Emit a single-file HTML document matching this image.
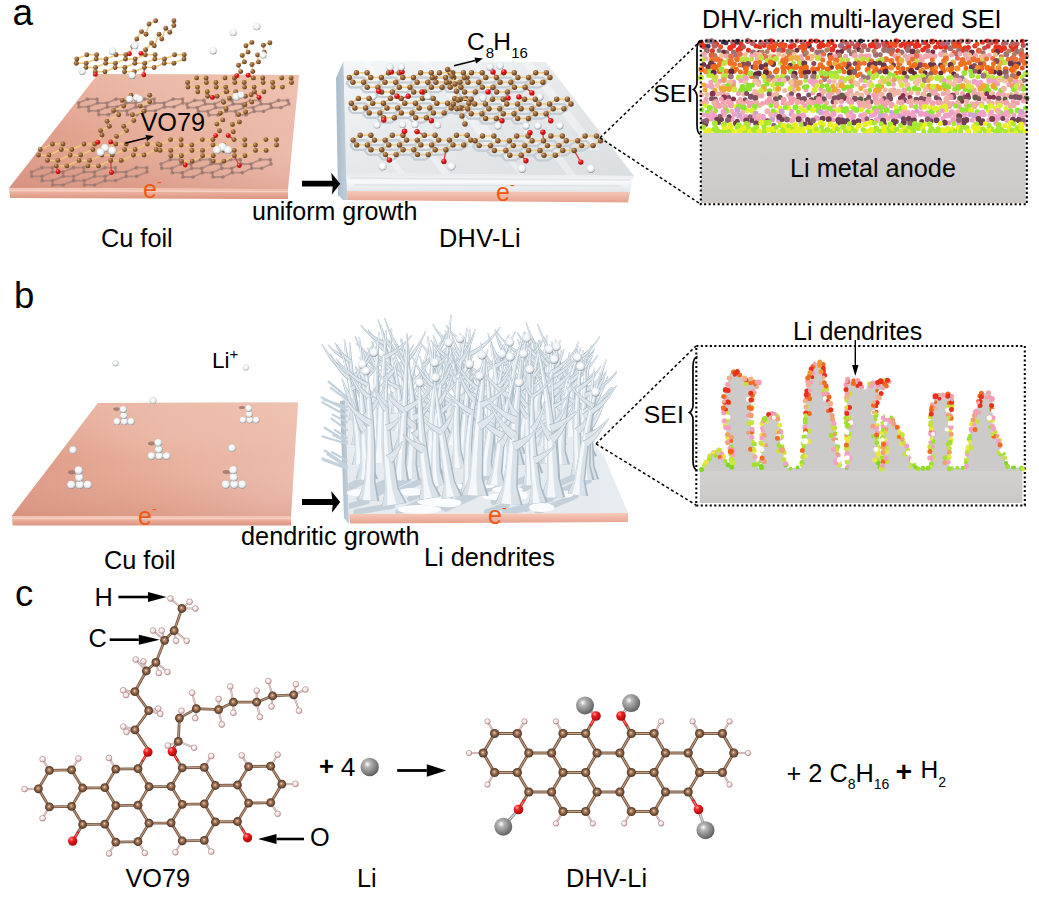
<!DOCTYPE html>
<html><head><meta charset="utf-8"><style>
html,body{margin:0;padding:0;background:#fff;width:1039px;height:902px;overflow:hidden}
svg{display:block}
text{font-family:"Liberation Sans", sans-serif}
</style></head><body>
<svg width="1039" height="902" viewBox="0 0 1039 902">
<defs>
<radialGradient id="gC" cx="0.5" cy="0.5" r="0.5" fx="0.45" fy="0.42"><stop offset="0" stop-color="#fff4e8"/><stop offset="0.18" stop-color="#c4987a"/><stop offset="0.55" stop-color="#8c6246"/><stop offset="1" stop-color="#4e3222"/></radialGradient>
<radialGradient id="gCa" cx="0.35" cy="0.3" r="0.75"><stop offset="0" stop-color="#d8a878"/><stop offset="0.4" stop-color="#9c6a3c"/><stop offset="1" stop-color="#5a381a"/></radialGradient>
<radialGradient id="gO" cx="0.35" cy="0.3" r="0.75"><stop offset="0" stop-color="#ff9a9a"/><stop offset="0.35" stop-color="#ee1c1c"/><stop offset="1" stop-color="#a00808"/></radialGradient>
<radialGradient id="gH" cx="0.35" cy="0.3" r="0.8"><stop offset="0" stop-color="#ffffff"/><stop offset="0.6" stop-color="#f4dede"/><stop offset="1" stop-color="#b89090"/></radialGradient>
<radialGradient id="gLi" cx="0.38" cy="0.35" r="0.7"><stop offset="0" stop-color="#ffffff"/><stop offset="0.25" stop-color="#b4b4b4"/><stop offset="1" stop-color="#5a5a5a"/></radialGradient>
<radialGradient id="gW" cx="0.45" cy="0.4" r="0.6"><stop offset="0" stop-color="#ffffff"/><stop offset="0.55" stop-color="#f2f5f7"/><stop offset="0.85" stop-color="#c4ccd2"/><stop offset="1" stop-color="#7a8088"/></radialGradient>
<linearGradient id="cuTop" x1="0" y1="0.3" x2="1" y2="0.5"><stop offset="0" stop-color="#dc9784"/><stop offset="0.55" stop-color="#e4a893"/><stop offset="1" stop-color="#ecbcac"/></linearGradient>
<linearGradient id="cuShade" x1="0" y1="0" x2="0" y2="1"><stop offset="0" stop-color="#f4cfc0" stop-opacity="0.45"/><stop offset="0.5" stop-color="#f4cfc0" stop-opacity="0"/><stop offset="1" stop-color="#c97d6a" stop-opacity="0.3"/></linearGradient>
<radialGradient id="cuHi" cx="0.55" cy="0.3" r="0.5"><stop offset="0" stop-color="#f6d0c0" stop-opacity="0.35"/><stop offset="1" stop-color="#f6d0c0" stop-opacity="0"/></radialGradient>
<linearGradient id="cuEdge" x1="0" y1="0" x2="0" y2="1"><stop offset="0" stop-color="#f4c8b8"/><stop offset="0.35" stop-color="#ecb29f"/><stop offset="1" stop-color="#da957f"/></linearGradient>
<linearGradient id="slabTop" x1="0" y1="0" x2="1" y2="1"><stop offset="0" stop-color="#f4f6f7"/><stop offset="0.5" stop-color="#e6e9eb"/><stop offset="1" stop-color="#dadee1"/></linearGradient>
<linearGradient id="slabFront" x1="0" y1="0" x2="0" y2="1"><stop offset="0" stop-color="#e4e8eb"/><stop offset="0.45" stop-color="#f8fafb"/><stop offset="1" stop-color="#dfe5e9"/></linearGradient>
<linearGradient id="slabSide" x1="0" y1="0" x2="1" y2="0"><stop offset="0" stop-color="#a9bccb"/><stop offset="1" stop-color="#c3d0da"/></linearGradient>
<linearGradient id="cuEdge2" x1="0" y1="0" x2="0" y2="1"><stop offset="0" stop-color="#f6cabb"/><stop offset="0.5" stop-color="#efb6a4"/><stop offset="1" stop-color="#e4a28e"/></linearGradient>
<linearGradient id="anode" x1="0" y1="0" x2="0" y2="1"><stop offset="0" stop-color="#d3d1d0"/><stop offset="1" stop-color="#cbc9c8"/></linearGradient>
</defs>
<polygon points="98,74 299,75 288,189 9,188" fill="url(#cuTop)"/>
<polygon points="98,74 299,75 288,189 9,188" fill="url(#cuShade)"/>
<polygon points="98,74 299,75 288,189 9,188" fill="url(#cuHi)"/>
<polygon points="9,188 288,189 288,199 10,198" fill="url(#cuEdge)"/>
<line x1="9" y1="190.5" x2="288" y2="191.5" stroke="#f8d8cc" stroke-width="1.5" opacity="0.8"/>
<polygon points="98,403 298,402.5 291,516 11.7,516" fill="url(#cuTop)"/>
<polygon points="98,403 298,402.5 291,516 11.7,516" fill="url(#cuShade)"/>
<polygon points="98,403 298,402.5 291,516 11.7,516" fill="url(#cuHi)"/>
<polygon points="11.7,516 291,516 291,525.5 12.7,525.5" fill="url(#cuEdge)"/>
<line x1="11.7" y1="518.5" x2="291" y2="518.5" stroke="#f8d8cc" stroke-width="1.5" opacity="0.8"/>
<clipPath id="plateA"><polygon points="98,74 299,75 288,189 9,188"/></clipPath><g clip-path="url(#plateA)">
<path d="M87.6 99.1L97.1 99.1M87.6 99.1L78.5 103M97.1 99.1L97.5 103M97.5 103L88.4 106.9M97.5 103L107 103M88.4 106.9L78.9 106.9M88.4 106.9L88.8 110.8M78.9 106.9L78.5 103M107 103L107.4 106.9M107 103L116.1 99.1M107.4 106.9L98.3 110.8M107.4 106.9L116.9 106.9M98.3 110.8L88.8 110.8M98.3 110.8L98.8 114.7M116.1 99.1L125.6 99.1M125.6 99.1L126 103M126 103L116.9 106.9M126 103L135.5 103M116.9 106.9L117.3 110.8M117.3 110.8L108.3 114.7M117.3 110.8L126.8 110.8M108.3 114.7L98.8 114.7M135.5 103L135.9 106.9M135.5 103L144.6 99.1M135.9 106.9L126.8 110.8M135.9 106.9L145.4 106.9M126.8 110.8L127.3 114.7M144.6 99.1L154.1 99.1M154.1 99.1L154.5 103M154.5 103L145.4 106.9M154.5 103L164 103M145.4 106.9L145.8 110.8M145.8 110.8L136.8 114.7M145.8 110.8L155.3 110.8M136.8 114.7L127.3 114.7M164 103L164.4 106.9M164 103L173.1 99.1M164.4 106.9L155.3 110.8M164.4 106.9L173.9 106.9M173.1 99.1L182.6 99.1M182.6 99.1L183 103M183 103L173.9 106.9" stroke="#a08078" stroke-width="1.8" opacity="0.75"/>
<path d="M87.6 99.1h0M97.1 99.1h0M97.5 103h0M88.4 106.9h0M78.9 106.9h0M78.5 103h0M107 103h0M107.4 106.9h0M98.3 110.8h0M88.8 110.8h0M116.1 99.1h0M125.6 99.1h0M126 103h0M116.9 106.9h0M117.3 110.8h0M108.3 114.7h0M98.8 114.7h0M135.5 103h0M135.9 106.9h0M126.8 110.8h0M144.6 99.1h0M154.1 99.1h0M154.5 103h0M145.4 106.9h0M145.8 110.8h0M136.8 114.7h0M127.3 114.7h0M164 103h0M164.4 106.9h0M155.3 110.8h0M173.1 99.1h0M182.6 99.1h0M183 103h0M173.9 106.9h0" stroke="#94746c" stroke-width="3.7" stroke-linecap="round" opacity="0.7"/>
<path d="M194.8 100.4L204.1 100.4M194.8 100.4L186.7 104M204.1 100.4L205.3 104M205.3 104L197.2 107.6M205.3 104L214.6 104M197.2 107.6L187.9 107.6M197.2 107.6L198.4 111.3M187.9 107.6L186.7 104M214.6 104L215.8 107.6M214.6 104L222.7 100.4M215.8 107.6L207.7 111.3M215.8 107.6L225.1 107.6M207.7 111.3L198.4 111.3M207.7 111.3L208.9 114.9M222.7 100.4L232 100.4M232 100.4L233.2 104M233.2 104L225.1 107.6M233.2 104L242.5 104M225.1 107.6L226.3 111.3M226.3 111.3L218.2 114.9M226.3 111.3L235.6 111.3M218.2 114.9L208.9 114.9M242.5 104L243.7 107.6M242.5 104L250.6 100.4M243.7 107.6L235.6 111.3M243.7 107.6L253 107.6M235.6 111.3L236.8 114.9M250.6 100.4L259.9 100.4M259.9 100.4L261.1 104M261.1 104L253 107.6M261.1 104L270.4 104M253 107.6L254.2 111.3M254.2 111.3L246.1 114.9M254.2 111.3L263.5 111.3M246.1 114.9L236.8 114.9M270.4 104L271.6 107.6M270.4 104L278.5 100.4M271.6 107.6L263.5 111.3M271.6 107.6L280.9 107.6M278.5 100.4L287.8 100.4M287.8 100.4L289 104M289 104L280.9 107.6" stroke="#a08078" stroke-width="1.8" opacity="0.75"/>
<path d="M194.8 100.4h0M204.1 100.4h0M205.3 104h0M197.2 107.6h0M187.9 107.6h0M186.7 104h0M214.6 104h0M215.8 107.6h0M207.7 111.3h0M198.4 111.3h0M222.7 100.4h0M232 100.4h0M233.2 104h0M225.1 107.6h0M226.3 111.3h0M218.2 114.9h0M208.9 114.9h0M242.5 104h0M243.7 107.6h0M235.6 111.3h0M250.6 100.4h0M259.9 100.4h0M261.1 104h0M253 107.6h0M254.2 111.3h0M246.1 114.9h0M236.8 114.9h0M270.4 104h0M271.6 107.6h0M263.5 111.3h0M278.5 100.4h0M287.8 100.4h0M289 104h0M280.9 107.6h0" stroke="#94746c" stroke-width="3.7" stroke-linecap="round" opacity="0.7"/>
<path d="M41.9 167.7L52.4 167.7M41.9 167.7L31.5 172M52.4 167.7L52.5 172M52.5 172L42.1 176.3M52.5 172L63 172M42.1 176.3L31.6 176.3M42.1 176.3L42.1 180.7M31.6 176.3L31.5 172M63 172L63.1 176.3M63 172L73.4 167.7M63.1 176.3L52.6 180.7M63.1 176.3L73.6 176.3M52.6 180.7L42.1 180.7M52.6 180.7L52.7 185M73.4 167.7L83.9 167.7M83.9 167.7L84 172M84 172L73.6 176.3M84 172L94.5 172M73.6 176.3L73.6 180.7M73.6 180.7L63.2 185M73.6 180.7L84.1 180.7M63.2 185L52.7 185M94.5 172L94.6 176.3M94.5 172L104.9 167.7M94.6 176.3L84.1 180.7M94.6 176.3L105.1 176.3M84.1 180.7L84.2 185M104.9 167.7L115.4 167.7M115.4 167.7L115.5 172M115.5 172L105.1 176.3M115.5 172L126 172M105.1 176.3L105.1 180.7M105.1 180.7L94.7 185M105.1 180.7L115.6 180.7M94.7 185L84.2 185M126 172L126.1 176.3M126 172L136.4 167.7M126.1 176.3L115.6 180.7M126.1 176.3L136.6 176.3M136.4 167.7L146.9 167.7M146.9 167.7L147 172M147 172L136.6 176.3" stroke="#a08078" stroke-width="1.8" opacity="0.75"/>
<path d="M41.9 167.7h0M52.4 167.7h0M52.5 172h0M42.1 176.3h0M31.6 176.3h0M31.5 172h0M63 172h0M63.1 176.3h0M52.6 180.7h0M42.1 180.7h0M73.4 167.7h0M83.9 167.7h0M84 172h0M73.6 176.3h0M73.6 180.7h0M63.2 185h0M52.7 185h0M94.5 172h0M94.6 176.3h0M84.1 180.7h0M104.9 167.7h0M115.4 167.7h0M115.5 172h0M105.1 176.3h0M105.1 180.7h0M94.7 185h0M84.2 185h0M126 172h0M126.1 176.3h0M115.6 180.7h0M136.4 167.7h0M146.9 167.7h0M147 172h0M136.6 176.3h0" stroke="#94746c" stroke-width="3.7" stroke-linecap="round" opacity="0.7"/>
<path d="M170.3 159.7L180.3 159.7M170.3 159.7L161 164M180.3 159.7L181 164M181 164L171.7 168.3M181 164L191 164M171.7 168.3L161.7 168.3M171.7 168.3L172.3 172.7M161.7 168.3L161 164M191 164L191.7 168.3M191 164L200.3 159.7M191.7 168.3L182.3 172.7M191.7 168.3L201.7 168.3M182.3 172.7L172.3 172.7M182.3 172.7L183 177M200.3 159.7L210.3 159.7M210.3 159.7L211 164M211 164L201.7 168.3M211 164L221 164M201.7 168.3L202.3 172.7M202.3 172.7L193 177M202.3 172.7L212.3 172.7M193 177L183 177M221 164L221.7 168.3M221 164L230.3 159.7M221.7 168.3L212.3 172.7M221.7 168.3L231.7 168.3M212.3 172.7L213 177M230.3 159.7L240.3 159.7M240.3 159.7L241 164M241 164L231.7 168.3M241 164L251 164M231.7 168.3L232.3 172.7M232.3 172.7L223 177M232.3 172.7L242.3 172.7M223 177L213 177M251 164L251.7 168.3M251 164L260.3 159.7M251.7 168.3L242.3 172.7M251.7 168.3L261.7 168.3M260.3 159.7L270.3 159.7M270.3 159.7L271 164M271 164L261.7 168.3" stroke="#a08078" stroke-width="1.8" opacity="0.75"/>
<path d="M170.3 159.7h0M180.3 159.7h0M181 164h0M171.7 168.3h0M161.7 168.3h0M161 164h0M191 164h0M191.7 168.3h0M182.3 172.7h0M172.3 172.7h0M200.3 159.7h0M210.3 159.7h0M211 164h0M201.7 168.3h0M202.3 172.7h0M193 177h0M183 177h0M221 164h0M221.7 168.3h0M212.3 172.7h0M230.3 159.7h0M240.3 159.7h0M241 164h0M231.7 168.3h0M232.3 172.7h0M223 177h0M213 177h0M251 164h0M251.7 168.3h0M242.3 172.7h0M260.3 159.7h0M270.3 159.7h0M271 164h0M261.7 168.3h0" stroke="#94746c" stroke-width="3.7" stroke-linecap="round" opacity="0.7"/>
</g>
<path d="M86.8 54.8L96.6 54.8M86.8 54.8L76.8 59M96.6 54.8L96.2 59M96.2 59L86.2 63.2M96.2 59L106 59M86.2 63.2L76.4 63.2M86.2 63.2L85.9 67.5M76.4 63.2L76.8 59M106 59L105.7 63.2M106 59L116.1 54.8M105.7 63.2L95.6 67.5M105.7 63.2L115.4 63.2M95.6 67.5L85.9 67.5M95.6 67.5L95.3 71.7M116.1 54.8L125.8 54.8M125.8 54.8L125.5 59M125.5 59L115.4 63.2M125.5 59L135.2 59M115.4 63.2L115.1 67.5M115.1 67.5L105 71.7M115.1 67.5L124.9 67.5M105 71.7L95.3 71.7M135.2 59L134.9 63.2M135.2 59L145.3 54.8M134.9 63.2L124.9 67.5M134.9 63.2L144.7 63.2M124.9 67.5L124.5 71.7M145.3 54.8L155.1 54.8M155.1 54.8L154.8 59M154.8 59L144.7 63.2M154.8 59L164.5 59M144.7 63.2L144.4 67.5M144.4 67.5L134.3 71.7M144.4 67.5L154.1 67.5M134.3 71.7L124.5 71.7M164.5 59L164.2 63.2M164.5 59L174.6 54.8M164.2 63.2L154.1 67.5M164.2 63.2L173.9 63.2M174.6 54.8L184.3 54.8M184.3 54.8L184 59M184 59L173.9 63.2M129.4 53.8L132.8 46.4M132.8 46.4L136.8 39M136.8 39L141.5 31.6M141.5 31.6L146 34.3M146 34.3L149 24M149 24L155.7 20.8M140.9 53.4L145.6 49.8M145.6 49.8L151.6 43M151.6 43L154.3 45.7M154.3 45.7L159 34.3M159 34.3L161.8 39M161.8 39L165.8 28.2M165.8 28.2L169.8 32.2M169.8 32.2L173.9 25.5M173.9 25.5L173.9 20.8" stroke="#f0c878" stroke-width="1.4"/>
<path d="M129.4 53.8L125.8 54.8M140.9 53.4L145.3 54.8M95.3 74.4L95.3 71.7M143.8 74.7L144.4 67.5" stroke="#e04040" stroke-width="1.3"/>
<circle cx="86.8" cy="54.8" r="2.45" fill="url(#gCa)"/>
<circle cx="96.6" cy="54.8" r="2.45" fill="url(#gCa)"/>
<circle cx="96.2" cy="59" r="2.45" fill="url(#gCa)"/>
<circle cx="86.2" cy="63.2" r="2.45" fill="url(#gCa)"/>
<circle cx="76.4" cy="63.2" r="2.45" fill="url(#gCa)"/>
<circle cx="76.8" cy="59" r="2.45" fill="url(#gCa)"/>
<circle cx="106" cy="59" r="2.45" fill="url(#gCa)"/>
<circle cx="105.7" cy="63.2" r="2.45" fill="url(#gCa)"/>
<circle cx="95.6" cy="67.5" r="2.45" fill="url(#gCa)"/>
<circle cx="85.9" cy="67.5" r="2.45" fill="url(#gCa)"/>
<circle cx="116.1" cy="54.8" r="2.45" fill="url(#gCa)"/>
<circle cx="125.8" cy="54.8" r="2.45" fill="url(#gCa)"/>
<circle cx="125.5" cy="59" r="2.45" fill="url(#gCa)"/>
<circle cx="115.4" cy="63.2" r="2.45" fill="url(#gCa)"/>
<circle cx="115.1" cy="67.5" r="2.45" fill="url(#gCa)"/>
<circle cx="105" cy="71.7" r="2.45" fill="url(#gCa)"/>
<circle cx="95.3" cy="71.7" r="2.45" fill="url(#gCa)"/>
<circle cx="135.2" cy="59" r="2.45" fill="url(#gCa)"/>
<circle cx="134.9" cy="63.2" r="2.45" fill="url(#gCa)"/>
<circle cx="124.9" cy="67.5" r="2.45" fill="url(#gCa)"/>
<circle cx="145.3" cy="54.8" r="2.45" fill="url(#gCa)"/>
<circle cx="155.1" cy="54.8" r="2.45" fill="url(#gCa)"/>
<circle cx="154.8" cy="59" r="2.45" fill="url(#gCa)"/>
<circle cx="144.7" cy="63.2" r="2.45" fill="url(#gCa)"/>
<circle cx="144.4" cy="67.5" r="2.45" fill="url(#gCa)"/>
<circle cx="134.3" cy="71.7" r="2.45" fill="url(#gCa)"/>
<circle cx="124.5" cy="71.7" r="2.45" fill="url(#gCa)"/>
<circle cx="164.5" cy="59" r="2.45" fill="url(#gCa)"/>
<circle cx="164.2" cy="63.2" r="2.45" fill="url(#gCa)"/>
<circle cx="154.1" cy="67.5" r="2.45" fill="url(#gCa)"/>
<circle cx="174.6" cy="54.8" r="2.45" fill="url(#gCa)"/>
<circle cx="184.3" cy="54.8" r="2.45" fill="url(#gCa)"/>
<circle cx="184" cy="59" r="2.45" fill="url(#gCa)"/>
<circle cx="173.9" cy="63.2" r="2.45" fill="url(#gCa)"/>
<circle cx="132.8" cy="46.4" r="2.45" fill="url(#gCa)"/>
<circle cx="136.8" cy="39" r="2.45" fill="url(#gCa)"/>
<circle cx="141.5" cy="31.6" r="2.45" fill="url(#gCa)"/>
<circle cx="146" cy="34.3" r="2.45" fill="url(#gCa)"/>
<circle cx="149" cy="24" r="2.45" fill="url(#gCa)"/>
<circle cx="155.7" cy="20.8" r="2.45" fill="url(#gCa)"/>
<circle cx="145.6" cy="49.8" r="2.45" fill="url(#gCa)"/>
<circle cx="151.6" cy="43" r="2.45" fill="url(#gCa)"/>
<circle cx="154.3" cy="45.7" r="2.45" fill="url(#gCa)"/>
<circle cx="159" cy="34.3" r="2.45" fill="url(#gCa)"/>
<circle cx="161.8" cy="39" r="2.45" fill="url(#gCa)"/>
<circle cx="165.8" cy="28.2" r="2.45" fill="url(#gCa)"/>
<circle cx="169.8" cy="32.2" r="2.45" fill="url(#gCa)"/>
<circle cx="173.9" cy="25.5" r="2.45" fill="url(#gCa)"/>
<circle cx="173.9" cy="20.8" r="2.45" fill="url(#gCa)"/>
<circle cx="129.4" cy="53.8" r="2.45" fill="url(#gO)"/>
<circle cx="140.9" cy="53.4" r="2.45" fill="url(#gO)"/>
<circle cx="95.3" cy="74.4" r="2.45" fill="url(#gO)"/>
<circle cx="143.8" cy="74.7" r="2.45" fill="url(#gO)"/>
<circle cx="112.6" cy="51.1" r="3.6" fill="url(#gW)"/>
<circle cx="82.2" cy="71.3" r="3.6" fill="url(#gW)"/>
<circle cx="134.8" cy="45.7" r="3.6" fill="url(#gW)"/>
<circle cx="132.1" cy="75.4" r="3.6" fill="url(#gW)"/>
<path d="M196.6 77.9L206.1 77.9M196.6 77.9L187.6 82.5M206.1 77.9L206.4 82.5M206.4 82.5L197.4 87.1M206.4 82.5L215.9 82.5M197.4 87.1L187.9 87.1M197.4 87.1L197.8 91.7M187.9 87.1L187.6 82.5M215.9 82.5L216.3 87.1M215.9 82.5L225 77.9M216.3 87.1L207.2 91.7M216.3 87.1L225.7 87.1M207.2 91.7L197.8 91.7M207.2 91.7L207.6 96.3M225 77.9L234.4 77.9M234.4 77.9L234.8 82.5M234.8 82.5L225.7 87.1M234.8 82.5L244.2 82.5M225.7 87.1L226.1 91.7M226.1 91.7L217.1 96.3M226.1 91.7L235.6 91.7M217.1 96.3L207.6 96.3M244.2 82.5L244.6 87.1M244.2 82.5L253.3 77.9M244.6 87.1L235.6 91.7M244.6 87.1L254.1 87.1M235.6 91.7L236 96.3M253.3 77.9L262.8 77.9M262.8 77.9L263.1 82.5M263.1 82.5L254.1 87.1M263.1 82.5L272.6 82.5M254.1 87.1L254.5 91.7M254.5 91.7L245.4 96.3M254.5 91.7L263.9 91.7M245.4 96.3L236 96.3M272.6 82.5L273 87.1M272.6 82.5L281.7 77.9M273 87.1L263.9 91.7M273 87.1L282.4 87.1M281.7 77.9L291.1 77.9M291.1 77.9L291.5 82.5M291.5 82.5L282.4 87.1M236.8 75.7L240.7 71.6M240.7 71.6L238.5 65.2M238.5 65.2L244.4 61.9M244.4 61.9L242.2 55.4M242.2 55.4L248.1 52.1M248.1 52.1L245.9 45.7M245.9 45.7L251.9 42.4M248.1 75.2L252.8 71.5M252.8 71.5L251.9 64.5M251.9 64.5L258.5 61.9M258.5 61.9L257.6 54.9M257.6 54.9L264.2 52.3M264.2 52.3L263.3 45.3M263.3 45.3L269.9 42.7" stroke="#f0c878" stroke-width="1.4"/>
<path d="M236.8 75.7L234.4 77.9M248.1 75.2L253.3 77.9M212.4 97.4L217.1 96.3M259 97.4L254.5 91.7" stroke="#e04040" stroke-width="1.3"/>
<circle cx="196.6" cy="77.9" r="2.45" fill="url(#gCa)"/>
<circle cx="206.1" cy="77.9" r="2.45" fill="url(#gCa)"/>
<circle cx="206.4" cy="82.5" r="2.45" fill="url(#gCa)"/>
<circle cx="197.4" cy="87.1" r="2.45" fill="url(#gCa)"/>
<circle cx="187.9" cy="87.1" r="2.45" fill="url(#gCa)"/>
<circle cx="187.6" cy="82.5" r="2.45" fill="url(#gCa)"/>
<circle cx="215.9" cy="82.5" r="2.45" fill="url(#gCa)"/>
<circle cx="216.3" cy="87.1" r="2.45" fill="url(#gCa)"/>
<circle cx="207.2" cy="91.7" r="2.45" fill="url(#gCa)"/>
<circle cx="197.8" cy="91.7" r="2.45" fill="url(#gCa)"/>
<circle cx="225" cy="77.9" r="2.45" fill="url(#gCa)"/>
<circle cx="234.4" cy="77.9" r="2.45" fill="url(#gCa)"/>
<circle cx="234.8" cy="82.5" r="2.45" fill="url(#gCa)"/>
<circle cx="225.7" cy="87.1" r="2.45" fill="url(#gCa)"/>
<circle cx="226.1" cy="91.7" r="2.45" fill="url(#gCa)"/>
<circle cx="217.1" cy="96.3" r="2.45" fill="url(#gCa)"/>
<circle cx="207.6" cy="96.3" r="2.45" fill="url(#gCa)"/>
<circle cx="244.2" cy="82.5" r="2.45" fill="url(#gCa)"/>
<circle cx="244.6" cy="87.1" r="2.45" fill="url(#gCa)"/>
<circle cx="235.6" cy="91.7" r="2.45" fill="url(#gCa)"/>
<circle cx="253.3" cy="77.9" r="2.45" fill="url(#gCa)"/>
<circle cx="262.8" cy="77.9" r="2.45" fill="url(#gCa)"/>
<circle cx="263.1" cy="82.5" r="2.45" fill="url(#gCa)"/>
<circle cx="254.1" cy="87.1" r="2.45" fill="url(#gCa)"/>
<circle cx="254.5" cy="91.7" r="2.45" fill="url(#gCa)"/>
<circle cx="245.4" cy="96.3" r="2.45" fill="url(#gCa)"/>
<circle cx="236" cy="96.3" r="2.45" fill="url(#gCa)"/>
<circle cx="272.6" cy="82.5" r="2.45" fill="url(#gCa)"/>
<circle cx="273" cy="87.1" r="2.45" fill="url(#gCa)"/>
<circle cx="263.9" cy="91.7" r="2.45" fill="url(#gCa)"/>
<circle cx="281.7" cy="77.9" r="2.45" fill="url(#gCa)"/>
<circle cx="291.1" cy="77.9" r="2.45" fill="url(#gCa)"/>
<circle cx="291.5" cy="82.5" r="2.45" fill="url(#gCa)"/>
<circle cx="282.4" cy="87.1" r="2.45" fill="url(#gCa)"/>
<circle cx="240.7" cy="71.6" r="2.45" fill="url(#gCa)"/>
<circle cx="238.5" cy="65.2" r="2.45" fill="url(#gCa)"/>
<circle cx="244.4" cy="61.9" r="2.45" fill="url(#gCa)"/>
<circle cx="242.2" cy="55.4" r="2.45" fill="url(#gCa)"/>
<circle cx="248.1" cy="52.1" r="2.45" fill="url(#gCa)"/>
<circle cx="245.9" cy="45.7" r="2.45" fill="url(#gCa)"/>
<circle cx="251.9" cy="42.4" r="2.45" fill="url(#gCa)"/>
<circle cx="252.8" cy="71.5" r="2.45" fill="url(#gCa)"/>
<circle cx="251.9" cy="64.5" r="2.45" fill="url(#gCa)"/>
<circle cx="258.5" cy="61.9" r="2.45" fill="url(#gCa)"/>
<circle cx="257.6" cy="54.9" r="2.45" fill="url(#gCa)"/>
<circle cx="264.2" cy="52.3" r="2.45" fill="url(#gCa)"/>
<circle cx="263.3" cy="45.3" r="2.45" fill="url(#gCa)"/>
<circle cx="269.9" cy="42.7" r="2.45" fill="url(#gCa)"/>
<circle cx="236.8" cy="75.7" r="2.45" fill="url(#gO)"/>
<circle cx="248.1" cy="75.2" r="2.45" fill="url(#gO)"/>
<circle cx="212.4" cy="97.4" r="2.45" fill="url(#gO)"/>
<circle cx="259" cy="97.4" r="2.45" fill="url(#gO)"/>
<circle cx="213.2" cy="50.8" r="3.6" fill="url(#gW)"/>
<circle cx="233.2" cy="32.5" r="3.6" fill="url(#gW)"/>
<circle cx="256.8" cy="26.7" r="3.6" fill="url(#gW)"/>
<circle cx="263" cy="55" r="3.6" fill="url(#gW)"/>
<circle cx="236.5" cy="96.5" r="4" fill="url(#gW)"/>
<circle cx="241" cy="95" r="3.5" fill="url(#gW)"/>
<path d="M52.4 144L62.9 144M52.4 144L40.2 149.5M62.9 144L61.2 149.5M61.2 149.5L49 155M61.2 149.5L71.8 149.5M49 155L38.5 155M49 155L47.4 160.4M38.5 155L40.2 149.5M71.8 149.5L70.1 155M71.8 149.5L84 144M70.1 155L57.9 160.4M70.1 155L80.7 155M57.9 160.4L47.4 160.4M57.9 160.4L56.3 165.9M84 144L94.6 144M94.6 144L92.9 149.5M92.9 149.5L80.7 155M92.9 149.5L103.5 149.5M80.7 155L79 160.4M79 160.4L66.8 165.9M79 160.4L89.6 160.4M66.8 165.9L56.3 165.9M103.5 149.5L101.8 155M103.5 149.5L115.7 144M101.8 155L89.6 160.4M101.8 155L112.3 155M89.6 160.4L87.9 165.9M115.7 144L126.2 144M126.2 144L124.6 149.5M124.6 149.5L112.3 155M124.6 149.5L135.1 149.5M112.3 155L110.7 160.4M110.7 160.4L98.5 165.9M110.7 160.4L121.2 160.4M98.5 165.9L87.9 165.9M135.1 149.5L133.4 155M135.1 149.5L147.3 144M133.4 155L121.2 160.4M133.4 155L144 155M147.3 144L157.9 144M157.9 144L156.2 149.5M156.2 149.5L144 155M97.8 142.2L102 135M102 135L100.6 130.6M100.6 130.6L109.3 126.3M109.3 126.3L107.1 121.3M107.1 121.3L118.7 114.8M118.7 114.8L113.6 110.5M113.6 110.5L123.7 106.1M123.7 106.1L122.3 100.4M122.3 100.4L131 95.3M110.7 141.9L116.5 136.4M116.5 136.4L126.6 130.6M126.6 130.6L123.7 126.3M123.7 126.3L133.8 120.6M133.8 120.6L132.4 114.8M132.4 114.8L143.9 111.2M143.9 111.2L140.3 106.1M140.3 106.1L149.7 101.8M149.7 101.8L149.7 95.3" stroke="#f0c878" stroke-width="1.4"/>
<path d="M97.8 142.2L94.6 144M110.7 141.9L115.7 144M58.1 171.7L56.3 165.9M111.5 172.5L110.7 160.4" stroke="#e04040" stroke-width="1.3"/>
<circle cx="52.4" cy="144" r="2.45" fill="url(#gCa)"/>
<circle cx="62.9" cy="144" r="2.45" fill="url(#gCa)"/>
<circle cx="61.2" cy="149.5" r="2.45" fill="url(#gCa)"/>
<circle cx="49" cy="155" r="2.45" fill="url(#gCa)"/>
<circle cx="38.5" cy="155" r="2.45" fill="url(#gCa)"/>
<circle cx="40.2" cy="149.5" r="2.45" fill="url(#gCa)"/>
<circle cx="71.8" cy="149.5" r="2.45" fill="url(#gCa)"/>
<circle cx="70.1" cy="155" r="2.45" fill="url(#gCa)"/>
<circle cx="57.9" cy="160.4" r="2.45" fill="url(#gCa)"/>
<circle cx="47.4" cy="160.4" r="2.45" fill="url(#gCa)"/>
<circle cx="84" cy="144" r="2.45" fill="url(#gCa)"/>
<circle cx="94.6" cy="144" r="2.45" fill="url(#gCa)"/>
<circle cx="92.9" cy="149.5" r="2.45" fill="url(#gCa)"/>
<circle cx="80.7" cy="155" r="2.45" fill="url(#gCa)"/>
<circle cx="79" cy="160.4" r="2.45" fill="url(#gCa)"/>
<circle cx="66.8" cy="165.9" r="2.45" fill="url(#gCa)"/>
<circle cx="56.3" cy="165.9" r="2.45" fill="url(#gCa)"/>
<circle cx="103.5" cy="149.5" r="2.45" fill="url(#gCa)"/>
<circle cx="101.8" cy="155" r="2.45" fill="url(#gCa)"/>
<circle cx="89.6" cy="160.4" r="2.45" fill="url(#gCa)"/>
<circle cx="115.7" cy="144" r="2.45" fill="url(#gCa)"/>
<circle cx="126.2" cy="144" r="2.45" fill="url(#gCa)"/>
<circle cx="124.6" cy="149.5" r="2.45" fill="url(#gCa)"/>
<circle cx="112.3" cy="155" r="2.45" fill="url(#gCa)"/>
<circle cx="110.7" cy="160.4" r="2.45" fill="url(#gCa)"/>
<circle cx="98.5" cy="165.9" r="2.45" fill="url(#gCa)"/>
<circle cx="87.9" cy="165.9" r="2.45" fill="url(#gCa)"/>
<circle cx="135.1" cy="149.5" r="2.45" fill="url(#gCa)"/>
<circle cx="133.4" cy="155" r="2.45" fill="url(#gCa)"/>
<circle cx="121.2" cy="160.4" r="2.45" fill="url(#gCa)"/>
<circle cx="147.3" cy="144" r="2.45" fill="url(#gCa)"/>
<circle cx="157.9" cy="144" r="2.45" fill="url(#gCa)"/>
<circle cx="156.2" cy="149.5" r="2.45" fill="url(#gCa)"/>
<circle cx="144" cy="155" r="2.45" fill="url(#gCa)"/>
<circle cx="102" cy="135" r="2.45" fill="url(#gCa)"/>
<circle cx="100.6" cy="130.6" r="2.45" fill="url(#gCa)"/>
<circle cx="109.3" cy="126.3" r="2.45" fill="url(#gCa)"/>
<circle cx="107.1" cy="121.3" r="2.45" fill="url(#gCa)"/>
<circle cx="118.7" cy="114.8" r="2.45" fill="url(#gCa)"/>
<circle cx="113.6" cy="110.5" r="2.45" fill="url(#gCa)"/>
<circle cx="123.7" cy="106.1" r="2.45" fill="url(#gCa)"/>
<circle cx="122.3" cy="100.4" r="2.45" fill="url(#gCa)"/>
<circle cx="131" cy="95.3" r="2.45" fill="url(#gCa)"/>
<circle cx="116.5" cy="136.4" r="2.45" fill="url(#gCa)"/>
<circle cx="126.6" cy="130.6" r="2.45" fill="url(#gCa)"/>
<circle cx="123.7" cy="126.3" r="2.45" fill="url(#gCa)"/>
<circle cx="133.8" cy="120.6" r="2.45" fill="url(#gCa)"/>
<circle cx="132.4" cy="114.8" r="2.45" fill="url(#gCa)"/>
<circle cx="143.9" cy="111.2" r="2.45" fill="url(#gCa)"/>
<circle cx="140.3" cy="106.1" r="2.45" fill="url(#gCa)"/>
<circle cx="149.7" cy="101.8" r="2.45" fill="url(#gCa)"/>
<circle cx="149.7" cy="95.3" r="2.45" fill="url(#gCa)"/>
<circle cx="97.8" cy="142.2" r="2.45" fill="url(#gO)"/>
<circle cx="110.7" cy="141.9" r="2.45" fill="url(#gO)"/>
<circle cx="58.1" cy="171.7" r="2.45" fill="url(#gO)"/>
<circle cx="111.5" cy="172.5" r="2.45" fill="url(#gO)"/>
<circle cx="105" cy="148" r="4" fill="url(#gW)"/>
<circle cx="100.6" cy="152.3" r="4" fill="url(#gW)"/>
<circle cx="112.2" cy="150.8" r="4" fill="url(#gW)"/>
<circle cx="129.5" cy="99" r="3.5" fill="url(#gW)"/>
<circle cx="136.7" cy="97.5" r="3.5" fill="url(#gW)"/>
<circle cx="139.6" cy="99" r="3.5" fill="url(#gW)"/>
<path d="M170.5 139.6L181.1 139.6M170.5 139.6L160 145M181.1 139.6L181.2 145M181.2 145L170.7 150.4M181.2 145L191.8 145M170.7 150.4L160.1 150.4M170.7 150.4L170.8 155.7M160.1 150.4L160 145M191.8 145L191.9 150.4M191.8 145L202.3 139.6M191.9 150.4L181.4 155.7M191.9 150.4L202.5 150.4M181.4 155.7L170.8 155.7M181.4 155.7L181.5 161.1M202.3 139.6L212.9 139.6M212.9 139.6L213 145M213 145L202.5 150.4M213 145L223.6 145M202.5 150.4L202.6 155.7M202.6 155.7L192.1 161.1M202.6 155.7L213.2 155.7M192.1 161.1L181.5 161.1M223.6 145L223.7 150.4M223.6 145L234.1 139.6M223.7 150.4L213.2 155.7M223.7 150.4L234.3 150.4M213.2 155.7L213.3 161.1M234.1 139.6L244.7 139.6M244.7 139.6L244.8 145M244.8 145L234.3 150.4M244.8 145L255.4 145M234.3 150.4L234.4 155.7M234.4 155.7L223.9 161.1M234.4 155.7L245 155.7M223.9 161.1L213.3 161.1M255.4 145L255.5 150.4M255.4 145L265.9 139.6M255.5 150.4L245 155.7M255.5 150.4L266.1 150.4M265.9 139.6L276.5 139.6M276.5 139.6L276.6 145M276.6 145L266.1 150.4M215.7 135.6L219.5 130.8M219.5 130.8L216.9 124.1M216.9 124.1L222.8 119.9M222.8 119.9L220.2 113.2M220.2 113.2L226.1 109M226.1 109L223.6 102.3M223.6 102.3L229.4 98.1M229.4 98.1L226.9 91.4M228.2 135.6L233.2 131.8M233.2 131.8L232.5 124.5M232.5 124.5L239.4 121.9M239.4 121.9L238.7 114.6M238.7 114.6L245.6 112M245.6 112L244.9 104.7M244.9 104.7L251.8 102.1M251.8 102.1L251.1 94.8" stroke="#f0c878" stroke-width="1.4"/>
<path d="M215.7 135.6L212.9 139.6M228.2 135.6L234.1 139.6M185.3 165L181.5 161.1M239.3 165.6L234.4 155.7" stroke="#e04040" stroke-width="1.3"/>
<circle cx="170.5" cy="139.6" r="2.45" fill="url(#gCa)"/>
<circle cx="181.1" cy="139.6" r="2.45" fill="url(#gCa)"/>
<circle cx="181.2" cy="145" r="2.45" fill="url(#gCa)"/>
<circle cx="170.7" cy="150.4" r="2.45" fill="url(#gCa)"/>
<circle cx="160.1" cy="150.4" r="2.45" fill="url(#gCa)"/>
<circle cx="160" cy="145" r="2.45" fill="url(#gCa)"/>
<circle cx="191.8" cy="145" r="2.45" fill="url(#gCa)"/>
<circle cx="191.9" cy="150.4" r="2.45" fill="url(#gCa)"/>
<circle cx="181.4" cy="155.7" r="2.45" fill="url(#gCa)"/>
<circle cx="170.8" cy="155.7" r="2.45" fill="url(#gCa)"/>
<circle cx="202.3" cy="139.6" r="2.45" fill="url(#gCa)"/>
<circle cx="212.9" cy="139.6" r="2.45" fill="url(#gCa)"/>
<circle cx="213" cy="145" r="2.45" fill="url(#gCa)"/>
<circle cx="202.5" cy="150.4" r="2.45" fill="url(#gCa)"/>
<circle cx="202.6" cy="155.7" r="2.45" fill="url(#gCa)"/>
<circle cx="192.1" cy="161.1" r="2.45" fill="url(#gCa)"/>
<circle cx="181.5" cy="161.1" r="2.45" fill="url(#gCa)"/>
<circle cx="223.6" cy="145" r="2.45" fill="url(#gCa)"/>
<circle cx="223.7" cy="150.4" r="2.45" fill="url(#gCa)"/>
<circle cx="213.2" cy="155.7" r="2.45" fill="url(#gCa)"/>
<circle cx="234.1" cy="139.6" r="2.45" fill="url(#gCa)"/>
<circle cx="244.7" cy="139.6" r="2.45" fill="url(#gCa)"/>
<circle cx="244.8" cy="145" r="2.45" fill="url(#gCa)"/>
<circle cx="234.3" cy="150.4" r="2.45" fill="url(#gCa)"/>
<circle cx="234.4" cy="155.7" r="2.45" fill="url(#gCa)"/>
<circle cx="223.9" cy="161.1" r="2.45" fill="url(#gCa)"/>
<circle cx="213.3" cy="161.1" r="2.45" fill="url(#gCa)"/>
<circle cx="255.4" cy="145" r="2.45" fill="url(#gCa)"/>
<circle cx="255.5" cy="150.4" r="2.45" fill="url(#gCa)"/>
<circle cx="245" cy="155.7" r="2.45" fill="url(#gCa)"/>
<circle cx="265.9" cy="139.6" r="2.45" fill="url(#gCa)"/>
<circle cx="276.5" cy="139.6" r="2.45" fill="url(#gCa)"/>
<circle cx="276.6" cy="145" r="2.45" fill="url(#gCa)"/>
<circle cx="266.1" cy="150.4" r="2.45" fill="url(#gCa)"/>
<circle cx="219.5" cy="130.8" r="2.45" fill="url(#gCa)"/>
<circle cx="216.9" cy="124.1" r="2.45" fill="url(#gCa)"/>
<circle cx="222.8" cy="119.9" r="2.45" fill="url(#gCa)"/>
<circle cx="220.2" cy="113.2" r="2.45" fill="url(#gCa)"/>
<circle cx="226.1" cy="109" r="2.45" fill="url(#gCa)"/>
<circle cx="223.6" cy="102.3" r="2.45" fill="url(#gCa)"/>
<circle cx="229.4" cy="98.1" r="2.45" fill="url(#gCa)"/>
<circle cx="226.9" cy="91.4" r="2.45" fill="url(#gCa)"/>
<circle cx="233.2" cy="131.8" r="2.45" fill="url(#gCa)"/>
<circle cx="232.5" cy="124.5" r="2.45" fill="url(#gCa)"/>
<circle cx="239.4" cy="121.9" r="2.45" fill="url(#gCa)"/>
<circle cx="238.7" cy="114.6" r="2.45" fill="url(#gCa)"/>
<circle cx="245.6" cy="112" r="2.45" fill="url(#gCa)"/>
<circle cx="244.9" cy="104.7" r="2.45" fill="url(#gCa)"/>
<circle cx="251.8" cy="102.1" r="2.45" fill="url(#gCa)"/>
<circle cx="251.1" cy="94.8" r="2.45" fill="url(#gCa)"/>
<circle cx="215.7" cy="135.6" r="2.45" fill="url(#gO)"/>
<circle cx="228.2" cy="135.6" r="2.45" fill="url(#gO)"/>
<circle cx="185.3" cy="165" r="2.45" fill="url(#gO)"/>
<circle cx="239.3" cy="165.6" r="2.45" fill="url(#gO)"/>
<circle cx="222.5" cy="147" r="4.2" fill="url(#gW)"/>
<circle cx="217" cy="150" r="4" fill="url(#gW)"/>
<circle cx="228" cy="150" r="4" fill="url(#gW)"/>
<ellipse cx="116.5" cy="409.1" rx="3.3" ry="1.8" fill="#9a7068" opacity="0.8"/>
<circle cx="117" cy="421.6" r="3.5" fill="url(#gW)"/>
<circle cx="131" cy="421.6" r="3.5" fill="url(#gW)"/>
<circle cx="124.3" cy="421.6" r="3.5" fill="url(#gW)"/>
<circle cx="123.7" cy="415.5" r="3.5" fill="url(#gW)"/>
<circle cx="123.2" cy="409.4" r="3.5" fill="url(#gW)"/>
<ellipse cx="242" cy="407.5" rx="3.1" ry="1.6" fill="#9a7068" opacity="0.8"/>
<circle cx="242.9" cy="420" r="3.3" fill="url(#gW)"/>
<circle cx="256.1" cy="420" r="3.3" fill="url(#gW)"/>
<circle cx="249.8" cy="420" r="3.3" fill="url(#gW)"/>
<circle cx="249.2" cy="414.2" r="3.3" fill="url(#gW)"/>
<circle cx="248.7" cy="408.4" r="3.3" fill="url(#gW)"/>
<ellipse cx="151.5" cy="443.5" rx="3.6" ry="1.9" fill="#9a7068" opacity="0.8"/>
<circle cx="151.4" cy="456" r="3.8" fill="url(#gW)"/>
<circle cx="166.6" cy="456" r="3.8" fill="url(#gW)"/>
<circle cx="159.3" cy="456" r="3.8" fill="url(#gW)"/>
<circle cx="158.7" cy="449.4" r="3.8" fill="url(#gW)"/>
<circle cx="158.2" cy="442.7" r="3.8" fill="url(#gW)"/>
<ellipse cx="72" cy="472.3" rx="3.9" ry="2" fill="#9a7068" opacity="0.8"/>
<circle cx="71.3" cy="484.8" r="4.1" fill="url(#gW)"/>
<circle cx="87.7" cy="484.8" r="4.1" fill="url(#gW)"/>
<circle cx="79.8" cy="484.8" r="4.1" fill="url(#gW)"/>
<circle cx="79.2" cy="477.6" r="4.1" fill="url(#gW)"/>
<circle cx="78.7" cy="470.4" r="4.1" fill="url(#gW)"/>
<ellipse cx="226.5" cy="472" rx="3.9" ry="2" fill="#9a7068" opacity="0.8"/>
<circle cx="225.8" cy="484.5" r="4.1" fill="url(#gW)"/>
<circle cx="242.2" cy="484.5" r="4.1" fill="url(#gW)"/>
<circle cx="234.3" cy="484.5" r="4.1" fill="url(#gW)"/>
<circle cx="233.7" cy="477.3" r="4.1" fill="url(#gW)"/>
<circle cx="233.2" cy="470.1" r="4.1" fill="url(#gW)"/>
<circle cx="153" cy="400.6" r="3.4" fill="url(#gW)" stroke="#c8ccd0" stroke-width="0.4"/>
<circle cx="73" cy="450" r="3.8" fill="url(#gW)" stroke="#c8ccd0" stroke-width="0.4"/>
<circle cx="232" cy="448" r="3.8" fill="url(#gW)" stroke="#c8ccd0" stroke-width="0.4"/>
<circle cx="115.5" cy="363.3" r="3" fill="url(#gW)" stroke="#c8ccd0" stroke-width="0.4"/>
<circle cx="246" cy="367.6" r="2.8" fill="url(#gW)" stroke="#c8ccd0" stroke-width="0.4"/>
<polygon points="336,78 343.5,61 348,200 343,200 338,195" fill="url(#slabSide)"/>
<polygon points="343.5,61 546,62 634,176 346,173" fill="url(#slabTop)"/>
<clipPath id="slabTopClip"><polygon points="343.5,61 546,62 634,176 346,173"/></clipPath><g clip-path="url(#slabTopClip)" opacity="0.35">
<polygon points="360,58 366,58 436,148 430,148" fill="#ffffff"/>
<polygon points="420,60 429,60 499,150 490,150" fill="#ffffff"/>
<polygon points="470,62 475,62 545,152 540,152" fill="#ffffff"/>
<polygon points="520,60 530,60 600,150 590,150" fill="#ffffff"/>
<polygon points="560,80 567,80 637,170 630,170" fill="#ffffff"/>
<polygon points="400,120 408,120 478,210 470,210" fill="#ffffff"/>
<polygon points="480,125 486,125 556,215 550,215" fill="#ffffff"/>
<polygon points="540,140 549,140 619,230 610,230" fill="#ffffff"/>
<polygon points="380,150 387,150 457,240 450,240" fill="#ffffff"/>
</g>
<polygon points="346,173 634,176 630,192 347,191" fill="url(#slabFront)"/>
<path d="M350,178L630,180M355,185L620,186" stroke="#d8dee2" stroke-width="1.5" opacity="0.7"/>
<polygon points="347,191 630,192 628,202.5 348,200" fill="url(#cuEdge2)"/>
<path d="M353.4 77.7L364.1 77.7M353.4 77.7L346.3 82.5M364.1 77.7L367.7 82.5M367.7 82.5L360.6 87.3M367.7 82.5L378.4 82.5M360.6 87.3L349.9 87.3M360.6 87.3L364.2 92.2M349.9 87.3L346.3 82.5M378.4 82.5L382 87.3M378.4 82.5L385.5 77.7M382 87.3L374.9 92.2M382 87.3L392.7 87.3M374.9 92.2L364.2 92.2M374.9 92.2L378.6 97M385.5 77.7L396.2 77.7M396.2 77.7L399.8 82.5M399.8 82.5L392.7 87.3M399.8 82.5L410.5 82.5M392.7 87.3L396.3 92.2M396.3 92.2L389.3 97M396.3 92.2L407 92.2M389.3 97L378.6 97M410.5 82.5L414.1 87.3M410.5 82.5L417.6 77.7M414.1 87.3L407 92.2M414.1 87.3L424.8 87.3M407 92.2L410.7 97M417.6 77.7L428.3 77.7M428.3 77.7L431.9 82.5M431.9 82.5L424.8 87.3M431.9 82.5L442.6 82.5M424.8 87.3L428.4 92.2M428.4 92.2L421.4 97M428.4 92.2L439.1 92.2M421.4 97L410.7 97M442.6 82.5L446.2 87.3M442.6 82.5L449.7 77.7M446.2 87.3L439.1 92.2M446.2 87.3L456.9 87.3M449.7 77.7L460.4 77.7M460.4 77.7L464 82.5M464 82.5L456.9 87.3" stroke="#c4ccd4" stroke-width="2.2"/>
<path d="M436.4 77.7L447.1 77.7M436.4 77.7L429.3 82.5M447.1 77.7L450.7 82.5M450.7 82.5L443.6 87.3M450.7 82.5L461.4 82.5M443.6 87.3L432.9 87.3M443.6 87.3L447.2 92.2M432.9 87.3L429.3 82.5M461.4 82.5L465 87.3M461.4 82.5L468.5 77.7M465 87.3L457.9 92.2M465 87.3L475.7 87.3M457.9 92.2L447.2 92.2M457.9 92.2L461.6 97M468.5 77.7L479.2 77.7M479.2 77.7L482.8 82.5M482.8 82.5L475.7 87.3M482.8 82.5L493.5 82.5M475.7 87.3L479.3 92.2M479.3 92.2L472.3 97M479.3 92.2L490 92.2M472.3 97L461.6 97M493.5 82.5L497.1 87.3M493.5 82.5L500.6 77.7M497.1 87.3L490 92.2M497.1 87.3L507.8 87.3M490 92.2L493.7 97M500.6 77.7L511.3 77.7M511.3 77.7L514.9 82.5M514.9 82.5L507.8 87.3M514.9 82.5L525.6 82.5M507.8 87.3L511.4 92.2M511.4 92.2L504.4 97M511.4 92.2L522.1 92.2M504.4 97L493.7 97M525.6 82.5L529.2 87.3M525.6 82.5L532.7 77.7M529.2 87.3L522.1 92.2M529.2 87.3L539.9 87.3M532.7 77.7L543.4 77.7M543.4 77.7L547 82.5M547 82.5L539.9 87.3" stroke="#c4ccd4" stroke-width="2.2"/>
<path d="M355.4 103.4L366.1 103.4M355.4 103.4L348.3 108.2M366.1 103.4L369.7 108.2M369.7 108.2L362.6 113M369.7 108.2L380.4 108.2M362.6 113L351.9 113M362.6 113L366.2 117.9M351.9 113L348.3 108.2M380.4 108.2L384 113M380.4 108.2L387.5 103.4M384 113L376.9 117.9M384 113L394.7 113M376.9 117.9L366.2 117.9M376.9 117.9L380.6 122.7M387.5 103.4L398.2 103.4M398.2 103.4L401.8 108.2M401.8 108.2L394.7 113M401.8 108.2L412.5 108.2M394.7 113L398.3 117.9M398.3 117.9L391.3 122.7M398.3 117.9L409 117.9M391.3 122.7L380.6 122.7M412.5 108.2L416.1 113M412.5 108.2L419.6 103.4M416.1 113L409 117.9M416.1 113L426.8 113M409 117.9L412.7 122.7M419.6 103.4L430.3 103.4M430.3 103.4L433.9 108.2M433.9 108.2L426.8 113M433.9 108.2L444.6 108.2M426.8 113L430.4 117.9M430.4 117.9L423.4 122.7M430.4 117.9L441.1 117.9M423.4 122.7L412.7 122.7M444.6 108.2L448.2 113M444.6 108.2L451.7 103.4M448.2 113L441.1 117.9M448.2 113L458.9 113M451.7 103.4L462.4 103.4M462.4 103.4L466 108.2M466 108.2L458.9 113" stroke="#c4ccd4" stroke-width="2.2"/>
<path d="M457.4 104.2L468.1 104.2M457.4 104.2L450.3 109M468.1 104.2L471.7 109M471.7 109L464.6 113.8M471.7 109L482.4 109M464.6 113.8L453.9 113.8M464.6 113.8L468.2 118.7M453.9 113.8L450.3 109M482.4 109L486 113.8M482.4 109L489.5 104.2M486 113.8L478.9 118.7M486 113.8L496.7 113.8M478.9 118.7L468.2 118.7M478.9 118.7L482.6 123.5M489.5 104.2L500.2 104.2M500.2 104.2L503.8 109M503.8 109L496.7 113.8M503.8 109L514.5 109M496.7 113.8L500.3 118.7M500.3 118.7L493.3 123.5M500.3 118.7L511 118.7M493.3 123.5L482.6 123.5M514.5 109L518.1 113.8M514.5 109L521.6 104.2M518.1 113.8L511 118.7M518.1 113.8L528.8 113.8M511 118.7L514.7 123.5M521.6 104.2L532.3 104.2M532.3 104.2L535.9 109M535.9 109L528.8 113.8M535.9 109L546.6 109M528.8 113.8L532.4 118.7M532.4 118.7L525.4 123.5M532.4 118.7L543.1 118.7M525.4 123.5L514.7 123.5M546.6 109L550.2 113.8M546.6 109L553.7 104.2M550.2 113.8L543.1 118.7M550.2 113.8L560.9 113.8M553.7 104.2L564.4 104.2M564.4 104.2L568 109M568 109L560.9 113.8" stroke="#c4ccd4" stroke-width="2.2"/>
<path d="M357.2 140.3L367.9 140.3M357.2 140.3L350.1 145.1M367.9 140.3L371.5 145.1M371.5 145.1L364.4 149.9M371.5 145.1L382.2 145.1M364.4 149.9L353.7 149.9M364.4 149.9L368 154.8M353.7 149.9L350.1 145.1M382.2 145.1L385.8 149.9M382.2 145.1L389.3 140.3M385.8 149.9L378.7 154.8M385.8 149.9L396.5 149.9M378.7 154.8L368 154.8M378.7 154.8L382.4 159.6M389.3 140.3L400 140.3M400 140.3L403.6 145.1M403.6 145.1L396.5 149.9M403.6 145.1L414.3 145.1M396.5 149.9L400.1 154.8M400.1 154.8L393.1 159.6M400.1 154.8L410.8 154.8M393.1 159.6L382.4 159.6M414.3 145.1L417.9 149.9M414.3 145.1L421.4 140.3M417.9 149.9L410.8 154.8M417.9 149.9L428.6 149.9M410.8 154.8L414.5 159.6M421.4 140.3L432.1 140.3M432.1 140.3L435.7 145.1M435.7 145.1L428.6 149.9M435.7 145.1L446.4 145.1M428.6 149.9L432.2 154.8M432.2 154.8L425.2 159.6M432.2 154.8L442.9 154.8M425.2 159.6L414.5 159.6M446.4 145.1L450 149.9M446.4 145.1L453.5 140.3M450 149.9L442.9 154.8M450 149.9L460.7 149.9M453.5 140.3L464.2 140.3M464.2 140.3L467.8 145.1M467.8 145.1L460.7 149.9" stroke="#c4ccd4" stroke-width="2.2"/>
<path d="M479.9 141L490.6 141M479.9 141L472.8 145.8M490.6 141L494.2 145.8M494.2 145.8L487.1 150.6M494.2 145.8L504.9 145.8M487.1 150.6L476.4 150.6M487.1 150.6L490.7 155.5M476.4 150.6L472.8 145.8M504.9 145.8L508.5 150.6M504.9 145.8L512 141M508.5 150.6L501.4 155.5M508.5 150.6L519.2 150.6M501.4 155.5L490.7 155.5M501.4 155.5L505.1 160.3M512 141L522.7 141M522.7 141L526.3 145.8M526.3 145.8L519.2 150.6M526.3 145.8L537 145.8M519.2 150.6L522.8 155.5M522.8 155.5L515.8 160.3M522.8 155.5L533.5 155.5M515.8 160.3L505.1 160.3M537 145.8L540.6 150.6M537 145.8L544.1 141M540.6 150.6L533.5 155.5M540.6 150.6L551.3 150.6M533.5 155.5L537.2 160.3M544.1 141L554.8 141M554.8 141L558.4 145.8M558.4 145.8L551.3 150.6M558.4 145.8L569.1 145.8M551.3 150.6L554.9 155.5M554.9 155.5L547.9 160.3M554.9 155.5L565.6 155.5M547.9 160.3L537.2 160.3M569.1 145.8L572.7 150.6M569.1 145.8L576.2 141M572.7 150.6L565.6 155.5M572.7 150.6L583.4 150.6M576.2 141L586.9 141M586.9 141L590.5 145.8M590.5 145.8L583.4 150.6" stroke="#c4ccd4" stroke-width="2.2"/>
<path d="M356.4 72.7L367.1 72.7M356.4 72.7L349.3 77.5M367.1 72.7L370.7 77.5M370.7 77.5L363.6 82.3M370.7 77.5L381.4 77.5M363.6 82.3L352.9 82.3M363.6 82.3L367.2 87.2M352.9 82.3L349.3 77.5M381.4 77.5L385 82.3M381.4 77.5L388.5 72.7M385 82.3L377.9 87.2M385 82.3L395.7 82.3M377.9 87.2L367.2 87.2M377.9 87.2L381.6 92M388.5 72.7L399.2 72.7M399.2 72.7L402.8 77.5M402.8 77.5L395.7 82.3M402.8 77.5L413.5 77.5M395.7 82.3L399.3 87.2M399.3 87.2L392.3 92M399.3 87.2L410 87.2M392.3 92L381.6 92M413.5 77.5L417.1 82.3M413.5 77.5L420.6 72.7M417.1 82.3L410 87.2M417.1 82.3L427.8 82.3M410 87.2L413.7 92M420.6 72.7L431.3 72.7M431.3 72.7L434.9 77.5M434.9 77.5L427.8 82.3M434.9 77.5L445.6 77.5M427.8 82.3L431.4 87.2M431.4 87.2L424.4 92M431.4 87.2L442.1 87.2M424.4 92L413.7 92M445.6 77.5L449.2 82.3M445.6 77.5L452.7 72.7M449.2 82.3L442.1 87.2M449.2 82.3L459.9 82.3M452.7 72.7L463.4 72.7M463.4 72.7L467 77.5M467 77.5L459.9 82.3" stroke="#f0c878" stroke-width="1.4"/>
<path d="M391.3 71.9L388.5 72.7M402 71.9L399.2 72.7M378.8 91.3L381.6 92M422 91.9L424.4 92" stroke="#e04040" stroke-width="1.3"/>
<circle cx="356.4" cy="72.7" r="2.7" fill="url(#gCa)"/>
<circle cx="367.1" cy="72.7" r="2.7" fill="url(#gCa)"/>
<circle cx="370.7" cy="77.5" r="2.7" fill="url(#gCa)"/>
<circle cx="363.6" cy="82.3" r="2.7" fill="url(#gCa)"/>
<circle cx="352.9" cy="82.3" r="2.7" fill="url(#gCa)"/>
<circle cx="349.3" cy="77.5" r="2.7" fill="url(#gCa)"/>
<circle cx="381.4" cy="77.5" r="2.7" fill="url(#gCa)"/>
<circle cx="385" cy="82.3" r="2.7" fill="url(#gCa)"/>
<circle cx="377.9" cy="87.2" r="2.7" fill="url(#gCa)"/>
<circle cx="367.2" cy="87.2" r="2.7" fill="url(#gCa)"/>
<circle cx="388.5" cy="72.7" r="2.7" fill="url(#gCa)"/>
<circle cx="399.2" cy="72.7" r="2.7" fill="url(#gCa)"/>
<circle cx="402.8" cy="77.5" r="2.7" fill="url(#gCa)"/>
<circle cx="395.7" cy="82.3" r="2.7" fill="url(#gCa)"/>
<circle cx="399.3" cy="87.2" r="2.7" fill="url(#gCa)"/>
<circle cx="392.3" cy="92" r="2.7" fill="url(#gCa)"/>
<circle cx="381.6" cy="92" r="2.7" fill="url(#gCa)"/>
<circle cx="413.5" cy="77.5" r="2.7" fill="url(#gCa)"/>
<circle cx="417.1" cy="82.3" r="2.7" fill="url(#gCa)"/>
<circle cx="410" cy="87.2" r="2.7" fill="url(#gCa)"/>
<circle cx="420.6" cy="72.7" r="2.7" fill="url(#gCa)"/>
<circle cx="431.3" cy="72.7" r="2.7" fill="url(#gCa)"/>
<circle cx="434.9" cy="77.5" r="2.7" fill="url(#gCa)"/>
<circle cx="427.8" cy="82.3" r="2.7" fill="url(#gCa)"/>
<circle cx="431.4" cy="87.2" r="2.7" fill="url(#gCa)"/>
<circle cx="424.4" cy="92" r="2.7" fill="url(#gCa)"/>
<circle cx="413.7" cy="92" r="2.7" fill="url(#gCa)"/>
<circle cx="445.6" cy="77.5" r="2.7" fill="url(#gCa)"/>
<circle cx="449.2" cy="82.3" r="2.7" fill="url(#gCa)"/>
<circle cx="442.1" cy="87.2" r="2.7" fill="url(#gCa)"/>
<circle cx="452.7" cy="72.7" r="2.7" fill="url(#gCa)"/>
<circle cx="463.4" cy="72.7" r="2.7" fill="url(#gCa)"/>
<circle cx="467" cy="77.5" r="2.7" fill="url(#gCa)"/>
<circle cx="459.9" cy="82.3" r="2.7" fill="url(#gCa)"/>
<circle cx="391.3" cy="71.9" r="2.7" fill="url(#gO)"/>
<circle cx="402" cy="71.9" r="2.7" fill="url(#gO)"/>
<circle cx="378.8" cy="91.3" r="2.7" fill="url(#gO)"/>
<circle cx="422" cy="91.9" r="2.7" fill="url(#gO)"/>
<circle cx="390" cy="66.9" r="3.6" fill="url(#gW)"/>
<circle cx="401.3" cy="66.9" r="3.6" fill="url(#gW)"/>
<circle cx="373.2" cy="96.3" r="3.6" fill="url(#gW)"/>
<circle cx="428.9" cy="96.3" r="3.6" fill="url(#gW)"/>
<path d="M439.4 72.7L450.1 72.7M439.4 72.7L432.3 77.5M450.1 72.7L453.7 77.5M453.7 77.5L446.6 82.3M453.7 77.5L464.4 77.5M446.6 82.3L435.9 82.3M446.6 82.3L450.2 87.2M435.9 82.3L432.3 77.5M464.4 77.5L468 82.3M464.4 77.5L471.5 72.7M468 82.3L460.9 87.2M468 82.3L478.7 82.3M460.9 87.2L450.2 87.2M460.9 87.2L464.6 92M471.5 72.7L482.2 72.7M482.2 72.7L485.8 77.5M485.8 77.5L478.7 82.3M485.8 77.5L496.5 77.5M478.7 82.3L482.3 87.2M482.3 87.2L475.3 92M482.3 87.2L493 87.2M475.3 92L464.6 92M496.5 77.5L500.1 82.3M496.5 77.5L503.6 72.7M500.1 82.3L493 87.2M500.1 82.3L510.8 82.3M493 87.2L496.7 92M503.6 72.7L514.3 72.7M514.3 72.7L517.9 77.5M517.9 77.5L510.8 82.3M517.9 77.5L528.6 77.5M510.8 82.3L514.4 87.2M514.4 87.2L507.4 92M514.4 87.2L525.1 87.2M507.4 92L496.7 92M528.6 77.5L532.2 82.3M528.6 77.5L535.7 72.7M532.2 82.3L525.1 87.2M532.2 82.3L542.9 82.3M535.7 72.7L546.4 72.7M546.4 72.7L550 77.5M550 77.5L542.9 82.3" stroke="#f0c878" stroke-width="1.4"/>
<path d="M493 71.9L496.5 77.5M504 71.9L503.6 72.7M488 91.9L493 87.2M531.9 92.9L525.1 87.2" stroke="#e04040" stroke-width="1.3"/>
<circle cx="439.4" cy="72.7" r="2.7" fill="url(#gCa)"/>
<circle cx="450.1" cy="72.7" r="2.7" fill="url(#gCa)"/>
<circle cx="453.7" cy="77.5" r="2.7" fill="url(#gCa)"/>
<circle cx="446.6" cy="82.3" r="2.7" fill="url(#gCa)"/>
<circle cx="435.9" cy="82.3" r="2.7" fill="url(#gCa)"/>
<circle cx="432.3" cy="77.5" r="2.7" fill="url(#gCa)"/>
<circle cx="464.4" cy="77.5" r="2.7" fill="url(#gCa)"/>
<circle cx="468" cy="82.3" r="2.7" fill="url(#gCa)"/>
<circle cx="460.9" cy="87.2" r="2.7" fill="url(#gCa)"/>
<circle cx="450.2" cy="87.2" r="2.7" fill="url(#gCa)"/>
<circle cx="471.5" cy="72.7" r="2.7" fill="url(#gCa)"/>
<circle cx="482.2" cy="72.7" r="2.7" fill="url(#gCa)"/>
<circle cx="485.8" cy="77.5" r="2.7" fill="url(#gCa)"/>
<circle cx="478.7" cy="82.3" r="2.7" fill="url(#gCa)"/>
<circle cx="482.3" cy="87.2" r="2.7" fill="url(#gCa)"/>
<circle cx="475.3" cy="92" r="2.7" fill="url(#gCa)"/>
<circle cx="464.6" cy="92" r="2.7" fill="url(#gCa)"/>
<circle cx="496.5" cy="77.5" r="2.7" fill="url(#gCa)"/>
<circle cx="500.1" cy="82.3" r="2.7" fill="url(#gCa)"/>
<circle cx="493" cy="87.2" r="2.7" fill="url(#gCa)"/>
<circle cx="503.6" cy="72.7" r="2.7" fill="url(#gCa)"/>
<circle cx="514.3" cy="72.7" r="2.7" fill="url(#gCa)"/>
<circle cx="517.9" cy="77.5" r="2.7" fill="url(#gCa)"/>
<circle cx="510.8" cy="82.3" r="2.7" fill="url(#gCa)"/>
<circle cx="514.4" cy="87.2" r="2.7" fill="url(#gCa)"/>
<circle cx="507.4" cy="92" r="2.7" fill="url(#gCa)"/>
<circle cx="496.7" cy="92" r="2.7" fill="url(#gCa)"/>
<circle cx="528.6" cy="77.5" r="2.7" fill="url(#gCa)"/>
<circle cx="532.2" cy="82.3" r="2.7" fill="url(#gCa)"/>
<circle cx="525.1" cy="87.2" r="2.7" fill="url(#gCa)"/>
<circle cx="535.7" cy="72.7" r="2.7" fill="url(#gCa)"/>
<circle cx="546.4" cy="72.7" r="2.7" fill="url(#gCa)"/>
<circle cx="550" cy="77.5" r="2.7" fill="url(#gCa)"/>
<circle cx="542.9" cy="82.3" r="2.7" fill="url(#gCa)"/>
<circle cx="493" cy="71.9" r="2.7" fill="url(#gO)"/>
<circle cx="504" cy="71.9" r="2.7" fill="url(#gO)"/>
<circle cx="488" cy="91.9" r="2.7" fill="url(#gO)"/>
<circle cx="531.9" cy="92.9" r="2.7" fill="url(#gO)"/>
<circle cx="490" cy="66.9" r="3.6" fill="url(#gW)"/>
<circle cx="500" cy="66" r="3.6" fill="url(#gW)"/>
<circle cx="483" cy="97.9" r="3.6" fill="url(#gW)"/>
<circle cx="539.9" cy="96.9" r="3.6" fill="url(#gW)"/>
<path d="M358.4 98.4L369.1 98.4M358.4 98.4L351.3 103.2M369.1 98.4L372.7 103.2M372.7 103.2L365.6 108M372.7 103.2L383.4 103.2M365.6 108L354.9 108M365.6 108L369.2 112.9M354.9 108L351.3 103.2M383.4 103.2L387 108M383.4 103.2L390.5 98.4M387 108L379.9 112.9M387 108L397.7 108M379.9 112.9L369.2 112.9M379.9 112.9L383.6 117.7M390.5 98.4L401.2 98.4M401.2 98.4L404.8 103.2M404.8 103.2L397.7 108M404.8 103.2L415.5 103.2M397.7 108L401.3 112.9M401.3 112.9L394.3 117.7M401.3 112.9L412 112.9M394.3 117.7L383.6 117.7M415.5 103.2L419.1 108M415.5 103.2L422.6 98.4M419.1 108L412 112.9M419.1 108L429.8 108M412 112.9L415.7 117.7M422.6 98.4L433.3 98.4M433.3 98.4L436.9 103.2M436.9 103.2L429.8 108M436.9 103.2L447.6 103.2M429.8 108L433.4 112.9M433.4 112.9L426.4 117.7M433.4 112.9L444.1 112.9M426.4 117.7L415.7 117.7M447.6 103.2L451.2 108M447.6 103.2L454.7 98.4M451.2 108L444.1 112.9M451.2 108L461.9 108M454.7 98.4L465.4 98.4M465.4 98.4L469 103.2M469 103.2L461.9 108" stroke="#f0c878" stroke-width="1.4"/>
<path d="M397 96.3L401.2 98.4M408.2 96.3L401.2 98.4M383.8 120L383.6 117.7M431.4 120.7L426.4 117.7" stroke="#e04040" stroke-width="1.3"/>
<circle cx="358.4" cy="98.4" r="2.7" fill="url(#gCa)"/>
<circle cx="369.1" cy="98.4" r="2.7" fill="url(#gCa)"/>
<circle cx="372.7" cy="103.2" r="2.7" fill="url(#gCa)"/>
<circle cx="365.6" cy="108" r="2.7" fill="url(#gCa)"/>
<circle cx="354.9" cy="108" r="2.7" fill="url(#gCa)"/>
<circle cx="351.3" cy="103.2" r="2.7" fill="url(#gCa)"/>
<circle cx="383.4" cy="103.2" r="2.7" fill="url(#gCa)"/>
<circle cx="387" cy="108" r="2.7" fill="url(#gCa)"/>
<circle cx="379.9" cy="112.9" r="2.7" fill="url(#gCa)"/>
<circle cx="369.2" cy="112.9" r="2.7" fill="url(#gCa)"/>
<circle cx="390.5" cy="98.4" r="2.7" fill="url(#gCa)"/>
<circle cx="401.2" cy="98.4" r="2.7" fill="url(#gCa)"/>
<circle cx="404.8" cy="103.2" r="2.7" fill="url(#gCa)"/>
<circle cx="397.7" cy="108" r="2.7" fill="url(#gCa)"/>
<circle cx="401.3" cy="112.9" r="2.7" fill="url(#gCa)"/>
<circle cx="394.3" cy="117.7" r="2.7" fill="url(#gCa)"/>
<circle cx="383.6" cy="117.7" r="2.7" fill="url(#gCa)"/>
<circle cx="415.5" cy="103.2" r="2.7" fill="url(#gCa)"/>
<circle cx="419.1" cy="108" r="2.7" fill="url(#gCa)"/>
<circle cx="412" cy="112.9" r="2.7" fill="url(#gCa)"/>
<circle cx="422.6" cy="98.4" r="2.7" fill="url(#gCa)"/>
<circle cx="433.3" cy="98.4" r="2.7" fill="url(#gCa)"/>
<circle cx="436.9" cy="103.2" r="2.7" fill="url(#gCa)"/>
<circle cx="429.8" cy="108" r="2.7" fill="url(#gCa)"/>
<circle cx="433.4" cy="112.9" r="2.7" fill="url(#gCa)"/>
<circle cx="426.4" cy="117.7" r="2.7" fill="url(#gCa)"/>
<circle cx="415.7" cy="117.7" r="2.7" fill="url(#gCa)"/>
<circle cx="447.6" cy="103.2" r="2.7" fill="url(#gCa)"/>
<circle cx="451.2" cy="108" r="2.7" fill="url(#gCa)"/>
<circle cx="444.1" cy="112.9" r="2.7" fill="url(#gCa)"/>
<circle cx="454.7" cy="98.4" r="2.7" fill="url(#gCa)"/>
<circle cx="465.4" cy="98.4" r="2.7" fill="url(#gCa)"/>
<circle cx="469" cy="103.2" r="2.7" fill="url(#gCa)"/>
<circle cx="461.9" cy="108" r="2.7" fill="url(#gCa)"/>
<circle cx="397" cy="96.3" r="2.7" fill="url(#gO)"/>
<circle cx="408.2" cy="96.3" r="2.7" fill="url(#gO)"/>
<circle cx="383.8" cy="120" r="2.7" fill="url(#gO)"/>
<circle cx="431.4" cy="120.7" r="2.7" fill="url(#gO)"/>
<circle cx="376.9" cy="125" r="3.6" fill="url(#gW)"/>
<circle cx="437.6" cy="125" r="3.6" fill="url(#gW)"/>
<circle cx="427.6" cy="96.3" r="3.6" fill="url(#gW)"/>
<path d="M460.4 99.2L471.1 99.2M460.4 99.2L453.3 104M471.1 99.2L474.7 104M474.7 104L467.6 108.8M474.7 104L485.4 104M467.6 108.8L456.9 108.8M467.6 108.8L471.2 113.7M456.9 108.8L453.3 104M485.4 104L489 108.8M485.4 104L492.5 99.2M489 108.8L481.9 113.7M489 108.8L499.7 108.8M481.9 113.7L471.2 113.7M481.9 113.7L485.6 118.5M492.5 99.2L503.2 99.2M503.2 99.2L506.8 104M506.8 104L499.7 108.8M506.8 104L517.5 104M499.7 108.8L503.3 113.7M503.3 113.7L496.3 118.5M503.3 113.7L514 113.7M496.3 118.5L485.6 118.5M517.5 104L521.1 108.8M517.5 104L524.6 99.2M521.1 108.8L514 113.7M521.1 108.8L531.8 108.8M514 113.7L517.7 118.5M524.6 99.2L535.3 99.2M535.3 99.2L538.9 104M538.9 104L531.8 108.8M538.9 104L549.6 104M531.8 108.8L535.4 113.7M535.4 113.7L528.4 118.5M535.4 113.7L546.1 113.7M528.4 118.5L517.7 118.5M549.6 104L553.2 108.8M549.6 104L556.7 99.2M553.2 108.8L546.1 113.7M553.2 108.8L563.9 108.8M556.7 99.2L567.4 99.2M567.4 99.2L571 104M571 104L563.9 108.8" stroke="#f0c878" stroke-width="1.4"/>
<path d="M508 97.9L503.2 99.2M518.9 96.9L524.6 99.2M502 120.8L496.3 118.5M550.8 120.8L546.1 113.7" stroke="#e04040" stroke-width="1.3"/>
<circle cx="460.4" cy="99.2" r="2.7" fill="url(#gCa)"/>
<circle cx="471.1" cy="99.2" r="2.7" fill="url(#gCa)"/>
<circle cx="474.7" cy="104" r="2.7" fill="url(#gCa)"/>
<circle cx="467.6" cy="108.8" r="2.7" fill="url(#gCa)"/>
<circle cx="456.9" cy="108.8" r="2.7" fill="url(#gCa)"/>
<circle cx="453.3" cy="104" r="2.7" fill="url(#gCa)"/>
<circle cx="485.4" cy="104" r="2.7" fill="url(#gCa)"/>
<circle cx="489" cy="108.8" r="2.7" fill="url(#gCa)"/>
<circle cx="481.9" cy="113.7" r="2.7" fill="url(#gCa)"/>
<circle cx="471.2" cy="113.7" r="2.7" fill="url(#gCa)"/>
<circle cx="492.5" cy="99.2" r="2.7" fill="url(#gCa)"/>
<circle cx="503.2" cy="99.2" r="2.7" fill="url(#gCa)"/>
<circle cx="506.8" cy="104" r="2.7" fill="url(#gCa)"/>
<circle cx="499.7" cy="108.8" r="2.7" fill="url(#gCa)"/>
<circle cx="503.3" cy="113.7" r="2.7" fill="url(#gCa)"/>
<circle cx="496.3" cy="118.5" r="2.7" fill="url(#gCa)"/>
<circle cx="485.6" cy="118.5" r="2.7" fill="url(#gCa)"/>
<circle cx="517.5" cy="104" r="2.7" fill="url(#gCa)"/>
<circle cx="521.1" cy="108.8" r="2.7" fill="url(#gCa)"/>
<circle cx="514" cy="113.7" r="2.7" fill="url(#gCa)"/>
<circle cx="524.6" cy="99.2" r="2.7" fill="url(#gCa)"/>
<circle cx="535.3" cy="99.2" r="2.7" fill="url(#gCa)"/>
<circle cx="538.9" cy="104" r="2.7" fill="url(#gCa)"/>
<circle cx="531.8" cy="108.8" r="2.7" fill="url(#gCa)"/>
<circle cx="535.4" cy="113.7" r="2.7" fill="url(#gCa)"/>
<circle cx="528.4" cy="118.5" r="2.7" fill="url(#gCa)"/>
<circle cx="517.7" cy="118.5" r="2.7" fill="url(#gCa)"/>
<circle cx="549.6" cy="104" r="2.7" fill="url(#gCa)"/>
<circle cx="553.2" cy="108.8" r="2.7" fill="url(#gCa)"/>
<circle cx="546.1" cy="113.7" r="2.7" fill="url(#gCa)"/>
<circle cx="556.7" cy="99.2" r="2.7" fill="url(#gCa)"/>
<circle cx="567.4" cy="99.2" r="2.7" fill="url(#gCa)"/>
<circle cx="571" cy="104" r="2.7" fill="url(#gCa)"/>
<circle cx="563.9" cy="108.8" r="2.7" fill="url(#gCa)"/>
<circle cx="508" cy="97.9" r="2.7" fill="url(#gO)"/>
<circle cx="518.9" cy="96.9" r="2.7" fill="url(#gO)"/>
<circle cx="502" cy="120.8" r="2.7" fill="url(#gO)"/>
<circle cx="550.8" cy="120.8" r="2.7" fill="url(#gO)"/>
<circle cx="498" cy="125.8" r="3.6" fill="url(#gW)"/>
<circle cx="526" cy="125.8" r="3.6" fill="url(#gW)"/>
<circle cx="537.9" cy="125.8" r="3.6" fill="url(#gW)"/>
<circle cx="559.8" cy="125.8" r="3.6" fill="url(#gW)"/>
<path d="M360.2 135.3L370.9 135.3M360.2 135.3L353.1 140.1M370.9 135.3L374.5 140.1M374.5 140.1L367.4 144.9M374.5 140.1L385.2 140.1M367.4 144.9L356.7 144.9M367.4 144.9L371 149.8M356.7 144.9L353.1 140.1M385.2 140.1L388.8 144.9M385.2 140.1L392.3 135.3M388.8 144.9L381.7 149.8M388.8 144.9L399.5 144.9M381.7 149.8L371 149.8M381.7 149.8L385.4 154.6M392.3 135.3L403 135.3M403 135.3L406.6 140.1M406.6 140.1L399.5 144.9M406.6 140.1L417.3 140.1M399.5 144.9L403.1 149.8M403.1 149.8L396.1 154.6M403.1 149.8L413.8 149.8M396.1 154.6L385.4 154.6M417.3 140.1L420.9 144.9M417.3 140.1L424.4 135.3M420.9 144.9L413.8 149.8M420.9 144.9L431.6 144.9M413.8 149.8L417.5 154.6M424.4 135.3L435.1 135.3M435.1 135.3L438.7 140.1M438.7 140.1L431.6 144.9M438.7 140.1L449.4 140.1M431.6 144.9L435.2 149.8M435.2 149.8L428.2 154.6M435.2 149.8L445.9 149.8M428.2 154.6L417.5 154.6M449.4 140.1L453 144.9M449.4 140.1L456.5 135.3M453 144.9L445.9 149.8M453 144.9L463.7 144.9M456.5 135.3L467.2 135.3M467.2 135.3L470.8 140.1M470.8 140.1L463.7 144.9" stroke="#f0c878" stroke-width="1.4"/>
<path d="M404.5 131.3L403 135.3M417 131.6L424.4 135.3M389.4 160.1L385.4 154.6M443.9 161.4L445.9 149.8" stroke="#e04040" stroke-width="1.3"/>
<circle cx="360.2" cy="135.3" r="2.7" fill="url(#gCa)"/>
<circle cx="370.9" cy="135.3" r="2.7" fill="url(#gCa)"/>
<circle cx="374.5" cy="140.1" r="2.7" fill="url(#gCa)"/>
<circle cx="367.4" cy="144.9" r="2.7" fill="url(#gCa)"/>
<circle cx="356.7" cy="144.9" r="2.7" fill="url(#gCa)"/>
<circle cx="353.1" cy="140.1" r="2.7" fill="url(#gCa)"/>
<circle cx="385.2" cy="140.1" r="2.7" fill="url(#gCa)"/>
<circle cx="388.8" cy="144.9" r="2.7" fill="url(#gCa)"/>
<circle cx="381.7" cy="149.8" r="2.7" fill="url(#gCa)"/>
<circle cx="371" cy="149.8" r="2.7" fill="url(#gCa)"/>
<circle cx="392.3" cy="135.3" r="2.7" fill="url(#gCa)"/>
<circle cx="403" cy="135.3" r="2.7" fill="url(#gCa)"/>
<circle cx="406.6" cy="140.1" r="2.7" fill="url(#gCa)"/>
<circle cx="399.5" cy="144.9" r="2.7" fill="url(#gCa)"/>
<circle cx="403.1" cy="149.8" r="2.7" fill="url(#gCa)"/>
<circle cx="396.1" cy="154.6" r="2.7" fill="url(#gCa)"/>
<circle cx="385.4" cy="154.6" r="2.7" fill="url(#gCa)"/>
<circle cx="417.3" cy="140.1" r="2.7" fill="url(#gCa)"/>
<circle cx="420.9" cy="144.9" r="2.7" fill="url(#gCa)"/>
<circle cx="413.8" cy="149.8" r="2.7" fill="url(#gCa)"/>
<circle cx="424.4" cy="135.3" r="2.7" fill="url(#gCa)"/>
<circle cx="435.1" cy="135.3" r="2.7" fill="url(#gCa)"/>
<circle cx="438.7" cy="140.1" r="2.7" fill="url(#gCa)"/>
<circle cx="431.6" cy="144.9" r="2.7" fill="url(#gCa)"/>
<circle cx="435.2" cy="149.8" r="2.7" fill="url(#gCa)"/>
<circle cx="428.2" cy="154.6" r="2.7" fill="url(#gCa)"/>
<circle cx="417.5" cy="154.6" r="2.7" fill="url(#gCa)"/>
<circle cx="449.4" cy="140.1" r="2.7" fill="url(#gCa)"/>
<circle cx="453" cy="144.9" r="2.7" fill="url(#gCa)"/>
<circle cx="445.9" cy="149.8" r="2.7" fill="url(#gCa)"/>
<circle cx="456.5" cy="135.3" r="2.7" fill="url(#gCa)"/>
<circle cx="467.2" cy="135.3" r="2.7" fill="url(#gCa)"/>
<circle cx="470.8" cy="140.1" r="2.7" fill="url(#gCa)"/>
<circle cx="463.7" cy="144.9" r="2.7" fill="url(#gCa)"/>
<circle cx="404.5" cy="131.3" r="2.7" fill="url(#gO)"/>
<circle cx="417" cy="131.6" r="2.7" fill="url(#gO)"/>
<circle cx="389.4" cy="160.1" r="2.7" fill="url(#gO)"/>
<circle cx="443.9" cy="161.4" r="2.7" fill="url(#gO)"/>
<circle cx="382.5" cy="166.4" r="4.2" fill="url(#gW)"/>
<circle cx="451.4" cy="166.4" r="4.2" fill="url(#gW)"/>
<circle cx="402.6" cy="124.5" r="3.6" fill="url(#gW)"/>
<circle cx="415" cy="124.5" r="3.6" fill="url(#gW)"/>
<path d="M482.5 136L493.9 136M482.5 136L475.1 140.8M493.9 136L497.9 140.8M497.9 140.8L490.5 145.6M497.9 140.8L509.3 140.8M490.5 145.6L479.1 145.6M490.5 145.6L494.4 150.5M479.1 145.6L475.1 140.8M509.3 140.8L513.3 145.6M509.3 140.8L516.7 136M513.3 145.6L505.8 150.5M513.3 145.6L524.7 145.6M505.8 150.5L494.4 150.5M505.8 150.5L509.8 155.3M516.7 136L528.1 136M528.1 136L532.1 140.8M532.1 140.8L524.7 145.6M532.1 140.8L543.5 140.8M524.7 145.6L528.6 150.5M528.6 150.5L521.2 155.3M528.6 150.5L540 150.5M521.2 155.3L509.8 155.3M543.5 140.8L547.5 145.6M543.5 140.8L550.9 136M547.5 145.6L540 150.5M547.5 145.6L558.9 145.6M540 150.5L544 155.3M550.9 136L562.3 136M562.3 136L566.3 140.8M566.3 140.8L558.9 145.6M566.3 140.8L577.7 140.8M558.9 145.6L562.8 150.5M562.8 150.5L555.4 155.3M562.8 150.5L574.2 150.5M555.4 155.3L544 155.3M577.7 140.8L581.7 145.6M577.7 140.8L585.1 136M581.7 145.6L574.2 150.5M581.7 145.6L593.1 145.6M585.1 136L596.5 136M596.5 136L600.5 140.8M600.5 140.8L593.1 145.6" stroke="#f0c878" stroke-width="1.4"/>
<path d="M529.9 132.8L528.1 136M542.9 132.2L543.5 140.8M525.9 160.7L521.2 155.3M580.8 162.1L574.2 150.5" stroke="#e04040" stroke-width="1.3"/>
<circle cx="482.5" cy="136" r="2.7" fill="url(#gCa)"/>
<circle cx="493.9" cy="136" r="2.7" fill="url(#gCa)"/>
<circle cx="497.9" cy="140.8" r="2.7" fill="url(#gCa)"/>
<circle cx="490.5" cy="145.6" r="2.7" fill="url(#gCa)"/>
<circle cx="479.1" cy="145.6" r="2.7" fill="url(#gCa)"/>
<circle cx="475.1" cy="140.8" r="2.7" fill="url(#gCa)"/>
<circle cx="509.3" cy="140.8" r="2.7" fill="url(#gCa)"/>
<circle cx="513.3" cy="145.6" r="2.7" fill="url(#gCa)"/>
<circle cx="505.8" cy="150.5" r="2.7" fill="url(#gCa)"/>
<circle cx="494.4" cy="150.5" r="2.7" fill="url(#gCa)"/>
<circle cx="516.7" cy="136" r="2.7" fill="url(#gCa)"/>
<circle cx="528.1" cy="136" r="2.7" fill="url(#gCa)"/>
<circle cx="532.1" cy="140.8" r="2.7" fill="url(#gCa)"/>
<circle cx="524.7" cy="145.6" r="2.7" fill="url(#gCa)"/>
<circle cx="528.6" cy="150.5" r="2.7" fill="url(#gCa)"/>
<circle cx="521.2" cy="155.3" r="2.7" fill="url(#gCa)"/>
<circle cx="509.8" cy="155.3" r="2.7" fill="url(#gCa)"/>
<circle cx="543.5" cy="140.8" r="2.7" fill="url(#gCa)"/>
<circle cx="547.5" cy="145.6" r="2.7" fill="url(#gCa)"/>
<circle cx="540" cy="150.5" r="2.7" fill="url(#gCa)"/>
<circle cx="550.9" cy="136" r="2.7" fill="url(#gCa)"/>
<circle cx="562.3" cy="136" r="2.7" fill="url(#gCa)"/>
<circle cx="566.3" cy="140.8" r="2.7" fill="url(#gCa)"/>
<circle cx="558.9" cy="145.6" r="2.7" fill="url(#gCa)"/>
<circle cx="562.8" cy="150.5" r="2.7" fill="url(#gCa)"/>
<circle cx="555.4" cy="155.3" r="2.7" fill="url(#gCa)"/>
<circle cx="544" cy="155.3" r="2.7" fill="url(#gCa)"/>
<circle cx="577.7" cy="140.8" r="2.7" fill="url(#gCa)"/>
<circle cx="581.7" cy="145.6" r="2.7" fill="url(#gCa)"/>
<circle cx="574.2" cy="150.5" r="2.7" fill="url(#gCa)"/>
<circle cx="585.1" cy="136" r="2.7" fill="url(#gCa)"/>
<circle cx="596.5" cy="136" r="2.7" fill="url(#gCa)"/>
<circle cx="600.5" cy="140.8" r="2.7" fill="url(#gCa)"/>
<circle cx="593.1" cy="145.6" r="2.7" fill="url(#gCa)"/>
<circle cx="529.9" cy="132.8" r="2.7" fill="url(#gO)"/>
<circle cx="542.9" cy="132.2" r="2.7" fill="url(#gO)"/>
<circle cx="525.9" cy="160.7" r="2.7" fill="url(#gO)"/>
<circle cx="580.8" cy="162.1" r="2.7" fill="url(#gO)"/>
<circle cx="521.9" cy="168.7" r="4.2" fill="url(#gW)"/>
<circle cx="590.8" cy="168.7" r="4.2" fill="url(#gW)"/>
<path d="M447.6 69.4L452 76M452 76L455 84M455 84L456.4 91.3M456.4 91.3L458 100M458 100L460 108M460 108L462 116M462 116L465 124" stroke="#f0c878" stroke-width="1.4"/>
<circle cx="447.6" cy="69.4" r="2.7" fill="url(#gCa)"/>
<circle cx="452" cy="76" r="2.7" fill="url(#gCa)"/>
<circle cx="455" cy="84" r="2.7" fill="url(#gCa)"/>
<circle cx="456.4" cy="91.3" r="2.7" fill="url(#gCa)"/>
<circle cx="458" cy="100" r="2.7" fill="url(#gCa)"/>
<circle cx="460" cy="108" r="2.7" fill="url(#gCa)"/>
<circle cx="462" cy="116" r="2.7" fill="url(#gCa)"/>
<circle cx="465" cy="124" r="2.7" fill="url(#gCa)"/>
<polygon points="340,401 346,400 349,524 344,518" fill="url(#slabSide)"/>
<polygon points="345,400 560,402 604,456 628,513 349,514" fill="#e6ecf0"/>
<path d="M347 441.7L324.6 427.8M347 465.7L324.6 450.5M347 397.2L328.5 381.7M347 443.7L322.4 436.5M347 430.2L331.5 418.7M347 438L334.8 429.9M347 416L322.2 402.3M347 407L323.8 399.6M347 441.3L333.2 435.3M347 460.4L332.1 452.2M347 468.7L322.8 459.8M347 467.1L327.5 454.3M347 410.4L321.8 397.5M347 467.5L322.5 458.5M347 422.1L332.7 414.6M347 399.9L330.8 387.9" stroke="#c3d2dc" stroke-width="2.2" stroke-linecap="round"/>
<clipPath id="floorClip"><polygon points="346,400 560,402 604,456 628,513 349,514"/></clipPath>
<path d="M533.5 474.9L506.1 487.2M577.3 475.4L551.4 487.1M400.5 475.4L375.3 486.8M489.6 475.5L471.3 483.7M431.5 476.4L400.7 490.2M482.9 476.6L446.7 492.9M408.1 479.4L374.1 494.7M364 479.6L343.9 488.6M505.1 480.3L475.5 493.6M365.2 480.6L343.5 490.4M588.7 480.6L555.1 495.7M583.9 480.9L556.1 493.5M398 481.1L359.4 498.5M529.1 486.2L493.6 502.1M493.9 486.4L473.3 495.7M435.1 487.4L410.1 498.7M575.8 495.7L537.7 512M467 495.9L438.9 508.6M473.2 496.3L445.7 508.7M553.6 496.5L525.9 509M450.1 498.2L415.3 512M551.4 498.4L512.8 512M427.9 499.1L398.2 512M366.7 501.3L327.3 512M536.1 504.1L505 512M507 504.9L486.7 512M392.2 505.7L356.3 512" stroke="#bccad5" stroke-width="6" stroke-linecap="round" opacity="0.8" clip-path="url(#floorClip)"/>
<ellipse cx="464.1" cy="486.3" rx="23.7" ry="2.6" fill="#fafcfd"/>
<ellipse cx="505" cy="497" rx="22.3" ry="3.5" fill="#fafcfd"/>
<ellipse cx="411.1" cy="491.9" rx="12.8" ry="3.9" fill="#fafcfd"/>
<ellipse cx="447.8" cy="503.8" rx="13.4" ry="3.4" fill="#fafcfd"/>
<ellipse cx="419.5" cy="509.6" rx="21.8" ry="4.6" fill="#fafcfd"/>
<ellipse cx="515.7" cy="495" rx="12" ry="4.6" fill="#fafcfd"/>
<ellipse cx="482.4" cy="485.9" rx="12.4" ry="2.7" fill="#fafcfd"/>
<ellipse cx="541.6" cy="507.5" rx="12.8" ry="4.5" fill="#fafcfd"/>
<ellipse cx="439.3" cy="502.1" rx="22.1" ry="4.1" fill="#fafcfd"/>
<ellipse cx="563.1" cy="494.4" rx="10.1" ry="3.8" fill="#fafcfd"/>
<ellipse cx="507.5" cy="489.6" rx="15.4" ry="3.3" fill="#fafcfd"/>
<ellipse cx="362" cy="492.8" rx="15.4" ry="3.7" fill="#fafcfd"/>
<polygon points="481.2,404.9 476.3,396.1 474.8,387.2 473.6,378.3 472.5,369.7 471.7,361.2 471,352.9 470.6,344.8 470.4,336.9 470.4,329.1 469.2,329 468.3,336.8 467.6,344.8 467.2,353 466.9,361.4 466.9,370 467.1,378.9 467.5,387.9 468.2,397.2 465.9,407.1" fill="#a9bac6"/>
<polygon points="479,405 474.8,396.2 473.4,387.2 472.2,378.4 471.3,369.8 470.6,361.3 470.1,353 469.9,344.8 469.8,336.9 470.1,329.1 469.5,329 468.5,336.8 467.7,344.8 467.2,353 466.9,361.4 466.9,370 467,378.8 467.5,387.8 468.1,397.1 466.4,406.9" fill="#d9e2e8"/>
<polygon points="474.7,405.6 472.3,396.5 471.1,387.4 470.2,378.5 469.5,369.8 469.1,361.3 468.9,353 469,344.8 469.3,336.8 469.9,329 469.6,329 468.7,336.8 468.1,344.8 467.7,353 467.6,361.3 467.7,369.9 468.1,378.7 468.7,387.7 469.6,396.8 469.6,406.3" fill="#f5f8fa"/>
<polygon points="470.2,356.8 475.9,353.4 481.3,349.4 486.6,344.8 491.5,339.6 496.3,333.8 500.9,327.5 500.1,326.9 495,332.8 489.9,337.9 484.6,342.5 479.2,346.4 473.7,349.7 468,352.3" fill="#a9bac6"/>
<polygon points="469.9,356.1 475.6,352.8 481,348.9 486.2,344.4 491.2,339.3 496.1,333.6 500.7,327.4 500.3,327.1 495.3,333 490.2,338.2 484.9,342.9 479.5,346.9 474,350.2 468.4,353" fill="#dfe7ec"/>
<polygon points="470,344 465.9,342.1 461.8,339.6 457.9,336.7 454,333.4 450.1,329.5 446.4,325.1 445.6,325.7 448.9,330.5 452.4,334.8 456.1,338.7 459.9,342.2 463.9,345.3 468.1,347.9" fill="#a9bac6"/>
<polygon points="469.7,344.7 465.6,342.6 461.5,340.1 457.5,337.1 453.7,333.6 449.9,329.7 446.2,325.3 445.8,325.6 449.2,330.3 452.7,334.5 456.4,338.4 460.3,341.8 464.3,344.7 468.5,347.2" fill="#dfe7ec"/>
<polygon points="471.2,364.5 467.3,362.1 463.4,359 459.5,355.3 455.7,350.9 452,345.9 448.3,340.2 447.4,340.7 450.4,346.8 453.5,352.4 456.8,357.5 460.3,362 464,366 467.9,369.5" fill="#a9bac6"/>
<polygon points="470.8,365.1 466.9,362.6 463,359.4 459.1,355.6 455.4,351.1 451.7,346 448.1,340.3 447.6,340.6 450.7,346.6 453.9,352.2 457.2,357.2 460.7,361.6 464.4,365.5 468.3,368.9" fill="#dfe7ec"/>
<polygon points="471.1,367.3 468.7,366.4 466.2,365.2 463.7,363.7 461.3,361.8 458.8,359.7 456.4,357.2 455.6,357.7 457.3,360.8 459.2,363.7 461.3,366.4 463.5,368.8 465.8,370.9 468.3,372.9" fill="#a9bac6"/>
<polygon points="470.8,367.9 468.3,366.9 465.9,365.7 463.4,364 461,362.1 458.5,359.9 456.2,357.3 455.8,357.6 457.6,360.6 459.6,363.4 461.6,366 463.8,368.3 466.2,370.4 468.7,372.2" fill="#dfe7ec"/>
<polygon points="387.5,407.5 386.7,397.3 388.2,388 389.4,378.8 390.4,369.8 391.2,361 391.7,352.5 392.1,344.1 392.2,336 392.1,328 390.9,328 390.3,335.9 389.5,344 388.5,352.2 387.3,360.6 385.9,369.2 384.2,378 382.3,386.9 380.3,396 375.5,404.8" fill="#a9bac6"/>
<polygon points="385.4,407.2 385.2,397.2 386.7,387.8 388,378.7 389.2,369.7 390.1,361 390.8,352.5 391.3,344.1 391.7,336 391.8,328 391.2,328 390.5,335.9 389.6,344 388.5,352.2 387.3,360.6 385.8,369.2 384.1,378 382.3,387 380.2,396.2 376,405.1" fill="#d9e2e8"/>
<polygon points="382.4,406.6 383.5,396.9 385.2,387.6 386.7,378.5 388,369.6 389.1,360.9 390,352.4 390.8,344.1 391.3,336 391.6,328 391.3,328 390.8,335.9 390,344 389.1,352.3 387.9,360.7 386.6,369.4 385.1,378.2 383.4,387.3 381.5,396.5 378.6,405.7" fill="#f5f8fa"/>
<polygon points="390,362.4 386.8,360.9 383.7,359 380.6,356.6 377.6,353.9 374.5,350.7 371.6,347.2 370.8,347.7 373.2,351.8 375.8,355.5 378.5,358.8 381.3,361.9 384.4,364.6 387.6,366.9" fill="#a9bac6"/>
<polygon points="389.6,363 386.5,361.4 383.3,359.4 380.3,357 377.2,354.2 374.3,350.9 371.4,347.3 371,347.6 373.5,351.6 376.1,355.2 378.8,358.5 381.7,361.4 384.7,364 387.9,366.2" fill="#dfe7ec"/>
<polygon points="387.9,375.4 383,373.6 378.2,371.4 373.5,368.7 368.8,365.5 364.2,361.8 359.8,357.6 359,358.2 363,363.1 367.1,367.5 371.4,371.4 376,375 380.7,378.2 385.7,380.9" fill="#a9bac6"/>
<polygon points="387.7,376.1 382.7,374.2 377.9,371.9 373.2,369.1 368.5,365.8 364,362 359.6,357.8 359.2,358.1 363.2,362.8 367.3,367.1 371.7,371 376.3,374.5 381,377.6 386,380.2" fill="#dfe7ec"/>
<polygon points="392.2,344.9 389.8,342.2 387.5,338.9 385.2,334.9 383,330.3 380.7,325.1 378.6,319.2 377.6,319.5 379.3,325.6 381.1,331.1 382.9,336 384.9,340.4 386.9,344.2 389.1,347.5" fill="#a9bac6"/>
<polygon points="391.6,345.4 389.3,342.6 387,339.2 384.8,335.2 382.6,330.5 380.4,325.2 378.4,319.3 377.9,319.5 379.6,325.5 381.5,330.9 383.4,335.8 385.4,340.1 387.5,343.8 389.7,347" fill="#dfe7ec"/>
<polygon points="388.7,378.6 393.5,374.6 398.1,369.9 402.4,364.6 406.5,358.6 410.4,352 414.2,344.7 413.3,344.2 408.9,351 404.4,357.1 399.8,362.4 395.1,366.9 390.4,370.7 385.6,373.8" fill="#a9bac6"/>
<polygon points="388.3,378 393.1,374.1 397.7,369.5 402,364.3 406.2,358.4 410.1,351.8 413.9,344.6 413.5,344.3 409.2,351.2 404.7,357.3 400.2,362.7 395.5,367.4 390.8,371.2 386,374.4" fill="#dfe7ec"/>
<polygon points="440.7,406 435.7,397.9 434.9,389.5 434.7,381.2 435.2,373.1 436.2,365 437.9,357.1 440.3,349.2 443.3,341.5 446.9,333.8 445.9,333.2 441.3,340.5 437.3,348 433.9,355.8 431.1,363.8 429,372.1 427.5,380.7 426.7,389.5 426.5,398.6 423.4,408.4" fill="#a9bac6"/>
<polygon points="438.5,406.1 434.2,398 433.5,389.5 433.4,381.2 433.9,373 435.2,364.9 437,356.9 439.6,349.1 442.8,341.3 446.7,333.7 446.2,333.3 441.5,340.6 437.4,348.1 433.9,355.9 431.1,363.9 428.9,372.2 427.4,380.7 426.6,389.5 426.5,398.5 424,408.2" fill="#d9e2e8"/>
<polygon points="433.4,406.8 431.1,398.1 430.7,389.5 430.9,381.1 431.9,372.8 433.4,364.6 435.7,356.6 438.6,348.8 442.3,341.1 446.6,333.6 446.3,333.4 441.7,340.8 437.7,348.4 434.4,356.2 431.8,364.2 429.8,372.4 428.5,380.9 427.9,389.5 428,398.4 427.6,407.6" fill="#f5f8fa"/>
<polygon points="436.6,361 439.4,358.7 442,356.2 444.5,353.3 446.8,350.1 448.9,346.6 451,342.8 450.2,342.2 447.5,345.6 444.8,348.5 442.1,351.1 439.4,353.2 436.6,355 433.9,356.3" fill="#a9bac6"/>
<polygon points="436.2,360.3 439,358.2 441.6,355.7 444.1,352.9 446.4,349.8 448.7,346.4 450.8,342.6 450.4,342.4 447.8,345.8 445.2,348.8 442.5,351.4 439.8,353.7 437,355.5 434.3,356.9" fill="#dfe7ec"/>
<polygon points="439.7,352.1 441.8,349 443.7,345.4 445.5,341.3 447.1,336.8 448.7,331.7 450.3,326.1 449.3,325.8 447.2,331.2 445.1,335.9 442.9,340.1 440.7,343.7 438.5,346.7 436.3,349" fill="#a9bac6"/>
<polygon points="439.2,351.6 441.2,348.6 443.2,345.1 445,341.1 446.8,336.6 448.4,331.6 450,326 449.6,325.9 447.5,331.3 445.5,336.1 443.4,340.3 441.2,344 439,347.1 436.8,349.5" fill="#dfe7ec"/>
<polygon points="521.8,408.8 520.4,400 521.3,391.9 522,384 522.4,376.3 522.6,368.7 522.7,361.4 522.4,354.2 522,347.2 521.4,340.4 520.2,340.4 520.1,347.2 519.8,354.2 519.3,361.3 518.6,368.5 517.7,375.9 516.6,383.4 515.2,391.1 513.6,398.9 509.2,406.4" fill="#a9bac6"/>
<polygon points="519.7,408.6 518.8,399.9 519.8,391.9 520.6,384 521.2,376.3 521.6,368.7 521.7,361.4 521.7,354.2 521.5,347.2 521.1,340.4 520.5,340.4 520.3,347.2 519.9,354.2 519.4,361.3 518.6,368.5 517.6,375.9 516.5,383.5 515.1,391.2 513.6,399 509.8,406.7" fill="#d9e2e8"/>
<polygon points="516.5,408 517,399.7 518.2,391.7 519.1,383.8 519.9,376.2 520.5,368.7 520.9,361.3 521.1,354.2 521.1,347.2 520.9,340.4 520.6,340.4 520.6,347.2 520.3,354.2 519.9,361.3 519.3,368.6 518.5,376 517.5,383.6 516.3,391.4 514.9,399.3 512.5,407.2" fill="#f5f8fa"/>
<polygon points="522.7,364.3 524.4,361.5 526.1,358.3 527.6,354.7 529,350.7 530.4,346.2 531.7,341.2 530.7,341 528.9,345.7 527,349.8 525.1,353.5 523.1,356.6 521.2,359.2 519.2,361.3" fill="#a9bac6"/>
<polygon points="522.1,363.8 523.9,361.1 525.6,358 527.1,354.5 528.6,350.5 530.1,346.1 531.4,341.2 531,341 529.2,345.8 527.4,350 525.5,353.7 523.6,356.9 521.7,359.6 519.8,361.8" fill="#dfe7ec"/>
<polygon points="522.2,377.7 524.9,373.5 527.3,368.6 529.7,363.1 531.9,356.9 534,349.9 536,342.3 535,342 532.3,349.4 529.5,355.9 526.7,361.7 523.8,366.7 520.9,370.8 518,374.1" fill="#a9bac6"/>
<polygon points="521.6,377.2 524.3,373.1 526.8,368.3 529.2,362.9 531.5,356.7 533.7,349.8 535.8,342.2 535.3,342.1 532.6,349.5 529.9,356.1 527.2,361.9 524.3,367 521.4,371.2 518.5,374.6" fill="#dfe7ec"/>
<polygon points="522,352.6 517.7,350.4 513.4,347.7 509.2,344.4 505.1,340.7 501.1,336.4 497.2,331.5 496.3,332.1 499.9,337.3 503.6,342 507.5,346.2 511.6,350 515.8,353.3 520.2,356.1" fill="#a9bac6"/>
<polygon points="521.7,353.2 517.3,350.9 513,348.1 508.8,344.8 504.8,340.9 500.8,336.6 497,331.7 496.5,332 500.2,337.1 503.9,341.7 507.8,345.9 511.9,349.6 516.2,352.7 520.6,355.4" fill="#dfe7ec"/>
<polygon points="521.3,375.8 517.4,373.7 513.6,371.1 509.8,367.8 506.1,364 502.4,359.7 498.8,354.7 498,355.2 500.9,360.7 504.1,365.6 507.4,370.1 510.8,374.1 514.5,377.7 518.4,380.7" fill="#a9bac6"/>
<polygon points="520.9,376.5 517,374.2 513.2,371.5 509.4,368.2 505.7,364.3 502.1,359.8 498.6,354.9 498.2,355.1 501.2,360.5 504.4,365.3 507.7,369.7 511.2,373.7 514.9,377.1 518.8,380.1" fill="#dfe7ec"/>
<polygon points="535,409.9 533,399.6 533.9,390.3 534.3,381.2 534.1,372.4 533.4,363.8 532.2,355.4 530.4,347.3 528.2,339.4 525.4,331.8 524.3,332.2 526.1,340 527.3,347.9 528.1,355.9 528.3,364.1 528,372.3 527.3,380.7 526,389.3 524.2,398 518.5,406.1" fill="#a9bac6"/>
<polygon points="532.8,409.6 531.5,399.4 532.5,390.2 532.9,381.2 532.9,372.4 532.3,363.8 531.3,355.5 529.7,347.4 527.7,339.5 525.1,331.9 524.6,332.1 526.3,339.9 527.4,347.8 528.1,355.8 528.3,364 528,372.3 527.2,380.8 525.9,389.4 524.1,398.1 519,406.4" fill="#d9e2e8"/>
<polygon points="528,408.6 528.6,399.1 529.8,390 530.6,381.1 530.9,372.4 530.6,363.9 530,355.6 528.8,347.5 527.1,339.6 525,332 524.7,332.1 526.5,339.8 527.8,347.7 528.6,355.7 529,363.9 528.9,372.3 528.3,380.9 527.2,389.6 525.6,398.5 522.5,407.4" fill="#f5f8fa"/>
<polygon points="531.6,358 534.2,355.5 536.7,352.6 539,349.4 541.1,345.8 543.2,341.8 545.1,337.5 544.2,337.1 541.7,341 539.1,344.5 536.5,347.5 533.9,350 531.3,352.1 528.7,353.7" fill="#a9bac6"/>
<polygon points="531.2,357.3 533.8,355 536.3,352.2 538.6,349.1 540.8,345.6 542.9,341.7 544.9,337.4 544.4,337.2 542,341.2 539.5,344.7 536.9,347.8 534.4,350.4 531.7,352.6 529.1,354.4" fill="#dfe7ec"/>
<polygon points="532.5,358.7 530.1,356.7 527.6,354.3 525.2,351.2 522.7,347.7 520.3,343.6 518,339 517.1,339.3 518.7,344.3 520.5,348.8 522.4,352.9 524.3,356.6 526.5,359.9 528.8,362.8" fill="#a9bac6"/>
<polygon points="532,359.2 529.6,357.2 527.1,354.6 524.7,351.5 522.4,347.9 520,343.7 517.8,339 517.3,339.2 519,344.2 520.9,348.6 522.8,352.7 524.8,356.3 527,359.5 529.3,362.2" fill="#dfe7ec"/>
<polygon points="532.8,362.1 534.2,359.3 535.5,356.2 536.7,352.7 537.9,348.9 538.9,344.5 539.9,339.8 538.9,339.5 537.2,344 535.5,348 533.7,351.5 531.9,354.4 530.2,356.8 528.4,358.7" fill="#a9bac6"/>
<polygon points="532.2,361.6 533.7,359 535,356 536.3,352.5 537.5,348.7 538.6,344.4 539.6,339.7 539.2,339.6 537.5,344.1 535.9,348.1 534.2,351.7 532.5,354.7 530.7,357.2 529,359.1" fill="#dfe7ec"/>
<polygon points="533.2,376.3 530.3,374.3 527.4,371.7 524.5,368.4 521.6,364.5 518.8,360 516,355 515,355.4 516.9,360.9 518.9,366 521.1,370.6 523.4,374.8 525.8,378.5 528.5,381.8" fill="#a9bac6"/>
<polygon points="532.7,376.9 529.9,374.8 527,372 524.1,368.7 521.3,364.7 518.5,360.2 515.7,355.1 515.3,355.3 517.2,360.8 519.3,365.8 521.5,370.3 523.8,374.4 526.3,378.1 529,381.2" fill="#dfe7ec"/>
<polygon points="543.3,412 541.4,402.1 542.6,393 543.7,384.2 544.7,375.5 545.5,367 546.2,358.7 546.7,350.6 547.2,342.7 547.5,335 546.3,334.9 545.1,342.5 543.7,350.3 542.3,358.2 540.7,366.3 539,374.6 537.1,383.1 535.1,391.7 533,400.5 527.6,408.9" fill="#a9bac6"/>
<polygon points="541.1,411.8 539.9,402 541.2,392.9 542.4,384.1 543.4,375.4 544.4,366.9 545.3,358.7 546,350.6 546.6,342.7 547.2,335 546.6,334.9 545.2,342.5 543.8,350.3 542.3,358.2 540.6,366.4 538.9,374.7 537,383.1 535.1,391.8 533,400.6 528.1,409.1" fill="#d9e2e8"/>
<polygon points="536.6,411 537.2,401.6 538.8,392.6 540.2,383.8 541.6,375.2 542.9,366.8 544.1,358.5 545.1,350.5 546.1,342.7 547,335 546.7,334.9 545.5,342.6 544.2,350.4 542.8,358.4 541.3,366.5 539.8,374.9 538.1,383.4 536.3,392.1 534.4,401 531.4,409.9" fill="#f5f8fa"/>
<polygon points="546,356.9 542.7,353.3 539.3,348.7 536,343.3 532.7,337 529.5,329.9 526.4,321.9 525.5,322.2 527.9,330.5 530.5,337.9 533.3,344.7 536.1,350.6 539.2,355.8 542.4,360.3" fill="#a9bac6"/>
<polygon points="545.5,357.4 542.1,353.7 538.8,349 535.5,343.5 532.3,337.2 529.2,330 526.2,322 525.7,322.1 528.3,330.4 530.9,337.8 533.7,344.4 536.6,350.3 539.7,355.4 542.9,359.8" fill="#dfe7ec"/>
<polygon points="544.3,363.8 540.8,362.4 537.3,360.6 533.9,358.5 530.5,355.9 527.1,353 523.9,349.6 523.1,350.2 525.8,354.1 528.7,357.7 531.7,361 535,364 538.4,366.6 541.9,368.9" fill="#a9bac6"/>
<polygon points="544,364.5 540.5,363 537,361.1 533.5,358.9 530.2,356.2 526.9,353.2 523.7,349.7 523.3,350 526.1,353.9 529,357.4 532.1,360.7 535.3,363.5 538.7,366.1 542.3,368.2" fill="#dfe7ec"/>
<polygon points="545.1,359.4 540.4,356.6 535.6,353.1 531,349 526.5,344.1 522,338.5 517.7,332.3 516.8,332.8 520.6,339.5 524.5,345.6 528.7,351.1 533,356 537.6,360.3 542.4,363.9" fill="#a9bac6"/>
<polygon points="544.8,360.1 540,357.2 535.3,353.6 530.6,349.3 526.1,344.3 521.7,338.7 517.5,332.4 517,332.6 520.9,339.3 524.9,345.3 529.1,350.7 533.4,355.5 538,359.7 542.8,363.3" fill="#dfe7ec"/>
<polygon points="467.8,411.4 463.5,402.1 462.5,393 461.2,384.1 459.5,375.5 457.4,367.1 454.9,358.9 452.1,351 449,343.3 445.5,335.8 444.4,336.2 446.9,344 449,351.9 450.8,360 452.2,368.2 453.2,376.5 453.9,385 454.2,393.6 454.2,402.4 450.2,411.3" fill="#a9bac6"/>
<polygon points="465.7,411.4 462,402.1 461.1,393.1 459.8,384.2 458.2,375.6 456.3,367.2 454,359 451.4,351.1 448.5,343.4 445.2,335.9 444.7,336.1 447.1,343.9 449.1,351.8 450.8,359.8 452.2,368 453.2,376.4 453.8,384.9 454.1,393.5 454.1,402.3 450.7,411.3" fill="#d9e2e8"/>
<polygon points="460.4,411.4 458.9,402.2 458.3,393.2 457.4,384.4 456.1,375.8 454.5,367.5 452.7,359.3 450.4,351.3 447.9,343.5 445.1,336 444.8,336.1 447.3,343.7 449.5,351.6 451.3,359.6 452.8,367.8 454,376.1 454.9,384.7 455.5,393.4 455.7,402.3 454.4,411.3" fill="#f5f8fa"/>
<polygon points="460.3,384.1 458.2,382.9 456,381.2 453.8,379 451.5,376.3 449.2,373.2 447,369.6 446.1,370 447.3,374.1 448.6,377.9 450.1,381.4 451.6,384.6 453.4,387.5 455.3,390.1" fill="#a9bac6"/>
<polygon points="459.9,384.7 457.7,383.3 455.5,381.5 453.3,379.2 451.1,376.5 448.9,373.3 446.8,369.7 446.3,369.9 447.6,373.9 449,377.7 450.5,381.1 452.1,384.2 453.9,387 455.8,389.5" fill="#dfe7ec"/>
<polygon points="457.8,370.4 454.3,368.1 450.9,365.2 447.4,361.7 444,357.5 440.6,352.7 437.3,347.3 436.4,347.7 438.9,353.6 441.6,359 444.4,363.9 447.3,368.3 450.5,372.2 453.9,375.6" fill="#a9bac6"/>
<polygon points="457.3,371 453.9,368.6 450.4,365.6 447,362 443.6,357.7 440.3,352.8 437.1,347.4 436.7,347.6 439.2,353.4 441.9,358.8 444.8,363.6 447.8,367.9 451,371.7 454.3,375" fill="#dfe7ec"/>
<polygon points="447,413 444.8,403 445.2,393.6 445.1,384.5 444.4,375.6 443.3,367 441.6,358.6 439.5,350.4 436.8,342.5 433.7,334.8 432.6,335.2 434.8,343.1 436.6,351.1 437.9,359.2 438.6,367.5 438.9,375.9 438.7,384.5 438,393.2 436.8,402.1 432,410.6" fill="#a9bac6"/>
<polygon points="444.9,412.8 443.3,402.9 443.7,393.6 443.7,384.5 443.2,375.7 442.2,367.1 440.7,358.7 438.7,350.5 436.3,342.6 433.4,334.9 432.8,335.1 435,343 436.7,351 437.9,359.1 438.6,367.4 438.8,375.9 438.6,384.5 437.9,393.2 436.7,402.2 432.6,410.8" fill="#d9e2e8"/>
<polygon points="440.7,412.2 440.8,402.7 441.5,393.5 441.7,384.5 441.5,375.8 440.8,367.2 439.6,358.8 437.9,350.7 435.8,342.7 433.3,335 433,335.1 435.3,342.9 437.1,350.9 438.4,359 439.3,367.3 439.7,375.8 439.7,384.5 439.2,393.3 438.2,402.4 435.7,411.4" fill="#f5f8fa"/>
<polygon points="440.9,357.4 437.3,355.9 433.8,353.9 430.3,351.5 426.8,348.7 423.4,345.4 420.1,341.8 419.3,342.4 422.2,346.5 425.2,350.3 428.3,353.7 431.6,356.8 435.1,359.5 438.8,361.9" fill="#a9bac6"/>
<polygon points="440.6,358.1 437,356.5 433.4,354.4 429.9,351.9 426.5,349 423.2,345.7 419.9,341.9 419.5,342.2 422.4,346.3 425.5,350 428.6,353.4 432,356.4 435.5,359 439.1,361.2" fill="#dfe7ec"/>
<polygon points="443.7,382 446.6,379.1 449.3,375.7 451.8,372 454.2,367.8 456.4,363.2 458.6,358.1 457.7,357.7 454.8,362.2 451.9,366.2 448.9,369.7 445.9,372.6 442.9,375 439.9,376.8" fill="#a9bac6"/>
<polygon points="443.3,381.4 446.2,378.6 448.9,375.3 451.4,371.6 453.9,367.5 456.2,363 458.3,358 457.9,357.8 455.1,362.4 452.2,366.5 449.3,370 446.3,373 443.3,375.5 440.4,377.4" fill="#dfe7ec"/>
<polygon points="407.6,410.4 401.3,400.7 398.5,390.5 395.8,380.5 393.2,370.7 390.7,361.1 388.3,351.7 386,342.6 383.7,333.6 381.6,324.9 380.4,325.1 381.6,334 382.8,343.2 384.2,352.6 385.6,362.2 387.1,372 388.7,382 390.4,392.3 392.2,402.8 390.6,414.3" fill="#a9bac6"/>
<polygon points="405.5,410.7 399.8,400.9 397.1,390.7 394.5,380.7 392,370.8 389.7,361.2 387.4,351.8 385.3,342.7 383.2,333.7 381.3,324.9 380.7,325 381.8,333.9 382.9,343.1 384.2,352.4 385.5,362 387,371.8 388.6,381.9 390.4,392.1 392.2,402.6 391.2,414" fill="#d9e2e8"/>
<polygon points="400.5,411.7 396.7,401.4 394.3,391.1 392.1,381 389.9,371.1 387.9,361.5 386,352 384.3,342.8 382.7,333.8 381.2,324.9 380.9,325 382,333.9 383.3,343 384.7,352.3 386.2,361.8 387.9,371.5 389.7,381.5 391.6,391.7 393.7,402.1 394.7,413" fill="#f5f8fa"/>
<polygon points="387.4,348.7 384.2,346.7 381,344.3 377.8,341.3 374.7,337.8 371.6,333.8 368.6,329.3 367.8,329.8 370.2,334.7 372.8,339.2 375.5,343.3 378.3,346.9 381.4,350.1 384.6,352.9" fill="#a9bac6"/>
<polygon points="386.9,349.3 383.7,347.2 380.6,344.7 377.4,341.6 374.3,338.1 371.3,334 368.4,329.5 368,329.7 370.5,334.6 373.1,339 375.8,343 378.7,346.5 381.8,349.6 385,352.3" fill="#dfe7ec"/>
<polygon points="390.6,364.6 384.6,362.3 378.7,359.6 372.9,356.2 367.2,352.3 361.7,347.8 356.3,342.7 355.5,343.3 360.3,349.1 365.4,354.4 370.7,359.2 376.3,363.5 382.1,367.3 388.2,370.5" fill="#a9bac6"/>
<polygon points="390.3,365.3 384.3,362.9 378.4,360.1 372.6,356.6 367,352.6 361.4,348 356.1,342.8 355.7,343.2 360.6,348.9 365.7,354.1 371,358.8 376.6,363 382.4,366.7 388.5,369.8" fill="#dfe7ec"/>
<polygon points="393,374.9 388.7,373.5 384.4,371.8 380.2,369.6 376,366.9 371.9,363.8 367.9,360.3 367.1,361 370.5,365.3 374,369.3 377.8,372.9 381.7,376.2 385.9,379.1 390.3,381.7" fill="#a9bac6"/>
<polygon points="392.7,375.6 388.4,374.1 384.1,372.3 379.9,370 375.8,367.2 371.7,364.1 367.7,360.5 367.3,360.8 370.7,365 374.3,368.9 378,372.5 382,375.7 386.2,378.5 390.6,381" fill="#dfe7ec"/>
<polygon points="385.3,341.2 381.1,339.6 376.9,337.5 372.8,335 368.8,332.1 364.9,328.8 361.1,325 360.3,325.7 363.8,329.9 367.4,333.7 371.2,337.2 375.1,340.3 379.3,343 383.6,345.4" fill="#a9bac6"/>
<polygon points="385,341.9 380.8,340.2 376.6,338 372.5,335.4 368.6,332.4 364.7,329 360.9,325.2 360.5,325.5 364,329.7 367.7,333.4 371.5,336.8 375.5,339.8 379.6,342.4 383.9,344.7" fill="#dfe7ec"/>
<polygon points="563,412.8 560,405.1 560,397.7 560.1,390.4 560.2,383.3 560.3,376.3 560.6,369.5 560.9,362.8 561.2,356.3 561.7,349.9 560.5,349.8 559.3,356.1 558.1,362.5 557,369.2 556,376 555.1,382.9 554.2,390.1 553.3,397.3 552.6,404.8 549,412.3" fill="#a9bac6"/>
<polygon points="560.9,412.7 558.5,405.1 558.6,397.7 558.7,390.4 559,383.3 559.3,376.3 559.7,369.5 560.1,362.8 560.7,356.3 561.4,349.9 560.8,349.8 559.5,356.1 558.2,362.6 557.1,369.2 556,376 555,383 554.1,390.1 553.3,397.4 552.5,404.8 549.5,412.3" fill="#d9e2e8"/>
<polygon points="557.1,412.6 556.3,405 556.6,397.6 557,390.3 557.5,383.2 558,376.2 558.7,369.4 559.4,362.7 560.3,356.2 561.2,349.9 560.9,349.8 559.7,356.1 558.6,362.6 557.6,369.3 556.7,376.1 555.8,383.1 555.1,390.2 554.5,397.5 553.9,404.9 552.5,412.5" fill="#f5f8fa"/>
<polygon points="558.7,391.4 564.2,387.7 569.5,383.4 574.5,378.5 579.3,372.9 583.9,366.9 588.2,360.2 587.4,359.6 582.4,365.7 577.3,371.1 572,375.8 566.7,379.8 561.3,383.1 555.8,385.8" fill="#a9bac6"/>
<polygon points="558.3,390.8 563.9,387.2 569.1,382.9 574.2,378.1 579,372.7 583.6,366.6 588,360 587.6,359.7 582.7,365.9 577.6,371.4 572.4,376.2 567,380.3 561.6,383.7 556.1,386.5" fill="#dfe7ec"/>
<polygon points="559.4,388.4 561.9,385.3 564.2,381.7 566.4,377.8 568.4,373.4 570.3,368.5 572.1,363.1 571.2,362.8 568.6,367.7 566,372.1 563.4,375.9 560.7,379.1 558,381.8 555.4,383.8" fill="#a9bac6"/>
<polygon points="558.9,387.8 561.4,384.8 563.8,381.4 566,377.5 568,373.2 570,368.3 571.9,363 571.4,362.9 568.9,367.9 566.4,372.3 563.8,376.2 561.1,379.5 558.5,382.2 555.9,384.4" fill="#dfe7ec"/>
<polygon points="557.6,413.2 553.4,405.3 552.3,397.2 551.4,389.2 550.7,381.4 550.2,373.8 549.9,366.3 549.8,358.9 549.9,351.7 550.2,344.7 549,344.5 547.9,351.6 547,358.8 546.3,366.2 545.8,373.8 545.5,381.5 545.4,389.5 545.4,397.7 545.7,406 543.3,414.9" fill="#a9bac6"/>
<polygon points="555.4,413.4 551.8,405.4 550.9,397.3 550.1,389.3 549.5,381.5 549.1,373.8 549,366.3 549.1,358.9 549.4,351.7 549.9,344.6 549.3,344.6 548.1,351.6 547.1,358.8 546.3,366.2 545.8,373.7 545.4,381.5 545.3,389.5 545.4,397.6 545.7,405.9 543.8,414.7" fill="#d9e2e8"/>
<polygon points="551.5,413.8 549.6,405.6 548.8,397.4 548.3,389.3 547.9,381.5 547.8,373.8 548,366.2 548.3,358.9 548.9,351.7 549.7,344.6 549.4,344.6 548.4,351.6 547.5,358.8 546.9,366.2 546.4,373.7 546.3,381.5 546.3,389.4 546.6,397.5 547.1,405.8 546.9,414.3" fill="#f5f8fa"/>
<polygon points="549.7,363.4 546.6,360.8 543.6,357.5 540.5,353.6 537.6,349 534.7,343.7 531.9,337.9 530.9,338.3 533.2,344.4 535.6,350 538.1,355 540.8,359.5 543.6,363.5 546.6,366.9" fill="#a9bac6"/>
<polygon points="549.2,363.9 546.1,361.2 543.1,357.8 540.1,353.8 537.2,349.2 534.4,343.9 531.6,338 531.2,338.2 533.5,344.3 536,349.8 538.6,354.8 541.3,359.2 544.1,363 547.1,366.3" fill="#dfe7ec"/>
<polygon points="550.3,378 548,375.3 545.6,372 543.2,368 540.9,363.2 538.6,357.8 536.3,351.8 535.4,352 536.8,358.4 538.4,364.1 540.1,369.3 541.8,374 543.7,378 545.8,381.6" fill="#a9bac6"/>
<polygon points="549.7,378.4 547.4,375.7 545.1,372.3 542.7,368.2 540.5,363.4 538.2,357.9 536.1,351.8 535.6,352 537.2,358.3 538.8,364 540.5,369.1 542.4,373.7 544.3,377.7 546.4,381.2" fill="#dfe7ec"/>
<polygon points="549.3,374.4 546.2,373 543.1,371.1 540,368.9 536.9,366.2 533.8,363.1 530.9,359.5 530,360.1 532.4,364.1 535,367.8 537.6,371.2 540.5,374.3 543.5,377 546.7,379.4" fill="#a9bac6"/>
<polygon points="549,375.1 545.8,373.5 542.7,371.6 539.6,369.2 536.6,366.4 533.6,363.3 530.7,359.6 530.3,359.9 532.7,363.9 535.3,367.6 538,370.9 540.9,373.8 543.9,376.4 547.1,378.7" fill="#dfe7ec"/>
<polygon points="550.2,384 546.8,381.7 543.4,378.9 540,375.4 536.7,371.2 533.4,366.5 530.2,361.1 529.3,361.5 531.7,367.4 534.3,372.7 537.1,377.5 540,381.9 543.1,385.7 546.4,389.1" fill="#a9bac6"/>
<polygon points="549.7,384.6 546.3,382.2 543,379.3 539.6,375.7 536.3,371.5 533.1,366.6 530,361.2 529.5,361.4 532,367.2 534.7,372.5 537.5,377.2 540.4,381.5 543.5,385.2 546.8,388.5" fill="#dfe7ec"/>
<polygon points="506.3,413.3 502,403.9 501.4,394.4 501.5,385 502.2,375.8 503.6,366.7 505.7,357.7 508.5,348.9 511.9,340.3 516,331.8 515,331.2 510.1,339.4 505.8,347.9 502.2,356.6 499.2,365.6 496.9,374.9 495.3,384.4 494.3,394.3 494.1,404.3 491.4,415" fill="#a9bac6"/>
<polygon points="504.1,413.4 500.5,404 500,394.4 500.2,385 501,375.7 502.6,366.6 504.8,357.6 507.8,348.8 511.4,340.1 515.7,331.6 515.2,331.3 510.2,339.5 505.9,348 502.2,356.7 499.2,365.7 496.8,375 495.2,384.5 494.3,394.3 494,404.3 492,414.8" fill="#d9e2e8"/>
<polygon points="500,413.8 498,404.1 497.8,394.3 498.2,384.8 499.4,375.5 501.2,366.3 503.8,357.4 507,348.6 511,340 515.6,331.5 515.4,331.4 510.4,339.7 506.2,348.2 502.7,357 499.8,366 497.7,375.2 496.2,384.6 495.5,394.3 495.5,404.2 495.1,414.4" fill="#f5f8fa"/>
<polygon points="501,385.8 502.5,383.1 503.7,380.1 504.9,376.8 505.9,373.1 506.9,369.1 507.8,364.6 506.9,364.4 505.1,368.4 503.2,372.1 501.4,375.2 499.5,377.8 497.7,379.9 496,381.5" fill="#a9bac6"/>
<polygon points="500.5,385.3 501.9,382.7 503.2,379.8 504.4,376.6 505.5,373 506.6,369 507.6,364.6 507.1,364.4 505.4,368.5 503.6,372.2 501.8,375.4 500.1,378.1 498.3,380.3 496.5,382" fill="#dfe7ec"/>
<polygon points="506.9,352.4 504.9,350 503,347 501,343.4 499.1,339.2 497.2,334.4 495.3,329.1 494.4,329.3 495.7,334.9 497,339.9 498.4,344.5 499.9,348.5 501.5,352.1 503.3,355.2" fill="#a9bac6"/>
<polygon points="506.3,352.9 504.4,350.4 502.4,347.3 500.5,343.6 498.7,339.4 496.9,334.5 495.1,329.1 494.6,329.2 496,334.8 497.4,339.8 498.9,344.3 500.4,348.3 502.1,351.8 503.9,354.7" fill="#dfe7ec"/>
<polygon points="363,417.5 358.2,408.3 356.4,399 354.6,389.8 352.9,380.8 351.2,372.1 349.6,363.5 348,355.1 346.4,346.9 344.9,338.9 343.7,339 344.4,347.2 345.1,355.5 345.9,364 346.7,372.7 347.5,381.6 348.4,390.7 349.4,400 350.4,409.5 348.4,419.7" fill="#a9bac6"/>
<polygon points="360.9,417.7 356.6,408.5 354.9,399.1 353.3,389.9 351.7,380.9 350.1,372.1 348.6,363.6 347.2,355.1 345.9,346.9 344.6,338.9 344,339 344.6,347.1 345.2,355.4 345.9,363.9 346.7,372.6 347.5,381.5 348.4,390.6 349.3,399.9 350.3,409.4 348.9,419.5" fill="#d9e2e8"/>
<polygon points="356.8,418.2 354.3,408.7 352.8,399.3 351.4,390.1 350,381.1 348.8,372.3 347.6,363.7 346.5,355.2 345.4,347 344.4,338.9 344.1,339 344.8,347.1 345.6,355.3 346.4,363.8 347.3,372.5 348.3,381.3 349.4,390.4 350.5,399.7 351.7,409.1 352,418.9" fill="#f5f8fa"/>
<polygon points="347.8,356.5 344.4,355.3 341.1,353.8 337.9,352 334.7,349.9 331.6,347.4 328.5,344.6 327.8,345.3 330.5,348.5 333.3,351.5 336.3,354.2 339.4,356.7 342.7,358.8 346.2,360.6" fill="#a9bac6"/>
<polygon points="347.5,357.2 344.1,355.9 340.8,354.3 337.6,352.4 334.4,350.2 331.3,347.7 328.3,344.8 328,345.1 330.7,348.3 333.6,351.2 336.6,353.8 339.7,356.2 343,358.2 346.5,359.9" fill="#dfe7ec"/>
<polygon points="350.8,372.7 345.9,369.8 341,366.1 336.3,361.8 331.6,356.7 327,350.8 322.5,344.3 321.6,344.8 325.5,351.8 329.5,358.2 333.8,364 338.2,369.1 342.9,373.6 347.9,377.5" fill="#a9bac6"/>
<polygon points="350.4,373.3 345.5,370.3 340.6,366.5 335.9,362.1 331.2,356.9 326.7,351 322.3,344.4 321.8,344.7 325.8,351.6 329.9,357.9 334.2,363.6 338.6,368.7 343.3,373.1 348.3,376.8" fill="#dfe7ec"/>
<polygon points="348.5,357.9 346.5,356.5 344.5,354.7 342.5,352.6 340.5,350 338.5,347 336.6,343.7 335.6,344.1 337.1,347.8 338.6,351.1 340.2,354.1 341.9,356.9 343.8,359.3 345.8,361.5" fill="#a9bac6"/>
<polygon points="348.1,358.5 346.1,357 344,355.1 342.1,352.9 340.1,350.2 338.2,347.2 336.3,343.8 335.9,344 337.4,347.6 339,350.9 340.6,353.9 342.4,356.5 344.2,358.8 346.2,360.9" fill="#dfe7ec"/>
<polygon points="415.4,419.4 410.9,409.8 409.6,400.2 408.3,390.7 407.1,381.5 406,372.4 405,363.6 404,354.9 403.1,346.5 402.2,338.2 401,338.3 401,346.6 401.1,355.1 401.2,363.8 401.4,372.8 401.7,381.9 402,391.3 402.4,400.8 402.9,410.6 400.3,420.9" fill="#a9bac6"/>
<polygon points="413.2,419.5 409.4,409.9 408.1,400.3 407,390.8 405.9,381.5 405,372.5 404.1,363.6 403.3,355 402.6,346.5 401.9,338.2 401.3,338.2 401.2,346.5 401.2,355.1 401.2,363.8 401.4,372.7 401.6,381.9 401.9,391.2 402.4,400.7 402.8,410.5 400.9,420.7" fill="#d9e2e8"/>
<polygon points="409,419.9 406.9,410.1 405.9,400.4 405,390.9 404.2,381.6 403.6,372.6 403,363.7 402.5,355 402.1,346.5 401.8,338.2 401.5,338.2 401.5,346.5 401.6,355 401.8,363.7 402.1,372.6 402.5,381.8 403,391.1 403.6,400.6 404.3,410.3 404.1,420.4" fill="#f5f8fa"/>
<polygon points="404.1,356.9 401.7,355.2 399.2,353 396.7,350.4 394.3,347.3 392,343.7 389.6,339.7 388.7,340.2 390.6,344.5 392.5,348.4 394.5,352 396.7,355.2 399,358 401.4,360.5" fill="#a9bac6"/>
<polygon points="403.7,357.5 401.2,355.7 398.8,353.4 396.3,350.7 394,347.5 391.7,343.9 389.4,339.8 389,340.1 390.9,344.3 392.8,348.2 394.9,351.7 397.1,354.8 399.4,357.6 401.9,359.9" fill="#dfe7ec"/>
<polygon points="404.6,366 408.7,361.9 412.6,357.2 416.2,351.8 419.7,345.6 423,338.9 426.2,331.4 425.3,331 421.6,338.1 417.7,344.5 413.8,350.1 409.8,354.9 405.7,358.9 401.6,362.2" fill="#a9bac6"/>
<polygon points="404.2,365.4 408.2,361.5 412.1,356.8 415.8,351.5 419.4,345.4 422.7,338.7 426,331.3 425.5,331.1 421.9,338.3 418.1,344.7 414.2,350.4 410.2,355.3 406.2,359.4 402.1,362.8" fill="#dfe7ec"/>
<polygon points="403.9,351.9 400.7,348.4 397.4,344 394.2,338.7 391.1,332.6 388.1,325.7 385.1,318 384.1,318.3 386.6,326.3 389.2,333.4 392,339.8 394.8,345.5 397.8,350.5 401,354.7" fill="#a9bac6"/>
<polygon points="403.4,352.5 400.1,348.8 396.9,344.3 393.8,338.9 390.7,332.8 387.7,325.9 384.9,318.1 384.4,318.3 386.9,326.1 389.6,333.3 392.4,339.6 395.3,345.2 398.3,350.1 401.5,354.2" fill="#dfe7ec"/>
<polygon points="563.9,421.1 561.2,410.8 561.5,401 561.5,391.4 561.3,382.1 560.8,373 560,364.1 558.9,355.5 557.6,347.1 555.9,338.9 554.8,339.1 555.5,347.3 555.9,355.7 556,364.3 555.9,373.1 555.5,382.1 554.9,391.2 553.9,400.5 552.7,410 548,419.3" fill="#a9bac6"/>
<polygon points="561.7,421 559.7,410.7 560,401 560.2,391.4 560.1,382.1 559.7,373 559.1,364.2 558.2,355.5 557,347.1 555.6,338.9 555.1,339 555.6,347.3 556,355.7 556.1,364.3 555.9,373.1 555.5,382 554.8,391.2 553.9,400.5 552.7,410 548.5,419.4" fill="#d9e2e8"/>
<polygon points="557.2,420.5 557,410.5 557.6,400.8 558,391.4 558.2,382.1 558.1,373.1 557.8,364.2 557.3,355.6 556.5,347.2 555.5,338.9 555.2,339 555.9,347.2 556.4,355.6 556.6,364.2 556.6,373.1 556.3,382.1 555.9,391.3 555.1,400.6 554.2,410.2 551.9,419.9" fill="#f5f8fa"/>
<polygon points="559.4,358.6 555.7,355 551.9,350.4 548.3,345 544.7,338.7 541.2,331.6 537.8,323.6 536.9,323.9 539.7,332.2 542.7,339.6 545.8,346.4 549.1,352.3 552.5,357.5 556.1,362" fill="#a9bac6"/>
<polygon points="558.9,359.2 555.1,355.4 551.5,350.7 547.9,345.2 544.3,338.9 540.9,331.7 537.6,323.6 537.1,323.8 540,332 543.1,339.5 546.3,346.1 549.6,352 553,357.1 556.6,361.4" fill="#dfe7ec"/>
<polygon points="560.3,379 562.4,376.5 564.3,373.7 566.1,370.6 567.8,367.1 569.3,363.3 570.8,359.2 569.9,358.8 567.7,362.5 565.5,365.8 563.2,368.6 561,371 558.7,372.9 556.5,374.4" fill="#a9bac6"/>
<polygon points="559.8,378.4 561.9,376 563.9,373.3 565.7,370.3 567.4,366.9 569,363.2 570.6,359.1 570.1,358.9 568,362.7 565.8,366 563.6,368.9 561.4,371.4 559.2,373.4 557,374.9" fill="#dfe7ec"/>
<polygon points="559.7,390.8 554.9,388.6 550.2,385.9 545.5,382.6 540.8,378.6 536.3,374 531.8,368.9 531,369.4 534.7,375.3 538.6,380.7 542.7,385.6 547,390 551.6,393.9 556.4,397.3" fill="#a9bac6"/>
<polygon points="559.4,391.4 554.6,389.2 549.8,386.4 545.1,382.9 540.5,378.9 536,374.3 531.6,369 531.2,369.3 534.9,375.1 538.9,380.4 543,385.2 547.4,389.5 551.9,393.3 556.8,396.6" fill="#dfe7ec"/>
<polygon points="479.7,425.9 473.5,415.4 470.8,404.3 468.4,393.5 466.4,382.9 464.6,372.6 463.1,362.4 461.9,352.4 461,342.7 460.4,333.2 459.2,333.1 458.9,342.7 458.9,352.6 459.2,362.7 459.9,373.1 460.8,383.7 462.1,394.6 463.6,405.7 465.5,417.1 464.6,429.5" fill="#a9bac6"/>
<polygon points="477.5,426.2 472,415.5 469.4,404.5 467.1,393.6 465.1,383 463.5,372.6 462.2,362.4 461.2,352.5 460.5,342.7 460.1,333.2 459.5,333.1 459.1,342.7 459,352.6 459.3,362.7 459.8,373 460.7,383.6 462,394.5 463.5,405.6 465.4,416.9 465.1,429.2" fill="#d9e2e8"/>
<polygon points="473.2,427.1 469.5,416 467.1,404.8 465.1,393.9 463.4,383.2 462,372.8 461,362.5 460.3,352.5 460,342.7 460,333.2 459.7,333.1 459.4,342.7 459.4,352.5 459.8,362.6 460.5,372.9 461.6,383.4 463,394.2 464.8,405.3 466.8,416.5 468.3,428.3" fill="#f5f8fa"/>
<polygon points="462.3,353.8 460.6,351.8 458.9,349.3 457.2,346.2 455.6,342.7 453.9,338.6 452.3,334 451.4,334.3 452.4,339 453.6,343.4 454.7,347.3 456,350.7 457.4,353.8 458.8,356.5" fill="#a9bac6"/>
<polygon points="461.7,354.2 460.1,352.1 458.4,349.5 456.8,346.4 455.2,342.8 453.6,338.7 452.1,334.1 451.6,334.2 452.7,338.9 453.9,343.2 455.2,347.1 456.5,350.5 457.9,353.4 459.4,356" fill="#dfe7ec"/>
<polygon points="462.5,359.8 465,356.2 467.4,352 469.6,347.3 471.8,341.9 473.8,336 475.7,329.4 474.8,329.1 472.3,335.4 469.7,341.1 467.1,346 464.5,350.3 461.8,353.8 459.1,356.7" fill="#a9bac6"/>
<polygon points="462,359.3 464.5,355.8 466.9,351.7 469.2,347.1 471.4,341.8 473.5,335.9 475.5,329.3 475,329.2 472.6,335.5 470.1,341.2 467.6,346.2 465,350.6 462.3,354.2 459.7,357.2" fill="#dfe7ec"/>
<polygon points="470.5,428.7 465.9,417 464.1,405.2 462.1,393.7 459.8,382.4 457.4,371.4 454.8,360.7 451.9,350.2 448.9,340 445.7,330 444.6,330.4 447,340.5 449.2,350.9 451.3,361.4 453.1,372.2 454.7,383.3 456.2,394.6 457.4,406.1 458.5,417.8 456.4,430" fill="#a9bac6"/>
<polygon points="468.3,428.8 464.4,417 462.7,405.3 460.7,393.8 458.6,382.5 456.3,371.5 453.9,360.8 451.2,350.3 448.4,340.1 445.4,330.1 444.8,330.3 447.2,340.4 449.3,350.7 451.3,361.3 453.1,372.1 454.7,383.2 456.1,394.5 457.3,406 458.4,417.7 457,429.9" fill="#d9e2e8"/>
<polygon points="464.5,429.2 462.2,417.2 460.7,405.5 459,394 457.1,382.7 455.1,371.7 452.9,360.9 450.5,350.4 448,340.2 445.3,330.2 445,330.2 447.4,340.3 449.7,350.6 451.8,361.2 453.7,372 455.5,383 457.1,394.3 458.5,405.8 459.8,417.5 460,429.6" fill="#f5f8fa"/>
<polygon points="461.9,393.8 458.9,390.6 455.9,386.5 452.9,381.5 449.9,375.8 447,369.2 444.1,361.8 443.2,362.1 445.2,369.8 447.2,376.8 449.4,383.1 451.7,388.8 454.2,393.7 456.9,398.1" fill="#a9bac6"/>
<polygon points="461.3,394.3 458.4,391 455.4,386.8 452.4,381.7 449.5,375.9 446.7,369.3 443.9,361.8 443.4,362 445.5,369.7 447.6,376.6 449.9,382.9 452.3,388.5 454.8,393.4 457.5,397.6" fill="#dfe7ec"/>
<polygon points="460.8,393.1 463,390 465,386.5 466.8,382.6 468.6,378.3 470.2,373.5 471.7,368.2 470.8,367.9 468.5,372.8 466.1,377.1 463.7,380.8 461.2,384 458.8,386.6 456.4,388.6" fill="#a9bac6"/>
<polygon points="460.3,392.5 462.5,389.6 464.5,386.2 466.4,382.4 468.2,378.1 469.9,373.4 471.5,368.2 471,368 468.8,372.9 466.5,377.3 464.1,381.1 461.7,384.3 459.3,387 456.9,389.1" fill="#dfe7ec"/>
<polygon points="459.5,380.7 457.4,378.7 455.3,376.1 453.2,372.9 451.1,369.2 449.1,364.9 447,360.1 446.1,360.4 447.3,365.5 448.7,370.2 450.1,374.4 451.6,378.2 453.2,381.6 455,384.5" fill="#a9bac6"/>
<polygon points="458.9,381.2 456.9,379.1 454.8,376.4 452.7,373.1 450.7,369.3 448.7,365 446.8,360.1 446.3,360.3 447.7,365.4 449.1,370 450.5,374.2 452.1,377.9 453.8,381.2 455.6,384" fill="#dfe7ec"/>
<polygon points="457.9,379.6 460.9,376.8 463.6,373.5 466.2,369.9 468.7,365.8 471,361.3 473.2,356.3 472.3,355.9 469.5,360.4 466.6,364.4 463.6,367.8 460.7,370.8 457.7,373.2 454.7,375.1" fill="#a9bac6"/>
<polygon points="457.5,379 460.4,376.3 463.2,373.1 465.8,369.5 468.3,365.5 470.7,361.1 473,356.2 472.5,356 469.8,360.6 466.9,364.6 464,368.1 461.1,371.2 458.1,373.7 455.1,375.7" fill="#dfe7ec"/>
<polygon points="446.4,430.6 444.6,419 445.3,407.3 446.2,395.3 447,382.8 447.9,370 448.8,356.8 449.7,343.3 450.6,329.3 451.6,315.1 450.4,314.9 448.7,329.2 447.1,343 445.5,356.5 443.9,369.6 442.3,382.4 440.7,394.7 439.2,406.7 437.7,418.4 433.6,429.4" fill="#a9bac6"/>
<polygon points="444.3,430.5 443,419 443.9,407.3 444.8,395.2 445.8,382.8 446.8,370 447.9,356.8 449,343.2 450.1,329.3 451.3,315 450.7,315 448.9,329.2 447.2,343.1 445.5,356.5 443.8,369.7 442.2,382.4 440.6,394.8 439.1,406.8 437.6,418.4 434.1,429.5" fill="#d9e2e8"/>
<polygon points="440.9,430.2 441.1,418.8 442.2,407.1 443.3,395.1 444.5,382.7 445.7,369.9 447,356.7 448.3,343.2 449.7,329.3 451.1,315 450.9,315 449.2,329.2 447.6,343.1 446,356.6 444.5,369.8 443,382.5 441.6,394.9 440.3,406.9 439,418.6 436.9,429.8" fill="#f5f8fa"/>
<polygon points="449.5,340.9 446.7,339.2 443.9,337 441.2,334.3 438.5,331.2 435.8,327.7 433.3,323.7 432.4,324.2 434.6,328.5 436.9,332.4 439.3,335.9 441.8,339.1 444.5,341.8 447.4,344.2" fill="#a9bac6"/>
<polygon points="449.1,341.5 446.3,339.7 443.5,337.4 440.8,334.6 438.1,331.5 435.5,327.9 433,323.8 432.6,324.1 434.8,328.3 437.2,332.1 439.7,335.6 442.2,338.6 444.9,341.3 447.8,343.6" fill="#dfe7ec"/>
<polygon points="448.2,354.8 445.3,353.3 442.3,351.3 439.5,349 436.6,346.2 433.8,343 431.1,339.5 430.2,340 432.5,344 434.9,347.6 437.5,350.9 440.2,353.9 443,356.5 446,358.7" fill="#a9bac6"/>
<polygon points="447.8,355.5 444.9,353.8 442,351.8 439.1,349.3 436.3,346.5 433.5,343.2 430.9,339.6 430.4,339.8 432.8,343.8 435.3,347.3 437.8,350.6 440.5,353.4 443.4,355.9 446.4,358.1" fill="#dfe7ec"/>
<polygon points="408.6,434 406.8,421.6 408.3,410.2 409.3,399.2 410,388.3 410.4,377.8 410.3,367.5 409.8,357.5 409,347.7 407.8,338.2 406.6,338.3 406.7,347.8 406.5,357.5 405.9,367.4 404.9,377.4 403.5,387.7 401.8,398.2 399.7,408.9 397.2,419.7 390.7,430" fill="#a9bac6"/>
<polygon points="406.5,433.7 405.3,421.4 406.8,410.1 408,399.1 408.8,388.3 409.3,377.8 409.4,367.5 409.1,357.5 408.5,347.7 407.5,338.2 406.9,338.3 406.9,347.8 406.6,357.5 405.9,367.4 404.9,377.5 403.5,387.7 401.7,398.2 399.6,409 397.2,419.9 391.2,430.3" fill="#d9e2e8"/>
<polygon points="401.1,432.7 402,421 403.9,409.8 405.4,398.9 406.5,388.1 407.4,377.7 407.9,367.5 408,357.5 407.9,347.7 407.4,338.3 407.1,338.3 407.2,347.8 407,357.5 406.5,367.4 405.6,377.5 404.4,387.9 402.8,398.5 401,409.3 398.8,420.3 395,431.3" fill="#f5f8fa"/>
<polygon points="409.9,379.9 407,376.6 404.1,372.5 401.2,367.6 398.3,361.8 395.6,355.3 392.8,347.9 391.9,348.2 393.7,355.9 395.7,362.8 397.8,369.1 399.9,374.7 402.3,379.7 404.8,384" fill="#a9bac6"/>
<polygon points="409.3,380.3 406.4,377 403.6,372.8 400.7,367.8 398,362 395.2,355.4 392.6,348 392.1,348.1 394,355.8 396.1,362.7 398.2,368.9 400.5,374.4 402.8,379.3 405.4,383.5" fill="#dfe7ec"/>
<polygon points="408.8,375.3 404,373.4 399.3,370.9 394.6,368 390,364.6 385.4,360.6 381,356.1 380.2,356.7 384.1,361.9 388.1,366.6 392.3,370.8 396.8,374.7 401.4,378 406.4,380.9" fill="#a9bac6"/>
<polygon points="408.5,375.9 403.7,373.9 398.9,371.4 394.3,368.4 389.7,364.9 385.2,360.8 380.8,356.2 380.4,356.6 384.3,361.6 388.4,366.3 392.6,370.4 397.1,374.2 401.8,377.4 406.7,380.3" fill="#dfe7ec"/>
<polygon points="516.1,431.5 510.3,421.7 508.1,411.4 506.3,401.4 504.9,391.5 503.8,381.8 503.2,372.3 503,362.9 503.1,353.8 503.7,344.8 502.5,344.7 501,353.6 499.9,362.8 499.2,372.3 498.9,382 499,391.9 499.5,402.1 500.4,412.6 501.7,423.3 500.1,434.9" fill="#a9bac6"/>
<polygon points="514,431.8 508.7,421.9 506.6,411.6 504.9,401.5 503.7,391.5 502.8,381.8 502.3,372.3 502.3,362.9 502.6,353.8 503.4,344.8 502.8,344.7 501.2,353.6 500,362.8 499.2,372.2 498.9,381.9 498.9,391.9 499.4,402 500.3,412.5 501.7,423.1 500.7,434.6" fill="#d9e2e8"/>
<polygon points="509.4,432.6 506,422.2 504.1,411.8 502.7,401.6 501.7,391.6 501.2,381.9 501,372.3 501.3,362.9 502.1,353.7 503.2,344.8 502.9,344.7 501.5,353.7 500.4,362.8 499.8,372.3 499.6,381.9 499.8,391.8 500.5,401.9 501.6,412.2 503.1,422.8 504,433.8" fill="#f5f8fa"/>
<polygon points="504.3,393.5 505.8,390.9 507.1,388 508.3,384.8 509.4,381.2 510.4,377.3 511.4,373.1 510.4,372.8 508.6,376.7 506.8,380.1 505,383.1 503.1,385.7 501.3,387.7 499.5,389.2" fill="#a9bac6"/>
<polygon points="503.7,393 505.2,390.5 506.6,387.7 507.8,384.6 509,381.1 510.1,377.2 511.1,373 510.7,372.9 508.9,376.8 507.2,380.3 505.4,383.4 503.6,385.9 501.8,388 500.1,389.7" fill="#dfe7ec"/>
<polygon points="502.2,367 507.3,364.3 512.2,361.2 516.9,357.6 521.4,353.5 525.7,349 529.8,344.1 529,343.5 524.5,347.9 519.9,351.9 515.2,355.4 510.4,358.4 505.5,360.9 500.5,362.9" fill="#a9bac6"/>
<polygon points="501.9,366.3 507,363.7 511.9,360.7 516.6,357.2 521.1,353.2 525.4,348.8 529.6,343.9 529.2,343.6 524.8,348.2 520.2,352.2 515.5,355.8 510.7,358.9 505.8,361.5 500.8,363.6" fill="#dfe7ec"/>
<polygon points="503,364.6 505,361.8 506.9,358.5 508.7,354.8 510.4,350.6 512,346 513.6,340.9 512.6,340.6 510.6,345.4 508.5,349.8 506.4,353.5 504.2,356.8 502,359.5 499.9,361.6" fill="#a9bac6"/>
<polygon points="502.5,364.1 504.5,361.4 506.5,358.2 508.3,354.6 510,350.4 511.7,345.9 513.3,340.8 512.8,340.7 510.9,345.5 508.9,349.9 506.8,353.8 504.7,357.1 502.6,359.9 500.4,362.1" fill="#dfe7ec"/>
<polygon points="503.1,362.5 500.6,359.4 498,355.6 495.5,351.1 493.1,345.8 490.7,339.8 488.4,333.1 487.4,333.4 489.2,340.3 491.1,346.6 493.1,352.2 495.1,357.1 497.3,361.5 499.7,365.3" fill="#a9bac6"/>
<polygon points="502.5,363 500,359.8 497.5,355.9 495.1,351.3 492.7,345.9 490.4,339.9 488.1,333.2 487.6,333.3 489.5,340.2 491.5,346.4 493.5,352 495.7,356.9 497.9,361.1 500.3,364.8" fill="#dfe7ec"/>
<polygon points="420.5,436.3 417.5,425.2 418.3,414.5 419.3,404.1 420.5,393.9 421.9,383.9 423.6,374.1 425.6,364.5 427.7,355 430.2,345.8 429,345.4 425.7,354.4 422.5,363.6 419.6,373.1 417,382.9 414.5,392.8 412.3,403.1 410.4,413.5 408.7,424.2 403.7,434.9" fill="#a9bac6"/>
<polygon points="418.3,436.1 416,425.1 416.8,414.5 417.9,404 419.3,393.8 420.9,383.8 422.7,374 424.8,364.4 427.2,354.9 429.9,345.7 429.3,345.5 425.8,354.5 422.6,363.7 419.6,373.2 416.9,382.9 414.5,392.9 412.2,403.1 410.3,413.6 408.6,424.3 404.3,435" fill="#d9e2e8"/>
<polygon points="413.4,435.8 413.1,424.9 414.2,414.2 415.6,403.8 417.3,393.6 419.2,383.6 421.4,373.8 423.9,364.2 426.7,354.8 429.7,345.7 429.5,345.5 426.1,354.6 423,363.9 420.2,373.4 417.6,383.2 415.3,393.2 413.3,403.4 411.6,413.9 410.1,424.5 407.8,435.4" fill="#f5f8fa"/>
<polygon points="425.1,367.1 428.9,363.3 432.5,358.8 436,353.7 439.2,348 442.4,341.6 445.4,334.5 444.4,334.1 441,340.8 437.4,346.9 433.7,352.2 429.9,356.7 426.1,360.5 422.3,363.6" fill="#a9bac6"/>
<polygon points="424.6,366.5 428.4,362.8 432.1,358.4 435.5,353.4 438.9,347.7 442.1,341.4 445.1,334.4 444.7,334.2 441.3,341 437.7,347.1 434.1,352.4 430.4,357.1 426.6,361 422.8,364.2" fill="#dfe7ec"/>
<polygon points="420.3,390.5 423.2,387.7 426,384.4 428.5,380.8 430.9,376.7 433.2,372.3 435.3,367.4 434.5,367 431.6,371.4 428.7,375.2 425.7,378.5 422.7,381.4 419.7,383.6 416.8,385.4" fill="#a9bac6"/>
<polygon points="419.8,389.9 422.8,387.2 425.5,384 428.1,380.5 430.6,376.5 432.9,372.1 435.1,367.3 434.7,367.1 431.9,371.5 429,375.4 426.1,378.9 423.1,381.8 420.2,384.1 417.2,386" fill="#dfe7ec"/>
<polygon points="529.7,437.5 528.6,425.2 530.5,413.8 532.3,402.7 534,391.8 535.6,381.1 537.1,370.7 538.6,360.5 539.9,350.5 541.2,340.8 540,340.6 537.9,350.2 535.7,360 533.4,370 531,380.2 528.6,390.7 526,401.4 523.4,412.4 520.7,423.6 514.8,434.3" fill="#a9bac6"/>
<polygon points="527.6,437.2 527.1,425.1 529,413.7 530.9,402.6 532.8,391.7 534.5,381 536.2,370.6 537.8,360.4 539.4,350.5 540.9,340.8 540.3,340.7 538.1,350.2 535.8,360 533.4,370.1 531,380.3 528.5,390.8 525.9,401.6 523.3,412.5 520.6,423.7 515.3,434.6" fill="#d9e2e8"/>
<polygon points="523.4,436.4 524.6,424.7 526.8,413.3 529,402.3 531.1,391.4 533.1,380.8 535.1,370.5 537,360.3 538.9,350.4 540.7,340.8 540.4,340.7 538.3,350.3 536.2,360.1 533.9,370.2 531.7,380.5 529.3,391.1 527,401.9 524.5,412.9 522,424.1 518.5,435.4" fill="#f5f8fa"/>
<polygon points="535.8,376.3 534.2,374.8 532.6,372.8 531,370.3 529.3,367.4 527.7,364.1 526.1,360.3 525.1,360.6 526.1,364.6 527,368.3 528.1,371.7 529.2,374.7 530.4,377.4 531.8,379.8" fill="#a9bac6"/>
<polygon points="535.3,376.8 533.7,375.2 532.1,373.1 530.5,370.6 528.9,367.6 527.4,364.2 525.9,360.4 525.4,360.5 526.4,364.5 527.4,368.2 528.5,371.5 529.7,374.4 531,377 532.3,379.3" fill="#dfe7ec"/>
<polygon points="533.7,386.4 531,384.4 528.2,381.8 525.5,378.7 522.7,375 520.1,370.7 517.4,365.9 516.5,366.3 518.4,371.5 520.4,376.3 522.5,380.6 524.8,384.5 527.2,388 529.8,391" fill="#a9bac6"/>
<polygon points="533.2,387 530.5,384.9 527.8,382.2 525.1,379 522.4,375.2 519.8,370.9 517.2,366 516.7,366.2 518.7,371.4 520.8,376.1 523,380.4 525.3,384.2 527.7,387.5 530.3,390.4" fill="#dfe7ec"/>
<polygon points="575,437.5 571.6,427 571.5,416.9 571.4,407 571.3,397.3 571.1,387.9 570.9,378.6 570.6,369.5 570.4,360.7 570,352.1 568.8,352.1 568.2,360.7 567.6,369.5 566.9,378.5 566.2,387.7 565.4,397.2 564.6,406.8 563.8,416.6 562.9,426.7 558.7,436.8" fill="#a9bac6"/>
<polygon points="572.9,437.5 570.1,427 570.1,416.9 570.1,407 570.1,397.3 570,387.9 570,378.6 569.9,369.5 569.8,360.7 569.7,352.1 569.1,352.1 568.4,360.7 567.7,369.5 566.9,378.5 566.1,387.7 565.3,397.2 564.5,406.8 563.7,416.7 562.9,426.7 559.2,436.9" fill="#d9e2e8"/>
<polygon points="568.1,437.3 567.3,426.9 567.6,416.8 567.9,407 568.1,397.3 568.4,387.8 568.7,378.6 569,369.5 569.3,360.7 569.6,352.1 569.3,352.1 568.7,360.7 568.1,369.5 567.4,378.5 566.8,387.8 566.2,397.2 565.6,406.9 565,416.7 564.4,426.8 562.7,437.1" fill="#f5f8fa"/>
<polygon points="570.2,378.6 574.8,375.1 579.3,371 583.5,366.3 587.5,361.1 591.4,355.3 595,348.9 594.2,348.3 590,354.3 585.7,359.7 581.3,364.3 576.9,368.3 572.3,371.7 567.7,374.4" fill="#a9bac6"/>
<polygon points="569.8,377.9 574.4,374.5 578.9,370.6 583.1,366 587.2,360.8 591.1,355.1 594.8,348.7 594.4,348.5 590.3,354.5 586,359.9 581.7,364.7 577.2,368.8 572.7,372.2 568.1,375" fill="#dfe7ec"/>
<polygon points="569.7,395.8 574.3,393 578.6,389.8 582.7,386.2 586.6,382.2 590.3,377.8 593.9,373 593.1,372.3 589,376.5 584.7,380.3 580.5,383.5 576.1,386.2 571.7,388.4 567.2,390.2" fill="#a9bac6"/>
<polygon points="569.4,395.1 573.9,392.4 578.3,389.4 582.4,385.8 586.3,381.9 590.1,377.6 593.7,372.8 593.3,372.5 589.2,376.8 585,380.6 580.8,383.8 576.4,386.7 572,389 567.5,390.8" fill="#dfe7ec"/>
<polygon points="569.9,373.2 574.5,370.7 578.8,367.7 582.9,364.4 586.9,360.6 590.7,356.5 594.3,351.9 593.5,351.3 589.5,355.4 585.4,359 581.2,362.2 577,365 572.6,367.3 568.2,369.1" fill="#a9bac6"/>
<polygon points="569.6,372.5 574.1,370.1 578.5,367.2 582.6,364 586.6,360.3 590.4,356.2 594.1,351.7 593.7,351.4 589.7,355.6 585.7,359.4 581.5,362.6 577.3,365.5 572.9,367.8 568.5,369.8" fill="#dfe7ec"/>
<polygon points="500.5,436.4 496,424.6 495.3,412.7 495.3,400.9 495.9,389.4 497.3,378.1 499.3,367 502,356 505.5,345.3 509.6,334.8 508.5,334.3 503.6,344.5 499.3,355.1 495.6,366 492.7,377.2 490.5,388.7 488.9,400.5 488.1,412.6 487.9,425 485.4,438" fill="#a9bac6"/>
<polygon points="498.3,436.6 494.5,424.6 493.8,412.7 493.9,400.9 494.7,389.3 496.2,378 498.4,366.9 501.3,355.9 505,345.2 509.3,334.7 508.8,334.4 503.7,344.7 499.3,355.2 495.7,366.1 492.7,377.3 490.4,388.8 488.8,400.5 488,412.6 487.9,425 486,437.9" fill="#d9e2e8"/>
<polygon points="494.1,437 492,424.7 491.6,412.6 491.9,400.8 493,389.2 494.8,377.8 497.3,366.6 500.5,355.7 504.5,345 509.2,334.6 508.9,334.5 504,344.8 499.7,355.4 496.2,366.3 493.4,377.5 491.3,388.9 489.9,400.6 489.3,412.6 489.4,424.9 489.2,437.5" fill="#f5f8fa"/>
<polygon points="493.7,400.8 489.5,398.5 485.3,395.6 481.2,392.1 477.1,388 473,383.2 469.1,377.8 468.2,378.3 471.4,384.3 474.7,389.8 478.2,394.8 482,399.3 485.9,403.3 490.1,406.7" fill="#a9bac6"/>
<polygon points="493.3,401.4 489.1,399 485,396.1 480.8,392.5 476.8,388.3 472.8,383.4 468.9,377.9 468.5,378.2 471.7,384.1 475,389.6 478.6,394.5 482.4,398.9 486.3,402.7 490.5,406.1" fill="#dfe7ec"/>
<polygon points="498.3,367.4 496.3,366.2 494.3,364.5 492.3,362.5 490.3,360.1 488.3,357.3 486.4,354.1 485.5,354.5 486.8,358 488.3,361.3 489.8,364.3 491.5,366.9 493.3,369.3 495.2,371.4" fill="#a9bac6"/>
<polygon points="497.8,368 495.8,366.7 493.8,364.9 491.9,362.8 489.9,360.3 488,357.4 486.1,354.2 485.7,354.4 487.1,357.9 488.6,361.1 490.2,364 491.9,366.6 493.7,368.8 495.7,370.8" fill="#dfe7ec"/>
<polygon points="581.7,437.1 576.8,426.3 576.1,415.5 575.6,405 575.4,394.6 575.5,384.4 575.8,374.4 576.4,364.7 577.3,355.1 578.5,345.7 577.3,345.5 575.1,354.7 573.1,364.2 571.4,374 570,384 568.9,394.3 568,404.8 567.4,415.6 567.1,426.6 563.2,438.1" fill="#a9bac6"/>
<polygon points="579.5,437.2 575.3,426.3 574.6,415.5 574.3,405 574.2,394.6 574.4,384.4 574.9,374.4 575.7,364.6 576.8,355.1 578.2,345.7 577.6,345.5 575.2,354.8 573.2,364.3 571.4,374 570,384 568.8,394.3 567.9,404.8 567.3,415.6 567,426.6 563.8,438" fill="#d9e2e8"/>
<polygon points="573.9,437.4 572,426.4 571.6,415.6 571.6,404.9 571.9,394.5 572.5,384.3 573.4,374.3 574.6,364.5 576.2,355 578,345.6 577.7,345.6 575.5,354.8 573.6,364.4 572,374.1 570.7,384.1 569.7,394.4 569,404.8 568.7,415.6 568.7,426.5 567.6,437.8" fill="#f5f8fa"/>
<polygon points="574.5,382.2 579,379 583.2,375.3 587.2,371.1 591.1,366.4 594.7,361.2 598.2,355.5 597.3,355 593.3,360.2 589.1,364.7 584.8,368.7 580.5,372.1 576.1,374.9 571.7,377.1" fill="#a9bac6"/>
<polygon points="574.1,381.6 578.6,378.5 582.8,374.9 586.9,370.8 590.8,366.2 594.5,361 598,355.4 597.6,355.1 593.5,360.3 589.4,365 585.2,369.1 580.9,372.5 576.5,375.4 572.1,377.8" fill="#dfe7ec"/>
<polygon points="575.3,376.9 578.6,373.1 581.8,368.7 584.7,363.8 587.5,358.2 590.1,352 592.7,345.2 591.7,344.8 588.6,351.3 585.3,357 582,362.1 578.6,366.4 575.2,370 571.8,372.8" fill="#a9bac6"/>
<polygon points="574.8,376.3 578.2,372.7 581.3,368.4 584.3,363.5 587.1,358 589.8,351.9 592.4,345.1 592,344.9 588.9,351.4 585.7,357.2 582.4,362.3 579.1,366.7 575.7,370.4 572.3,373.4" fill="#dfe7ec"/>
<polygon points="574.8,381.3 571.6,378.6 568.3,375.1 565,370.9 561.8,366 558.6,360.4 555.6,354 554.6,354.4 556.9,361.1 559.4,367.2 562,372.8 564.7,377.7 567.6,382.1 570.7,385.9" fill="#a9bac6"/>
<polygon points="574.3,381.9 571.1,379 567.8,375.5 564.6,371.2 561.4,366.2 558.3,360.5 555.3,354.1 554.9,354.3 557.3,361 559.8,367 562.4,372.5 565.2,377.4 568.1,381.6 571.2,385.3" fill="#dfe7ec"/>
<polygon points="575.1,391 576.6,387.9 577.9,384.4 579.1,380.4 580.3,376 581.3,371.2 582.3,365.9 581.4,365.6 579.5,370.6 577.6,375.1 575.6,379 573.6,382.3 571.7,385 569.8,387.1" fill="#a9bac6"/>
<polygon points="574.5,390.6 576,387.6 577.4,384.1 578.7,380.3 579.9,375.9 581,371.1 582.1,365.8 581.6,365.7 579.8,370.7 578,375.3 576.1,379.2 574.2,382.6 572.3,385.4 570.4,387.5" fill="#dfe7ec"/>
<polygon points="557.4,438.2 553.6,426.4 553.6,415 553.5,403.8 553.4,392.9 553.3,382.2 553.2,371.7 553,361.5 552.9,351.5 552.7,341.8 551.5,341.7 550.6,351.4 549.7,361.4 548.8,371.6 547.8,382 546.9,392.6 545.9,403.5 544.9,414.7 543.9,426 539.1,437.5" fill="#a9bac6"/>
<polygon points="555.3,438.2 552.1,426.4 552.1,415 552.1,403.8 552.2,392.9 552.2,382.2 552.3,371.7 552.3,361.5 552.4,351.5 552.4,341.8 551.8,341.7 550.8,351.4 549.8,361.4 548.8,371.6 547.8,382 546.8,392.6 545.8,403.5 544.8,414.7 543.9,426 539.7,437.5" fill="#d9e2e8"/>
<polygon points="549.7,438 548.8,426.3 549.1,414.9 549.5,403.7 549.9,392.8 550.3,382.1 550.8,371.7 551.2,361.5 551.7,351.5 552.3,341.8 552,341.8 551.1,351.5 550.2,361.4 549.3,371.6 548.5,382 547.7,392.7 546.9,403.6 546.2,414.8 545.5,426.1 543.5,437.7" fill="#f5f8fa"/>
<polygon points="552.9,377.1 555.2,373.8 557.3,369.9 559.3,365.6 561.2,360.7 562.9,355.3 564.6,349.4 563.7,349.1 561.3,354.7 558.8,359.7 556.3,364 553.8,367.8 551.3,370.8 548.8,373.3" fill="#a9bac6"/>
<polygon points="552.3,376.6 554.7,373.4 556.8,369.6 558.8,365.3 560.8,360.5 562.6,355.2 564.4,349.3 563.9,349.1 561.6,354.8 559.2,359.8 556.8,364.3 554.3,368.1 551.8,371.2 549.3,373.8" fill="#dfe7ec"/>
<polygon points="551.9,399.4 555,396.7 557.9,393.6 560.5,390.1 563,386.3 565.4,382.1 567.6,377.6 566.7,377.1 563.7,381 560.6,384.4 557.5,387.3 554.3,389.8 551.2,391.7 548.1,393.2" fill="#a9bac6"/>
<polygon points="551.5,398.8 554.6,396.1 557.5,393.1 560.2,389.8 562.7,386.1 565.1,382 567.4,377.5 566.9,377.2 564,381.2 560.9,384.7 557.8,387.7 554.7,390.2 551.6,392.3 548.5,393.8" fill="#dfe7ec"/>
<polygon points="552.9,382.6 550.7,380.5 548.6,377.7 546.3,374.3 544.2,370.2 542,365.6 539.9,360.4 539,360.7 540.2,366.2 541.6,371.2 543,375.8 544.5,379.9 546.2,383.5 548,386.7" fill="#a9bac6"/>
<polygon points="552.3,383.1 550.2,380.8 548,377.9 545.9,374.5 543.8,370.4 541.7,365.7 539.7,360.5 539.2,360.7 540.5,366.1 542,371.1 543.5,375.6 545,379.6 546.7,383.1 548.6,386.2" fill="#dfe7ec"/>
<polygon points="552.8,388.4 554.4,385.6 555.9,382.5 557.3,379.1 558.5,375.3 559.7,371.1 560.8,366.5 559.9,366.2 557.9,370.4 555.9,374.2 553.9,377.4 551.9,380.1 549.9,382.3 548,384" fill="#a9bac6"/>
<polygon points="552.2,387.9 553.9,385.2 555.4,382.2 556.8,378.9 558.2,375.1 559.4,371 560.6,366.4 560.1,366.3 558.2,370.5 556.3,374.3 554.4,377.6 552.4,380.4 550.5,382.7 548.6,384.5" fill="#dfe7ec"/>
<polygon points="438.9,440.2 436.2,429 436.5,418.2 436.7,407.7 436.7,397.4 436.7,387.4 436.5,377.5 436.2,367.9 435.7,358.6 435.1,349.4 433.9,349.5 433.6,358.6 433.2,367.9 432.7,377.5 432,387.2 431.2,397.2 430.3,407.4 429.3,417.8 428.1,428.4 423.7,439" fill="#a9bac6"/>
<polygon points="436.8,440.1 434.7,428.9 435.1,418.2 435.3,407.7 435.5,397.4 435.6,387.4 435.6,377.5 435.4,367.9 435.2,358.6 434.8,349.5 434.2,349.5 433.8,358.6 433.3,367.9 432.7,377.5 432,387.2 431.2,397.2 430.2,407.4 429.2,417.8 428.1,428.5 424.3,439.1" fill="#d9e2e8"/>
<polygon points="432.5,439.8 432.2,428.8 432.8,418.1 433.3,407.6 433.8,397.4 434.2,387.3 434.4,377.5 434.6,367.9 434.7,358.6 434.7,349.5 434.4,349.5 434.1,358.6 433.7,367.9 433.2,377.5 432.7,387.3 432,397.3 431.3,407.5 430.4,417.9 429.5,428.6 427.5,439.4" fill="#f5f8fa"/>
<polygon points="436.4,389.6 439.5,385.2 442.4,380 445.2,374.2 447.9,367.6 450.4,360.3 452.8,352.2 451.8,351.9 448.7,359.7 445.6,366.6 442.3,372.7 439,377.9 435.6,382.3 432.3,385.8" fill="#a9bac6"/>
<polygon points="435.8,389.1 439,384.8 441.9,379.7 444.8,374 447.5,367.5 450.1,360.2 452.5,352.2 452.1,352 449,359.8 445.9,366.8 442.7,372.9 439.5,378.2 436.2,382.7 432.8,386.3" fill="#dfe7ec"/>
<polygon points="435.1,401.2 439.5,398.7 443.7,395.8 447.7,392.6 451.5,388.9 455,385 458.4,380.7 457.7,380 453.7,383.7 449.7,386.9 445.5,389.6 441.3,392 437.1,393.9 432.8,395.4" fill="#a9bac6"/>
<polygon points="434.8,400.5 439.2,398.1 443.4,395.3 447.4,392.2 451.2,388.6 454.8,384.8 458.3,380.5 457.9,380.2 454,383.9 449.9,387.2 445.8,390 441.6,392.5 437.4,394.5 433,396.1" fill="#dfe7ec"/>
<polygon points="435.8,398.1 432.1,395.6 428.5,392.4 424.9,388.5 421.4,384 417.9,378.8 414.4,372.9 413.5,373.3 416.2,379.7 419,385.5 421.9,390.7 425,395.4 428.4,399.6 431.9,403.2" fill="#a9bac6"/>
<polygon points="435.3,398.7 431.7,396.1 428.1,392.8 424.5,388.8 421,384.2 417.6,379 414.2,373 413.8,373.2 416.5,379.5 419.3,385.3 422.3,390.4 425.5,395 428.8,399.1 432.4,402.6" fill="#dfe7ec"/>
<polygon points="436.4,376.8 438.2,373.9 440,370.6 441.6,366.9 443.1,362.7 444.5,358 445.9,352.8 444.9,352.5 443,357.4 441,361.8 439,365.6 436.9,368.9 434.9,371.6 432.8,373.7" fill="#a9bac6"/>
<polygon points="435.8,376.3 437.7,373.6 439.5,370.3 441.1,366.6 442.7,362.5 444.2,357.9 445.7,352.8 445.2,352.6 443.3,357.6 441.4,362 439.4,365.8 437.4,369.2 435.4,372 433.4,374.2" fill="#dfe7ec"/>
<polygon points="454.1,439 448.1,427.1 445.2,414.9 442.5,402.9 439.9,391.2 437.4,379.7 434.9,368.4 432.6,357.5 430.4,346.8 428.3,336.3 427.1,336.5 428.3,347.1 429.7,358 431.2,369.1 432.7,380.5 434.4,392.2 436.2,404.1 438.1,416.3 440,428.7 439,442" fill="#a9bac6"/>
<polygon points="452,439.2 446.6,427.3 443.8,415 441.2,403 438.7,391.3 436.3,379.8 434,368.5 431.9,357.6 429.9,346.8 428,336.3 427.4,336.4 428.5,347 429.8,357.9 431.2,369 432.7,380.4 434.3,392 436.1,403.9 438,416.1 440,428.5 439.6,441.7" fill="#d9e2e8"/>
<polygon points="447.7,440 444.1,427.6 441.6,415.3 439.2,403.3 437,391.5 434.9,380 432.9,368.7 431.1,357.7 429.4,346.9 427.8,336.4 427.5,336.4 428.8,347 430.2,357.8 431.7,368.9 433.4,380.2 435.2,391.8 437.1,403.7 439.2,415.8 441.4,428.2 442.7,441" fill="#f5f8fa"/>
<polygon points="439.7,390.8 436.4,387.3 433,382.8 429.7,377.4 426.4,371.1 423.1,364 420,355.9 419.1,356.2 421.4,364.6 423.8,372.2 426.4,379 429.1,385.1 432,390.4 435,395" fill="#a9bac6"/>
<polygon points="439.2,391.3 435.8,387.7 432.5,383.1 429.2,377.6 426,371.3 422.8,364.1 419.8,356 419.3,356.2 421.7,364.5 424.2,372 426.8,378.8 429.6,384.8 432.5,390 435.6,394.5" fill="#dfe7ec"/>
<polygon points="433.7,369.1 436.6,367.3 439.3,365.3 441.9,362.9 444.3,360.3 446.7,357.5 448.8,354.4 448.1,353.8 445.4,356.4 442.8,358.7 440.1,360.7 437.3,362.3 434.6,363.7 431.8,364.8" fill="#a9bac6"/>
<polygon points="433.4,368.4 436.3,366.7 439,364.8 441.6,362.5 444.1,360 446.4,357.3 448.6,354.2 448.3,353.9 445.7,356.6 443.1,359 440.4,361.1 437.7,362.8 434.9,364.3 432.1,365.4" fill="#dfe7ec"/>
<polygon points="438.3,389 435.6,388.2 432.8,387.2 430.1,385.9 427.4,384.3 424.7,382.5 422,380.3 421.3,381 423.4,383.8 425.6,386.4 428,388.8 430.5,391 433.2,393 436,394.8" fill="#a9bac6"/>
<polygon points="438.1,389.7 435.3,388.8 432.5,387.7 429.8,386.3 427.1,384.6 424.4,382.7 421.8,380.5 421.5,380.8 423.6,383.6 425.9,386.1 428.3,388.4 430.8,390.5 433.5,392.4 436.3,394.1" fill="#dfe7ec"/>
<polygon points="438.2,388.8 441.4,384.9 444.4,380.5 447.2,375.4 449.8,369.7 452.3,363.3 454.7,356.4 453.8,356 450.7,362.6 447.5,368.5 444.2,373.6 440.9,378 437.6,381.6 434.2,384.5" fill="#a9bac6"/>
<polygon points="437.7,388.3 440.9,384.5 443.9,380.1 446.7,375.1 449.4,369.5 452,363.2 454.5,356.3 454,356.1 451,362.8 447.8,368.7 444.6,373.9 441.4,378.3 438.1,382.1 434.7,385" fill="#dfe7ec"/>
<polygon points="386.9,441.5 383,429.2 382.5,417.3 381.8,405.6 380.8,394.2 379.7,383 378.3,372.1 376.7,361.5 374.9,351.1 372.8,341 371.6,341.2 372.7,351.4 373.5,361.8 374.1,372.5 374.5,383.4 374.7,394.5 374.7,405.8 374.4,417.4 374,429.2 369.8,441.1" fill="#a9bac6"/>
<polygon points="384.7,441.5 381.5,429.2 381.1,417.3 380.4,405.6 379.6,394.2 378.6,383.1 377.4,372.2 376,361.5 374.3,351.2 372.5,341.1 371.9,341.2 372.9,351.4 373.6,361.8 374.2,372.4 374.5,383.3 374.7,394.4 374.6,405.8 374.4,417.4 373.9,429.2 370.3,441.2" fill="#d9e2e8"/>
<polygon points="379.7,441.4 378.5,429.2 378.4,417.3 378.1,405.7 377.6,394.3 376.9,383.1 376,372.2 375,361.6 373.8,351.2 372.4,341.1 372.1,341.1 373.1,351.3 374,361.7 374.7,372.3 375.2,383.2 375.6,394.4 375.7,405.7 375.7,417.3 375.5,429.2 373.9,441.3" fill="#f5f8fa"/>
<polygon points="376.9,363.3 373.2,360.5 369.5,357 365.9,352.8 362.3,348 358.9,342.5 355.5,336.3 354.6,336.7 357.4,343.2 360.4,349.2 363.6,354.5 366.9,359.2 370.4,363.4 374.1,367" fill="#a9bac6"/>
<polygon points="376.4,363.9 372.7,361 369.1,357.4 365.5,353.1 362,348.2 358.6,342.6 355.2,336.4 354.8,336.6 357.7,343.1 360.8,348.9 364,354.2 367.3,358.9 370.9,362.9 374.5,366.4" fill="#dfe7ec"/>
<polygon points="377.4,364.3 375.9,362.6 374.3,360.5 372.8,358 371.2,354.9 369.7,351.5 368.3,347.6 367.3,347.8 368.2,351.9 369.2,355.7 370.2,359.1 371.2,362.1 372.4,364.8 373.7,367.2" fill="#a9bac6"/>
<polygon points="376.8,364.7 375.3,363 373.8,360.8 372.3,358.2 370.9,355.1 369.4,351.6 368,347.6 367.5,347.8 368.5,351.8 369.5,355.5 370.6,358.9 371.8,361.8 373,364.5 374.3,366.7" fill="#dfe7ec"/>
<polygon points="380.7,401.6 378.1,399.6 375.5,396.8 372.8,393.5 370.1,389.5 367.5,384.9 364.9,379.7 364,380.1 365.6,385.7 367.3,390.9 369.2,395.5 371.1,399.8 373.3,403.5 375.7,406.9" fill="#a9bac6"/>
<polygon points="380.2,402.2 377.6,400 375,397.2 372.3,393.7 369.7,389.7 367.2,385 364.7,379.8 364.2,380 365.9,385.6 367.7,390.7 369.6,395.3 371.6,399.4 373.8,403.1 376.2,406.4" fill="#dfe7ec"/>
<polygon points="367.8,442.8 362.3,431.1 360.4,419.1 358.6,407.4 356.9,395.9 355.3,384.7 353.8,373.7 352.5,363 351.3,352.5 350.2,342.2 349,342.3 349.1,352.6 349.4,363.2 349.8,374 350.3,385.1 350.9,396.5 351.7,408.1 352.5,420 353.5,432.2 351.3,445" fill="#a9bac6"/>
<polygon points="365.7,443 360.8,431.2 358.9,419.2 357.2,407.5 355.6,396 354.2,384.7 352.9,373.7 351.8,363 350.7,352.5 349.9,342.2 349.3,342.2 349.3,352.6 349.5,363.1 349.8,374 350.2,385.1 350.8,396.4 351.6,408.1 352.5,419.9 353.5,432.1 351.8,444.8" fill="#d9e2e8"/>
<polygon points="360.8,443.5 357.9,431.4 356.4,419.4 354.9,407.6 353.7,396.1 352.6,384.8 351.6,373.8 350.8,363 350.2,352.5 349.7,342.2 349.4,342.2 349.6,352.5 349.9,363.1 350.3,373.9 350.9,385 351.7,396.3 352.6,407.9 353.7,419.7 355,431.8 355.3,444.3" fill="#f5f8fa"/>
<polygon points="353.7,380.1 358.1,376 362.4,371.3 366.4,365.9 370.2,359.9 373.8,353.2 377.3,345.8 376.4,345.3 372.3,352.3 368.1,358.5 363.8,364 359.5,368.7 355,372.6 350.6,375.7" fill="#a9bac6"/>
<polygon points="353.3,379.5 357.7,375.5 361.9,370.9 366,365.6 369.8,359.7 373.5,353 377.1,345.7 376.6,345.4 372.6,352.5 368.5,358.8 364.2,364.3 359.9,369.1 355.5,373.1 351,376.3" fill="#dfe7ec"/>
<polygon points="357.6,403.6 355.1,401 352.5,397.8 350,393.8 347.4,389.1 344.9,383.7 342.4,377.7 341.5,378 343,384.4 344.6,390.2 346.3,395.5 348.1,400.2 350,404.5 352.2,408.2" fill="#a9bac6"/>
<polygon points="357.1,404 354.6,401.4 352,398.1 349.5,394 347,389.2 344.6,383.8 342.2,377.7 341.7,377.9 343.3,384.3 345,390.1 346.7,395.3 348.6,400 350.6,404.1 352.7,407.7" fill="#dfe7ec"/>
<polygon points="352,359.8 349.1,358 346.3,355.8 343.5,353.2 340.8,350.1 338.1,346.6 335.4,342.6 334.5,343 336.7,347.4 339.1,351.3 341.5,354.9 344.1,358.1 346.8,360.9 349.7,363.3" fill="#a9bac6"/>
<polygon points="351.6,360.4 348.7,358.5 345.9,356.3 343.1,353.5 340.4,350.4 337.8,346.7 335.2,342.7 334.8,342.9 337,347.2 339.4,351.1 341.9,354.6 344.5,357.7 347.2,360.4 350.1,362.7" fill="#dfe7ec"/>
<polygon points="566.6,444.9 564.2,432.2 565.2,420 566.4,408.1 567.8,396.4 569.5,385 571.5,373.8 573.7,362.8 576.1,352 578.8,341.5 577.7,341.2 574.1,351.5 570.8,362.1 567.8,372.9 565,384.1 562.4,395.5 560.1,407.2 558,419.1 556.1,431.4 551.4,443.6" fill="#a9bac6"/>
<polygon points="564.4,444.7 562.7,432.1 563.7,420 565,408 566.6,396.3 568.5,384.9 570.6,373.7 573,362.7 575.6,352 578.5,341.4 577.9,341.3 574.3,351.6 570.9,362.2 567.8,373 565,384.2 562.3,395.6 560,407.3 557.9,419.2 556.1,431.4 552,443.7" fill="#d9e2e8"/>
<polygon points="560.2,444.4 560.2,431.9 561.5,419.7 563.1,407.8 564.9,396.1 567.1,384.7 569.5,373.5 572.2,362.5 575.1,351.9 578.4,341.4 578.1,341.3 574.6,351.7 571.3,362.3 568.3,373.2 565.6,384.4 563.2,395.8 561,407.5 559.2,419.4 557.5,431.6 555.2,444" fill="#f5f8fa"/>
<polygon points="564.8,406.1 561.4,404.5 558.1,402.4 554.8,399.8 551.4,396.7 548.2,393.1 544.9,389 544.1,389.5 546.5,394.2 549.1,398.5 551.9,402.5 554.8,406.1 557.9,409.3 561.3,412.1" fill="#a9bac6"/>
<polygon points="564.4,406.8 561,405.1 557.7,402.8 554.4,400.1 551.1,397 547.9,393.3 544.7,389.1 544.3,389.3 546.8,394 549.4,398.3 552.2,402.2 555.2,405.6 558.3,408.7 561.6,411.4" fill="#dfe7ec"/>
<polygon points="572.8,366.1 577.9,362.7 582.8,358.8 587.4,354.2 591.8,349.1 596.1,343.3 600.2,337 599.3,336.5 594.8,342.4 590.3,347.7 585.5,352.3 580.7,356.3 575.8,359.6 570.8,362.3" fill="#a9bac6"/>
<polygon points="572.5,365.5 577.5,362.2 582.4,358.3 587.1,353.8 591.5,348.8 595.8,343.1 599.9,336.9 599.5,336.6 595.1,342.6 590.6,347.9 585.9,352.7 581.1,356.7 576.2,360.2 571.2,363" fill="#dfe7ec"/>
<polygon points="564.6,410.6 567.4,408.7 570,406.6 572.5,404.3 574.9,401.8 577,399.1 579.1,396.1 578.3,395.5 575.6,397.7 572.9,399.6 570.2,401.2 567.4,402.5 564.7,403.5 562,404.3" fill="#a9bac6"/>
<polygon points="564.3,409.9 567.1,408.1 569.7,406.1 572.2,403.9 574.6,401.5 576.8,398.8 578.9,396 578.5,395.6 575.9,397.9 573.2,399.9 570.5,401.6 567.8,403 565,404.1 562.3,404.9" fill="#dfe7ec"/>
<polygon points="461.3,447.5 459.8,433.9 461.7,421.3 463.5,409 465,396.9 466.3,385.1 467.5,373.6 468.5,362.4 469.3,351.4 470,340.7 468.8,340.6 467.1,351.1 465.3,362 463.3,373 461.1,384.3 458.8,395.9 456.3,407.7 453.6,419.8 450.7,432.1 444.1,444" fill="#a9bac6"/>
<polygon points="459.2,447.2 458.3,433.8 460.3,421.2 462.1,408.9 463.8,396.9 465.3,385.1 466.6,373.6 467.8,362.3 468.8,351.4 469.7,340.7 469.1,340.6 467.3,351.2 465.4,362 463.3,373.1 461.1,384.4 458.7,396 456.2,407.8 453.5,419.9 450.7,432.3 444.7,444.2" fill="#d9e2e8"/>
<polygon points="454,446.3 455.3,433.3 457.5,420.8 459.7,408.6 461.7,396.6 463.5,384.9 465.2,373.4 466.8,362.2 468.2,351.3 469.5,340.7 469.2,340.6 467.6,351.2 465.8,362.1 463.9,373.2 461.8,384.6 459.6,396.2 457.3,408.1 454.8,420.3 452.2,432.7 448.2,445.1" fill="#f5f8fa"/>
<polygon points="465.4,385.2 468.7,382.8 471.8,380.1 474.7,377 477.5,373.6 480.1,369.9 482.5,365.8 481.7,365.2 478.6,368.7 475.5,371.8 472.4,374.5 469.2,376.7 466,378.6 462.7,380" fill="#a9bac6"/>
<polygon points="465.1,384.5 468.3,382.2 471.4,379.6 474.4,376.6 477.2,373.3 479.8,369.7 482.3,365.7 481.9,365.4 478.9,369 475.8,372.1 472.7,374.9 469.5,377.2 466.3,379.1 463.1,380.6" fill="#dfe7ec"/>
<polygon points="463.2,401.2 466.8,398.4 470.2,395.3 473.4,391.8 476.3,387.9 479.1,383.6 481.8,379 480.9,378.5 477.5,382.5 474.1,386 470.6,389 467.1,391.5 463.5,393.6 460,395.1" fill="#a9bac6"/>
<polygon points="462.9,400.5 466.5,397.9 469.8,394.9 473,391.4 476,387.6 478.9,383.4 481.5,378.9 481.1,378.6 477.8,382.7 474.4,386.2 470.9,389.3 467.4,392 463.9,394.1 460.3,395.8" fill="#dfe7ec"/>
<polygon points="461.6,403.2 457.4,401.9 453.3,400.2 449.2,398 445.2,395.5 441.2,392.5 437.3,389 436.5,389.7 439.7,393.9 443.1,397.8 446.7,401.4 450.5,404.7 454.5,407.6 458.8,410.1" fill="#a9bac6"/>
<polygon points="461.3,403.9 457.1,402.5 453,400.7 448.9,398.4 444.9,395.8 441,392.7 437.1,389.2 436.7,389.5 440,393.7 443.4,397.5 447,401 450.8,404.2 454.8,407 459,409.4" fill="#dfe7ec"/>
<polygon points="551.5,447.1 549.5,434.5 550.5,422.3 551.4,410.5 552.3,398.9 553.3,387.5 554.1,376.4 555,365.5 555.9,354.9 556.7,344.5 555.5,344.4 553.9,354.7 552.2,365.2 550.6,376 548.9,387 547.2,398.3 545.5,409.8 543.8,421.6 542,433.6 537.4,445.6" fill="#a9bac6"/>
<polygon points="549.3,447 548,434.4 549,422.3 550.1,410.4 551.1,398.8 552.2,387.4 553.2,376.3 554.3,365.5 555.3,354.9 556.4,344.5 555.8,344.4 554.1,354.7 552.3,365.2 550.6,376 548.9,387 547.1,398.3 545.4,409.9 543.7,421.7 542,433.7 537.9,445.7" fill="#d9e2e8"/>
<polygon points="545.5,446.6 545.8,434.2 547.1,422.1 548.3,410.3 549.6,398.7 550.9,387.3 552.2,376.2 553.6,365.4 554.9,354.8 556.2,344.5 555.9,344.4 554.3,354.7 552.7,365.3 551.1,376.1 549.6,387.2 548,398.5 546.4,410 544.9,421.8 543.4,433.9 540.9,446.1" fill="#f5f8fa"/>
<polygon points="554.9,361.6 551.9,360 549,357.9 546.1,355.5 543.3,352.6 540.6,349.3 537.9,345.6 537,346.1 539.3,350.2 541.8,353.9 544.3,357.2 547,360.2 549.9,362.8 552.9,365.1" fill="#a9bac6"/>
<polygon points="554.5,362.3 551.5,360.5 548.6,358.4 545.8,355.8 543,352.9 540.3,349.5 537.6,345.7 537.2,346 539.6,350 542.1,353.6 544.7,356.9 547.4,359.7 550.3,362.3 553.2,364.4" fill="#dfe7ec"/>
<polygon points="553.3,379 557.9,376.3 562.3,373.2 566.5,369.6 570.5,365.5 574.3,361.1 578,356.2 577.2,355.6 573.1,360 568.9,363.9 564.6,367.4 560.3,370.3 555.8,372.7 551.3,374.7" fill="#a9bac6"/>
<polygon points="552.9,378.3 557.5,375.7 561.9,372.7 566.1,369.2 570.2,365.2 574.1,360.8 577.8,356 577.4,355.7 573.3,360.2 569.2,364.2 565,367.7 560.6,370.8 556.2,373.3 551.6,375.4" fill="#dfe7ec"/>
<polygon points="550.7,407.7 553.1,405.5 555.4,402.9 557.5,400.1 559.4,397 561.3,393.6 563,389.9 562.1,389.4 559.7,392.6 557.2,395.3 554.8,397.7 552.3,399.7 549.8,401.3 547.4,402.4" fill="#a9bac6"/>
<polygon points="550.3,407.1 552.7,404.9 555,402.5 557.1,399.8 559.1,396.7 561,393.4 562.8,389.7 562.3,389.5 560,392.7 557.6,395.6 555.1,398 552.7,400.1 550.2,401.8 547.8,403.1" fill="#dfe7ec"/>
<polygon points="411.3,450 407.4,437.4 407.7,425 408.5,412.8 409.7,400.8 411.3,389.1 413.4,377.6 415.9,366.3 418.9,355.3 422.4,344.4 421.3,344 416.8,354.5 412.8,365.4 409.2,376.6 406.1,388 403.4,399.8 401.1,411.9 399.3,424.2 397.9,436.9 393.3,449.8" fill="#a9bac6"/>
<polygon points="409.1,450 405.9,437.3 406.3,424.9 407.1,412.7 408.5,400.8 410.2,389 412.5,377.5 415.2,366.2 418.4,355.2 422.1,344.3 421.6,344.1 417,354.6 412.9,365.5 409.2,376.7 406,388.1 403.3,399.9 401,411.9 399.2,424.3 397.9,436.9 393.9,449.8" fill="#d9e2e8"/>
<polygon points="403.7,450 402.7,437.2 403.4,424.7 404.6,412.5 406.3,400.5 408.4,388.8 411.1,377.3 414.2,366 417.9,355 422,344.3 421.7,344.1 417.2,354.8 413.2,365.7 409.7,376.9 406.7,388.4 404.2,400.1 402.1,412.2 400.6,424.5 399.5,437 397.6,449.9" fill="#f5f8fa"/>
<polygon points="411.4,385.1 409.6,383.2 407.8,380.8 406,377.8 404.2,374.3 402.4,370.2 400.6,365.6 399.7,365.9 400.6,370.7 401.7,375.2 402.8,379.1 403.9,382.7 405.2,385.9 406.7,388.8" fill="#a9bac6"/>
<polygon points="410.8,385.6 409.1,383.6 407.3,381.1 405.5,378 403.8,374.4 402.1,370.3 400.4,365.7 399.9,365.8 400.9,370.6 402,375 403.2,379 404.5,382.5 405.8,385.6 407.3,388.3" fill="#dfe7ec"/>
<polygon points="411.1,387.5 414.8,384.1 418.3,380.1 421.6,375.7 424.7,370.7 427.6,365.2 430.5,359.1 429.6,358.7 426.1,364.3 422.5,369.2 418.9,373.6 415.2,377.3 411.5,380.3 407.8,382.7" fill="#a9bac6"/>
<polygon points="410.7,386.9 414.4,383.6 417.9,379.7 421.2,375.4 424.3,370.5 427.4,365 430.2,359 429.8,358.8 426.4,364.4 422.9,369.5 419.3,373.9 415.6,377.7 411.9,380.8 408.2,383.3" fill="#dfe7ec"/>
<polygon points="443.6,451.2 438.5,438.6 437.5,426 436.5,413.6 435.7,401.5 435,389.7 434.4,378.1 433.9,366.8 433.6,355.7 433.4,344.9 432.2,344.8 431.3,355.6 430.5,366.7 429.9,378.1 429.4,389.7 429,401.6 428.7,413.8 428.6,426.3 428.6,439 424.8,452.2" fill="#a9bac6"/>
<polygon points="441.4,451.3 437,438.6 436,426 435.2,413.6 434.5,401.6 433.9,389.7 433.5,378.1 433.2,366.8 433.1,355.7 433.1,344.9 432.5,344.8 431.5,355.6 430.6,366.7 429.9,378.1 429.4,389.7 428.9,401.6 428.7,413.8 428.5,426.3 428.5,439 425.3,452.2" fill="#d9e2e8"/>
<polygon points="435.7,451.6 433.6,438.7 432.9,426.1 432.4,413.7 432.1,401.6 431.9,389.7 431.9,378.1 432.1,366.8 432.4,355.7 432.9,344.9 432.6,344.8 431.7,355.7 431,366.7 430.5,378.1 430.1,389.7 429.9,401.6 429.8,413.7 429.9,426.2 430.2,438.9 429.3,451.9" fill="#f5f8fa"/>
<polygon points="434.7,404.6 436.5,402.2 438,399.4 439.4,396.4 440.7,393.1 441.9,389.5 443,385.6 442,385.2 440,388.7 438,391.7 436,394.3 433.9,396.4 431.9,398.1 430,399.3" fill="#a9bac6"/>
<polygon points="434.2,404.1 436,401.7 437.6,399.1 439,396.1 440.3,392.9 441.6,389.4 442.7,385.5 442.3,385.3 440.3,388.8 438.4,391.9 436.4,394.5 434.4,396.8 432.4,398.5 430.5,399.8" fill="#dfe7ec"/>
<polygon points="433.3,391.9 437.5,389.6 441.4,387 445.2,384 448.7,380.6 452.1,377 455.2,373 454.5,372.4 450.8,375.7 446.9,378.5 443,381 439.1,383.1 435.1,384.8 431.1,386.1" fill="#a9bac6"/>
<polygon points="433.1,391.2 437.2,389 441.1,386.5 444.9,383.6 448.4,380.3 451.8,376.8 455.1,372.9 454.7,372.5 451,375.9 447.2,378.9 443.3,381.4 439.4,383.6 435.4,385.4 431.3,386.8" fill="#dfe7ec"/>
<polygon points="434.3,406.9 429.7,404.8 425,402.1 420.4,398.7 415.8,394.8 411.3,390.2 406.9,384.9 406.1,385.5 409.7,391.4 413.4,396.9 417.4,401.9 421.6,406.3 426,410.3 430.7,413.8" fill="#a9bac6"/>
<polygon points="434,407.6 429.3,405.3 424.6,402.5 420,399.1 415.5,395 411.1,390.4 406.7,385.1 406.3,385.4 409.9,391.2 413.7,396.6 417.7,401.5 421.9,405.9 426.4,409.7 431.1,413.1" fill="#dfe7ec"/>
<polygon points="434.4,413.6 431,412.5 427.4,411 423.9,409.1 420.4,406.7 417,403.9 413.6,400.7 412.8,401.3 415.3,405.4 418.1,409.1 421,412.6 424.1,415.7 427.5,418.6 431,421.1" fill="#a9bac6"/>
<polygon points="434.1,414.3 430.6,413.1 427.1,411.5 423.6,409.4 420.2,407 416.7,404.1 413.4,400.9 413,401.2 415.6,405.2 418.4,408.8 421.3,412.2 424.5,415.3 427.8,418 431.4,420.4" fill="#dfe7ec"/>
<polygon points="502.3,451.6 496.2,438.7 494.2,425.7 492.2,412.9 490.2,400.4 488.3,388.2 486.4,376.2 484.6,364.5 482.9,353.1 481.1,342 480,342.1 480.5,353.4 481.2,364.9 481.8,376.7 482.6,388.8 483.4,401.2 484.2,413.8 485.1,426.7 486,439.9 483.1,453.8" fill="#a9bac6"/>
<polygon points="500.2,451.7 494.7,438.8 492.7,425.8 490.8,413 489,400.5 487.2,388.3 485.5,376.3 483.9,364.6 482.3,353.2 480.8,342 480.3,342.1 480.7,353.3 481.3,364.8 481.9,376.6 482.5,388.7 483.3,401.1 484.1,413.7 485,426.6 486,439.8 483.6,453.7" fill="#d9e2e8"/>
<polygon points="494.2,452.3 491.1,439.1 489.5,426 488,413.2 486.5,400.7 485.2,388.4 483.9,376.4 482.7,364.7 481.7,353.2 480.7,342 480.4,342 481,353.3 481.6,364.8 482.4,376.5 483.3,388.6 484.2,400.9 485.3,413.5 486.4,426.4 487.6,439.5 487.6,453.1" fill="#f5f8fa"/>
<polygon points="484.8,374 488.3,371.6 491.5,368.8 494.6,365.6 497.5,362.1 500.3,358.2 502.9,353.9 502.1,353.4 498.9,357.2 495.7,360.5 492.5,363.4 489.2,365.9 485.8,367.9 482.4,369.5" fill="#a9bac6"/>
<polygon points="484.5,373.4 487.9,371.1 491.2,368.3 494.3,365.3 497.2,361.8 500,358 502.7,353.8 502.3,353.5 499.2,357.4 496,360.8 492.8,363.8 489.5,366.3 486.2,368.4 482.8,370.1" fill="#dfe7ec"/>
<polygon points="487.3,386.2 484.8,384.8 482.3,383.1 479.8,380.8 477.3,378.1 474.8,375 472.4,371.5 471.5,371.9 473.2,376 475,379.7 476.9,383.1 479,386.2 481.2,389 483.7,391.5" fill="#a9bac6"/>
<polygon points="486.9,386.8 484.4,385.3 481.9,383.5 479.4,381.1 477,378.4 474.5,375.2 472.2,371.6 471.7,371.8 473.5,375.8 475.3,379.5 477.3,382.8 479.4,385.8 481.7,388.5 484.1,390.8" fill="#dfe7ec"/>
<polygon points="490.4,420.9 495.4,417.6 500.2,413.7 504.7,409.4 509,404.7 513,399.4 516.8,393.8 516,393.2 511.3,398 506.5,402.2 501.7,405.9 496.8,408.9 491.8,411.4 486.8,413.3" fill="#a9bac6"/>
<polygon points="490.1,420.2 495.1,417 499.9,413.3 504.4,409.1 508.7,404.4 512.8,399.2 516.6,393.6 516.2,393.3 511.6,398.2 506.8,402.5 502,406.2 497.1,409.4 492.2,412 487.2,414" fill="#dfe7ec"/>
<polygon points="526,453.4 520.1,439.9 518.1,426.1 516.3,412.7 514.8,399.5 513.5,386.6 512.5,373.9 511.8,361.6 511.3,349.5 511.1,337.6 509.9,337.6 509.1,349.4 508.5,361.6 508.2,374.1 508.2,386.8 508.5,399.9 509,413.3 509.7,427 510.7,441 508.4,455.8" fill="#a9bac6"/>
<polygon points="523.9,453.6 518.6,440 516.6,426.2 515,412.7 513.6,399.5 512.5,386.6 511.6,374 511,361.6 510.8,349.5 510.8,337.6 510.2,337.6 509.2,349.4 508.6,361.6 508.3,374 508.2,386.8 508.4,399.9 508.9,413.2 509.6,426.9 510.7,440.9 508.9,455.6" fill="#d9e2e8"/>
<polygon points="518.6,454.2 515.4,440.2 513.8,426.4 512.4,412.9 511.4,399.6 510.6,386.7 510.2,374 510,361.6 510.2,349.5 510.6,337.6 510.3,337.6 509.5,349.4 509,361.6 508.8,374 508.9,386.7 509.3,399.8 510,413.1 511,426.7 512.3,440.6 512.6,455" fill="#f5f8fa"/>
<polygon points="511.7,359.2 509.8,357.4 507.9,355.1 506,352.3 504.1,349 502.2,345.2 500.4,341 499.4,341.3 500.7,345.8 502.1,349.9 503.6,353.5 505.1,356.8 506.8,359.7 508.5,362.2" fill="#a9bac6"/>
<polygon points="511.2,359.7 509.3,357.8 507.4,355.4 505.5,352.5 503.7,349.2 501.9,345.3 500.1,341.1 499.7,341.2 501,345.7 502.5,349.7 504,353.3 505.6,356.5 507.3,359.3 509.1,361.7" fill="#dfe7ec"/>
<polygon points="512.8,389.3 516.2,385.7 519.4,381.6 522.4,376.9 525.2,371.6 527.9,365.8 530.5,359.5 529.6,359.1 526.3,365 522.9,370.3 519.5,374.9 516,378.8 512.5,382 509,384.5" fill="#a9bac6"/>
<polygon points="512.3,388.7 515.7,385.2 518.9,381.2 522,376.6 524.9,371.4 527.6,365.7 530.3,359.4 529.8,359.2 526.6,365.2 523.3,370.5 519.9,375.1 516.5,379.1 513,382.5 509.5,385.1" fill="#dfe7ec"/>
<polygon points="511.6,376.5 506.9,374.6 502.2,372.3 497.6,369.5 493.1,366.3 488.7,362.5 484.4,358.3 483.6,358.9 487.4,363.7 491.4,368.1 495.6,372.1 500,375.7 504.6,378.9 509.5,381.6" fill="#a9bac6"/>
<polygon points="511.3,377.1 506.6,375.2 501.9,372.8 497.3,369.9 492.8,366.6 488.5,362.7 484.2,358.4 483.8,358.7 487.7,363.5 491.7,367.8 495.9,371.8 500.3,375.2 504.9,378.3 509.8,380.9" fill="#dfe7ec"/>
<polygon points="597.1,456.1 591.4,445.2 589.7,433.9 588.5,422.9 587.7,412.1 587.4,401.4 587.5,391 588.1,380.7 589.1,370.7 590.7,360.8 589.5,360.6 586.9,370.3 584.9,380.3 583.2,390.6 582.1,401.2 581.4,412.1 581.1,423.2 581.3,434.6 582,446.3 579.6,458.8" fill="#a9bac6"/>
<polygon points="595,456.3 589.8,445.3 588.2,434 587.1,422.9 586.5,412.1 586.3,401.4 586.6,391 587.4,380.7 588.6,370.6 590.4,360.8 589.8,360.6 587.1,370.4 585,380.4 583.3,390.6 582,401.2 581.3,412.1 581,423.2 581.3,434.6 582,446.2 580.1,458.6" fill="#d9e2e8"/>
<polygon points="589.7,457 586.7,445.6 585.4,434.2 584.6,423 584.3,412.1 584.5,401.4 585.2,390.9 586.4,380.6 588,370.6 590.2,360.7 589.9,360.7 587.4,370.4 585.3,380.5 583.8,390.7 582.8,401.3 582.2,412.1 582.2,423.1 582.6,434.4 583.6,445.9 583.8,457.9" fill="#f5f8fa"/>
<polygon points="586.6,392.6 590,390.3 593.1,387.5 596.1,384.4 598.9,381 601.6,377.2 604.1,373.1 603.3,372.5 600.3,376.2 597.1,379.4 594,382.2 590.7,384.6 587.5,386.5 584.2,388" fill="#a9bac6"/>
<polygon points="586.3,392 589.6,389.7 592.8,387.1 595.8,384.1 598.6,380.7 601.3,377 603.9,372.9 603.5,372.7 600.5,376.4 597.4,379.7 594.3,382.6 591.1,385 587.8,387.1 584.5,388.7" fill="#dfe7ec"/>
<polygon points="585.8,405 580.9,403.1 576,400.6 571.2,397.7 566.4,394.2 561.8,390.1 557.2,385.6 556.4,386.2 560.4,391.4 564.5,396.2 568.8,400.6 573.4,404.5 578.2,408 583.2,411" fill="#a9bac6"/>
<polygon points="585.5,405.7 580.6,403.6 575.7,401.1 570.9,398.1 566.1,394.5 561.5,390.4 557,385.7 556.6,386 560.6,391.2 564.8,395.9 569.1,400.2 573.7,404 578.5,407.4 583.5,410.3" fill="#dfe7ec"/>
<polygon points="423.6,458.1 420,443.4 419.1,429.2 417.9,415.3 416.2,401.7 414,388.4 411.4,375.5 408.4,362.8 404.9,350.5 400.9,338.6 399.8,338.9 402.8,351.1 405.4,363.5 407.5,376.2 409.2,389.1 410.5,402.3 411.2,415.8 411.6,429.5 411.5,443.5 407.7,457.7" fill="#a9bac6"/>
<polygon points="421.5,458 418.4,443.5 417.7,429.2 416.5,415.3 415,401.8 412.9,388.5 410.5,375.6 407.6,362.9 404.4,350.6 400.7,338.7 400.1,338.8 403,351 405.5,363.4 407.5,376.1 409.2,389 410.4,402.2 411.2,415.7 411.5,429.5 411.4,443.5 408.2,457.8" fill="#d9e2e8"/>
<polygon points="416.9,458 415.7,443.5 415.3,429.3 414.4,415.5 413.1,401.9 411.4,388.7 409.3,375.7 406.8,363.1 403.9,350.7 400.5,338.7 400.2,338.8 403.3,350.9 405.9,363.3 408.1,375.9 409.9,388.9 411.3,402.1 412.2,415.6 412.8,429.4 412.9,443.5 411.6,457.8" fill="#f5f8fa"/>
<polygon points="416.6,408.2 414,405.9 411.3,403 408.6,399.4 406,395.1 403.4,390.3 400.8,384.8 399.9,385.1 401.6,391 403.3,396.4 405.2,401.2 407.2,405.6 409.4,409.5 411.7,413" fill="#a9bac6"/>
<polygon points="416,408.7 413.4,406.3 410.8,403.3 408.2,399.6 405.6,395.3 403.1,390.4 400.6,384.8 400.1,385 401.9,390.9 403.7,396.2 405.6,401 407.7,405.3 409.9,409.1 412.3,412.4" fill="#dfe7ec"/>
<polygon points="415.9,405.3 412.8,403.3 409.6,400.7 406.4,397.5 403.3,393.7 400.2,389.4 397.1,384.5 396.2,384.9 398.5,390.3 400.8,395.3 403.3,399.8 406,403.9 408.9,407.5 411.9,410.7" fill="#a9bac6"/>
<polygon points="415.5,405.9 412.3,403.8 409.2,401.1 406,397.8 402.9,394 399.9,389.6 396.9,384.6 396.5,384.8 398.8,390.2 401.2,395.1 403.7,399.5 406.4,403.5 409.3,407 412.4,410.1" fill="#dfe7ec"/>
<polygon points="590.2,459.7 586.9,447.3 587,435.4 587.1,423.7 587.1,412.3 587,401.1 586.9,390.2 586.6,379.5 586.4,369 586,358.9 584.8,358.9 584.2,369 583.5,379.4 582.8,390 582,400.9 581.1,412 580.1,423.4 579.1,435 578.1,446.9 573.5,458.8" fill="#a9bac6"/>
<polygon points="588,459.6 585.4,447.3 585.6,435.4 585.7,423.7 585.9,412.3 585.9,401.1 585.9,390.2 585.9,379.5 585.8,369 585.7,358.9 585.1,358.9 584.4,369 583.6,379.4 582.8,390 581.9,400.9 581,412 580.1,423.4 579.1,435 578,446.9 574.1,458.9" fill="#d9e2e8"/>
<polygon points="583.1,459.4 582.5,447.2 583,435.3 583.4,423.6 583.9,412.2 584.3,401 584.6,390.1 585,379.5 585.3,369 585.6,358.9 585.3,358.9 584.7,369 584,379.4 583.3,390.1 582.6,401 581.9,412.1 581.2,423.5 580.4,435.1 579.6,447 577.6,459.1" fill="#f5f8fa"/>
<polygon points="585.6,415.1 590.5,411.7 595.2,407.9 599.7,403.5 603.9,398.6 607.9,393.2 611.8,387.3 610.9,386.7 606.4,392 601.8,396.7 597.1,400.7 592.3,404.1 587.5,407 582.6,409.2" fill="#a9bac6"/>
<polygon points="585.2,414.4 590.2,411.2 594.9,407.4 599.3,403.1 603.6,398.3 607.7,393 611.6,387.1 611.1,386.9 606.7,392.2 602.1,396.9 597.5,401.1 592.7,404.6 587.9,407.5 582.9,409.9" fill="#dfe7ec"/>
<polygon points="585.6,398 591.5,395 597.1,391.6 602.4,387.7 607.5,383.3 612.4,378.4 617,373.1 616.3,372.4 611.2,377.2 605.9,381.4 600.5,385.1 595,388.2 589.4,390.8 583.7,392.9" fill="#a9bac6"/>
<polygon points="585.4,397.3 591.2,394.5 596.8,391.1 602.1,387.3 607.2,383 612.1,378.2 616.8,372.9 616.5,372.6 611.4,377.4 606.2,381.7 600.8,385.5 595.3,388.7 589.7,391.4 583.9,393.6" fill="#dfe7ec"/>
<polygon points="585.8,419.5 588.4,416.9 590.8,414 593.1,410.8 595.1,407.3 597.1,403.5 598.9,399.3 598,398.8 595.4,402.4 592.7,405.6 590,408.3 587.3,410.6 584.7,412.4 582,413.8" fill="#a9bac6"/>
<polygon points="585.4,418.8 588,416.4 590.4,413.6 592.7,410.5 594.8,407.1 596.8,403.3 598.7,399.2 598.2,398.9 595.7,402.6 593.1,405.9 590.4,408.7 587.8,411 585.1,412.9 582.4,414.4" fill="#dfe7ec"/>
<polygon points="470.8,461.2 467.8,447.3 468.4,434 468.8,421 469.3,408.2 469.7,395.7 470.1,383.5 470.5,371.5 470.9,359.9 471.2,348.5 470,348.4 468.7,359.7 467.4,371.3 466,383.2 464.6,395.3 463.2,407.7 461.7,420.4 460.3,433.4 458.8,446.7 453.7,459.9" fill="#a9bac6"/>
<polygon points="468.7,461.1 466.3,447.3 466.9,434 467.5,420.9 468.1,408.2 468.7,395.7 469.2,383.5 469.8,371.5 470.3,359.9 470.9,348.5 470.3,348.4 468.9,359.7 467.4,371.3 466,383.2 464.6,395.3 463.1,407.8 461.7,420.5 460.2,433.5 458.7,446.7 454.3,460" fill="#d9e2e8"/>
<polygon points="463.6,460.8 463.3,447.1 464.2,433.8 465.1,420.8 466,408.1 466.9,395.6 467.9,383.4 468.8,371.5 469.8,359.8 470.7,348.5 470.4,348.4 469.1,359.8 467.8,371.4 466.6,383.3 465.3,395.4 464,407.9 462.8,420.6 461.5,433.6 460.3,446.9 457.9,460.3" fill="#f5f8fa"/>
<polygon points="468.6,409.7 467.1,408.4 465.4,406.5 463.8,404.2 462.1,401.4 460.4,398.2 458.8,394.6 457.8,394.8 458.6,398.8 459.3,402.5 460.1,405.8 461.1,408.8 462.1,411.6 463.3,414.1" fill="#a9bac6"/>
<polygon points="468,410.2 466.5,408.7 464.9,406.8 463.3,404.4 461.7,401.6 460.1,398.3 458.6,394.6 458.1,394.8 458.9,398.7 459.7,402.3 460.6,405.6 461.6,408.6 462.6,411.2 463.9,413.6" fill="#dfe7ec"/>
<polygon points="467.4,416.9 471.1,414.2 474.5,411.2 477.8,407.8 480.8,404.1 483.7,400 486.4,395.5 485.6,394.9 482.1,398.7 478.6,402 475.1,404.9 471.5,407.2 467.9,409.1 464.2,410.6" fill="#a9bac6"/>
<polygon points="467,416.2 470.7,413.7 474.2,410.7 477.4,407.4 480.5,403.8 483.4,399.8 486.2,395.4 485.8,395.1 482.4,398.9 478.9,402.3 475.4,405.2 471.8,407.7 468.2,409.7 464.6,411.3" fill="#dfe7ec"/>
<polygon points="387.7,460 382.1,444.9 381,429.8 380.1,415 379.4,400.6 378.9,386.4 378.7,372.5 378.8,358.9 379,345.6 379.5,332.6 378.3,332.5 376.7,345.4 375.2,358.7 374,372.3 373,386.3 372.3,400.5 371.8,415.2 371.5,430.1 371.5,445.4 367.6,461.2" fill="#a9bac6"/>
<polygon points="385.5,460.1 380.6,444.9 379.5,429.8 378.7,415.1 378.1,400.6 377.8,386.4 377.8,372.5 378,358.9 378.5,345.6 379.2,332.6 378.6,332.5 376.8,345.5 375.3,358.7 374,372.3 373,386.3 372.2,400.5 371.7,415.1 371.5,430.1 371.5,445.3 368.2,461.2" fill="#d9e2e8"/>
<polygon points="379.3,460.4 376.8,445.1 376.1,429.9 375.7,415.1 375.5,400.6 375.7,386.4 376.1,372.5 376.8,358.9 377.8,345.6 379.1,332.6 378.8,332.5 377.1,345.5 375.7,358.8 374.6,372.4 373.7,386.3 373.1,400.5 372.9,415.1 372.9,430 373.2,445.2 372.3,460.8" fill="#f5f8fa"/>
<polygon points="377.3,408.8 380.5,406.8 383.4,404.4 386.2,401.9 388.8,399.1 391.3,396.1 393.6,392.8 392.8,392.1 389.8,394.6 386.7,396.6 383.6,398.4 380.6,399.8 377.5,400.9 374.4,401.6" fill="#a9bac6"/>
<polygon points="377,408.1 380.2,406.2 383.1,403.9 385.9,401.5 388.6,398.8 391,395.8 393.4,392.6 393,392.3 390,394.8 387,396.9 383.9,398.8 380.9,400.3 377.8,401.5 374.7,402.3" fill="#dfe7ec"/>
<polygon points="377.6,398.2 372.8,395.8 367.9,392.8 363.1,389 358.4,384.6 353.7,379.5 349.1,373.7 348.3,374.2 352,380.7 355.9,386.6 360.1,392 364.5,396.8 369.1,401.1 374,404.8" fill="#a9bac6"/>
<polygon points="377.3,398.9 372.4,396.4 367.5,393.2 362.7,389.4 358,384.9 353.4,379.7 348.9,373.8 348.5,374.1 352.3,380.5 356.3,386.4 360.4,391.6 364.8,396.4 369.5,400.5 374.4,404.1" fill="#dfe7ec"/>
<polygon points="508.4,462.2 504.3,447 503.9,432.3 503.1,418 502,403.9 500.4,390.2 498.5,376.9 496.2,363.8 493.5,351.2 490.5,338.8 489.3,339.1 491.2,351.6 492.7,364.4 493.8,377.4 494.6,390.7 494.9,404.3 494.9,418.2 494.5,432.3 493.7,446.7 488.5,461.2" fill="#a9bac6"/>
<polygon points="506.2,462.2 502.7,447 502.4,432.3 501.8,418 500.7,404 499.4,390.3 497.6,376.9 495.5,363.9 493,351.2 490.2,338.9 489.6,339 491.4,351.5 492.8,364.3 493.9,377.3 494.5,390.7 494.9,404.3 494.8,418.1 494.4,432.3 493.7,446.7 489,461.3" fill="#d9e2e8"/>
<polygon points="500,461.9 499,446.9 499.1,432.3 498.8,418 498.2,404.1 497.2,390.4 495.9,377.1 494.3,364 492.3,351.3 490,338.9 489.7,339 491.6,351.4 493.2,364.2 494.4,377.2 495.3,390.5 495.8,404.2 496,418.1 495.9,432.3 495.4,446.8 493.2,461.5" fill="#f5f8fa"/>
<polygon points="495.7,368.6 501.1,365.6 506.3,362.1 511.2,358.1 516,353.6 520.5,348.7 524.8,343.2 524,342.6 519.3,347.6 514.4,352 509.4,355.8 504.3,359.1 499.1,361.9 493.8,364.1" fill="#a9bac6"/>
<polygon points="495.4,367.9 500.8,365 506,361.6 510.9,357.7 515.7,353.3 520.2,348.5 524.6,343.1 524.2,342.8 519.5,347.8 514.7,352.3 509.7,356.2 504.7,359.6 499.4,362.5 494.1,364.8" fill="#dfe7ec"/>
<polygon points="499.5,389.7 502.4,385.7 505.2,381.1 507.8,375.9 510.3,370 512.6,363.5 514.8,356.4 513.8,356.1 510.8,362.8 507.8,368.9 504.6,374.1 501.4,378.6 498.2,382.3 495,385.2" fill="#a9bac6"/>
<polygon points="498.9,389.2 501.9,385.3 504.7,380.8 507.4,375.6 509.9,369.8 512.3,363.4 514.6,356.3 514.1,356.2 511.1,363 508.1,369 505,374.4 501.9,378.9 498.7,382.7 495.5,385.8" fill="#dfe7ec"/>
<polygon points="559,461.8 553.3,447.6 552.1,433.4 551.5,419.4 551.5,405.6 552.1,392.1 553.3,378.9 555.2,365.9 557.6,353.1 560.8,340.6 559.6,340.3 555.4,352.5 551.9,365.2 548.9,378.2 546.6,391.5 544.9,405.2 543.8,419.2 543.3,433.6 543.5,448.3 540.5,463.8" fill="#a9bac6"/>
<polygon points="556.8,461.9 551.8,447.7 550.7,433.4 550.1,419.4 550.3,405.6 551,392.1 552.4,378.8 554.4,365.8 557.1,353 560.5,340.5 559.9,340.4 555.6,352.6 552,365.2 548.9,378.2 546.6,391.5 544.8,405.2 543.7,419.2 543.3,433.6 543.5,448.3 541.1,463.7" fill="#d9e2e8"/>
<polygon points="551.2,462.4 548.4,447.9 547.6,433.5 547.4,419.3 547.9,405.5 549.1,391.9 550.9,378.6 553.4,365.6 556.5,352.9 560.3,340.5 560,340.4 555.9,352.7 552.3,365.4 549.5,378.4 547.3,391.7 545.7,405.3 544.9,419.3 544.6,433.5 545.1,448.1 544.9,463.1" fill="#f5f8fa"/>
<polygon points="552.2,379.2 549.6,377.8 547,375.9 544.3,373.5 541.7,370.8 539.2,367.6 536.7,363.9 535.8,364.4 537.7,368.5 539.7,372.2 541.8,375.6 544.1,378.7 546.5,381.5 549.1,383.9" fill="#a9bac6"/>
<polygon points="551.8,379.9 549.2,378.3 546.5,376.3 544,373.9 541.4,371 538.9,367.7 536.5,364 536,364.3 538,368.3 540,372 542.2,375.3 544.5,378.3 546.9,381 549.5,383.3" fill="#dfe7ec"/>
<polygon points="553.4,374.4 557.7,371.4 561.8,367.9 565.6,364 569.3,359.5 572.9,354.6 576.2,349.2 575.4,348.6 571.5,353.6 567.6,358 563.5,361.8 559.4,365.1 555.2,367.8 551,370" fill="#a9bac6"/>
<polygon points="553,373.8 557.3,370.9 561.4,367.5 565.3,363.6 569,359.2 572.6,354.4 576,349 575.6,348.8 571.8,353.8 567.9,358.3 563.9,362.2 559.8,365.6 555.6,368.4 551.4,370.7" fill="#dfe7ec"/>
<polygon points="551.2,394.3 548.3,391.6 545.3,388.2 542.4,384 539.5,379.1 536.6,373.5 533.8,367.2 532.9,367.5 534.8,374.2 536.9,380.3 539,385.8 541.4,390.7 543.8,395 546.5,398.8" fill="#a9bac6"/>
<polygon points="550.6,394.8 547.7,392 544.8,388.5 541.9,384.2 539.1,379.3 536.3,373.6 533.6,367.3 533.1,367.4 535.1,374.1 537.2,380.1 539.5,385.5 541.9,390.4 544.4,394.6 547.1,398.3" fill="#dfe7ec"/>
<polygon points="551,392.5 556.3,388.9 561.4,384.7 566.3,379.9 570.9,374.5 575.3,368.6 579.5,362 578.7,361.5 573.9,367.4 568.9,372.7 563.9,377.3 558.7,381.2 553.5,384.5 548.2,387.1" fill="#a9bac6"/>
<polygon points="550.6,391.8 556,388.3 561.1,384.2 566,379.5 570.6,374.2 575.1,368.4 579.3,361.9 578.9,361.6 574.1,367.6 569.2,373 564.2,377.7 559.1,381.7 553.8,385.1 548.5,387.8" fill="#dfe7ec"/>
<polygon points="391.6,463.3 386.8,447.2 386.5,431.4 386.4,416 386.3,400.9 386.2,386.2 386.2,371.7 386.3,357.6 386.4,343.8 386.5,330.3 385.4,330.2 383.9,343.6 382.5,357.4 381.1,371.5 379.9,385.9 378.6,400.6 377.5,415.7 376.4,431.2 375.3,446.9 369.8,462.9" fill="#a9bac6"/>
<polygon points="389.4,463.3 385.3,447.2 385.1,431.4 385,416 385,400.9 385.1,386.2 385.3,371.7 385.5,357.6 385.8,343.8 386.2,330.3 385.7,330.2 384.1,343.6 382.6,357.4 381.2,371.5 379.8,385.9 378.6,400.7 377.4,415.7 376.3,431.2 375.3,446.9 370.4,462.9" fill="#d9e2e8"/>
<polygon points="382.5,463.2 381.1,447.1 381.3,431.4 381.7,415.9 382.1,400.9 382.7,386.1 383.4,371.6 384.2,357.5 385.1,343.7 386.1,330.3 385.8,330.2 384.3,343.7 383,357.4 381.7,371.5 380.6,386 379.5,400.7 378.6,415.8 377.8,431.2 377.1,447 374.9,463" fill="#f5f8fa"/>
<polygon points="385.4,359.6 390.4,356.7 395.2,353.4 399.8,349.6 404.2,345.4 408.4,340.6 412.4,335.5 411.6,334.8 407.2,339.5 402.6,343.7 398,347.3 393.2,350.4 388.3,353 383.4,355.1" fill="#a9bac6"/>
<polygon points="385.1,358.9 390.1,356.2 394.9,352.9 399.5,349.2 403.9,345.1 408.1,340.4 412.2,335.3 411.8,335 407.4,339.8 402.9,344 398.3,347.7 393.5,350.9 388.7,353.6 383.7,355.8" fill="#dfe7ec"/>
<polygon points="385.7,389.8 386.8,387.3 387.8,384.7 388.6,381.7 389.4,378.5 390.1,375 390.8,371.1 389.8,370.8 388.3,374.3 386.6,377.4 385,380.1 383.4,382.3 381.8,384.1 380.3,385.4" fill="#a9bac6"/>
<polygon points="385.1,389.3 386.2,387 387.3,384.4 388.2,381.5 389,378.4 389.8,374.9 390.6,371 390.1,370.9 388.6,374.4 387,377.6 385.5,380.3 383.9,382.6 382.3,384.5 380.8,385.8" fill="#dfe7ec"/>
<polygon points="385,382.8 387.9,380.2 390.6,377.3 393.1,373.9 395.4,370.3 397.6,366.3 399.6,361.9 398.8,361.4 396,365.3 393.1,368.6 390.2,371.5 387.3,373.9 384.4,375.9 381.6,377.4" fill="#a9bac6"/>
<polygon points="384.6,382.2 387.5,379.7 390.2,376.8 392.7,373.6 395.1,370 397.3,366.1 399.4,361.8 399,361.6 396.3,365.4 393.5,368.9 390.6,371.8 387.7,374.3 384.8,376.4 382,378" fill="#dfe7ec"/>
<polygon points="570,464.5 565.8,450.5 566,436.7 566.6,423.2 567.8,410 569.5,396.9 571.7,384.2 574.5,371.7 577.8,359.4 581.6,347.4 580.5,346.9 575.7,358.7 571.3,370.7 567.5,383.2 564.2,395.9 561.4,409 559.1,422.4 557.4,436.2 556.2,450.2 551.8,464.7" fill="#a9bac6"/>
<polygon points="567.8,464.5 564.3,450.5 564.5,436.7 565.3,423.2 566.6,409.9 568.4,396.9 570.8,384.1 573.8,371.6 577.3,359.3 581.4,347.3 580.8,347 575.8,358.8 571.4,370.8 567.5,383.3 564.1,396 561.3,409.1 559,422.5 557.3,436.2 556.1,450.2 552.3,464.6" fill="#d9e2e8"/>
<polygon points="562.3,464.5 561,450.4 561.6,436.6 562.7,423 564.3,409.7 566.6,396.6 569.4,383.9 572.7,371.4 576.7,359.1 581.2,347.2 580.9,347.1 576.1,358.9 571.8,371 568,383.5 564.8,396.2 562.2,409.3 560.2,422.7 558.7,436.3 557.8,450.3 556.1,464.6" fill="#f5f8fa"/>
<polygon points="569.7,393.2 572.7,390.1 575.5,386.7 578.2,382.8 580.6,378.4 583,373.6 585.2,368.4 584.3,367.9 581.4,372.8 578.5,377 575.4,380.7 572.4,383.9 569.3,386.5 566.3,388.5" fill="#a9bac6"/>
<polygon points="569.2,392.6 572.2,389.7 575.1,386.3 577.8,382.5 580.3,378.2 582.7,373.5 585,368.3 584.6,368 581.7,372.9 578.8,377.3 575.8,381 572.8,384.3 569.8,387 566.7,389.1" fill="#dfe7ec"/>
<polygon points="572.3,380.7 574.6,378.5 576.8,376 578.8,373.1 580.8,370 582.6,366.6 584.3,362.8 583.4,362.4 581.1,365.7 578.8,368.7 576.5,371.3 574.2,373.4 571.8,375.2 569.5,376.5" fill="#a9bac6"/>
<polygon points="571.8,380.1 574.2,378 576.4,375.6 578.5,372.8 580.4,369.8 582.3,366.4 584.1,362.7 583.6,362.5 581.4,365.9 579.2,368.9 576.9,371.6 574.6,373.8 572.2,375.7 569.9,377.2" fill="#dfe7ec"/>
<polygon points="571.6,383.4 575.6,380.2 579.5,376.4 583.2,372.1 586.7,367.3 590,361.9 593.2,356.1 592.3,355.6 588.6,361 584.8,365.8 580.9,370 576.9,373.6 572.9,376.6 568.8,379" fill="#a9bac6"/>
<polygon points="571.2,382.8 575.2,379.6 579.1,376 582.8,371.8 586.4,367 589.7,361.8 593,356 592.5,355.7 588.9,361.2 585.1,366.1 581.3,370.4 577.3,374.1 573.3,377.2 569.2,379.7" fill="#dfe7ec"/>
<polygon points="368.7,464.4 364.1,450.5 362.5,436.9 360.6,423.5 358.3,410.4 355.6,397.7 352.7,385.3 349.3,373.1 345.6,361.3 341.5,349.8 340.4,350.2 343.5,361.9 346.3,373.9 348.6,386.1 350.6,398.6 352.3,411.3 353.6,424.3 354.5,437.6 355.1,451.1 351.9,465" fill="#a9bac6"/>
<polygon points="366.6,464.4 362.5,450.6 361,436.9 359.2,423.6 357.1,410.5 354.6,397.8 351.8,385.4 348.6,373.2 345.1,361.4 341.3,349.9 340.7,350.1 343.7,361.8 346.3,373.8 348.6,386 350.6,398.5 352.2,411.2 353.5,424.3 354.5,437.5 355.1,451 352.4,465" fill="#d9e2e8"/>
<polygon points="361.6,464.6 359.6,450.7 358.4,437.1 356.9,423.8 355.1,410.8 352.9,398 350.5,385.6 347.7,373.4 344.6,361.5 341.1,350 340.8,350.1 343.9,361.7 346.7,373.6 349.2,385.8 351.3,398.3 353.1,411 354.6,424 355.8,437.3 356.6,450.9 356,464.8" fill="#f5f8fa"/>
<polygon points="358.6,420.2 362,416.2 365.2,411.5 368.2,406.2 371.1,400.4 373.7,393.9 376.3,386.7 375.4,386.4 371.9,393 368.4,398.9 364.8,404.1 361.2,408.5 357.6,412.1 354,414.9" fill="#a9bac6"/>
<polygon points="358.1,419.7 361.5,415.7 364.7,411.1 367.8,406 370.7,400.2 373.4,393.7 376.1,386.6 375.6,386.4 372.2,393.2 368.8,399.1 365.3,404.4 361.7,408.8 358.1,412.6 354.5,415.5" fill="#dfe7ec"/>
<polygon points="352.5,391.2 357.8,387.7 362.8,383.8 367.5,379.2 372.1,374.2 376.5,368.5 380.6,362.3 379.8,361.8 375.1,367.5 370.3,372.5 365.4,376.9 360.4,380.7 355.3,383.9 350.1,386.4" fill="#a9bac6"/>
<polygon points="352.2,390.5 357.4,387.2 362.4,383.3 367.2,378.9 371.8,373.9 376.2,368.3 380.4,362.2 380,361.9 375.4,367.7 370.6,372.8 365.7,377.3 360.8,381.2 355.6,384.4 350.4,387.1" fill="#dfe7ec"/>
<polygon points="350.3,376.2 346.9,373.9 343.6,371.1 340.3,367.6 337.1,363.6 334,359 330.9,353.8 330,354.3 332.6,359.8 335.3,364.8 338.1,369.4 341.1,373.4 344.2,377 347.6,380" fill="#a9bac6"/>
<polygon points="349.8,376.8 346.5,374.4 343.2,371.5 340,367.9 336.8,363.8 333.7,359.2 330.7,354 330.2,354.2 332.9,359.6 335.6,364.6 338.5,369.1 341.5,373 344.7,376.5 348,379.4" fill="#dfe7ec"/>
<polygon points="525.1,465 520.5,449.3 520.6,434 520.9,419 521.4,404.4 522.1,390 523.1,375.9 524.2,362.1 525.6,348.7 527.2,335.5 526,335.3 523.2,348.3 520.5,361.6 518.1,375.3 515.9,389.4 513.9,403.7 512.2,418.4 510.6,433.5 509.3,448.9 503.8,464.5" fill="#a9bac6"/>
<polygon points="522.9,465 519,449.3 519.2,434 519.5,419 520.2,404.3 521,390 522.1,375.9 523.5,362.1 525.1,348.6 526.9,335.4 526.3,335.3 523.3,348.3 520.6,361.7 518.1,375.4 515.9,389.4 513.9,403.8 512.1,418.5 510.5,433.5 509.2,448.9 504.3,464.5" fill="#d9e2e8"/>
<polygon points="516.2,464.8 514.9,449.2 515.5,433.9 516.3,418.9 517.4,404.2 518.7,389.8 520.3,375.7 522.2,362 524.3,348.5 526.7,335.4 526.4,335.3 523.6,348.4 521,361.8 518.7,375.5 516.6,389.5 514.8,403.9 513.3,418.6 512,433.6 511,449 508.7,464.6" fill="#f5f8fa"/>
<polygon points="519.8,398.6 524.5,395.9 528.9,392.9 533.1,389.4 537.1,385.6 540.9,381.5 544.5,376.9 543.8,376.3 539.5,380 535.2,383.3 530.7,386.1 526.3,388.5 521.7,390.4 517.1,391.9" fill="#a9bac6"/>
<polygon points="519.5,397.9 524.2,395.3 528.6,392.4 532.8,389 536.9,385.3 540.7,381.2 544.3,376.8 544,376.4 539.7,380.3 535.4,383.6 531,386.5 526.6,389 522,391 517.4,392.6" fill="#dfe7ec"/>
<polygon points="520.8,392.2 525.4,388.4 529.7,384.1 533.7,379.2 537.5,373.8 541.2,367.7 544.6,361.1 543.8,360.6 539.5,366.7 535.2,372 530.8,376.7 526.3,380.6 521.8,383.9 517.3,386.4" fill="#a9bac6"/>
<polygon points="520.4,391.6 525,387.9 529.3,383.7 533.3,378.9 537.2,373.5 540.9,367.6 544.4,361 544,360.8 539.8,366.8 535.5,372.3 531.2,377 526.7,381 522.2,384.4 517.7,387.1" fill="#dfe7ec"/>
<polygon points="425.1,466.8 420.5,451.9 419.6,437.4 418.3,423.2 416.7,409.3 414.7,395.7 412.3,382.5 409.5,369.6 406.4,357.1 402.9,344.8 401.8,345.1 404.1,357.6 406,370.2 407.6,383.2 408.8,396.4 409.7,409.9 410.1,423.7 410.2,437.7 410,452 405.2,466.5" fill="#a9bac6"/>
<polygon points="423,466.8 419,451.9 418.1,437.4 417,423.2 415.5,409.3 413.6,395.8 411.4,382.6 408.8,369.7 405.9,357.1 402.6,344.9 402.1,345.1 404.3,357.5 406.1,370.2 407.6,383.1 408.8,396.3 409.6,409.8 410.1,423.6 410.2,437.7 409.9,452 405.8,466.6" fill="#d9e2e8"/>
<polygon points="416.8,466.7 415.2,452 414.8,437.5 414,423.3 412.9,409.5 411.5,396 409.7,382.7 407.6,369.8 405.2,357.2 402.5,345 402.2,345 404.5,357.4 406.5,370 408.2,382.9 409.5,396.2 410.5,409.7 411.2,423.5 411.6,437.6 411.6,452 409.9,466.6" fill="#f5f8fa"/>
<polygon points="416.6,424.8 420,421.1 423.2,416.9 426.1,412.2 428.9,407 431.5,401.3 434,395.1 433.1,394.6 429.6,400.3 426,405.2 422.4,409.5 418.8,413.2 415.2,416.1 411.7,418.3" fill="#a9bac6"/>
<polygon points="416.1,424.2 419.6,420.7 422.8,416.6 425.7,411.9 428.6,406.8 431.2,401.2 433.7,395 433.3,394.8 429.9,400.4 426.4,405.5 422.8,409.8 419.3,413.5 415.7,416.6 412.1,418.9" fill="#dfe7ec"/>
<polygon points="409.2,366.5 407,364.3 404.9,361.4 402.7,357.9 400.6,353.8 398.5,349.1 396.5,343.9 395.6,344.2 397,349.7 398.6,354.6 400.2,359.1 401.9,363 403.7,366.5 405.7,369.5" fill="#a9bac6"/>
<polygon points="408.6,367 406.5,364.6 404.3,361.6 402.3,358.1 400.2,353.9 398.2,349.2 396.3,344 395.8,344.1 397.3,349.6 399,354.4 400.6,358.8 402.4,362.7 404.3,366.1 406.3,369.1" fill="#dfe7ec"/>
<polygon points="414.7,410.5 418,407.9 421.1,404.8 424,401.5 426.7,397.7 429.2,393.7 431.6,389.2 430.7,388.7 427.5,392.5 424.3,395.7 421,398.6 417.8,400.9 414.5,402.8 411.2,404.2" fill="#a9bac6"/>
<polygon points="414.4,409.9 417.6,407.3 420.7,404.4 423.6,401.1 426.3,397.5 428.9,393.5 431.4,389.1 430.9,388.8 427.8,392.7 424.6,396 421.4,398.9 418.1,401.4 414.9,403.3 411.6,404.9" fill="#dfe7ec"/>
<polygon points="466.7,467.8 461.7,451.2 460.6,434.6 460.1,418.4 460,402.5 460.6,386.9 461.6,371.7 463.3,356.7 465.5,342.1 468.2,327.8 467,327.5 463.4,341.7 460.2,356.2 457.7,371.2 455.7,386.5 454.2,402.3 453.3,418.4 452.9,434.8 453.1,451.7 450.5,469.2" fill="#a9bac6"/>
<polygon points="464.6,467.9 460.2,451.2 459.2,434.7 458.7,418.4 458.8,402.5 459.5,386.9 460.7,371.6 462.5,356.7 464.9,342 467.9,327.7 467.3,327.5 463.6,341.7 460.3,356.3 457.7,371.2 455.6,386.6 454.1,402.3 453.2,418.3 452.8,434.8 453.1,451.6 451.1,469" fill="#d9e2e8"/>
<polygon points="459.9,468.2 457.4,451.3 456.7,434.7 456.5,418.4 456.9,402.4 457.9,386.8 459.5,371.5 461.7,356.6 464.4,342 467.8,327.7 467.5,327.6 463.8,341.8 460.7,356.4 458.2,371.4 456.3,386.7 455,402.3 454.3,418.4 454.1,434.8 454.6,451.5 454.5,468.7" fill="#f5f8fa"/>
<polygon points="460.2,383.2 463,380.4 465.6,377.3 468,373.8 470.3,369.9 472.4,365.6 474.4,360.9 473.5,360.5 470.9,364.7 468.2,368.5 465.4,371.8 462.6,374.6 459.8,376.9 457,378.7" fill="#a9bac6"/>
<polygon points="459.8,382.5 462.5,379.9 465.1,376.9 467.6,373.5 469.9,369.7 472.1,365.4 474.2,360.8 473.8,360.6 471.2,364.9 468.5,368.8 465.8,372.2 463,375 460.3,377.4 457.5,379.3" fill="#dfe7ec"/>
<polygon points="462.8,362.4 465,359 467.1,355 469.1,350.5 470.9,345.4 472.7,339.8 474.4,333.6 473.5,333.3 471.2,339.3 468.9,344.6 466.6,349.3 464.2,353.4 461.8,356.7 459.4,359.4" fill="#a9bac6"/>
<polygon points="462.2,361.9 464.5,358.6 466.6,354.7 468.6,350.3 470.6,345.3 472.4,339.7 474.2,333.5 473.7,333.4 471.5,339.4 469.3,344.8 467,349.5 464.7,353.6 462.3,357.1 459.9,359.9" fill="#dfe7ec"/>
<polygon points="543.2,472.9 537.7,457.6 535.8,442.2 534.2,427.1 533,412.4 532.1,397.9 531.5,383.8 531.3,369.9 531.4,356.4 531.9,343.1 530.7,343 529.4,356.2 528.3,369.8 527.7,383.7 527.4,398 527.4,412.6 527.8,427.6 528.5,442.8 529.6,458.5 527.8,474.8" fill="#a9bac6"/>
<polygon points="541,473.1 536.2,457.7 534.4,442.3 532.9,427.2 531.7,412.4 531,397.9 530.6,383.8 530.6,369.9 530.9,356.3 531.6,343.1 531,343 529.5,356.3 528.4,369.8 527.7,383.7 527.3,398 527.3,412.6 527.7,427.5 528.4,442.8 529.5,458.4 528.4,474.7" fill="#d9e2e8"/>
<polygon points="536.7,473.5 533.7,457.9 532.1,442.4 530.8,427.3 530,412.5 529.5,398 529.4,383.8 529.7,369.9 530.4,356.3 531.5,343.1 531.2,343 529.8,356.3 528.8,369.8 528.2,383.7 528,398 528.2,412.5 528.7,427.4 529.7,442.6 531,458.2 531.6,474.2" fill="#f5f8fa"/>
<polygon points="531.7,402 528.2,399.6 524.7,396.4 521.3,392.7 517.9,388.2 514.6,383.1 511.4,377.4 510.4,377.8 513,384 515.7,389.6 518.5,394.6 521.5,399.2 524.7,403.2 528.1,406.7" fill="#a9bac6"/>
<polygon points="531.2,402.6 527.7,400 524.3,396.8 520.9,392.9 517.6,388.4 514.3,383.3 511.1,377.5 510.7,377.7 513.3,383.8 516,389.4 518.9,394.4 522,398.8 525.2,402.7 528.5,406.1" fill="#dfe7ec"/>
<polygon points="531.7,401.3 529.8,399.9 527.8,398.2 525.8,396 523.7,393.3 521.7,390.3 519.8,386.8 518.9,387.2 520.1,391.1 521.4,394.6 522.9,397.8 524.4,400.7 526.1,403.3 528,405.7" fill="#a9bac6"/>
<polygon points="531.2,401.8 529.3,400.4 527.3,398.5 525.3,396.2 523.4,393.5 521.4,390.4 519.5,386.9 519.1,387.1 520.4,390.9 521.8,394.4 523.3,397.5 524.9,400.4 526.6,402.9 528.4,405.1" fill="#dfe7ec"/>
<polygon points="532.4,432.5 536.5,430.1 540.4,427.3 544.1,424.1 547.6,420.6 550.8,416.8 553.9,412.7 553.2,412.1 549.4,415.4 545.6,418.4 541.7,420.9 537.8,423 533.8,424.8 529.8,426.1" fill="#a9bac6"/>
<polygon points="532.2,431.8 536.2,429.5 540.1,426.8 543.8,423.7 547.3,420.3 550.6,416.6 553.8,412.5 553.4,412.2 549.7,415.7 545.9,418.7 542,421.3 538.1,423.5 534.1,425.3 530.1,426.8" fill="#dfe7ec"/>
<polygon points="588.2,473.6 582.9,459.1 581.7,444.5 580.8,430.2 580.3,416.1 580.2,402.4 580.5,388.9 581.2,375.7 582.2,362.8 583.6,350.2 582.5,350 580,362.5 577.9,375.4 576.2,388.6 574.9,402.2 574,416 573.4,430.2 573.3,444.8 573.5,459.6 570.4,475.2" fill="#a9bac6"/>
<polygon points="586.1,473.7 581.4,459.1 580.3,444.5 579.5,430.2 579.1,416.1 579.2,402.4 579.6,388.9 580.4,375.7 581.7,362.8 583.3,350.2 582.8,350 580.2,362.6 578,375.4 576.2,388.6 574.9,402.2 573.9,416 573.3,430.2 573.2,444.7 573.4,459.6 571,475" fill="#d9e2e8"/>
<polygon points="580.7,474.1 578.2,459.3 577.4,444.6 576.9,430.2 576.9,416.1 577.3,402.3 578.2,388.8 579.4,375.6 581.1,362.7 583.2,350.1 582.9,350.1 580.4,362.6 578.4,375.5 576.8,388.7 575.6,402.2 574.8,416.1 574.5,430.2 574.5,444.7 575,459.4 574.7,474.6" fill="#f5f8fa"/>
<polygon points="579.6,391.1 583.8,388.1 587.7,384.7 591.4,380.8 595,376.4 598.4,371.6 601.6,366.3 600.7,365.8 597,370.6 593.1,374.8 589.2,378.5 585.2,381.7 581.2,384.3 577.1,386.4" fill="#a9bac6"/>
<polygon points="579.3,390.4 583.4,387.5 587.3,384.2 591.1,380.4 594.7,376.1 598.1,371.4 601.4,366.2 600.9,365.9 597.2,370.8 593.5,375.1 589.6,378.9 585.6,382.2 581.6,384.9 577.5,387.1" fill="#dfe7ec"/>
<polygon points="579.4,434.5 582.1,431.6 584.5,428.3 586.7,424.6 588.7,420.6 590.6,416.2 592.4,411.5 591.5,411 588.7,415.2 586,418.9 583.1,422.1 580.3,424.7 577.6,426.8 574.8,428.3" fill="#a9bac6"/>
<polygon points="579,433.9 581.6,431.1 584,427.9 586.3,424.3 588.4,420.4 590.3,416.1 592.2,411.3 591.7,411.1 589,415.4 586.3,419.1 583.6,422.3 580.8,425.1 578,427.2 575.3,428.9" fill="#dfe7ec"/>
<polygon points="412,474.8 407.9,460.4 407.4,446.4 406.5,432.7 405.2,419.4 403.5,406.3 401.5,393.6 399.1,381.2 396.4,369.2 393.3,357.4 392.1,357.7 394.1,369.6 395.8,381.8 397.1,394.2 398,406.9 398.5,419.8 398.7,433 398.5,446.5 397.9,460.2 393.1,474" fill="#a9bac6"/>
<polygon points="409.8,474.7 406.4,460.3 405.9,446.4 405.1,432.8 404,419.4 402.5,406.4 400.6,393.7 398.4,381.3 395.9,369.3 393,357.5 392.4,357.6 394.3,369.5 395.9,381.7 397.1,394.1 397.9,406.8 398.4,419.8 398.6,433 398.4,446.5 397.9,460.2 393.6,474.1" fill="#d9e2e8"/>
<polygon points="404.1,474.5 402.9,460.3 402.8,446.4 402.4,432.8 401.6,419.5 400.5,406.5 399.1,393.8 397.3,381.4 395.2,369.3 392.8,357.5 392.6,357.6 394.6,369.5 396.3,381.6 397.6,394 398.6,406.7 399.4,419.7 399.7,432.9 399.8,446.4 399.5,460.3 397.6,474.3" fill="#f5f8fa"/>
<polygon points="403.7,430.7 408.3,428.1 412.6,425.2 416.7,421.9 420.6,418.2 424.3,414.2 427.8,409.9 427,409.2 422.8,412.7 418.6,415.7 414.2,418.3 409.9,420.5 405.4,422.3 400.9,423.6" fill="#a9bac6"/>
<polygon points="403.4,430 408,427.5 412.3,424.7 416.4,421.5 420.3,417.9 424.1,414 427.6,409.7 427.2,409.4 423.1,412.9 418.8,416.1 414.5,418.8 410.2,421 405.7,422.9 401.2,424.3" fill="#dfe7ec"/>
<polygon points="402,406.2 406.7,402.5 411.1,398.3 415.3,393.5 419.3,388.1 423,382.2 426.7,375.6 425.8,375.1 421.5,381.1 417.1,386.5 412.7,391.1 408.1,395.1 403.5,398.3 398.9,401" fill="#a9bac6"/>
<polygon points="401.6,405.5 406.3,402 410.7,397.9 414.9,393.2 418.9,387.9 422.8,382 426.4,375.5 426,375.3 421.8,381.3 417.5,386.7 413,391.4 408.5,395.5 403.9,398.9 399.3,401.6" fill="#dfe7ec"/>
<polygon points="399.3,385.2 395.4,383.9 391.5,382.2 387.8,380.1 384.1,377.7 380.4,374.9 376.9,371.8 376.1,372.5 379.3,376.1 382.6,379.5 386,382.6 389.7,385.3 393.5,387.8 397.5,389.8" fill="#a9bac6"/>
<polygon points="399,385.9 395.1,384.5 391.2,382.7 387.5,380.5 383.8,378 380.2,375.2 376.7,371.9 376.3,372.3 379.5,375.9 382.8,379.2 386.3,382.2 390,384.8 393.8,387.2 397.8,389.1" fill="#dfe7ec"/>
<polygon points="500.4,474.6 496.3,459.8 495.6,445.5 494.8,431.4 493.7,417.6 492.5,404.2 491,391 489.4,378.2 487.5,365.7 485.5,353.5 484.3,353.6 485.3,365.9 486.1,378.5 486.8,391.3 487.2,404.5 487.4,417.9 487.4,431.6 487.3,445.6 486.9,459.9 482.7,474.4" fill="#a9bac6"/>
<polygon points="498.3,474.6 494.8,459.9 494.2,445.5 493.4,431.4 492.5,417.6 491.4,404.2 490.1,391.1 488.6,378.2 487,365.7 485.2,353.5 484.6,353.6 485.5,365.9 486.2,378.4 486.8,391.3 487.1,404.4 487.3,417.9 487.4,431.6 487.2,445.6 486.9,459.9 483.3,474.4" fill="#d9e2e8"/>
<polygon points="493,474.5 491.6,459.9 491.4,445.5 490.9,431.5 490.3,417.7 489.6,404.3 488.7,391.1 487.6,378.3 486.4,365.8 485.1,353.5 484.8,353.6 485.8,365.8 486.6,378.4 487.3,391.2 487.9,404.4 488.2,417.8 488.5,431.5 488.5,445.5 488.5,459.9 487,474.5" fill="#f5f8fa"/>
<polygon points="492.7,432 496.3,429.4 499.7,426.4 502.9,423.1 505.9,419.4 508.7,415.3 511.4,411 510.5,410.4 507.1,414 503.6,417.2 500.1,419.9 496.5,422.2 492.9,424 489.4,425.4" fill="#a9bac6"/>
<polygon points="492.3,431.4 495.9,428.8 499.4,425.9 502.6,422.7 505.6,419.1 508.5,415.1 511.2,410.8 510.8,410.5 507.4,414.2 503.9,417.5 500.4,420.3 496.9,422.7 493.3,424.6 489.7,426" fill="#dfe7ec"/>
<polygon points="488.8,377 485,375.4 481.3,373.4 477.7,371 474.1,368.2 470.6,364.9 467.2,361.3 466.4,361.9 469.4,366 472.6,369.7 475.9,373.1 479.4,376.2 483.1,378.8 486.9,381.1" fill="#a9bac6"/>
<polygon points="488.4,377.7 484.7,376 481,373.9 477.3,371.4 473.8,368.5 470.3,365.2 467,361.4 466.6,361.7 469.6,365.8 472.9,369.4 476.2,372.7 479.7,375.7 483.4,378.2 487.2,380.4" fill="#dfe7ec"/>
<polygon points="444.2,474.6 438.4,461.9 437.3,449.1 436.4,436.6 435.9,424.3 435.7,412.2 435.8,400.4 436.2,388.8 436.9,377.5 437.9,366.4 436.7,366.2 434.4,377.1 432.4,388.4 430.8,400 429.4,411.9 428.4,424.1 427.6,436.6 427.2,449.4 427,462.4 422.8,476.1" fill="#a9bac6"/>
<polygon points="442.1,474.7 436.9,461.9 435.8,449.1 435.1,436.6 434.7,424.3 434.6,412.2 434.9,400.4 435.4,388.8 436.3,377.4 437.6,366.3 437,366.2 434.6,377.2 432.5,388.4 430.8,400 429.4,411.9 428.3,424.1 427.5,436.6 427.1,449.3 427,462.4 423.4,476" fill="#d9e2e8"/>
<polygon points="435.3,475.1 432.7,462.1 432.1,449.2 431.8,436.6 431.8,424.2 432.2,412.1 433,400.3 434.1,388.7 435.6,377.4 437.4,366.3 437.1,366.2 434.8,377.2 432.9,388.5 431.3,400.1 430.1,412 429.3,424.1 428.7,436.6 428.6,449.3 428.8,462.2 427.8,475.6" fill="#f5f8fa"/>
<polygon points="435.1,435.1 437.1,431.8 439,428 440.7,423.9 442.2,419.3 443.6,414.3 445,408.9 444,408.6 441.6,413.5 439,417.9 436.5,421.7 433.9,424.9 431.4,427.4 429,429.2" fill="#a9bac6"/>
<polygon points="434.5,434.6 436.6,431.4 438.5,427.7 440.2,423.7 441.8,419.2 443.3,414.2 444.7,408.8 444.3,408.6 441.9,413.7 439.4,418.1 436.9,421.9 434.4,425.2 432,427.8 429.5,429.8" fill="#dfe7ec"/>
<polygon points="435.9,385.3 431.7,382 427.5,378 423.4,373.1 419.4,367.5 415.4,361.2 411.6,354 410.7,354.4 414,361.9 417.4,368.7 421.1,374.8 424.8,380.2 428.8,385 433,389" fill="#a9bac6"/>
<polygon points="435.4,385.9 431.2,382.5 427.1,378.4 423,373.4 419,367.8 415.1,361.3 411.4,354.1 410.9,354.3 414.3,361.7 417.8,368.5 421.5,374.5 425.3,379.9 429.3,384.5 433.5,388.4" fill="#dfe7ec"/>
<polygon points="495.4,476.9 492.2,462.4 493.5,448.8 494.9,435.4 496.3,422.2 497.7,409.4 499.3,396.8 500.9,384.5 502.6,372.5 504.4,360.7 503.2,360.5 500.2,372 497.3,383.8 494.4,395.9 491.7,408.4 488.9,421.1 486.3,434.1 483.7,447.4 481.2,461 474.4,474.3" fill="#a9bac6"/>
<polygon points="493.2,476.8 490.7,462.4 492.1,448.7 493.5,435.3 495,422.2 496.7,409.3 498.4,396.7 500.2,384.4 502.1,372.4 504.1,360.6 503.5,360.5 500.4,372 497.4,383.9 494.5,396 491.6,408.4 488.9,421.1 486.2,434.2 483.6,447.5 481.1,461.1 475,474.5" fill="#d9e2e8"/>
<polygon points="486.6,476.1 486.7,462 488.5,448.3 490.3,435 492.3,421.9 494.4,409.1 496.6,396.5 498.9,384.3 501.4,372.3 504,360.6 503.7,360.5 500.7,372.1 497.8,384 495,396.2 492.3,408.7 489.8,421.4 487.4,434.5 485.1,447.8 482.9,461.4 479.3,475.2" fill="#f5f8fa"/>
<polygon points="500.2,388.5 502.3,386.2 504.3,383.5 506.1,380.6 507.8,377.2 509.4,373.6 510.9,369.6 510,369.2 507.9,372.8 505.8,376.1 503.6,378.9 501.4,381.2 499.3,383.1 497.1,384.6" fill="#a9bac6"/>
<polygon points="499.8,387.9 501.9,385.7 503.8,383.2 505.7,380.3 507.4,377 509.1,373.4 510.7,369.5 510.2,369.3 508.2,373 506.1,376.3 504,379.1 501.9,381.6 499.7,383.6 497.6,385.2" fill="#dfe7ec"/>
<polygon points="494.5,424.2 491.3,421.7 488.1,418.4 484.8,414.3 481.6,409.5 478.4,404 475.3,397.7 474.3,398.1 476.4,404.9 478.6,411 480.9,416.6 483.3,421.7 486,426.2 488.9,430.1" fill="#a9bac6"/>
<polygon points="494,424.8 490.8,422.1 487.6,418.7 484.4,414.6 481.2,409.7 478.1,404.1 475,397.8 474.6,398 476.7,404.7 478.9,410.8 481.3,416.4 483.8,421.3 486.5,425.7 489.5,429.6" fill="#dfe7ec"/>
<polygon points="496.1,406.5 490.8,404.1 485.6,401.1 480.5,397.4 475.5,393.1 470.5,388.2 465.7,382.6 464.9,383.2 469,389.4 473.3,395.1 477.9,400.3 482.7,405 487.8,409 493.1,412.6" fill="#a9bac6"/>
<polygon points="495.8,407.2 490.5,404.7 485.3,401.6 480.2,397.8 475.2,393.4 470.3,388.4 465.5,382.7 465.1,383 469.3,389.2 473.6,394.8 478.2,399.9 483,404.5 488.1,408.5 493.4,411.9" fill="#dfe7ec"/>
<polygon points="420,479.7 417,464.1 417.5,449.3 417.5,434.9 417,420.9 416,407.1 414.4,393.7 412.4,380.7 409.8,368 406.7,355.6 405.5,355.9 407.4,368.4 408.9,381.1 409.7,394.2 410.1,407.4 409.9,420.9 409.3,434.7 408.1,448.8 406.4,463.1 400.2,477.2" fill="#a9bac6"/>
<polygon points="417.8,479.5 415.4,464 416.1,449.3 416.2,434.9 415.8,420.9 414.9,407.2 413.5,393.8 411.6,380.7 409.3,368.1 406.4,355.7 405.8,355.8 407.6,368.3 408.9,381.1 409.8,394.1 410.1,407.4 409.9,420.9 409.2,434.7 408,448.8 406.4,463.2 400.7,477.4" fill="#d9e2e8"/>
<polygon points="411.7,478.9 411.7,463.8 412.7,449.2 413.2,434.9 413.2,420.9 412.8,407.2 411.8,393.9 410.4,380.9 408.6,368.1 406.3,355.7 406,355.8 407.9,368.2 409.3,381 410.3,394 410.8,407.3 410.8,420.9 410.4,434.8 409.5,449 408.1,463.4 404.8,478" fill="#f5f8fa"/>
<polygon points="414.8,421.3 418,419.2 421,416.9 423.8,414.3 426.5,411.4 428.9,408.4 431.3,405 430.5,404.4 427.5,406.9 424.4,409.1 421.3,411 418.2,412.5 415.1,413.7 412,414.6" fill="#a9bac6"/>
<polygon points="414.5,420.6 417.7,418.6 420.7,416.4 423.5,413.9 426.2,411.1 428.7,408.1 431.1,404.9 430.7,404.5 427.7,407.2 424.7,409.5 421.6,411.4 418.6,413 415.5,414.3 412.3,415.3" fill="#dfe7ec"/>
<polygon points="415.8,439.6 417.8,437.2 419.6,434.6 421.3,431.7 422.7,428.5 424.1,425.2 425.3,421.5 424.4,421.1 422.1,424.1 419.8,426.6 417.5,428.8 415.3,430.5 413.1,431.8 410.9,432.7" fill="#a9bac6"/>
<polygon points="415.4,439 417.4,436.7 419.2,434.2 420.9,431.4 422.4,428.3 423.8,425 425.1,421.4 424.6,421.2 422.4,424.2 420.2,426.9 417.9,429.1 415.7,430.9 413.5,432.3 411.4,433.4" fill="#dfe7ec"/>
<polygon points="416,423.2 411.8,420 407.6,415.9 403.4,410.9 399.3,405.1 395.2,398.4 391.3,390.8 390.3,391.2 393.3,399.3 396.4,406.6 399.7,413.3 403.3,419.2 407,424.5 411,429.1" fill="#a9bac6"/>
<polygon points="415.5,423.7 411.3,420.4 407.1,416.2 403,411.2 398.9,405.3 394.9,398.5 391,390.9 390.6,391.1 393.6,399.1 396.8,406.4 400.2,413 403.7,418.9 407.5,424 411.5,428.5" fill="#dfe7ec"/>
<polygon points="376.5,478.8 371.8,461.5 371.2,444.7 370.3,428.2 369.2,412.1 367.8,396.3 366.2,381 364.3,366 362.2,351.3 359.8,337.1 358.6,337.2 359.8,351.6 360.7,366.3 361.3,381.3 361.7,396.7 361.9,412.4 361.8,428.4 361.4,444.7 360.8,461.4 355.6,478.3" fill="#a9bac6"/>
<polygon points="374.3,478.8 370.3,461.5 369.8,444.7 369,428.2 368,412.1 366.8,396.4 365.3,381 363.6,366 361.6,351.4 359.5,337.1 358.9,337.2 359.9,351.5 360.8,366.2 361.4,381.3 361.7,396.6 361.8,412.3 361.7,428.4 361.3,444.7 360.7,461.4 356.2,478.4" fill="#d9e2e8"/>
<polygon points="367.7,478.7 366.3,461.5 366.2,444.7 365.8,428.3 365.3,412.2 364.5,396.5 363.5,381.1 362.3,366.1 360.9,351.4 359.3,337.1 359,337.2 360.2,351.5 361.1,366.2 361.9,381.2 362.4,396.6 362.8,412.3 362.9,428.3 362.8,444.7 362.5,461.4 360.5,478.5" fill="#f5f8fa"/>
<polygon points="367.6,398.1 364.6,395 361.6,391.2 358.6,386.4 355.6,380.9 352.7,374.6 349.8,367.6 348.9,367.9 350.8,375.3 352.9,382.1 355,388.2 357.3,393.6 359.7,398.4 362.4,402.7" fill="#a9bac6"/>
<polygon points="367,398.6 364.1,395.4 361.1,391.4 358.1,386.7 355.2,381.1 352.4,374.7 349.6,367.6 349.1,367.8 351.1,375.2 353.2,381.9 355.5,387.9 357.8,393.3 360.3,398.1 363,402.2" fill="#dfe7ec"/>
<polygon points="366.2,381.9 364.5,380.5 362.8,378.5 361.1,376.1 359.4,373.2 357.7,369.8 356,366.1 355,366.4 355.9,370.5 356.9,374.2 358,377.6 359.1,380.6 360.4,383.4 361.8,385.8" fill="#a9bac6"/>
<polygon points="365.6,382.4 364,380.8 362.3,378.8 360.6,376.3 359,373.3 357.3,370 355.7,366.2 355.3,366.3 356.3,370.3 357.3,374 358.4,377.3 359.6,380.3 360.9,383 362.3,385.3" fill="#dfe7ec"/>
<polygon points="363.9,365.1 365.9,362.3 367.7,359.2 369.3,355.6 370.9,351.6 372.4,347.1 373.9,342.3 372.9,341.9 371,346.6 368.9,350.7 366.9,354.3 364.8,357.3 362.7,359.9 360.6,361.9" fill="#a9bac6"/>
<polygon points="363.4,364.6 365.3,361.9 367.2,358.8 368.9,355.3 370.6,351.4 372.1,347 373.6,342.2 373.2,342 371.3,346.7 369.3,350.8 367.3,354.5 365.3,357.7 363.2,360.3 361.1,362.4" fill="#dfe7ec"/>
<polygon points="516.6,478.7 511.5,461.3 510.9,444 511,427 511.7,410.4 513.1,394 515.1,378 517.8,362.3 521.1,347 525.1,331.9 524,331.5 518.9,346.3 514.4,361.6 510.6,377.2 507.5,393.3 505,409.7 503.1,426.6 501.9,443.9 501.4,461.5 497.7,479.8" fill="#a9bac6"/>
<polygon points="514.5,478.8 509.9,461.3 509.4,444 509.6,427 510.5,410.3 512,394 514.2,378 517.1,362.3 520.6,346.9 524.9,331.8 524.3,331.6 519.1,346.4 514.5,361.7 510.7,377.3 507.4,393.3 504.9,409.8 503.1,426.6 501.9,443.9 501.4,461.5 498.2,479.7" fill="#d9e2e8"/>
<polygon points="508.7,479.1 506.5,461.4 506.3,444 506.8,426.9 508.1,410.2 510,393.8 512.6,377.8 516,362.1 520,346.8 524.7,331.8 524.4,331.7 519.3,346.6 514.9,361.8 511.2,377.5 508.2,393.5 505.8,409.9 504.2,426.7 503.3,443.9 503,461.5 502.2,479.5" fill="#f5f8fa"/>
<polygon points="509.6,416.9 514.7,413.4 519.6,409.4 524.1,404.8 528.4,399.8 532.5,394.2 536.4,388.1 535.6,387.5 530.9,392.9 526.2,397.6 521.3,401.8 516.4,405.3 511.4,408.1 506.3,410.4" fill="#a9bac6"/>
<polygon points="509.3,416.2 514.4,412.9 519.2,408.9 523.8,404.5 528.1,399.5 532.3,394 536.2,387.9 535.8,387.6 531.2,393.1 526.5,397.9 521.6,402.1 516.7,405.7 511.7,408.7 506.7,411" fill="#dfe7ec"/>
<polygon points="511.4,393.8 506.4,391.4 501.5,388.4 496.6,384.7 491.8,380.3 487.2,375.4 482.6,369.7 481.8,370.3 485.7,376.5 489.7,382.2 494,387.4 498.6,392 503.3,396 508.4,399.5" fill="#a9bac6"/>
<polygon points="511,394.5 506,392 501.1,388.8 496.3,385 491.5,380.6 486.9,375.6 482.4,369.9 482,370.2 485.9,376.3 490,381.9 494.4,387 498.9,391.5 503.7,395.5 508.7,398.9" fill="#dfe7ec"/>
<polygon points="378.2,479.1 372.4,465.9 371.1,452.7 369.7,439.8 368.1,427.2 366.5,414.9 364.8,402.8 363,391.1 361.1,379.6 359,368.4 357.8,368.6 358.6,379.9 359.2,391.5 359.7,403.3 360.1,415.4 360.5,427.8 360.7,440.4 360.8,453.3 360.9,466.4 356.3,480" fill="#a9bac6"/>
<polygon points="376,479.2 370.9,465.9 369.7,452.7 368.3,439.9 366.9,427.3 365.4,414.9 363.9,402.9 362.2,391.1 360.5,379.7 358.7,368.5 358.1,368.6 358.8,379.9 359.3,391.4 359.7,403.2 360.1,415.3 360.4,427.7 360.6,440.3 360.8,453.2 360.8,466.4 356.8,479.9" fill="#d9e2e8"/>
<polygon points="369,479.4 366.7,466 365.8,452.9 364.9,440 364,427.4 363,415.1 362,403 360.9,391.2 359.8,379.7 358.6,368.5 358.3,368.5 359,379.8 359.7,391.3 360.3,403.1 360.8,415.2 361.4,427.6 361.8,440.2 362.3,453.1 362.6,466.2 361.4,479.7" fill="#f5f8fa"/>
<polygon points="367.4,428.4 365.5,427.4 363.6,425.8 361.5,423.8 359.5,421.3 357.5,418.4 355.5,415 354.5,415.4 355.5,419.3 356.5,422.8 357.6,426.1 358.8,429.2 360.2,431.9 361.8,434.5" fill="#a9bac6"/>
<polygon points="366.9,429 365,427.8 363.1,426.1 361.1,424 359.1,421.5 357.2,418.5 355.2,415.1 354.8,415.3 355.8,419.1 356.8,422.6 358,425.9 359.3,428.8 360.7,431.5 362.3,433.9" fill="#dfe7ec"/>
<polygon points="365.9,420.8 369.7,416.4 373.3,411.3 376.6,405.6 379.8,399.2 382.8,392.2 385.7,384.4 384.7,384 381,391.3 377.1,397.8 373.2,403.4 369.2,408.3 365.2,412.2 361.3,415.4" fill="#a9bac6"/>
<polygon points="365.4,420.2 369.2,416 372.8,411 376.2,405.4 379.4,399 382.5,392 385.4,384.3 385,384.1 381.3,391.4 377.5,398 373.6,403.7 369.7,408.6 365.7,412.7 361.7,415.9" fill="#dfe7ec"/>
<polygon points="367.8,427.7 365.1,424.8 362.5,421 359.8,416.4 357.1,411 354.5,404.8 352,397.9 351,398.1 352.4,405.4 353.9,412.1 355.5,418.1 357.3,423.5 359.2,428.3 361.2,432.6" fill="#a9bac6"/>
<polygon points="367.2,428.2 364.6,425.2 361.9,421.3 359.3,416.6 356.7,411.2 354.2,404.9 351.7,397.9 351.2,398 352.7,405.4 354.3,412 356,418 357.8,423.3 359.7,428 361.8,432.1" fill="#dfe7ec"/>
<polygon points="362.9,390 360.7,388 358.4,385.5 356.2,382.5 354,378.9 351.8,374.8 349.7,370.3 348.8,370.6 350.3,375.5 351.9,379.9 353.6,384 355.4,387.6 357.3,390.7 359.4,393.5" fill="#a9bac6"/>
<polygon points="362.3,390.5 360.1,388.5 357.9,385.9 355.8,382.7 353.6,379.1 351.5,375 349.5,370.3 349,370.5 350.6,375.4 352.3,379.8 354,383.7 355.9,387.2 357.8,390.3 359.9,393" fill="#dfe7ec"/>
<polygon points="599.2,479.2 594.6,465.9 593.8,452.8 593.2,439.9 592.9,427.2 592.8,414.8 593,402.7 593.5,390.8 594.2,379.2 595.2,367.8 594,367.7 592.1,379 590.4,390.5 588.9,402.4 587.7,414.6 586.8,427.1 586.2,439.8 585.8,452.9 585.6,466.2 582.3,480.1" fill="#a9bac6"/>
<polygon points="597,479.2 593.1,465.9 592.3,452.8 591.9,439.9 591.7,427.2 591.8,414.8 592.1,402.7 592.8,390.8 593.7,379.2 594.9,367.8 594.3,367.7 592.2,379 590.5,390.6 588.9,402.4 587.7,414.6 586.8,427.1 586.1,439.8 585.7,452.9 585.6,466.2 582.8,480" fill="#d9e2e8"/>
<polygon points="592,479.5 590.1,466 589.7,452.8 589.5,439.9 589.6,427.2 590.1,414.8 590.8,402.6 591.8,390.7 593.1,379.1 594.7,367.8 594.4,367.7 592.5,379 590.8,390.6 589.5,402.5 588.4,414.7 587.7,427.1 587.2,439.8 587,452.8 587.1,466.1 586.4,479.8" fill="#f5f8fa"/>
<polygon points="592.2,429.1 594.9,425.4 597.3,421.1 599.6,416.4 601.8,411 603.8,405.1 605.7,398.7 604.8,398.3 602,404.4 599.2,409.8 596.3,414.6 593.4,418.6 590.4,421.9 587.5,424.5" fill="#a9bac6"/>
<polygon points="591.7,428.6 594.3,425 596.8,420.8 599.2,416.1 601.4,410.9 603.5,405 605.5,398.6 605,398.4 602.3,404.5 599.6,410 596.7,414.8 593.8,418.9 591,422.3 588.1,425" fill="#dfe7ec"/>
<polygon points="593.1,394.9 595.5,392.3 597.8,389.4 599.9,386.1 601.9,382.4 603.8,378.3 605.6,373.8 604.7,373.4 602.4,377.6 600,381.3 597.6,384.5 595.2,387.3 592.7,389.5 590.3,391.3" fill="#a9bac6"/>
<polygon points="592.6,394.3 595.1,391.9 597.3,389 599.5,385.8 601.6,382.2 603.5,378.1 605.4,373.7 604.9,373.5 602.7,377.7 600.4,381.5 598.1,384.8 595.7,387.6 593.2,390 590.8,391.9" fill="#dfe7ec"/>
<polygon points="592.6,409.2 595.6,405.3 598.4,400.7 601.1,395.6 603.6,389.8 606,383.4 608.3,376.3 607.3,376 604.4,382.7 601.4,388.8 598.3,394 595.1,398.6 591.9,402.4 588.8,405.3" fill="#a9bac6"/>
<polygon points="592.1,408.7 595.1,404.9 597.9,400.4 600.6,395.3 603.2,389.6 605.7,383.3 608,376.2 607.6,376.1 604.7,382.9 601.7,388.9 598.7,394.3 595.6,398.9 592.5,402.8 589.3,405.9" fill="#dfe7ec"/>
<polygon points="592.7,394.5 597.3,391.8 601.6,388.7 605.8,385.1 609.7,381 613.5,376.5 617.1,371.6 616.3,371 612.3,375.5 608.2,379.5 604,383 599.7,386 595.3,388.5 590.8,390.5" fill="#a9bac6"/>
<polygon points="592.4,393.9 596.9,391.3 601.3,388.2 605.4,384.7 609.4,380.7 613.3,376.3 616.9,371.4 616.5,371.1 612.6,375.7 608.5,379.8 604.3,383.3 600,386.4 595.6,389 591.1,391.1" fill="#dfe7ec"/>
<polygon points="594.5,479.9 590.6,465.4 590.8,451.3 591.5,437.3 592.7,423.7 594.5,410.3 596.8,397.2 599.7,384.3 603.1,371.7 607,359.3 605.9,358.9 601,371 596.6,383.4 592.8,396.2 589.4,409.3 586.7,422.8 584.4,436.6 582.7,450.7 581.5,465.2 577.3,480" fill="#a9bac6"/>
<polygon points="592.3,479.9 589.1,465.4 589.3,451.2 590.1,437.3 591.5,423.6 593.4,410.2 595.9,397.1 599,384.2 602.6,371.6 606.7,359.2 606.2,359 601.2,371.1 596.7,383.5 592.8,396.3 589.4,409.4 586.6,422.9 584.3,436.6 582.6,450.8 581.5,465.2 577.9,480" fill="#d9e2e8"/>
<polygon points="587.3,479.9 586.1,465.4 586.6,451.1 587.8,437.1 589.5,423.4 591.7,410 594.6,396.8 598,384 602,371.4 606.6,359.1 606.3,359 601.4,371.2 597.1,383.7 593.3,396.5 590.1,409.6 587.5,423.1 585.4,436.8 583.9,450.9 583,465.3 581.5,480" fill="#f5f8fa"/>
<polygon points="598.5,390.3 600.1,388 601.6,385.3 603,382.3 604.3,379 605.5,375.3 606.7,371.3 605.7,371 604,374.7 602.3,378.1 600.5,381 598.7,383.4 596.9,385.5 595.1,387" fill="#a9bac6"/>
<polygon points="598,389.8 599.6,387.6 601.1,385 602.6,382.1 603.9,378.8 605.2,375.2 606.4,371.2 606,371 604.3,374.8 602.7,378.2 600.9,381.2 599.2,383.8 597.4,385.9 595.7,387.5" fill="#dfe7ec"/>
<polygon points="593.1,415.1 597,411.8 600.7,407.9 604.2,403.6 607.5,398.7 610.7,393.4 613.7,387.5 612.8,387 609.1,392.4 605.4,397.1 601.5,401.3 597.7,404.8 593.8,407.7 589.8,410" fill="#a9bac6"/>
<polygon points="592.7,414.5 596.6,411.2 600.3,407.5 603.8,403.2 607.2,398.5 610.4,393.2 613.4,387.4 613,387.1 609.4,392.6 605.7,397.4 601.9,401.6 598.1,405.2 594.2,408.2 590.2,410.6" fill="#dfe7ec"/>
<polygon points="409.2,480.8 406.2,462.7 406.9,445.3 407.4,428.2 407.8,411.4 408,395.1 408.1,379.1 408.1,363.5 407.9,348.2 407.6,333.4 406.4,333.3 405.7,348.2 404.8,363.4 403.8,378.9 402.6,394.8 401.3,411.1 399.8,427.7 398.3,444.7 396.5,462 390.9,479.4" fill="#a9bac6"/>
<polygon points="407,480.7 404.7,462.7 405.4,445.2 406.1,428.1 406.6,411.4 407,395.1 407.2,379.1 407.4,363.5 407.4,348.2 407.3,333.4 406.7,333.3 405.9,348.2 404.9,363.4 403.8,378.9 402.6,394.8 401.2,411.1 399.8,427.7 398.2,444.7 396.5,462.1 391.5,479.5" fill="#d9e2e8"/>
<polygon points="401.5,480.4 401.4,462.5 402.5,445.1 403.4,428 404.3,411.3 405.1,395 405.7,379 406.3,363.5 406.8,348.2 407.2,333.4 406.9,333.3 406.1,348.2 405.3,363.4 404.3,379 403.3,394.9 402.1,411.2 400.9,427.9 399.5,444.9 398.1,462.2 395.3,479.9" fill="#f5f8fa"/>
<polygon points="406.3,407.3 402.3,405.3 398.2,402.7 394.2,399.5 390.3,395.7 386.4,391.4 382.6,386.5 381.7,387 384.8,392.5 388,397.6 391.4,402.2 395,406.4 398.8,410.1 402.9,413.3" fill="#a9bac6"/>
<polygon points="405.9,407.9 401.9,405.8 397.9,403.1 393.9,399.8 390,396 386.1,391.6 382.4,386.6 381.9,386.9 385,392.4 388.3,397.4 391.7,401.9 395.4,406 399.2,409.5 403.2,412.6" fill="#dfe7ec"/>
<polygon points="406.1,412.7 411.4,409.4 416.4,405.6 421.3,401.3 425.8,396.5 430.2,391.2 434.3,385.4 433.5,384.8 428.7,389.9 423.7,394.4 418.7,398.2 413.6,401.5 408.4,404.3 403.2,406.4" fill="#a9bac6"/>
<polygon points="405.7,412 411.1,408.8 416.1,405.1 420.9,400.9 425.5,396.2 429.9,391 434.1,385.2 433.7,384.9 428.9,390.1 424,394.7 419,398.6 413.9,402 408.8,404.8 403.5,407.1" fill="#dfe7ec"/>
<polygon points="539.8,484.5 534.7,471.1 533.3,457.8 532.1,444.7 531.1,431.9 530.2,419.3 529.4,407.1 528.8,395.1 528.3,383.3 528,371.9 526.8,371.8 526.1,383.3 525.6,395.1 525.2,407.1 525,419.5 524.9,432.1 524.9,445 525.1,458.3 525.5,471.8 522.4,485.8" fill="#a9bac6"/>
<polygon points="537.6,484.6 533.2,471.2 531.9,457.8 530.8,444.7 529.9,431.9 529.1,419.4 528.5,407.1 528.1,395.1 527.8,383.3 527.7,371.9 527.1,371.8 526.3,383.3 525.7,395.1 525.2,407.1 524.9,419.4 524.8,432.1 524.8,445 525.1,458.2 525.4,471.7 523,485.7" fill="#d9e2e8"/>
<polygon points="532.5,484.9 530.1,471.3 529.1,457.9 528.4,444.8 527.8,432 527.3,419.4 527.1,407.1 527.1,395.1 527.2,383.3 527.5,371.9 527.2,371.8 526.6,383.3 526.1,395.1 525.8,407.1 525.6,419.4 525.7,432 525.9,444.9 526.4,458.1 527,471.5 526.6,485.4" fill="#f5f8fa"/>
<polygon points="530.2,444.1 534,440.9 537.6,437.3 541,433.2 544.2,428.7 547.1,423.8 550,418.4 549.1,417.8 545.4,422.6 541.7,426.8 537.9,430.4 534.1,433.4 530.3,435.9 526.5,437.8" fill="#a9bac6"/>
<polygon points="529.8,443.4 533.6,440.4 537.2,436.9 540.6,432.9 543.8,428.4 546.9,423.6 549.7,418.2 549.3,418 545.7,422.8 542.1,427 538.3,430.7 534.5,433.9 530.7,436.4 526.9,438.5" fill="#dfe7ec"/>
<polygon points="529.1,404.8 525.7,401.4 522.2,397 518.8,391.8 515.5,385.8 512.2,378.9 509,371.2 508.1,371.5 510.6,379.5 513.3,386.8 516.1,393.3 519,399 522.1,404.1 525.4,408.5" fill="#a9bac6"/>
<polygon points="528.6,405.4 525.2,401.8 521.7,397.3 518.4,392.1 515.1,386 511.9,379 508.8,371.3 508.3,371.5 511,379.4 513.7,386.6 516.5,393 519.5,398.7 522.7,403.7 526,407.9" fill="#dfe7ec"/>
<polygon points="529.6,415.4 527.5,413.5 525.3,411 523.1,408 521,404.3 518.8,400.2 516.8,395.5 515.8,395.9 517.1,400.8 518.6,405.4 520.1,409.5 521.7,413.2 523.5,416.5 525.4,419.5" fill="#a9bac6"/>
<polygon points="529.1,415.9 527,413.9 524.8,411.3 522.7,408.2 520.6,404.5 518.5,400.3 516.5,395.6 516,395.8 517.5,400.7 519,405.2 520.5,409.3 522.2,412.9 524,416.1 525.9,418.9" fill="#dfe7ec"/>
<polygon points="505.8,486.2 502.5,472.3 503.4,459 504.5,446 505.9,433.2 507.5,420.7 509.3,408.4 511.3,396.4 513.6,384.6 516.1,373.1 514.9,372.7 511.3,384 507.9,395.6 504.7,407.4 501.7,419.6 498.9,432.1 496.4,444.8 494.1,457.9 492,471.2 486,484.5" fill="#a9bac6"/>
<polygon points="503.7,486.1 500.9,472.2 501.9,458.9 503.2,445.9 504.7,433.1 506.4,420.6 508.4,408.3 510.6,396.3 513.1,384.5 515.8,373 515.2,372.8 511.5,384.1 508,395.6 504.7,407.5 501.7,419.7 498.9,432.1 496.3,444.9 494,457.9 491.9,471.3 486.6,484.7" fill="#d9e2e8"/>
<polygon points="497.5,485.7 497.2,472 498.6,458.7 500.2,445.6 502.1,432.8 504.3,420.3 506.7,408.1 509.4,396.1 512.4,384.4 515.7,373 515.4,372.9 511.7,384.2 508.3,395.8 505.2,407.7 502.4,419.9 499.8,432.4 497.5,445.2 495.4,458.2 493.6,471.6 490.7,485.1" fill="#f5f8fa"/>
<polygon points="503.6,447.4 505.4,444.1 507,440.5 508.4,436.5 509.8,432 511,427.2 512.1,421.8 511.1,421.5 508.9,426.4 506.6,430.7 504.3,434.5 502,437.6 499.7,440.1 497.5,441.9" fill="#a9bac6"/>
<polygon points="503.1,446.9 504.9,443.7 506.5,440.2 508,436.3 509.4,431.9 510.7,427.1 511.9,421.8 511.4,421.6 509.2,426.5 507,430.9 504.7,434.7 502.5,437.9 500.2,440.5 498,442.4" fill="#dfe7ec"/>
<polygon points="503.6,431.8 498.2,429.5 492.8,426.5 487.4,422.9 482.1,418.6 477,413.6 471.9,408.1 471.1,408.6 475.4,415 479.8,420.8 484.6,426.1 489.6,430.8 494.8,435 500.4,438.6" fill="#a9bac6"/>
<polygon points="503.3,432.5 497.8,430 492.4,427 487.1,423.2 481.8,418.9 476.7,413.9 471.7,408.2 471.3,408.5 475.6,414.8 480.1,420.5 484.9,425.7 489.9,430.3 495.2,434.4 500.7,438" fill="#dfe7ec"/>
<polygon points="505.4,430.3 507.4,427.9 509.2,425.2 510.8,422.3 512.3,419 513.7,415.5 515,411.7 514.1,411.3 511.9,414.6 509.7,417.5 507.5,420 505.3,422 503.2,423.6 501.1,424.8" fill="#a9bac6"/>
<polygon points="505,429.7 506.9,427.4 508.7,424.8 510.4,422 512,418.8 513.4,415.3 514.8,411.6 514.3,411.4 512.2,414.7 510.1,417.7 507.9,420.2 505.8,422.4 503.7,424.1 501.6,425.4" fill="#dfe7ec"/>
<polygon points="446.5,485.8 441.3,471 440.4,456.3 439.9,441.9 439.9,427.7 440.3,413.8 441.2,400.2 442.5,386.9 444.2,373.8 446.4,361 445.2,360.7 441.9,373.3 439.1,386.3 436.7,399.6 434.7,413.3 433.2,427.3 432.1,441.7 431.5,456.4 431.3,471.4 427.6,487" fill="#a9bac6"/>
<polygon points="444.4,485.9 439.8,471.1 438.9,456.3 438.6,441.9 438.7,427.7 439.2,413.8 440.3,400.1 441.7,386.8 443.7,373.7 446.1,360.9 445.5,360.8 442.1,373.4 439.2,386.4 436.7,399.7 434.7,413.3 433.1,427.4 432,441.7 431.4,456.4 431.2,471.4 428.2,487" fill="#d9e2e8"/>
<polygon points="438.6,486.2 436.3,471.2 435.8,456.3 435.8,441.8 436.3,427.6 437.2,413.7 438.7,400 440.6,386.7 443,373.6 445.9,360.9 445.6,360.8 442.4,373.5 439.6,386.5 437.2,399.8 435.4,413.5 434,427.4 433.2,441.7 432.8,456.4 432.9,471.3 432.1,486.6" fill="#f5f8fa"/>
<polygon points="440.7,405.8 443.5,401.2 446.1,395.9 448.6,389.8 451,383 453.3,375.4 455.4,367.1 454.5,366.8 451.6,374.9 448.6,382.1 445.6,388.5 442.5,393.9 439.4,398.5 436.2,402.1" fill="#a9bac6"/>
<polygon points="440.1,405.3 442.9,400.8 445.6,395.6 448.2,389.6 450.6,382.9 453,375.3 455.2,367 454.7,366.9 451.9,375 449,382.3 446,388.7 443,394.2 439.9,398.9 436.8,402.6" fill="#dfe7ec"/>
<polygon points="442.8,386 445.1,382.3 447.2,378.1 449.2,373.2 451.1,367.7 452.9,361.5 454.6,354.8 453.6,354.5 451.4,361.1 449,366.9 446.7,372.1 444.2,376.5 441.8,380.3 439.3,383.2" fill="#a9bac6"/>
<polygon points="442.2,385.6 444.5,382 446.7,377.8 448.7,373 450.7,367.5 452.5,361.4 454.3,354.7 453.9,354.6 451.7,361.2 449.4,367.1 447.1,372.3 444.8,376.8 442.3,380.6 439.9,383.7" fill="#dfe7ec"/>
<polygon points="439,416.7 442.3,414.1 445.4,411.1 448.3,407.8 451.1,404.2 453.7,400.1 456.1,395.7 455.3,395.2 452.1,399 449,402.4 445.7,405.3 442.5,407.7 439.2,409.7 435.9,411.2" fill="#a9bac6"/>
<polygon points="438.6,416 441.9,413.6 445,410.7 448,407.5 450.8,403.9 453.4,399.9 455.9,395.6 455.5,395.3 452.4,399.2 449.3,402.6 446.1,405.6 442.9,408.1 439.6,410.2 436.3,411.8" fill="#dfe7ec"/>
<polygon points="588.2,495.9 585.1,480.5 586.5,466 588.1,451.7 589.9,437.7 591.8,424 593.9,410.6 596.1,397.4 598.6,384.6 601.2,372 600,371.7 596.2,384 592.5,396.6 589.1,409.6 585.7,422.8 582.6,436.4 579.6,450.3 576.8,464.5 574.2,479.1 567.4,493.4" fill="#a9bac6"/>
<polygon points="586,495.7 583.6,480.4 585.1,465.9 586.8,451.6 588.6,437.6 590.7,423.9 592.9,410.5 595.4,397.4 598,384.5 600.9,371.9 600.3,371.8 596.4,384.1 592.6,396.7 589.1,409.6 585.7,422.9 582.5,436.5 579.5,450.4 576.7,464.6 574.1,479.2 568,493.6" fill="#d9e2e8"/>
<polygon points="579.5,495.1 579.7,480.1 581.5,465.5 583.6,451.2 585.9,437.3 588.4,423.6 591.2,410.2 594.1,397.2 597.3,384.4 600.7,371.9 600.4,371.8 596.6,384.2 593,396.9 589.6,409.9 586.4,423.2 583.4,436.8 580.7,450.7 578.2,465 575.9,479.5 572.3,494.2" fill="#f5f8fa"/>
<polygon points="593.7,403.2 589.2,401 584.8,398.1 580.5,394.7 576.2,390.6 572,386 567.9,380.8 567.1,381.3 570.6,387 574.3,392.3 578.2,397 582.3,401.2 586.6,404.8 591.1,408" fill="#a9bac6"/>
<polygon points="593.3,403.9 588.8,401.5 584.4,398.6 580.1,395 575.9,390.9 571.7,386.2 567.7,380.9 567.3,381.2 570.9,386.8 574.6,392 578.5,396.6 582.7,400.7 587,404.3 591.5,407.4" fill="#dfe7ec"/>
<polygon points="592.5,414.3 597.2,410.9 601.6,406.9 605.7,402.3 609.7,397.3 613.4,391.6 617,385.4 616.2,384.9 612,390.6 607.6,395.6 603.2,400 598.8,403.7 594.2,406.8 589.6,409.2" fill="#a9bac6"/>
<polygon points="592.2,413.7 596.8,410.4 601.2,406.4 605.4,402 609.4,397 613.2,391.4 616.8,385.3 616.4,385.1 612.2,390.8 608,395.9 603.6,400.3 599.1,404.1 594.6,407.3 590,409.9" fill="#dfe7ec"/>
<polygon points="587.8,440.9 591.9,438.1 595.8,435 599.4,431.5 602.9,427.6 606.1,423.4 609.2,418.8 608.4,418.2 604.5,422 600.6,425.3 596.6,428.2 592.6,430.5 588.6,432.5 584.6,433.9" fill="#a9bac6"/>
<polygon points="587.4,440.2 591.6,437.6 595.4,434.5 599.1,431.1 602.6,427.3 605.9,423.2 609,418.6 608.6,418.3 604.8,422.2 600.9,425.6 597,428.5 593,431 588.9,433 584.9,434.6" fill="#dfe7ec"/>
<polygon points="587.1,447.6 590.7,444.5 594.1,440.9 597.3,436.9 600.3,432.5 603.1,427.7 605.7,422.5 604.8,422 601.3,426.5 597.6,430.4 594,433.8 590.3,436.6 586.6,438.9 582.9,440.6" fill="#a9bac6"/>
<polygon points="586.7,446.9 590.3,443.9 593.7,440.5 596.9,436.6 599.9,432.3 602.8,427.5 605.5,422.4 605,422.1 601.5,426.7 598,430.7 594.3,434.1 590.7,437 587,439.4 583.3,441.2" fill="#dfe7ec"/>
<polygon points="477.7,494.4 472.9,477.2 472.3,460.1 472.5,443.4 473.4,427 474.9,410.9 477.3,395.1 480.3,379.6 484.1,364.5 488.6,349.6 487.5,349.2 482,363.8 477.2,378.8 473.1,394.3 469.8,410.1 467.1,426.3 465.2,443 464.1,460 463.6,477.4 460.3,495.5" fill="#a9bac6"/>
<polygon points="475.6,494.5 471.3,477.2 470.9,460.1 471.1,443.4 472.1,426.9 473.9,410.8 476.4,395 479.6,379.5 483.6,364.4 488.3,349.5 487.8,349.3 482.1,363.9 477.3,378.9 473.1,394.3 469.7,410.2 467.1,426.4 465.2,443 464,460 463.6,477.4 460.8,495.4" fill="#d9e2e8"/>
<polygon points="470.4,494.7 468.3,477.3 468.1,460.1 468.7,443.3 470,426.8 472.1,410.6 475,394.8 478.6,379.4 483,364.2 488.2,349.5 487.9,349.4 482.4,364 477.6,379.1 473.7,394.5 470.4,410.3 468,426.5 466.3,443.1 465.3,460 465.1,477.4 464.5,495.1" fill="#f5f8fa"/>
<polygon points="476.1,393.7 473.5,392.6 470.8,391.2 468.2,389.5 465.6,387.4 463,385 460.5,382.3 459.7,382.8 461.7,386.1 463.8,389.1 466.1,391.8 468.5,394.3 471,396.5 473.7,398.4" fill="#a9bac6"/>
<polygon points="475.8,394.3 473.1,393.2 470.5,391.7 467.9,389.9 465.3,387.7 462.8,385.2 460.3,382.4 459.9,382.7 462,385.9 464.1,388.8 466.4,391.4 468.8,393.8 471.4,395.9 474.1,397.7" fill="#dfe7ec"/>
<polygon points="476.1,398.6 472.8,395.2 469.6,391 466.4,385.9 463.2,380 460.1,373.3 457.1,365.8 456.1,366.1 458.5,373.9 460.9,381 463.5,387.4 466.2,393 469,398 472.1,402.3" fill="#a9bac6"/>
<polygon points="475.5,399.1 472.3,395.6 469.1,391.3 465.9,386.1 462.8,380.2 459.8,373.4 456.9,365.9 456.4,366 458.8,373.8 461.3,380.8 463.9,387.2 466.7,392.7 469.5,397.6 472.6,401.8" fill="#dfe7ec"/>
<polygon points="473.4,409.5 467.9,407 462.5,403.9 457.1,400.1 451.9,395.6 446.8,390.5 441.8,384.8 441,385.4 445.4,391.7 450,397.5 454.8,402.7 459.9,407.4 465.2,411.5 470.8,415" fill="#a9bac6"/>
<polygon points="473.1,410.2 467.6,407.6 462.1,404.3 456.8,400.4 451.6,395.9 446.5,390.7 441.6,384.9 441.2,385.2 445.6,391.5 450.3,397.2 455.1,402.3 460.2,406.9 465.5,410.9 471.1,414.3" fill="#dfe7ec"/>
<polygon points="478.1,386.1 474,383.1 469.9,379.3 465.9,374.9 461.9,369.7 458.1,363.8 454.3,357.1 453.4,357.5 456.6,364.5 460,370.9 463.5,376.6 467.2,381.7 471.1,386.2 475.2,390" fill="#a9bac6"/>
<polygon points="477.6,386.7 473.5,383.5 469.4,379.7 465.5,375.2 461.6,369.9 457.8,363.9 454.1,357.2 453.6,357.4 456.9,364.4 460.3,370.7 463.9,376.3 467.6,381.3 471.5,385.7 475.6,389.4" fill="#dfe7ec"/>
<polygon points="488.7,495.9 483.2,478.7 483.3,462.1 483.4,445.8 483.7,429.8 484,414.2 484.4,398.9 484.8,384 485.3,369.4 485.9,355.1 484.7,355 482.5,369.1 480.4,383.6 478.3,398.4 476.3,413.6 474.3,429.2 472.5,445.1 470.7,461.3 468.9,477.9 461.7,494.6" fill="#a9bac6"/>
<polygon points="486.5,495.9 481.6,478.7 481.8,462 482.1,445.7 482.5,429.8 482.9,414.2 483.4,398.9 484.1,384 484.8,369.4 485.6,355.1 485,355 482.7,369.1 480.5,383.6 478.3,398.4 476.2,413.6 474.3,429.2 472.4,445.1 470.6,461.4 468.9,478 462.3,494.7" fill="#d9e2e8"/>
<polygon points="477.5,495.5 476.1,478.5 476.8,461.8 477.6,445.6 478.6,429.6 479.7,414 480.9,398.8 482.3,383.9 483.8,369.3 485.5,355.1 485.2,355 482.9,369.2 480.8,383.7 478.8,398.6 477,413.8 475.3,429.4 473.7,445.3 472.3,461.5 471,478.2 467.8,495.1" fill="#f5f8fa"/>
<polygon points="481.4,430.2 485.3,427 488.9,423.3 492.3,419.2 495.4,414.7 498.3,409.8 501,404.5 500.2,403.9 496.4,408.4 492.5,412.4 488.7,415.7 484.8,418.5 480.9,420.7 477,422.4" fill="#a9bac6"/>
<polygon points="481.1,429.6 484.9,426.4 488.5,422.9 491.9,418.9 495.1,414.4 498,409.6 500.8,404.3 500.4,404.1 496.7,408.6 492.9,412.6 489,416.1 485.1,419 481.3,421.3 477.4,423.1" fill="#dfe7ec"/>
<polygon points="482.1,408.6 487.3,405.7 492.3,402.4 496.9,398.6 501.4,394.5 505.6,389.9 509.6,384.9 508.9,384.2 504.2,388.4 499.4,392.1 494.5,395.3 489.6,397.9 484.5,400.1 479.5,401.8" fill="#a9bac6"/>
<polygon points="481.9,407.9 487,405.1 492,401.9 496.7,398.2 501.1,394.1 505.4,389.6 509.4,384.7 509.1,384.4 504.4,388.7 499.7,392.4 494.8,395.7 489.9,398.4 484.8,400.7 479.7,402.5" fill="#dfe7ec"/>
<polygon points="564.5,495.4 560.2,480.9 559.5,466.7 558.7,452.8 557.8,439.2 556.9,425.8 555.9,412.8 554.8,400.1 553.6,387.7 552.3,375.6 551.1,375.7 551.4,387.8 551.5,400.3 551.6,413 551.6,426 551.5,439.3 551.4,453 551.1,466.9 550.8,481 546.8,495.5" fill="#a9bac6"/>
<polygon points="562.3,495.4 558.7,480.9 558,466.7 557.4,452.8 556.6,439.2 555.8,425.9 555,412.9 554,400.1 553.1,387.7 552,375.6 551.4,375.6 551.5,387.8 551.6,400.2 551.6,413 551.6,426 551.5,439.3 551.3,452.9 551.1,466.8 550.8,481 547.3,495.5" fill="#d9e2e8"/>
<polygon points="557,495.5 555.5,481 555.2,466.8 554.9,452.9 554.5,439.2 554,425.9 553.5,412.9 553,400.2 552.5,387.7 551.9,375.6 551.6,375.6 551.8,387.8 552,400.2 552.2,412.9 552.3,426 552.4,439.3 552.4,452.9 552.4,466.8 552.4,481 551,495.5" fill="#f5f8fa"/>
<polygon points="554.3,408.6 557.2,406.9 559.9,405.1 562.4,403 564.8,400.6 567.1,398.1 569.3,395.3 568.5,394.6 565.9,396.9 563.3,398.9 560.7,400.6 558,402 555.3,403.2 552.5,404.1" fill="#a9bac6"/>
<polygon points="554.1,407.9 556.9,406.3 559.6,404.6 562.1,402.6 564.6,400.3 566.9,397.8 569.1,395.1 568.7,394.8 566.2,397.1 563.6,399.2 561,401 558.3,402.5 555.6,403.8 552.8,404.8" fill="#dfe7ec"/>
<polygon points="557,439.8 560.5,435.2 563.8,429.8 566.8,423.7 569.8,416.9 572.5,409.3 575.2,401 574.2,400.7 570.7,408.6 567.1,415.7 563.5,421.9 559.7,427.2 556,431.6 552.3,435.1" fill="#a9bac6"/>
<polygon points="556.5,439.3 560,434.8 563.3,429.5 566.4,423.5 569.4,416.7 572.2,409.2 574.9,400.9 574.4,400.8 571,408.7 567.5,415.9 563.9,422.1 560.2,427.5 556.5,432 552.8,435.6" fill="#dfe7ec"/>
<polygon points="556.1,425.9 558.4,423.1 560.5,419.9 562.5,416.3 564.3,412.2 566,407.8 567.6,403 566.7,402.6 564.4,407.1 562,411 559.5,414.4 557.1,417.3 554.6,419.7 552.2,421.5" fill="#a9bac6"/>
<polygon points="555.6,425.4 557.9,422.7 560,419.5 562,416 563.9,412.1 565.7,407.7 567.4,402.9 566.9,402.7 564.7,407.2 562.3,411.2 560,414.7 557.5,417.7 555.1,420.1 552.7,422.1" fill="#dfe7ec"/>
<polygon points="462.7,495.5 455.4,481.9 452.6,468 449.8,454.3 447.1,440.9 444.5,427.9 441.9,415.1 439.4,402.6 437,390.3 434.7,378.4 433.5,378.6 434.6,390.7 435.7,403.1 437,415.8 438.3,428.8 439.7,442.1 441.1,455.7 442.6,469.5 444.2,483.7 441.6,498.9" fill="#a9bac6"/>
<polygon points="460.6,495.7 453.9,482.1 451.1,468.1 448.5,454.4 445.9,441 443.4,428 441,415.1 438.7,402.6 436.5,390.4 434.4,378.5 433.8,378.5 434.7,390.6 435.8,403 437,415.7 438.2,428.7 439.6,442 441,455.6 442.6,469.4 444.2,483.6 442.1,498.7" fill="#d9e2e8"/>
<polygon points="453.9,496.6 449.8,482.5 447.5,468.5 445.2,454.8 443.1,441.3 441,428.2 439.2,415.3 437.4,402.8 435.7,390.5 434.2,378.5 433.9,378.5 435,390.6 436.2,402.9 437.5,415.5 438.9,428.5 440.5,441.7 442.2,455.2 444,469 445.9,483.1 446.5,497.8" fill="#f5f8fa"/>
<polygon points="443.4,429 439,427.5 434.6,425.4 430.2,422.9 425.9,419.8 421.7,416.3 417.6,412.3 416.8,413 420.2,417.7 423.9,422.1 427.7,426 431.8,429.6 436,432.8 440.6,435.6" fill="#a9bac6"/>
<polygon points="443.1,429.7 438.6,428 434.2,425.9 429.9,423.2 425.6,420.1 421.5,416.6 417.4,412.5 417,412.8 420.5,417.5 424.1,421.8 428,425.6 432.1,429.1 436.4,432.2 440.9,434.9" fill="#dfe7ec"/>
<polygon points="444.1,432.8 446.4,429.5 448.6,425.7 450.6,421.5 452.4,416.9 454.1,411.7 455.7,406.1 454.8,405.8 452.3,411 449.7,415.6 447.1,419.6 444.4,423 441.8,425.7 439.2,427.9" fill="#a9bac6"/>
<polygon points="443.6,432.3 445.9,429.1 448.1,425.4 450.1,421.3 452,416.7 453.8,411.6 455.5,406 455,405.8 452.6,411.1 450.1,415.8 447.5,419.8 444.9,423.3 442.3,426.2 439.8,428.4" fill="#dfe7ec"/>
<polygon points="565.3,497.5 559.7,478.5 558.4,459.9 556.7,441.8 554.5,424 551.9,406.7 548.7,389.8 545.1,373.4 541,357.3 536.5,341.7 535.3,342 538.5,357.9 541.1,374.1 543.3,390.7 545,407.6 546.2,424.8 547,442.4 547.2,460.4 547,478.7 541.4,497.3" fill="#a9bac6"/>
<polygon points="563.2,497.5 558.1,478.5 557,460 555.4,441.8 553.3,424.1 550.8,406.8 547.8,389.9 544.4,373.4 540.5,357.4 536.2,341.8 535.6,341.9 538.7,357.8 541.2,374 543.3,390.6 545,407.5 546.2,424.8 546.9,442.4 547.2,460.3 547,478.7 542,497.3" fill="#d9e2e8"/>
<polygon points="555.4,497.5 553.4,478.6 552.7,460.1 551.6,442 550,424.3 548.1,407 545.7,390.1 542.9,373.6 539.7,357.5 536.1,341.8 535.8,341.9 538.9,357.7 541.6,373.8 543.9,390.4 545.7,407.3 547.1,424.6 548.1,442.2 548.7,460.2 548.9,478.6 546.9,497.4" fill="#f5f8fa"/>
<polygon points="554.6,434.4 552.3,433 549.8,431 547.2,428.4 544.7,425.3 542.1,421.7 539.6,417.5 538.7,417.8 540,422.6 541.3,427.1 542.9,431.1 544.5,434.9 546.4,438.3 548.5,441.3" fill="#a9bac6"/>
<polygon points="554.1,435 551.8,433.4 549.3,431.4 546.8,428.7 544.3,425.5 541.8,421.8 539.4,417.6 538.9,417.8 540.3,422.5 541.7,426.9 543.3,430.9 545,434.5 546.9,437.8 548.9,440.8" fill="#dfe7ec"/>
<polygon points="552.3,432.8 557.8,429.7 562.9,426.2 567.8,422.3 572.4,418 576.7,413.2 580.9,408.1 580.1,407.4 575.2,411.6 570.1,415.2 565,418.3 559.8,420.9 554.5,423 549.2,424.6" fill="#a9bac6"/>
<polygon points="552.1,432.1 557.5,429.1 562.6,425.7 567.5,421.9 572.1,417.6 576.5,413 580.7,407.9 580.3,407.6 575.4,411.8 570.4,415.5 565.3,418.7 560.1,421.4 554.8,423.6 549.5,425.3" fill="#dfe7ec"/>
<polygon points="554.2,443 556.9,440.1 559.4,436.9 561.7,433.3 563.7,429.5 565.6,425.3 567.4,420.8 566.5,420.3 563.6,424 560.6,427.3 557.7,430 554.7,432.2 551.8,434 549,435.2" fill="#a9bac6"/>
<polygon points="553.8,442.4 556.5,439.6 559,436.4 561.3,433 563.4,429.2 565.3,425.1 567.2,420.6 566.7,420.4 563.9,424.2 561,427.5 558.1,430.3 555.2,432.7 552.3,434.5 549.5,435.8" fill="#dfe7ec"/>
<polygon points="441.1,496.3 433.6,482.4 431,468 428.6,453.9 426.5,440.1 424.7,426.6 423.2,413.3 422,400.4 421,387.7 420.3,375.3 419.1,375.3 418.4,387.7 418.1,400.5 417.9,413.6 418.1,427.1 418.6,440.8 419.3,454.9 420.4,469.3 421.7,484.1 418.7,499.9" fill="#a9bac6"/>
<polygon points="439,496.5 432.1,482.5 429.5,468.1 427.3,454 425.3,440.2 423.6,426.6 422.3,413.4 421.2,400.4 420.5,387.7 420,375.3 419.4,375.3 418.6,387.7 418.1,400.5 418,413.6 418.1,427 418.5,440.8 419.3,454.8 420.3,469.2 421.7,484 419.3,499.7" fill="#d9e2e8"/>
<polygon points="431.8,497.4 427.7,482.9 425.5,468.4 423.7,454.2 422.2,440.4 421.1,426.8 420.3,413.5 419.8,400.4 419.7,387.7 419.9,375.3 419.6,375.3 418.9,387.7 418.5,400.4 418.5,413.5 418.8,426.9 419.5,440.6 420.5,454.6 421.8,468.9 423.5,483.5 423.9,498.7" fill="#f5f8fa"/>
<polygon points="426.3,446.2 424.3,445.1 422.1,443.4 419.9,441.3 417.6,438.7 415.3,435.6 413.1,432 412.2,432.4 413.2,436.5 414.4,440.3 415.7,443.9 417.1,447.1 418.7,450.1 420.5,452.8" fill="#a9bac6"/>
<polygon points="425.8,446.8 423.8,445.5 421.6,443.8 419.4,441.6 417.2,438.9 415,435.7 412.9,432.1 412.4,432.3 413.5,436.4 414.8,440.2 416.1,443.6 417.6,446.8 419.2,449.7 421,452.3" fill="#dfe7ec"/>
<polygon points="425.1,445.4 421.4,444.4 417.8,443.1 414.1,441.3 410.5,439.2 406.9,436.7 403.3,433.8 402.5,434.4 405.2,438.3 408.1,441.9 411.2,445.3 414.5,448.3 418,451.1 421.8,453.5" fill="#a9bac6"/>
<polygon points="424.8,446.1 421.1,445 417.5,443.6 413.8,441.7 410.2,439.5 406.6,436.9 403.1,433.9 402.7,434.3 405.5,438.1 408.4,441.6 411.5,444.9 414.8,447.8 418.3,450.5 422.1,452.8" fill="#dfe7ec"/>
<polygon points="379.4,501.2 375.6,482.6 375.8,464.7 375.4,447.3 374.6,430.2 373.3,413.5 371.5,397.3 369.2,381.4 366.4,366 363.2,350.9 362,351.2 364,366.3 365.5,381.9 366.5,397.7 367,413.9 367,430.4 366.5,447.2 365.6,464.4 364.2,481.9 357.9,499.4" fill="#a9bac6"/>
<polygon points="377.3,501.1 374.1,482.6 374.3,464.7 374.1,447.3 373.4,430.2 372.2,413.6 370.6,397.3 368.5,381.5 365.9,366 362.9,351 362.3,351.1 364.2,366.3 365.6,381.8 366.5,397.6 366.9,413.8 366.9,430.4 366.5,447.2 365.5,464.4 364.2,482 358.4,499.6" fill="#d9e2e8"/>
<polygon points="370.4,500.6 369.9,482.4 370.5,464.6 370.7,447.3 370.5,430.3 369.8,413.7 368.7,397.4 367.2,381.6 365.2,366.1 362.8,351 362.5,351.1 364.4,366.2 365.9,381.7 367,397.5 367.7,413.7 367.9,430.3 367.7,447.2 367,464.5 365.9,482.1 362.9,500" fill="#f5f8fa"/>
<polygon points="372.3,419.9 367,417.3 361.6,414 356.4,410 351.2,405.3 346.1,399.9 341.2,393.8 340.3,394.3 344.5,401.1 348.8,407.4 353.4,413.1 358.3,418.1 363.4,422.6 368.8,426.5" fill="#a9bac6"/>
<polygon points="372,420.6 366.6,417.9 361.3,414.5 356,410.4 350.9,405.6 345.9,400.1 340.9,393.9 340.5,394.2 344.7,400.9 349.1,407.1 353.8,412.7 358.7,417.7 363.8,422.1 369.2,425.8" fill="#dfe7ec"/>
<polygon points="370.6,394.8 367.9,393.1 365,390.8 362.2,388.1 359.4,384.8 356.7,381.1 354,376.8 353.1,377.3 355.1,382 357.2,386.3 359.5,390.2 361.9,393.7 364.5,396.8 367.2,399.6" fill="#a9bac6"/>
<polygon points="370.2,395.4 367.4,393.6 364.6,391.2 361.8,388.4 359.1,385.1 356.4,381.2 353.8,376.9 353.3,377.2 355.4,381.8 357.6,386 359.9,389.9 362.3,393.3 364.9,396.3 367.7,399" fill="#dfe7ec"/>
<polygon points="368.8,382.6 363.1,380.1 357.5,377 352,373.3 346.6,369 341.4,364 336.3,358.5 335.6,359.1 340.2,365.2 345,370.7 350.1,375.6 355.4,380.1 360.9,383.9 366.7,387.2" fill="#a9bac6"/>
<polygon points="368.4,383.3 362.7,380.7 357.1,377.5 351.7,373.7 346.4,369.3 341.2,364.3 336.1,358.6 335.8,358.9 340.4,364.9 345.3,370.4 350.4,375.2 355.7,379.6 361.2,383.3 367,386.5" fill="#dfe7ec"/>
<polygon points="547.8,502 541.5,486.7 539.5,471.3 537.8,456.3 536.4,441.5 535.3,427 534.5,412.8 534.1,398.9 533.9,385.4 534,372.1 532.8,372 531.6,385.3 530.6,398.9 529.9,412.8 529.6,427.1 529.5,441.8 529.8,456.8 530.4,472.1 531.3,487.8 528.5,504.3" fill="#a9bac6"/>
<polygon points="545.6,502.1 540,486.8 538,471.4 536.5,456.3 535.2,441.5 534.2,427 533.6,412.8 533.3,399 533.4,385.4 533.7,372.1 533.1,372 531.7,385.3 530.7,398.9 530,412.8 529.6,427.1 529.5,441.7 529.7,456.7 530.3,472 531.2,487.7 529.1,504.1" fill="#d9e2e8"/>
<polygon points="539.7,502.7 536.4,487.1 534.8,471.6 533.6,456.4 532.7,441.6 532.2,427.1 532,412.8 532.2,398.9 532.7,385.3 533.6,372.1 533.3,372 532,385.3 531.1,398.9 530.5,412.8 530.3,427.1 530.4,441.7 530.9,456.6 531.7,471.8 532.9,487.4 533.1,503.5" fill="#f5f8fa"/>
<polygon points="535.7,464.4 539.4,462 542.9,459.3 546.2,456.3 549.3,453.1 552.2,449.5 554.9,445.7 554.1,445 550.6,447.9 547,450.5 543.4,452.6 539.8,454.3 536.1,455.7 532.5,456.7" fill="#a9bac6"/>
<polygon points="535.4,463.7 539.1,461.4 542.6,458.8 545.9,455.9 549,452.7 551.9,449.3 554.7,445.5 554.3,445.2 550.8,448.2 547.3,450.8 543.7,453 540.1,454.8 536.4,456.3 532.8,457.4" fill="#dfe7ec"/>
<polygon points="535,431.5 537.1,427.9 539.1,423.7 540.9,419.1 542.5,413.9 544.1,408.1 545.6,401.8 544.7,401.5 542.3,407.5 539.9,412.8 537.4,417.5 534.9,421.5 532.5,424.8 530,427.3" fill="#a9bac6"/>
<polygon points="534.4,431 536.6,427.5 538.6,423.4 540.4,418.9 542.2,413.7 543.8,408 545.4,401.7 544.9,401.6 542.6,407.6 540.3,413 537.9,417.7 535.5,421.8 533,425.1 530.6,427.8" fill="#dfe7ec"/>
<polygon points="533.9,395 532,393.4 530.1,391.4 528.2,388.9 526.3,385.9 524.5,382.5 522.6,378.7 521.7,379.1 523,383.2 524.4,386.9 525.8,390.2 527.4,393.3 529,396 530.8,398.3" fill="#a9bac6"/>
<polygon points="533.4,395.6 531.5,393.9 529.6,391.7 527.8,389.1 525.9,386.1 524.2,382.7 522.4,378.8 521.9,379 523.3,383 524.7,386.7 526.3,390 527.9,392.9 529.5,395.5 531.3,397.8" fill="#dfe7ec"/>
<polygon points="533.5,398.3 537.4,395.5 541,392.3 544.6,388.5 547.9,384.4 551.1,379.8 554.1,374.7 553.3,374.2 549.8,378.9 546.2,383 542.6,386.6 538.9,389.7 535.1,392.3 531.3,394.4" fill="#a9bac6"/>
<polygon points="533.1,397.7 537,395 540.7,391.8 544.2,388.2 547.6,384.1 550.8,379.6 553.9,374.6 553.5,374.3 550.1,379 546.6,383.3 542.9,387 539.3,390.2 535.5,392.9 531.7,395.1" fill="#dfe7ec"/>
<polygon points="522.7,504.9 517.6,486.4 518.2,468.6 518.7,451.2 519.3,434.1 519.9,417.5 520.5,401.2 521,385.2 521.6,369.7 522.2,354.4 521,354.3 518.8,369.4 516.5,384.8 514.3,400.6 512,416.8 509.8,433.4 507.6,450.3 505.3,467.6 503.1,485.2 495.2,502.8" fill="#a9bac6"/>
<polygon points="520.5,504.8 516.1,486.3 516.7,468.5 517.4,451.1 518.1,434.1 518.8,417.5 519.6,401.1 520.3,385.2 521.1,369.6 521.9,354.4 521.3,354.4 519,369.4 516.6,384.8 514.3,400.6 512,416.8 509.7,433.4 507.5,450.3 505.3,467.6 503.1,485.3 495.8,502.9" fill="#d9e2e8"/>
<polygon points="511.3,504.3 510.4,486 511.5,468.3 512.8,450.9 514.1,433.9 515.5,417.3 517,401 518.5,385.1 520.1,369.6 521.8,354.4 521.5,354.4 519.2,369.5 517,384.9 514.8,400.8 512.8,417 510.8,433.6 508.8,450.5 507,467.9 505.1,485.6 501.4,503.5" fill="#f5f8fa"/>
<polygon points="519.2,413.9 517.4,412.4 515.6,410.3 513.7,407.6 511.8,404.4 509.9,400.7 508.1,396.4 507.1,396.7 507.9,401.3 508.7,405.5 509.5,409.4 510.5,412.8 511.6,416 512.9,418.9" fill="#a9bac6"/>
<polygon points="518.6,414.4 516.9,412.8 515.1,410.5 513.2,407.8 511.4,404.5 509.6,400.8 507.9,396.5 507.4,396.6 508.2,401.2 509.1,405.4 510,409.2 511,412.6 512.2,415.7 513.4,418.4" fill="#dfe7ec"/>
<polygon points="515.4,451.4 519.5,448.6 523.4,445.6 527,442.2 530.3,438.6 533.5,434.6 536.4,430.3 535.6,429.7 531.7,432.8 527.6,435.4 523.6,437.6 519.6,439.4 515.6,440.8 511.6,441.7" fill="#a9bac6"/>
<polygon points="515.1,450.7 519.2,448 523.1,445.1 526.7,441.8 530.1,438.2 533.2,434.4 536.2,430.2 535.8,429.8 531.9,433 527.9,435.7 523.9,438 519.9,439.9 515.9,441.4 511.8,442.4" fill="#dfe7ec"/>
<polygon points="517.3,416.5 511.8,414.5 506.2,411.9 500.8,408.7 495.4,404.9 490.1,400.6 485,395.6 484.2,396.2 488.5,402.1 493.1,407.5 497.9,412.4 503,416.8 508.4,420.7 514.1,424.1" fill="#a9bac6"/>
<polygon points="517,417.2 511.4,415 505.9,412.4 500.5,409.1 495.1,405.2 489.9,400.8 484.8,395.8 484.4,396.1 488.8,401.9 493.4,407.2 498.2,412 503.3,416.3 508.7,420.1 514.3,423.5" fill="#dfe7ec"/>
<polygon points="517.1,432.1 512.8,429.6 508.4,426.3 504,422.3 499.7,417.4 495.4,411.8 491.2,405.5 490.3,405.9 493.3,413 496.5,419.6 499.9,425.5 503.5,430.9 507.4,435.7 511.6,440" fill="#a9bac6"/>
<polygon points="516.7,432.7 512.3,430.1 508,426.7 503.6,422.6 499.3,417.7 495.1,412 490.9,405.6 490.5,405.8 493.6,412.9 496.8,419.3 500.3,425.2 503.9,430.5 507.8,435.2 512.1,439.3" fill="#dfe7ec"/>
<polygon points="407,502.9 398.9,488.4 396.4,473.3 394.1,458.6 392.2,444.2 390.6,430 389.3,416.2 388.3,402.6 387.6,389.3 387.3,376.3 386.1,376.3 384.9,389.3 384,402.6 383.4,416.3 383.2,430.4 383.2,444.8 383.6,459.5 384.3,474.6 385.3,490.1 381.4,506.6" fill="#a9bac6"/>
<polygon points="404.9,503.1 397.4,488.5 394.9,473.4 392.8,458.7 391,444.2 389.5,430.1 388.4,416.2 387.6,402.6 387.1,389.3 387,376.3 386.4,376.3 385.1,389.3 384.1,402.6 383.4,416.3 383.1,430.3 383.2,444.7 383.5,459.5 384.2,474.5 385.3,490 381.9,506.4" fill="#d9e2e8"/>
<polygon points="396.3,504.1 392.1,488.9 390.1,473.8 388.6,458.9 387.3,444.4 386.5,430.2 386,416.3 385.9,402.6 386.2,389.3 386.8,376.3 386.5,376.3 385.3,389.3 384.5,402.6 384,416.3 383.9,430.3 384.2,444.6 384.8,459.2 385.9,474.2 387.3,489.5 387.2,505.4" fill="#f5f8fa"/>
<polygon points="388.3,431.3 391,429.4 393.6,427.2 395.9,424.8 398.1,422.1 400.2,419.3 402.1,416.3 401.3,415.6 398.6,417.9 396,419.8 393.3,421.4 390.6,422.7 387.9,423.7 385.3,424.4" fill="#a9bac6"/>
<polygon points="388,430.6 390.7,428.8 393.2,426.7 395.6,424.4 397.9,421.8 399.9,419.1 401.9,416.1 401.5,415.8 398.9,418.1 396.2,420.1 393.6,421.8 390.9,423.2 388.2,424.3 385.6,425.1" fill="#dfe7ec"/>
<polygon points="387.8,401.6 385.7,400.4 383.6,398.7 381.5,396.6 379.4,394.2 377.3,391.3 375.3,388 374.4,388.5 375.8,392.1 377.3,395.5 378.9,398.5 380.6,401.3 382.5,403.8 384.5,406" fill="#a9bac6"/>
<polygon points="387.3,402.2 385.3,400.8 383.2,399.1 381.1,396.9 379.1,394.4 377.1,391.5 375.1,388.1 374.6,388.4 376.1,392 377.7,395.2 379.3,398.2 381.1,400.9 383,403.3 385,405.4" fill="#dfe7ec"/>
<polygon points="388.3,407.7 386.1,406 383.9,403.8 381.7,401 379.6,397.7 377.4,394 375.3,389.7 374.3,390.1 375.7,394.7 377.2,398.9 378.7,402.7 380.4,406.2 382.2,409.3 384.2,412" fill="#a9bac6"/>
<polygon points="387.8,408.3 385.6,406.4 383.5,404.1 381.3,401.3 379.2,397.9 377.1,394.1 375,389.8 374.6,390 376,394.6 377.5,398.7 379.2,402.5 380.9,405.9 382.7,408.9 384.7,411.5" fill="#dfe7ec"/>
<polygon points="391.9,463.4 394.2,460.5 396.3,457.3 398.1,453.8 399.8,450 401.3,445.9 402.7,441.6 401.8,441.1 399.1,444.7 396.4,447.8 393.7,450.4 391,452.5 388.4,454.1 385.9,455.2" fill="#a9bac6"/>
<polygon points="391.5,462.8 393.8,460 395.9,456.9 397.7,453.5 399.5,449.8 401,445.8 402.5,441.5 402,441.2 399.4,444.9 396.7,448.1 394.1,450.7 391.4,452.9 388.8,454.6 386.3,455.8" fill="#dfe7ec"/>
<circle cx="526.7" cy="338" r="4.4" fill="url(#gW)"/>
<circle cx="549.1" cy="349.4" r="4.4" fill="url(#gW)"/>
<circle cx="509.8" cy="342.2" r="4.4" fill="url(#gW)"/>
<circle cx="556.4" cy="346.6" r="4.4" fill="url(#gW)"/>
<circle cx="459.9" cy="338.6" r="4.4" fill="url(#gW)"/>
<circle cx="448.4" cy="342.6" r="4.4" fill="url(#gW)"/>
<circle cx="502" cy="354" r="4.4" fill="url(#gW)"/>
<circle cx="434.7" cy="362.6" r="4.4" fill="url(#gW)"/>
<circle cx="373.9" cy="352.4" r="4.4" fill="url(#gW)"/>
<circle cx="554.3" cy="359.3" r="4.4" fill="url(#gW)"/>
<circle cx="481.9" cy="355.1" r="4.4" fill="url(#gW)"/>
<circle cx="510.1" cy="356.9" r="4.4" fill="url(#gW)"/>
<circle cx="469.4" cy="364.3" r="4.4" fill="url(#gW)"/>
<circle cx="577.3" cy="357.4" r="4.4" fill="url(#gW)"/>
<circle cx="523.5" cy="353.9" r="4.4" fill="url(#gW)"/>
<circle cx="529.8" cy="369.4" r="4.4" fill="url(#gW)"/>
<circle cx="580.6" cy="366.7" r="4.4" fill="url(#gW)"/>
<circle cx="435.6" cy="377.7" r="4.4" fill="url(#gW)"/>
<circle cx="362.3" cy="364.3" r="4.4" fill="url(#gW)"/>
<circle cx="595.5" cy="392.1" r="4.4" fill="url(#gW)"/>
<circle cx="479.6" cy="376.1" r="4.4" fill="url(#gW)"/>
<circle cx="419.7" cy="382.8" r="4.4" fill="url(#gW)"/>
<circle cx="365.9" cy="370.9" r="4.4" fill="url(#gW)"/>
<circle cx="519" cy="382.7" r="4.4" fill="url(#gW)"/>
<polygon points="349,514 628,513 628,522 350,523.6" fill="url(#cuEdge2)"/>
<polygon points="302,180.8 332.2,180.8 331.2,172.7 340.2,183.7 331.9,194.5 332.7,186.6 302,186.6" fill="#000"/>
<polygon points="302,499.1 332.2,499.1 331.2,491 340.2,502 331.9,512.8 332.7,504.9 302,504.9" fill="#000"/>
<rect x="701" y="41" width="325" height="92" fill="#fff"/>
<path d="M701 43h0M716 44h0M771 41.3h0M831.6 42h0M873.8 43.9h0M896.3 41.3h0M907.8 44h0M932.2 41.5h0M958.7 42.7h0M995.9 41.7h0M704 46.2h0M730.2 47.9h0M733.3 45.6h0M740.7 47.9h0M790.7 47.1h0M819.5 46.4h0M848.5 47.1h0M870.8 45.6h0M876 46.5h0M889.9 47.8h0M915.8 45.9h0M940.9 46.6h0M998.6 47.4h0M1004 48.3h0M738.5 50.3h0M782.7 49.8h0M832.2 49.5h0M962.7 50h0" stroke="#e83020" stroke-width="6" stroke-linecap="round"/>
<path d="M707.1 41h0M791.5 41.5h0M923.5 42.8h0M1006.1 43.1h0" stroke="#9a7080" stroke-width="5" stroke-linecap="round"/>
<path d="M711.5 41.3h0M767 41.8h0M858.3 43.5h0M947.3 42.9h0M841 45.8h0" stroke="#9a7080" stroke-width="6" stroke-linecap="round"/>
<path d="M723.3 41.9h0M726 42.7h0M860.9 41h0M708.1 46.3h0" stroke="#3a3050" stroke-width="5" stroke-linecap="round"/>
<path d="M732.6 41.9h0M776.1 43.7h0M781.7 43.7h0M797.1 40.9h0M842.5 41.4h0M846.6 43.1h0M851.8 43.4h0M883.2 43h0M961.5 41.1h0M1003.3 43.8h0M1017.2 43.7h0" stroke="#c06060" stroke-width="5" stroke-linecap="round"/>
<path d="M737.5 41.7h0M808.8 45.4h0" stroke="#3a3050" stroke-width="6" stroke-linecap="round"/>
<path d="M741.2 44h0M808.2 43.7h0M811 41.1h0M816.3 40.9h0M821.3 42.9h0M828.8 43.6h0M887.3 43.3h0M902.8 44h0M911.5 43.5h0M917.1 41.7h0M925.9 42.6h0M938.2 42.7h0M982.4 42.3h0M987.5 41h0M1022.4 41.3h0M755.9 46h0M759.6 46.7h0M764.2 45.5h0M794.1 45.6h0M823.5 45.4h0M834.6 46.1h0M858.1 45.3h0M900.8 45.4h0M906 47.6h0M919.1 45.5h0M925.3 48h0M928.2 46.3h0M935.6 47.2h0M945.7 47.5h0M965 48.1h0M968.4 47.4h0M974.9 45.9h0M988.1 46.2h0M995.8 47.3h0M1010.9 46.1h0M1015.9 47.3h0M712.4 50.7h0M748.4 50.3h0M773.5 50.1h0M897.8 50.8h0M922.7 50.1h0M1001.2 50.5h0M1012.3 49.5h0" stroke="#e83020" stroke-width="5" stroke-linecap="round"/>
<path d="M747.8 41h0M752.6 43.1h0M761 43h0M802.7 42.5h0M876.4 41.5h0M942.3 43.4h0M953.6 42.4h0M968 41.4h0M991 42.5h0M1012.7 43.9h0M714.5 45.8h0M864 46.3h0M878.4 45.4h0" stroke="#c06060" stroke-width="6" stroke-linecap="round"/>
<path d="M892 44h0M977 43.9h0M720.6 46.8h0M800.1 47.2h0M828.2 45.2h0M895.2 45.4h0M993.5 50.7h0" stroke="#f05020" stroke-width="5" stroke-linecap="round"/>
<path d="M743.5 46.7h0M844.4 48.3h0M884.6 46.1h0M908.6 46.5h0M984.5 48h0M1023.2 45.4h0M812.1 49.6h0M966.3 50.5h0" stroke="#c05050" stroke-width="5" stroke-linecap="round"/>
<path d="M769.6 47.1h0M774 46.4h0M780.6 45.3h0M784.6 45.6h0M804.7 46.8h0M954.6 45.7h0M959.4 47.6h0M804.2 50.8h0" stroke="#f05020" stroke-width="6" stroke-linecap="round"/>
<path d="M855.7 46.8h0" stroke="#c05050" stroke-width="6" stroke-linecap="round"/>
<path d="M950.5 48.2h0M706.8 50.6h0M753.1 52.4h0M779.2 50.5h0M817.3 52.5h0M821.6 52.5h0M884.1 49.9h0M888.9 50.7h0M892.4 50.2h0M901.4 52.4h0M908 49.9h0M944.2 52.2h0M1016.8 51.4h0M875.9 54.8h0M1006.3 54.2h0" stroke="#a07070" stroke-width="6" stroke-linecap="round"/>
<path d="M719.1 50.6h0M726.8 52.4h0M733.5 52.1h0M849.1 50.5h0M868.1 49.8h0M927.8 50.9h0M958.5 50.6h0M983.1 52.7h0M736 55.3h0M804.7 54.5h0M851.4 54.1h0M880.3 54.8h0M956.7 54.2h0" stroke="#a07070" stroke-width="5" stroke-linecap="round"/>
<path d="M723.7 52.1h0M759.1 52.6h0M797 50.3h0M837.9 52h0M841.5 51.5h0M858.9 49.5h0M932.8 52h0" stroke="#703040" stroke-width="5" stroke-linecap="round"/>
<path d="M761.8 52.5h0M788.3 51.5h0M792.1 52.2h0M839.1 55.4h0" stroke="#b08060" stroke-width="6" stroke-linecap="round"/>
<path d="M767.2 51.4h0M806.5 52.7h0M826.8 50h0M854.2 52.3h0M861.7 51h0M874 51.2h0M917.7 51.5h0M1008.9 51.1h0M1021.7 50.3h0M715 55.5h0M1014.1 54.6h0" stroke="#b08060" stroke-width="5" stroke-linecap="round"/>
<path d="M912.5 51.4h0M971.7 52.4h0M997 52.1h0M830.3 55.4h0" stroke="#703040" stroke-width="6" stroke-linecap="round"/>
<path d="M954 52.6h0M891.7 54.1h0" stroke="#e06040" stroke-width="5" stroke-linecap="round"/>
<path d="M978.9 50.7h0M711.6 55.2h0M1021.5 54.3h0" stroke="#e06040" stroke-width="6" stroke-linecap="round"/>
<path d="M703.8 54.6h0M756 54.6h0M834.6 56.5h0M854.9 55.4h0M861 56.2h0M865.8 56.5h0M910.1 56.7h0M925.9 56.3h0M930 55.8h0M941.1 54.3h0M966 54.5h0M984.8 56.5h0M757.9 58.2h0M801 59.4h0M921.7 60h0M968.6 58.6h0M850.1 91h0M893.7 90.3h0M904.2 90.6h0M935 90.8h0M973.8 90.5h0M722.6 92.9h0M757.6 93.4h0M761.5 95.6h0M821.4 94.6h0M828.6 95h0M847.2 94.8h0M867.8 92.8h0M878.3 93.7h0M933.6 92.7h0M937.2 95.7h0M947.2 93.1h0M978.4 94.6h0M999 94.2h0" stroke="#f0a8b0" stroke-width="6" stroke-linecap="round"/>
<path d="M721.6 55.6h0M745.4 54.7h0M770.5 56.1h0M778.9 54.3h0M794.1 54.5h0M809.9 56.1h0M813.9 55.8h0M898.9 55h0M969.4 55.1h0M981.2 56.4h0M995.2 54.8h0" stroke="#f4c090" stroke-width="5" stroke-linecap="round"/>
<path d="M726.2 55.9h0M751.7 55.9h0M800.7 56.4h0M820.4 56.1h0M845.7 56.3h0M869.2 55.7h0M895.1 56.1h0M905.2 55.8h0M920.1 55.9h0M934.9 56.3h0M951.6 55.1h0M960 53.8h0M975.5 55.3h0M989.3 55.2h0M706.1 58.8h0M907.5 59.6h0M806 90.1h0M820.7 88.9h0M838.6 91.3h0M931.1 90.5h0M701.5 95h0M727.5 95h0M738.5 93.4h0M788.7 95.2h0M812.8 92.9h0M832.2 92.8h0M838.4 92.7h0M907 94.4h0M943.1 93.8h0M962.5 93.6h0M974 94.5h0M1003.6 94.4h0" stroke="#f0a8b0" stroke-width="5" stroke-linecap="round"/>
<path d="M731.1 56.6h0M739.8 53.9h0M765.2 56.9h0M789 56.7h0M916.4 56.1h0M1025.8 56.3h0M1012.8 58.3h0M1021.7 59.7h0" stroke="#e07050" stroke-width="6" stroke-linecap="round"/>
<path d="M759.5 54.9h0M784 56.2h0M945.9 55.5h0M810.8 58.5h0" stroke="#f4c090" stroke-width="6" stroke-linecap="round"/>
<path d="M774.2 56.7h0M823.8 54.3h0M1001.3 56.8h0M957.5 58.3h0" stroke="#e07050" stroke-width="5" stroke-linecap="round"/>
<path d="M702.9 59.8h0M728.5 60.3h0M751.6 59.2h0M847.6 60.2h0M856.6 59.9h0M868.4 59.5h0M878.4 60.7h0M916.8 61.3h0M982.7 61.1h0M780.5 63.2h0M793.4 63.3h0" stroke="#c0e040" stroke-width="5" stroke-linecap="round"/>
<path d="M712.2 59.7h0M717.4 59.6h0M720.9 61.2h0M730.8 61h0M737.1 59.3h0M783.1 60.7h0M787 59.1h0M830.7 58.1h0M836.2 60.4h0M886 59.2h0M891.4 61.1h0M898 58.9h0M945.9 58.4h0M962.6 59.9h0M973.4 59.2h0M977.6 60.4h0M730.4 63h0M859.5 63.3h0M899.4 63.6h0" stroke="#f07030" stroke-width="6" stroke-linecap="round"/>
<path d="M742.4 59.5h0M746.5 59.7h0M761.3 58.1h0M767.5 61h0M771.3 60.3h0M775.8 58.7h0M818 58.3h0M842 59.9h0M862.5 59.2h0M881.5 59.9h0M1001 59.5h0M724.4 63h0M799.8 62.9h0M1004.3 62.5h0" stroke="#c0e040" stroke-width="6" stroke-linecap="round"/>
<path d="M791.1 58.2h0M796.9 58.1h0M901.4 60.6h0M944.8 62.9h0M953.2 62.4h0M999.9 63h0" stroke="#e8b040" stroke-width="6" stroke-linecap="round"/>
<path d="M807.7 58.1h0M822.8 60.1h0M871.5 60.7h0M912.4 59.3h0M932.4 59.7h0M943.6 60.7h0M986.5 59.1h0M992.7 58.6h0M1008.2 59.2h0M1016.2 59.4h0M755.6 63h0M759.6 62.4h0M864.3 63.3h0" stroke="#f07030" stroke-width="5" stroke-linecap="round"/>
<path d="M996.4 61.1h0M713.2 65.3h0M743.2 64.7h0M748.1 64h0M848.8 64.4h0M920.2 64.9h0M1013.9 64.2h0" stroke="#904858" stroke-width="6" stroke-linecap="round"/>
<path d="M703.7 64.5h0M765.7 65h0M790.2 65.2h0M879.6 63.1h0M893.5 64.9h0M933.9 64.7h0M940.6 64.9h0M1018.4 63.7h0M753 67.1h0M831.5 67.3h0M917 67.7h0" stroke="#6a3848" stroke-width="5" stroke-linecap="round"/>
<path d="M711 63.6h0M773.1 64.1h0M804.3 63.6h0M869.9 65.1h0M874.7 63.9h0M883.8 65.2h0M930.7 64.9h0M950.6 65.1h0M1010.6 63.4h0M708.3 67h0M761.4 67h0M848.1 66.8h0M971.9 67.2h0" stroke="#6a3848" stroke-width="6" stroke-linecap="round"/>
<path d="M719.1 65h0M734.5 64.3h0M739.8 65h0M909.1 62.9h0M964.8 63.5h0M969.2 62.7h0M993.5 63.7h0M927 67h0M740.5 72h0M860.1 73.9h0M896.2 73h0M920.8 71.3h0M751.5 76.5h0M801.5 75.8h0M822.4 75.9h0M857.5 75.4h0" stroke="#f07020" stroke-width="5" stroke-linecap="round"/>
<path d="M770.7 62.6h0M784.9 62.5h0M820.5 65.3h0M829.3 63.2h0M843.9 64.5h0M914.6 65h0M961.1 64.1h0M983.4 64h0M1024.6 62.9h0M796.1 67h0M867.6 69.7h0M932.5 69.6h0M719.7 71.2h0M746.1 72.8h0M769 73.6h0M776 71.5h0M783.8 72.1h0M826.5 76.3h0M1015.8 76.8h0" stroke="#f07020" stroke-width="6" stroke-linecap="round"/>
<path d="M813.8 63.5h0M855 63.4h0M974.5 65.5h0M980.5 64.1h0" stroke="#904858" stroke-width="5" stroke-linecap="round"/>
<path d="M834.6 63.8h0" stroke="#e8b040" stroke-width="5" stroke-linecap="round"/>
<path d="M840 65.4h0M891.3 67.5h0M957.4 68.5h0M998.5 68.2h0M706.1 71.6h0M726.4 71.4h0M1013.7 71.1h0" stroke="#f09030" stroke-width="6" stroke-linecap="round"/>
<path d="M924.8 64.9h0M817.6 68.9h0M841.6 68.9h0M886.2 68h0M902.8 68.5h0M1022.3 67.9h0M734.1 71.2h0" stroke="#e85a20" stroke-width="5" stroke-linecap="round"/>
<path d="M701.5 69.2h0M713.2 66.9h0M715.7 67.5h0M745.9 68.5h0M755.7 67.5h0M783.3 67.5h0M791.7 69.2h0M801.6 68.5h0M805.9 67.4h0M813.2 69.2h0M827.8 69.6h0M838.1 67.3h0M851.2 69.2h0M857.8 68h0M875.7 69.1h0M882.5 69.8h0M942.5 67.3h0M981.4 68.1h0M987.6 68.1h0M1005.7 69.3h0M1012 69.7h0M1016.1 66.8h0M801.1 71.7h0M935 71.9h0" stroke="#f06a18" stroke-width="6" stroke-linecap="round"/>
<path d="M721.5 69.3h0M750.4 73.4h0M790.9 71.6h0M821.3 72.7h0M825.7 73.8h0M831 73.5h0M834.9 73.4h0M869.7 73.5h0M964.4 73h0M971.9 75.4h0" stroke="#a0e040" stroke-width="6" stroke-linecap="round"/>
<path d="M732.7 67.9h0M872.7 66.9h0M922.8 69.9h0M936 67.5h0M947.8 69.4h0M977.7 67.3h0" stroke="#f09030" stroke-width="5" stroke-linecap="round"/>
<path d="M736.3 69.2h0M766 69.3h0M777.1 69.7h0M788.2 67.4h0M823.1 67.5h0M898.2 67.7h0M908.1 69.2h0M911.4 66.9h0M952.2 67.9h0M966 68.3h0M992.3 68.1h0M844.1 71.8h0M874.2 71.9h0M900.4 72.3h0M943.5 71.3h0M951.2 71.6h0" stroke="#f06a18" stroke-width="5" stroke-linecap="round"/>
<path d="M710 71.3h0M839.4 71.2h0M889.4 73.8h0M970.6 71.3h0M893.7 75.3h0" stroke="#a0e040" stroke-width="5" stroke-linecap="round"/>
<path d="M713.7 72.8h0M731.3 71.5h0M758.7 73.6h0M765.9 72.4h0M794.6 73.7h0M849.7 72.5h0M885.6 71.6h0M911.2 71h0M999.8 72.9h0" stroke="#602838" stroke-width="6" stroke-linecap="round"/>
<path d="M755.6 74h0M805.1 72.5h0M808.5 72.1h0M814.2 73.1h0M904.4 73h0M914.4 73.3h0M925.2 73.1h0M940.7 73.1h0M953.9 73.9h0M979.2 71.7h0M994.4 71.9h0M1018.7 73.4h0" stroke="#602838" stroke-width="5" stroke-linecap="round"/>
<path d="M854.3 72h0M1005.7 72.2h0" stroke="#906060" stroke-width="6" stroke-linecap="round"/>
<path d="M879.6 71.7h0M930.7 73.4h0M975.1 71.2h0" stroke="#906060" stroke-width="5" stroke-linecap="round"/>
<path d="M985.3 73.4h0M708.7 75.4h0M712 75.7h0M725.9 76.1h0M743.7 76.6h0M777.4 77.3h0M816.4 77h0M847.9 78.4h0M873 77.8h0M882.2 77.6h0M948.6 77.8h0M951.2 77.5h0M977.9 76.8h0M988 76.4h0M998.3 78.2h0M1021.8 77.1h0M805.7 80.4h0M941 80.6h0" stroke="#b8e838" stroke-width="5" stroke-linecap="round"/>
<path d="M991 71.5h0" stroke="#e85a20" stroke-width="6" stroke-linecap="round"/>
<path d="M1025.5 73.9h0M700.8 77.5h0M723.6 76h0M738.7 77.5h0M782.9 76.8h0M832 75.9h0M836.8 76.7h0M876 75.6h0M888.2 78.5h0M897.4 78h0M903.1 78.1h0M911.3 77.9h0M917 77h0M922.9 76.2h0M937.2 77.9h0M941.2 78h0M992.5 78.1h0M1001.8 78.4h0M714.7 80h0M765.4 80.4h0M844 80.2h0M864.8 79.9h0" stroke="#b8e838" stroke-width="6" stroke-linecap="round"/>
<path d="M716.1 76.9h0M763.6 76.3h0M841.8 77.9h0" stroke="#e0d040" stroke-width="5" stroke-linecap="round"/>
<path d="M730.8 76.5h0M755.9 78.2h0M771.9 77.6h0M787.3 78.3h0M813.1 76.8h0M956.4 76.2h0M961.7 78.2h0M983.5 75.7h0M1006.5 76.7h0M924.7 80h0" stroke="#a07878" stroke-width="6" stroke-linecap="round"/>
<path d="M745.8 78.5h0M758.2 82.5h0M780 80.2h0M810.9 81.2h0M815.2 82.1h0M959.3 80.5h0M974.4 81.8h0M980.1 82.7h0M989.3 80.7h0M994.7 81.3h0M1015.6 82h0M711.6 86.5h0M792.9 86.4h0M814 83.9h0M978.6 84.7h0M783.5 117h0M933.5 116.7h0M711.5 118.6h0M731.7 118.9h0M757.6 119.5h0M763.7 119.4h0M792.1 120.5h0M801 121.4h0M863.9 119.4h0M876.8 120h0M953.3 119.8h0M997.1 118.8h0M748.5 123.1h0M959.3 123.7h0" stroke="#f0a0c0" stroke-width="6" stroke-linecap="round"/>
<path d="M768.7 77.2h0M793.2 75.9h0M795.9 78.1h0M806 76.7h0M863.4 76.8h0M868 77.4h0M906.9 77h0M928.4 76.7h0M1012.4 75.5h0M824.6 79.6h0M1023.8 80.5h0" stroke="#a07878" stroke-width="5" stroke-linecap="round"/>
<path d="M851.9 77.7h0M931 78.1h0M884.3 81.2h0" stroke="#e0d040" stroke-width="6" stroke-linecap="round"/>
<path d="M710.8 82.3h0M719.7 81.3h0M733.6 82h0M740.8 80.5h0M829.5 81.5h0M840.6 81.7h0M861 80.2h0M870.2 82.5h0M905.5 80.5h0M944.4 80.4h0M706.9 85.9h0M864.2 85.9h0M893.4 84.3h0M997.6 83.9h0M1008.8 84.8h0M778.6 120.8h0M833.3 119.9h0M972.2 120.2h0M988.9 120.2h0M1007 120.4h0M948.9 122.8h0M995.8 123.3h0M1024.1 123.1h0" stroke="#f0a0c0" stroke-width="5" stroke-linecap="round"/>
<path d="M723.9 80h0M794.5 81.5h0M799.8 82.7h0M1010.2 80.1h0M733 85.2h0M1012.8 86.1h0" stroke="#e8a060" stroke-width="6" stroke-linecap="round"/>
<path d="M729.6 82.6h0M755.2 81.6h0M774.7 81.1h0M783.7 80.7h0M791 82.3h0M853.7 82.8h0M889.5 81.4h0M918.7 80.5h0M949.5 82.5h0M999.4 79.8h0M717.5 85h0M723.9 86.6h0M838.5 85.2h0M857.2 84.1h0M869.4 84.2h0M907.4 85.1h0M954.1 84.6h0" stroke="#f4c0a0" stroke-width="6" stroke-linecap="round"/>
<path d="M745.3 82.1h0M834 81.6h0M880.1 81.7h0M899.9 81.5h0M915.2 82.2h0M955.4 80.1h0M965.5 80.4h0M969 82.6h0M1004.9 80.9h0M1020 81.9h0M758.6 84.5h0M916.7 83.9h0" stroke="#f4c0a0" stroke-width="5" stroke-linecap="round"/>
<path d="M768.8 80.2h0M820.7 81.7h0M850.9 81.6h0M894.1 79.7h0M928.3 80.6h0M797.1 85.5h0M1022.3 86h0" stroke="#e8a060" stroke-width="5" stroke-linecap="round"/>
<path d="M703.6 85.1h0M832.8 86.2h0M881.7 86.5h0M937.2 86.2h0M705.1 90.1h0M714.9 90.3h0M721 88.6h0M798.3 88.9h0M860.9 88.4h0M945.2 88.8h0" stroke="#f0a830" stroke-width="5" stroke-linecap="round"/>
<path d="M727.7 85.5h0M752.3 85.2h0M767.1 84.1h0M777 84h0M781.8 84.2h0M804.4 86.9h0M806.9 86.6h0M822.1 85.9h0M826.9 85.8h0M847.2 87.1h0M851.6 86.3h0M888.7 83.9h0M948.7 87.1h0M987.1 86.1h0M740.7 90.3h0M745.3 89.7h0M749.5 88.9h0M843.9 88.4h0M869.7 90.3h0M909 88.9h0M918.7 89.6h0M954.7 89.3h0M958.4 88.4h0M969.8 91.2h0M984.9 90.3h0M988.9 90.2h0M995.3 88.3h0M1000.9 90.2h0" stroke="#90e030" stroke-width="5" stroke-linecap="round"/>
<path d="M742.5 87h0M748.5 85.4h0M763.7 87h0M878.1 86.6h0M944.4 85.3h0M958.9 86.7h0M769.5 91.2h0M828.6 89.4h0M914.9 88.4h0M965.5 89h0M1014.1 89.2h0M1023.5 88.8h0" stroke="#90e030" stroke-width="6" stroke-linecap="round"/>
<path d="M772.5 84.7h0M816.7 85.6h0M971.7 87h0M775.1 88.9h0" stroke="#d0e840" stroke-width="5" stroke-linecap="round"/>
<path d="M841.9 85.4h0M929.2 86.4h0M962.6 85.9h0M983.7 86.1h0M993.3 86h0M724.3 89h0M729.3 89.1h0M763.7 89h0M778.2 88.8h0M834.8 89.7h0M875.9 90.8h0M878.7 90h0M939.8 88.2h0M980.3 88.8h0" stroke="#f0a830" stroke-width="6" stroke-linecap="round"/>
<path d="M871.8 85.5h0M901.8 85h0M922.7 85.4h0M932.8 86.6h0M968.1 86h0M1016.6 86.6h0M734.3 89.4h0M761 91h0M790.6 88.7h0M814.7 89.7h0" stroke="#d0e840" stroke-width="6" stroke-linecap="round"/>
<path d="M754.8 91.2h0M784.8 90.6h0M793.7 91.1h0M824.1 91.3h0M865.8 91.3h0M885.2 89.9h0M890.6 90.4h0M898.8 91.3h0M948.2 91.4h0M1019.7 88.4h0M706.9 94.6h0M718.1 94h0M743.7 94.2h0M772.2 94.9h0M852.8 95.2h0M857.3 93.2h0M911.2 92.8h0M917.8 93.3h0M956.7 93h0M992.7 93.5h0M1007.8 95.4h0M1011.3 94.7h0M1016.4 93.2h0" stroke="#f0b8a0" stroke-width="5" stroke-linecap="round"/>
<path d="M926 89.4h0M1003.8 88.7h0M753.9 94.9h0M776.2 94.3h0M861.3 95.4h0M881.8 94.8h0M893.5 94.3h0M897.7 92.6h0M923.4 94.4h0M983 95h0M1022.9 95.5h0" stroke="#f0b8a0" stroke-width="6" stroke-linecap="round"/>
<path d="M712.6 93.7h0M724.1 97.6h0M843.9 97.9h0M901 98.5h0M833.6 101.7h0" stroke="#8a3050" stroke-width="6" stroke-linecap="round"/>
<path d="M746.6 93.6h0M769.2 94h0M791.5 93.7h0M808.7 94.9h0M711.4 98.7h0M715.3 99.1h0M728.9 97.4h0M745.1 99.7h0M868.8 97.3h0M884.4 98.6h0M921.3 98.2h0M936.3 97.8h0M964.7 97h0M968.7 97.6h0M979 98.7h0M1011.1 97.1h0M871 101.8h0" stroke="#805060" stroke-width="5" stroke-linecap="round"/>
<path d="M798.5 95.3h0M818.9 95.2h0M902.9 95.5h0M967.9 95.3h0M986.8 93.8h0M733.5 99h0M811.4 99.8h0M910 97.5h0M953.9 97.3h0M989.4 97.3h0M993.6 97.3h0M962 101.2h0" stroke="#8a3050" stroke-width="5" stroke-linecap="round"/>
<path d="M842.1 95.6h0M860.5 99.4h0M960.2 98.4h0M975.4 97.5h0M1026.4 98.5h0" stroke="#606040" stroke-width="6" stroke-linecap="round"/>
<path d="M873.6 94.9h0M706 99.2h0M740.2 99.6h0M769.4 98.8h0M793.7 99.3h0M829.9 96.9h0M881.4 99.9h0M984.7 98.9h0" stroke="#f0a0b0" stroke-width="5" stroke-linecap="round"/>
<path d="M889.2 95.6h0M952.7 95.6h0M750.8 96.8h0M755.4 98.1h0M775.9 99.3h0M799.2 99.1h0M804.1 99.1h0M823.8 99.2h0M834.8 98.3h0M838.8 97.4h0M855 98.8h0M890.1 98.8h0M904.2 99.9h0M916.4 99.8h0M925.2 99.7h0M938.8 99.9h0M998.6 98.8h0M1015.5 97.1h0M1019.6 97.5h0" stroke="#805060" stroke-width="6" stroke-linecap="round"/>
<path d="M929 95.2h0M780.3 97.6h0M816 98.3h0M866.2 99.9h0M1005 99.1h0" stroke="#606040" stroke-width="5" stroke-linecap="round"/>
<path d="M721.3 99h0M723.1 102.3h0M731.3 103.4h0M747.5 101.7h0M751.7 103h0M762.5 103.6h0M772.3 101.8h0M783.1 103.1h0M802.3 102.5h0M821 102.3h0M841.6 101.5h0M848.9 101.5h0M858.9 102.6h0M868.2 101.9h0M882.5 102.7h0M892.1 104.2h0M908.4 101.8h0M926.4 102.9h0M952.6 103.7h0M976.7 103.4h0M1013.2 101.7h0M1017.4 103.1h0M1023.4 101.1h0M749.4 105.7h0M804.9 105.5h0M840.9 106.8h0M860 105.8h0M891 105.7h0M959.4 106.4h0" stroke="#f4a0b0" stroke-width="5" stroke-linecap="round"/>
<path d="M783.7 99.8h0M716.1 102.1h0M728.2 101.4h0M767.2 102h0M791.3 102.2h0M811.6 102.5h0M817.2 102.5h0M851.1 102.3h0M887 102.2h0M901.5 102.4h0M921.4 103.2h0M932.6 103.3h0M938.5 102.5h0M1006.5 102.8h0M719.2 105.9h0M730.9 105.5h0M776.4 105.6h0M884.4 106.8h0M949.1 105.9h0" stroke="#f4a0b0" stroke-width="6" stroke-linecap="round"/>
<path d="M791.2 98.6h0M818.9 99.2h0M849.1 99.7h0M875.7 98.6h0M928.7 99.5h0M950.6 97.3h0" stroke="#f0a0b0" stroke-width="6" stroke-linecap="round"/>
<path d="M946.3 98.9h0M702.5 103.2h0M738.6 102.2h0M742.8 103.9h0M756.5 103.2h0M787.6 104.2h0M797.5 102h0M808.8 102h0M863.5 103.6h0M876.9 102.7h0M911.6 101.2h0M943.5 104.2h0M948.9 104.1h0M957.6 103.3h0M972.3 104.3h0M981.4 103.9h0M725.1 106.8h0M864.2 105.7h0M869.3 106.2h0M974.5 106.2h0M1010.5 105.8h0" stroke="#f0b0a0" stroke-width="6" stroke-linecap="round"/>
<path d="M706.4 102.6h0M713.9 103h0M776.6 103.4h0M826.6 103.1h0M836.1 102.1h0M898.5 102.2h0M916.6 102.6h0M966.9 101.6h0M988.9 101.7h0M992.2 103.3h0M997.5 102.7h0M1001.6 102.2h0M715.1 106.7h0M759.6 105.4h0M833.9 106.3h0M911.2 105.7h0M920.7 107.5h0M966.2 105.4h0M1014 105.8h0" stroke="#f0b0a0" stroke-width="5" stroke-linecap="round"/>
<path d="M705.9 105.8h0M735.8 106.4h0M780 108.1h0M788.8 108.2h0M800.8 107.7h0M851.3 106.8h0M895.8 107h0M930.1 107.2h0M981.1 105.8h0M1005.9 108.4h0M747.3 110.5h0M776.3 112.3h0M803.1 110.2h0M806 110.8h0M861.6 109.8h0M871.2 112.1h0M946.1 109.9h0M988.1 110.4h0" stroke="#e0f030" stroke-width="5" stroke-linecap="round"/>
<path d="M709.9 108h0M738.8 106.9h0M743.9 107.7h0M754.7 106.9h0M795.5 107.4h0M809.5 107.5h0M824.5 107.1h0M829.6 108.5h0M874.8 108.4h0M880.4 107.6h0M901.3 108.5h0M726.4 110.9h0M818.4 110.4h0M833.1 111.9h0M842.9 110.1h0M847 112.2h0M856.3 110h0M886.9 110.2h0M896.5 111.8h0M931.9 111.6h0M938.4 110.2h0M962.2 109.9h0M967.8 109.8h0M977.4 112.3h0M1000.6 112.9h0M1010.7 111.3h0M1017.6 110.5h0" stroke="#90e830" stroke-width="6" stroke-linecap="round"/>
<path d="M770.9 105.5h0M785.3 107.5h0M815.8 105.8h0M819.1 106.6h0M846.3 108.4h0M853.9 108.4h0M915.7 106.9h0M955.8 105.9h0M968.7 106.2h0M986 107.2h0M1025.5 107.9h0M702 109.8h0M707.3 112.2h0M715.6 110.8h0M773.2 110.7h0M798.4 112.2h0M867.7 111.4h0M881.3 112.5h0M927.5 112.7h0" stroke="#90e830" stroke-width="5" stroke-linecap="round"/>
<path d="M904.2 107.4h0M924.7 106.8h0M935 108.6h0M941.1 108.4h0M944.7 106.4h0M990.7 106h0M996 108.4h0M999.6 105.7h0M752.2 110.8h0M813 110.1h0M838.2 110.1h0M971.1 110.3h0" stroke="#e0f030" stroke-width="6" stroke-linecap="round"/>
<path d="M712.1 111.8h0M731.8 111.3h0M742.6 112.5h0M957.6 111.8h0M724.2 115.1h0M770.6 114.6h0M830.6 115.9h0M954.9 115.1h0M1008.4 115.4h0" stroke="#f4b0b0" stroke-width="5" stroke-linecap="round"/>
<path d="M723.5 111.9h0M826.6 112.9h0M876.7 111.2h0M951.9 112.2h0M982.6 112.8h0M708.5 116.3h0M714 115.6h0M745.6 116.9h0M753.9 116.2h0M799.6 116.6h0M803.4 115.6h0M833.6 114.1h0M840.2 116.9h0M853.3 116.3h0M885 115.8h0M895.1 116.4h0M920.8 114h0M925.9 114.2h0M945.9 115.5h0M948.9 115.3h0M964.4 114.4h0M979.5 114.8h0M994.8 117.1h0M999.3 116.8h0M1004.2 114.6h0M1020.3 116.5h0M1024 114.5h0M742.7 118.8h0M816.6 118.3h0" stroke="#f0a0c8" stroke-width="6" stroke-linecap="round"/>
<path d="M737.4 110.1h0M781.6 111.6h0M820.9 112.3h0M1021.2 111.8h0M739.1 115.4h0M880.4 116.2h0M900.2 116.1h0M974 115.6h0M772.2 119.3h0" stroke="#d0a0d0" stroke-width="6" stroke-linecap="round"/>
<path d="M755.7 112.9h0M891.7 112.6h0M916.8 111.2h0M791.1 114.3h0M929.6 116.5h0M969.9 114.4h0" stroke="#d0a0d0" stroke-width="5" stroke-linecap="round"/>
<path d="M767.5 111.2h0M903.3 112.6h0M907.5 112.6h0M997.9 110.8h0M758.8 116.1h0M794.4 116.2h0M825.4 116.3h0M848.4 115.3h0M864.6 114.8h0M938.4 114.5h0M990.5 115.3h0M887.3 118.4h0" stroke="#f4b0b0" stroke-width="6" stroke-linecap="round"/>
<path d="M791.7 111.4h0M851.1 112.5h0M913 112.4h0M921.2 112.8h0M942.1 110.7h0M991.5 112h0M1006.5 112.2h0M703.5 115.1h0M734.3 114.4h0M763.3 116.3h0M775.5 114.7h0M860.6 115.6h0M871.2 115.6h0M874.5 114.4h0M891.1 116.6h0M904.5 114.4h0M909.5 115.3h0M914.4 116.3h0M984.2 114.7h0M1013.9 115h0M852.6 118.5h0M943 118.5h0" stroke="#f0a0c8" stroke-width="5" stroke-linecap="round"/>
<path d="M719.9 116.2h0M750 116.8h0M703.2 121.4h0M867 118.7h0M1023.1 120.3h0M773.8 125.3h0" stroke="#906070" stroke-width="5" stroke-linecap="round"/>
<path d="M729.1 116.7h0M716.7 119.2h0M721.5 119.4h0M737.3 121.2h0M751.9 120.4h0M767.6 120.8h0M782 119.5h0M807.6 119.6h0M871.6 121.4h0M893.4 121h0M896.3 121.5h0M903.5 118.7h0M921.7 121.4h0M931 120.9h0M963.5 120.1h0M982.7 120.7h0M1002.8 118.6h0M718.6 122.6h0M805.1 123.9h0M838.5 123h0M843.4 123.3h0M893.9 124.3h0M964 123h0" stroke="#704050" stroke-width="5" stroke-linecap="round"/>
<path d="M779.2 117.1h0M959.2 116.3h0M746.3 120.5h0M798.6 119.2h0M822.5 118.8h0M828.8 119.2h0M838.3 120.1h0M842.4 120.6h0M847 120.9h0M858.4 121.2h0M883 120.7h0M908.8 118.9h0M913.9 120.6h0M936.6 120.2h0M966.4 120.1h0M978.4 119.1h0M992.2 119h0M1013 119.8h0M1018.6 120.1h0M705.3 124h0M736 123.6h0M756.2 123.5h0M810.5 122.8h0M854.1 122.6h0M883.7 123.8h0M903.7 122.7h0M944.8 122.7h0M981.3 122.7h0" stroke="#704050" stroke-width="6" stroke-linecap="round"/>
<path d="M706.3 121h0M727.9 120.3h0M786.9 119.4h0M812.9 120.5h0M927.7 119.5h0M958.9 120h0M910.2 123.4h0" stroke="#906070" stroke-width="6" stroke-linecap="round"/>
<path d="M714.8 123.6h0M724 124.6h0M738.7 125.2h0M746.4 124h0M765.6 123h0M768.7 122.6h0M780.8 125.1h0M890.3 124.6h0M915 124h0M920.3 124.9h0M929.7 124.2h0M976.3 124.4h0M998.7 125.1h0M703.1 127.4h0M737.5 127h0M747.9 127.7h0M756.3 127.6h0M792.4 127.9h0M827.6 129.9h0M843.1 127h0M851.5 128.6h0M876.1 128.4h0M886.5 129.2h0M908.6 128.5h0M913 128.4h0M918.5 127.9h0M931.4 129h0M966.8 128.1h0M991.4 129.3h0M998.1 129.9h0M1017.3 128.3h0M718.2 131.5h0M724 131.5h0M745.1 131.5h0M754.2 131.5h0M764.6 131.5h0M773.4 131.3h0M784.8 131.5h0M833.1 131.5h0M848.9 131.5h0M873.4 131.5h0M880.3 131.5h0M890.1 131.5h0M893.3 131.5h0M913.1 131.5h0M939 131.5h0M949.5 131.5h0M979.1 131.5h0M985.8 131.5h0M1020.7 131.5h0" stroke="#a8e830" stroke-width="6" stroke-linecap="round"/>
<path d="M730 124.6h0M815.2 125.2h0M823.6 124.2h0M835.8 125.7h0M924.7 124.4h0M940.4 123.4h0M985.3 123.8h0M1004.8 125.5h0M708.9 129.9h0M723.9 127.8h0M728.7 128.3h0M731.2 127.2h0M798.4 128.8h0M802.6 128.5h0M833.8 128.4h0M856.2 129.5h0M903.9 127.8h0M922.6 128.1h0M941.7 129.6h0M952.6 129.1h0M988.9 128.4h0M1008.9 127.8h0M705.7 131.5h0M710.3 131.5h0M733.3 131.5h0M779.3 131.5h0M803.4 131.5h0M818.7 131.5h0M839.5 131.5h0M900.5 131.5h0M908.7 131.5h0M975.3 131.5h0M988.7 131.5h0M1009.5 131.5h0M1014.8 131.5h0M1025 131.5h0" stroke="#e8f020" stroke-width="5" stroke-linecap="round"/>
<path d="M761.3 122.8h0M783.6 125.7h0M795 124.8h0M821 123.1h0M830.3 124.4h0M858.8 125.5h0M865.4 124.6h0M870.9 122.7h0M1011 123.1h0M1021 124.6h0M743.5 127.9h0M768.7 129.4h0M773.3 128.9h0M787.7 128.3h0M808.5 127.7h0M811 128.9h0M848.5 128.3h0M871.3 129.7h0M883.6 127.1h0M892.9 127.9h0M947.4 129.1h0M958.8 128h0M973.8 127.1h0M978.6 128.6h0M1021.4 127.4h0M739.1 131.5h0M749.9 131.5h0M759.2 131.5h0M788.7 131.5h0M794.6 131.5h0M798.8 131.5h0M813.6 131.5h0M865.1 131.5h0M870 131.5h0M884.6 131.5h0M943.6 131.5h0M968.2 131.5h0" stroke="#e8f020" stroke-width="6" stroke-linecap="round"/>
<path d="M788.6 125.8h0M801.1 124.8h0M849.4 123.8h0M874.4 123.1h0M881.2 123.8h0M900.4 125.4h0M953.8 123.8h0M989.1 125.5h0M1013.7 124.1h0M713.7 129.3h0M716.3 128.3h0M753.2 129.4h0M763.9 126.9h0M776.3 127.2h0M782.7 130h0M816.4 129.1h0M821.6 127.2h0M837.5 128.9h0M863.1 129.7h0M896.6 129.2h0M938.2 128.8h0M962 127.2h0M982.9 129h0M1001.5 129h0M1012 129.9h0M715.9 131.5h0M728.9 131.5h0M809.6 131.5h0M823.1 131.3h0M845.2 131.5h0M854.9 131.5h0M905.2 131.5h0M923.7 131.4h0M929.6 131.5h0M934.9 131.5h0M954.9 131.5h0M960.6 131.5h0M995.5 131.5h0M1000.1 131.5h0M1005.3 131.5h0" stroke="#a8e830" stroke-width="5" stroke-linecap="round"/>
<rect x="701" y="133" width="324.5" height="70" fill="url(#anode)"/>
<rect x="700.8" y="40.8" width="326" height="163.4" fill="none" stroke="#000" stroke-width="2.1" stroke-dasharray="2.1 2.4"/>
<line x1="600" y1="137.8" x2="700.5" y2="41" stroke="#000" stroke-width="1.5" stroke-dasharray="3 2.5"/>
<line x1="600" y1="137.8" x2="700.5" y2="204" stroke="#000" stroke-width="1.5" stroke-dasharray="3 2.5"/>
<path d="M700.5,40.5 C697.5,41.5 697,45.5 697,50.5 L697,82.5 C697,86.5 694.5,89 693.5,89.5 C694.5,90 697,92.5 697,96.5 L697,124.5 C697,129.5 697.5,133.5 700.5,134.5" fill="none" stroke="#000" stroke-width="1.7"/>
<rect x="699.8" y="470" width="322.7" height="33" fill="url(#anode)"/>
<rect x="696.3" y="346" width="328.5" height="159.5" fill="none" stroke="#000" stroke-width="2.1" stroke-dasharray="2.1 2.4"/>
<line x1="596" y1="443.8" x2="696" y2="346" stroke="#000" stroke-width="1.5" stroke-dasharray="3 2.5"/>
<line x1="596" y1="443.8" x2="696" y2="505" stroke="#000" stroke-width="1.5" stroke-dasharray="3 2.5"/>
<path d="M697.5,356.5 C693.5,357.5 693,361.5 693,366.5 L693,405.4 C693,409.4 690.5,411.9 689.5,412.4 C690.5,412.9 693,415.4 693,419.4 L693,460.6 C693,465.6 693.5,469.6 697.5,470.6" fill="none" stroke="#000" stroke-width="1.7"/>
<polygon points="700,470 703,468 709,457 716,449.5 722,453 727,462 730,468 733,466 729,445 724,420 724,398 727,386 730,373 737,370.5 741.7,378.7 750,380 758.5,380 757,387 751.5,397 751,426 754,450 758,468 761,468 762,440 762.7,419.4 769.7,413.6 776.6,414.7 781,431 784,459 787,468 801,468 802,460 804.6,435.7 806.5,392 808.5,376 814,363.5 822,362.4 824,377.5 832.5,417 839,461 841,468 846.8,468 846.8,440 846.8,379.8 856,379.4 863,388 873.5,382 889.8,381 881.7,390.3 875.9,407.7 877,440 879.3,468 882.8,468 882.8,417 889.8,416 901.5,435.7 915.4,468 930.5,468 930.5,430 931.7,398.4 941,395 952.6,393.8 951.5,407.7 950.5,440 949.2,468 965.4,468 971.3,426.4 980.6,393.8 988.7,392.6 992.2,403 993.4,426.4 1003.8,454.3 1006.2,467 1022.5,468 1022.5,471 699.8,471" fill="#cdcbca"/>
<path d="M701.6 469.4h0M728 464.8h0M731.6 467.1h0M761.7 467.5h0M761.1 466.4h0M786.1 465h0M878.1 462.8h0M880 466.9h0" stroke="#7ed820" stroke-width="5" stroke-linecap="round"/>
<path d="M704.4 465.1h0M756.9 464.1h0M839.6 465.3h0" stroke="#c8e840" stroke-width="5" stroke-linecap="round"/>
<path d="M706.2 461.8h0M722.6 455.4h0M723.6 456.7h0M727.8 437.6h0M725.2 425.5h0M754.3 450.8h0M762.4 444.3h0M761.8 434.9h0M761.8 423.5h0M779.8 425.2h0M778.2 432.1h0M808.6 441.4h0M839.7 461.3h0M847.5 440.6h0M846.6 437.9h0M877.1 425.7h0M877.9 452.4h0M878.5 455h0M874.8 460.1h0M883.3 458.3h0M886.5 451.8h0M885.6 440.3h0M882 432.5h0M901.9 435.2h0M901.6 443.7h0M933.4 458.3h0M931.3 428.4h0M950 429.9h0M951 439.4h0M950 443.5h0M967.9 448.1h0M968.5 447h0M971.6 423.9h0M992.6 420.3h0M999.8 440.6h0" stroke="#e8e840" stroke-width="5" stroke-linecap="round"/>
<path d="M709.5 458.5h0M731.1 459.7h0M754.2 444h0M754.1 464.7h0M782 446.2h0M779 445.6h0M801.9 462.6h0M804.1 436.9h0M805.3 422.2h0M805.3 419.2h0M835 433.8h0M831.1 435.5h0M837.7 446.8h0M845.9 418.2h0M876.1 415.2h0M876.7 437.3h0M876.7 442.4h0M882.3 457.8h0M882.6 437.6h0M883.3 429.6h0M887.3 417.4h0M891.3 417.9h0M913.8 464.8h0M917.9 468.7h0M931.3 463.9h0M929.9 446.8h0M933 441.5h0M950.1 442.3h0M945 457.8h0M949.4 468.7h0M969.3 438.7h0M1007.6 466.4h0M1021.4 468.3h0" stroke="#a0e030" stroke-width="5" stroke-linecap="round"/>
<path d="M709.9 456h0M731.6 458.4h0M730.8 454.3h0M726.9 420h0M726.8 413.2h0M745.4 383.5h0M751.9 407.3h0M751.8 422.4h0M751.6 422.7h0M748.5 423.6h0M754.9 456.8h0M761 443.1h0M777.2 416.2h0M778.6 451h0M784.2 452.6h0M783.9 459.6h0M802.7 457.1h0M803.2 456h0M803.2 443.6h0M809.1 431.2h0M806.7 406.7h0M826.7 389h0M824 390.5h0M833.1 425.4h0M836.6 449.6h0M847 461.9h0M847.1 422.8h0M848.9 418h0M849.8 393.7h0M869.7 383.9h0M878.4 447.2h0M886.7 461.5h0M886.7 447.9h0M883.2 442.5h0M885.6 432h0M885.4 416.4h0M898.9 436.8h0M903.7 442.9h0M907.8 450.2h0M905 454.3h0M933.4 457.1h0M930.5 424.8h0M930.8 422.6h0M930.3 416.7h0M952.1 406h0M948.7 406.7h0M950.3 420h0M949.3 448.4h0M949 457.2h0M966.4 460.1h0M967.1 452.2h0M971.2 447.8h0M977 421.5h0M989.9 419.7h0M995.2 432.3h0" stroke="#c8e040" stroke-width="5" stroke-linecap="round"/>
<path d="M713.7 452.7h0M720.4 457.5h0M727.5 442.4h0M731.6 437.3h0M727.5 434.6h0M752.1 431.9h0M764.3 461.6h0M764.1 435.2h0M777.9 419.1h0M780.7 431.4h0M832.2 415.5h0M832.6 419.2h0M835.8 439.7h0M846.6 434.8h0M848.6 421.8h0M873 426.2h0M883 452.5h0M883.1 447.4h0M892.6 419.9h0M893.9 424h0M902.3 439.3h0M951.3 434.3h0M949.4 452.3h0M944.9 462.5h0M973 419.7h0M974.5 415.3h0" stroke="#f0a070" stroke-width="5" stroke-linecap="round"/>
<path d="M713.6 452.8h0M751.9 450.5h0M766.7 422h0M806.3 456.6h0M849.2 437.4h0M878.4 449.1h0M899.3 431.7h0M931.4 438.8h0M949.4 456.3h0M969.9 441.8h0" stroke="#e8e840" stroke-width="4" stroke-linecap="round"/>
<path d="M715.4 455.7h0M725.4 461h0M731.8 446.6h0M758 464.5h0M760.4 461.2h0M761.8 450.9h0M790.5 468.8h0M803.8 446.9h0M849.5 433.8h0M845.9 422.8h0M875.5 419.1h0M873 435.9h0M947.7 444.1h0M951.9 468.3h0M957.3 467.8h0M965.9 462.4h0M970.1 435.8h0M990.2 427.2h0M1003.9 453.7h0M1000.3 454.6h0M1012.9 467.5h0" stroke="#a0e030" stroke-width="4" stroke-linecap="round"/>
<path d="M719.1 450.5h0M834.1 428.1h0M846.9 448.5h0M885.4 381.1h0M901.8 435.1h0M931 447.8h0" stroke="#c8e040" stroke-width="6" stroke-linecap="round"/>
<path d="M721.9 453.2h0M720.2 458.2h0M729.4 447.9h0M728.9 441.1h0M747.4 415.5h0M762.9 430.9h0M761.9 427.9h0M875 448h0M887.2 419.1h0M890 421.7h0M932.8 446.6h0M930.3 442.4h0M948.9 461.9h0M967.1 454.7h0M974.1 424.4h0" stroke="#f4a0c0" stroke-width="4" stroke-linecap="round"/>
<path d="M719.5 456.7h0M731.3 440.9h0M723.4 409.6h0M755.3 384.8h0M751.8 432.5h0M809 375.6h0M827.9 411.1h0M853.5 380.3h0M877.1 390.8h0M899 437h0M930.5 432.2h0M935.4 402.2h0M947.1 396.7h0M948.8 403h0M977.9 401.2h0" stroke="#f06a20" stroke-width="4" stroke-linecap="round"/>
<path d="M732.8 462.3h0M881.9 468.4h0" stroke="#c8e840" stroke-width="6" stroke-linecap="round"/>
<path d="M733.2 454.4h0M733.1 450.3h0M725.7 427.6h0M728.8 427.7h0M724.1 420.9h0M752.2 429.3h0M751.9 437.3h0M755.1 456.9h0M762.2 459.5h0M761.8 438h0M763.5 421h0M780.7 432.6h0M780.9 437.6h0M804.7 426.9h0M834 423.3h0M833.3 449.3h0M838.3 455h0M835.9 460.5h0M835.8 462.8h0M850 457.9h0M846.7 455.1h0M847.3 453.3h0M850.5 425.8h0M876.5 428.2h0M877.4 432.8h0M886.1 458.4h0M886.1 443.7h0M882.9 425.7h0M883.4 417.9h0M884.9 419.6h0M906.8 445.9h0M931.2 458.4h0M929.7 458h0M930.7 433.9h0M933.9 433h0M951.1 427.2h0M971.5 430.6h0M971.2 428.9h0M993.1 417.7h0M992.6 426.4h0M993.7 428.8h0M998.3 440.9h0" stroke="#f4a0c0" stroke-width="5" stroke-linecap="round"/>
<path d="M730.8 451.4h0" stroke="#f06a20" stroke-width="6" stroke-linecap="round"/>
<path d="M724.4 416.1h0M727.9 417h0M756.9 379.3h0M748.4 399.2h0M750.6 416.9h0M761.7 449.6h0M779 436.6h0M782.5 442.3h0M825.4 398.6h0M839.1 460h0M847.2 457.7h0M847 432.2h0M850.7 422.7h0M864.3 387.1h0M880.5 392.6h0M873.7 412.4h0M875.9 449.2h0M887.4 415.8h0M908.5 453.1h0M931.9 401.2h0M947.9 410.1h0M950.3 423.3h0M977.3 404.6h0M989.4 418h0M1001.7 450.9h0" stroke="#ffffff" stroke-width="5" stroke-linecap="round"/>
<path d="M723.7 412.7h0M726.2 398.1h0M729 390.3h0M727.6 384.5h0M753.1 391.5h0M772 413.5h0M774.5 414.2h0M807.8 381.2h0M812.8 373.3h0M827.4 394.1h0M823.7 394h0M831.1 409.4h0M846.5 411.6h0M847.1 393.3h0M846 384.8h0M847.7 379.2h0M857.6 380.6h0M861.6 386.9h0M871.6 386.1h0M873 383h0M878.5 385.8h0M889.1 381.6h0M932.4 404.8h0M942.9 394.9h0M948.8 394.2h0M976 411.2h0M988.5 392.7h0" stroke="#f4a0b0" stroke-width="5" stroke-linecap="round"/>
<path d="M726 409.6h0M729 378h0M734.7 374.7h0M757.6 382.6h0M812.3 377.2h0M828 400.7h0M847.8 381.9h0M857.4 386h0M876.3 406.3h0M876.5 411.9h0M939.4 398.7h0" stroke="#e8301c" stroke-width="4" stroke-linecap="round"/>
<path d="M723.5 407.8h0M728.8 402.5h0M723.7 396.5h0M733.5 371.9h0M733.9 371.9h0M739.7 374.9h0M750.7 382.7h0M754.1 382h0M752.6 394.9h0M751.9 399.7h0M749.3 407.5h0M751.3 408.4h0M750.6 449.2h0M762.1 458.1h0M777.5 438.3h0M802.3 450.5h0M805.5 430.4h0M809.3 413.5h0M806.8 398.5h0M809.6 398.7h0M808.4 395.1h0M807.7 378.1h0M813 366.5h0M823.1 364.6h0M824.3 382.8h0M826.1 385.9h0M829 397.1h0M846.4 444.9h0M853.4 383.5h0M886.3 385.9h0M884.6 383.7h0M873.5 405.3h0M876.6 435.1h0M882.9 462h0M883.5 444.2h0M897.3 427.2h0M929.9 451.6h0M931.4 409.8h0M931.8 407.7h0M947.7 394h0M951.2 417.9h0M975.1 429.4h0M979.9 396.1h0M981.4 393.3h0M991.9 409.4h0M993.9 436.3h0M1000.1 444.9h0" stroke="#f06a20" stroke-width="5" stroke-linecap="round"/>
<path d="M724.7 402.2h0M728 402h0M725.4 389.5h0M725.3 390.2h0M728 390.4h0M737.3 371.5h0M735.5 373.3h0M745.9 379.8h0M750.8 393.2h0M750.9 400.1h0M768.6 414.6h0M805.7 412.9h0M806.2 394.8h0M806.8 391h0M811.2 368.9h0M823.3 368.2h0M823.4 371.1h0M824.6 375.3h0M830.7 409.9h0M846.8 413.5h0M849.5 407.6h0M846 389.5h0M860.1 383.7h0M877.6 382.4h0M887.5 380.3h0M881.1 393.5h0M877.1 402.7h0M931.2 413.9h0M948.3 396.1h0M951.6 402.3h0M951.5 409.5h0M980 405.4h0M980.1 401.6h0M981.4 396.7h0M991.6 405.4h0" stroke="#e8301c" stroke-width="5" stroke-linecap="round"/>
<path d="M723.9 401.5h0M757.1 387.2h0M755 392.7h0M823.3 377.6h0M820.4 383.3h0M877.1 397h0M873.9 402.2h0M873.6 412.6h0M935.3 407.9h0M939.1 394.8h0" stroke="#f0b090" stroke-width="4" stroke-linecap="round"/>
<path d="M729.6 378h0M750.9 379.1h0M771 417.8h0M805.9 407.3h0M805.2 401h0M808.2 384.9h0M846.6 398.1h0M846.5 397.3h0M879.5 398h0M989 396.4h0" stroke="#f0b090" stroke-width="5" stroke-linecap="round"/>
<path d="M744.5 378.4h0M830.2 403.5h0" stroke="#f0b090" stroke-width="6" stroke-linecap="round"/>
<path d="M756.4 381.8h0M809.8 390.5h0M811.4 382.5h0M814.6 363.5h0M846.9 381.4h0M883.2 388.2h0M952.1 396.1h0M952.2 399.4h0M979.3 412.6h0M978.2 402.4h0M986.4 397.4h0M989.1 396.8h0" stroke="#f4a0b0" stroke-width="4" stroke-linecap="round"/>
<path d="M758.8 382.6h0M975.9 412.7h0M991.9 399.1h0" stroke="#f4a0b0" stroke-width="6" stroke-linecap="round"/>
<path d="M750.7 415.6h0M782.1 450h0" stroke="#f0a070" stroke-width="6" stroke-linecap="round"/>
<path d="M747.9 432.8h0M766.2 445.2h0M778.3 432.6h0M834.5 434.3h0M833.4 439.3h0M837.3 454.1h0M886.4 429h0M910.4 458.9h0M950.8 415.4h0M947.6 414.9h0M997.5 435.9h0" stroke="#f0a070" stroke-width="4" stroke-linecap="round"/>
<path d="M752.9 441.6h0M753.8 448.9h0M782.3 436.7h0M805.7 415.3h0M846.2 407.5h0M846.5 400.7h0M876 413.2h0M879 459.3h0M882.2 423h0M910.6 462.5h0M948.7 417.5h0M992.2 434.3h0M998.6 452.6h0M1005.3 458h0M1004.3 457.9h0" stroke="#c8e040" stroke-width="4" stroke-linecap="round"/>
<path d="M764.6 419h0M847.6 425.8h0" stroke="#a0e030" stroke-width="6" stroke-linecap="round"/>
<path d="M773.8 417.5h0M805.6 433h0M836.6 441.7h0M882.8 439.4h0M885.5 423.6h0M933 434h0M946.7 429.4h0M992.7 410.8h0" stroke="#ffffff" stroke-width="4" stroke-linecap="round"/>
<path d="M785.9 463.7h0M882.8 465.6h0M966.5 466.2h0" stroke="#f0a0c0" stroke-width="5" stroke-linecap="round"/>
<path d="M797.5 467.5h0M846.8 468.1h0M915.3 467h0M1006.1 462.9h0M1014 467.6h0" stroke="#7ed820" stroke-width="4" stroke-linecap="round"/>
<path d="M801.6 465.3h0M910.4 466.8h0M930.9 466.7h0M1023.1 469.3h0" stroke="#c8e840" stroke-width="4" stroke-linecap="round"/>
<path d="M804.9 441.3h0M913 460.4h0" stroke="#ffffff" stroke-width="6" stroke-linecap="round"/>
<path d="M810 372.6h0M819.7 361.9h0M819.4 365.5h0M821 371.7h0" stroke="#f09a40" stroke-width="5" stroke-linecap="round"/>
<path d="M847.5 466.7h0" stroke="#f0a0c0" stroke-width="4" stroke-linecap="round"/>
<path d="M880.7 381.2h0M935.5 396.3h0" stroke="#e8301c" stroke-width="6" stroke-linecap="round"/>
<path d="M923 468.3h0M928 468h0" stroke="#90dc28" stroke-width="5" stroke-linecap="round"/>
<path d="M962.7 467.8h0" stroke="#90dc28" stroke-width="4" stroke-linecap="round"/>
<path d="M49.4 770.4L71.6 769.9M49.4 770.4L38.4 788.8M71.6 769.9L82.6 788M82.6 788L71.6 806.4M82.6 788L104.8 787.6M71.6 806.4L49.4 806.9M71.6 806.4L82.6 824.5M49.4 806.9L38.4 788.8M104.8 787.6L115.8 805.6M104.8 787.6L115.8 769.1M115.8 805.6L104.8 824.1M115.8 805.6L138 805.2M104.8 824.1L82.6 824.5M104.8 824.1L115.8 842.1M115.8 769.1L138 768.7M138 768.7L149 786.7M149 786.7L138 805.2M149 786.7L171.1 786.3M138 805.2L149 823.2M149 823.2L138 841.7M149 823.2L171.1 822.8M138 841.7L115.8 842.1M171.1 786.3L182.2 804.3M171.1 786.3L182.2 767.8M182.2 804.3L171.1 822.8M182.2 804.3L204.3 803.9M171.1 822.8L182.2 840.8M182.2 767.8L204.3 767.4M204.3 767.4L215.4 785.5M215.4 785.5L204.3 803.9M215.4 785.5L237.5 785M204.3 803.9L215.4 821.9M215.4 821.9L204.3 840.4M215.4 821.9L237.5 821.5M204.3 840.4L182.2 840.8M237.5 785L248.6 803.1M237.5 785L248.6 766.6M248.6 803.1L237.5 821.5M248.6 803.1L270.7 802.7M248.6 766.6L270.7 766.2M270.7 766.2L281.8 784.2M281.8 784.2L270.7 802.7M138 768.7L142.9 760.4M182.2 767.8L177.2 759.7M82.6 824.5L77.7 832.8M237.5 821.5L242.5 829.6M147.6 748.8L134.9 729.8M134.9 729.8L148.7 710.7M148.7 710.7L134.9 691.6M134.9 691.6L146.3 671M146.3 671L155.9 662.4M155.9 662.4L164.6 640.3M164.6 640.3L174.2 630.6M174.2 630.6L181.9 608.5M172 749.9L178.3 741.4M178.3 741.4L179.4 718.1M179.4 718.1L196.3 708.6M196.3 708.6L218.6 709.6M218.6 709.6L233.4 702.2M233.4 702.2L256.7 702.2M256.7 702.2L272.6 695.9M272.6 695.9L293.7 694.8" stroke="#7a5a44" stroke-width="2.8" stroke-linecap="round" fill="none"/>
<path d="M49.4 770.4L71.6 769.9M49.4 770.4L38.4 788.8M71.6 769.9L82.6 788M82.6 788L71.6 806.4M82.6 788L104.8 787.6M71.6 806.4L49.4 806.9M71.6 806.4L82.6 824.5M49.4 806.9L38.4 788.8M104.8 787.6L115.8 805.6M104.8 787.6L115.8 769.1M115.8 805.6L104.8 824.1M115.8 805.6L138 805.2M104.8 824.1L82.6 824.5M104.8 824.1L115.8 842.1M115.8 769.1L138 768.7M138 768.7L149 786.7M149 786.7L138 805.2M149 786.7L171.1 786.3M138 805.2L149 823.2M149 823.2L138 841.7M149 823.2L171.1 822.8M138 841.7L115.8 842.1M171.1 786.3L182.2 804.3M171.1 786.3L182.2 767.8M182.2 804.3L171.1 822.8M182.2 804.3L204.3 803.9M171.1 822.8L182.2 840.8M182.2 767.8L204.3 767.4M204.3 767.4L215.4 785.5M215.4 785.5L204.3 803.9M215.4 785.5L237.5 785M204.3 803.9L215.4 821.9M215.4 821.9L204.3 840.4M215.4 821.9L237.5 821.5M204.3 840.4L182.2 840.8M237.5 785L248.6 803.1M237.5 785L248.6 766.6M248.6 803.1L237.5 821.5M248.6 803.1L270.7 802.7M248.6 766.6L270.7 766.2M270.7 766.2L281.8 784.2M281.8 784.2L270.7 802.7M138 768.7L142.9 760.4M182.2 767.8L177.2 759.7M82.6 824.5L77.7 832.8M237.5 821.5L242.5 829.6M147.6 748.8L134.9 729.8M134.9 729.8L148.7 710.7M148.7 710.7L134.9 691.6M134.9 691.6L146.3 671M146.3 671L155.9 662.4M155.9 662.4L164.6 640.3M164.6 640.3L174.2 630.6M174.2 630.6L181.9 608.5M172 749.9L178.3 741.4M178.3 741.4L179.4 718.1M179.4 718.1L196.3 708.6M196.3 708.6L218.6 709.6M218.6 709.6L233.4 702.2M233.4 702.2L256.7 702.2M256.7 702.2L272.6 695.9M272.6 695.9L293.7 694.8" stroke="#c8a68c" stroke-width="0.9" fill="none"/>
<path d="M49.4 770.4L42.6 759.2M71.6 769.9L78.4 758.5M38.4 788.8L24.6 789.1M49.4 806.9L42.6 818.3M115.8 769.1L109 757.9M204.3 767.4L211.2 756M248.6 766.6L241.7 755.4M270.7 766.2L277.6 754.7M281.8 784.2L295.5 783.9M270.7 802.7L277.6 813.8M115.8 842.1L109 853.5M138 841.7L144.8 852.9M182.2 840.8L175.4 852.3M204.3 840.4L211.2 851.6M181.9 608.5L170.4 598.5M181.9 608.5L189.6 601.8M181.9 608.5L195.4 608.5M164.6 640.3L153 630.6M164.6 640.3L161.7 630.6M174.2 630.6L176 640.8M174.2 630.6L186.7 640.8M146.3 671L135.7 659.5M146.3 671L143.4 661.4M155.9 662.4L167.5 672M155.9 662.4L158.8 673M134.9 691.6L123.2 690.3M134.9 691.6L126 695M148.7 710.7L158.2 708.6M148.7 710.7L160.3 713.9M134.9 729.8L123.3 726.6M134.9 729.8L126.5 731.9M179.4 718.1L181.5 710.7M196.3 708.6L192.1 692.7M196.3 708.6L195.3 718.1M218.6 709.6L218.6 699M218.6 709.6L221.8 724.5M233.4 702.2L230.2 686.4M233.4 702.2L233.4 712.8M256.7 702.2L256.7 690.6M256.7 702.2L259.9 717M272.6 695.9L268.3 681M272.6 695.9L271.5 706.5M293.7 694.8L295.9 684.2M293.7 694.8L305.4 689.5M293.7 694.8L299 710.7M178.3 741.4L167.8 745.6M178.3 741.4L194.2 747.8" stroke="#c0a0a0" stroke-width="2.1" stroke-linecap="round" fill="none"/>
<path d="M49.4 770.4L42.6 759.2M71.6 769.9L78.4 758.5M38.4 788.8L24.6 789.1M49.4 806.9L42.6 818.3M115.8 769.1L109 757.9M204.3 767.4L211.2 756M248.6 766.6L241.7 755.4M270.7 766.2L277.6 754.7M281.8 784.2L295.5 783.9M270.7 802.7L277.6 813.8M115.8 842.1L109 853.5M138 841.7L144.8 852.9M182.2 840.8L175.4 852.3M204.3 840.4L211.2 851.6M181.9 608.5L170.4 598.5M181.9 608.5L189.6 601.8M181.9 608.5L195.4 608.5M164.6 640.3L153 630.6M164.6 640.3L161.7 630.6M174.2 630.6L176 640.8M174.2 630.6L186.7 640.8M146.3 671L135.7 659.5M146.3 671L143.4 661.4M155.9 662.4L167.5 672M155.9 662.4L158.8 673M134.9 691.6L123.2 690.3M134.9 691.6L126 695M148.7 710.7L158.2 708.6M148.7 710.7L160.3 713.9M134.9 729.8L123.3 726.6M134.9 729.8L126.5 731.9M179.4 718.1L181.5 710.7M196.3 708.6L192.1 692.7M196.3 708.6L195.3 718.1M218.6 709.6L218.6 699M218.6 709.6L221.8 724.5M233.4 702.2L230.2 686.4M233.4 702.2L233.4 712.8M256.7 702.2L256.7 690.6M256.7 702.2L259.9 717M272.6 695.9L268.3 681M272.6 695.9L271.5 706.5M293.7 694.8L295.9 684.2M293.7 694.8L305.4 689.5M293.7 694.8L299 710.7M178.3 741.4L167.8 745.6M178.3 741.4L194.2 747.8" stroke="#f4e4e4" stroke-width="0.7" fill="none"/>
<path d="M142.9 760.4L147.9 752.1M177.2 759.7L172.3 751.6M77.7 832.8L72.7 841.1M242.5 829.6L247.5 837.8" stroke="#d02020" stroke-width="2.8" stroke-linecap="round" fill="none"/>
<path d="M142.9 760.4L147.9 752.1M177.2 759.7L172.3 751.6M77.7 832.8L72.7 841.1M242.5 829.6L247.5 837.8" stroke="#ff8a8a" stroke-width="0.9" fill="none"/>
<circle cx="49.4" cy="770.4" r="4.4" fill="url(#gC)"/>
<circle cx="71.6" cy="769.9" r="4.4" fill="url(#gC)"/>
<circle cx="82.6" cy="788" r="4.4" fill="url(#gC)"/>
<circle cx="71.6" cy="806.4" r="4.4" fill="url(#gC)"/>
<circle cx="49.4" cy="806.9" r="4.4" fill="url(#gC)"/>
<circle cx="38.4" cy="788.8" r="4.4" fill="url(#gC)"/>
<circle cx="104.8" cy="787.6" r="4.4" fill="url(#gC)"/>
<circle cx="115.8" cy="805.6" r="4.4" fill="url(#gC)"/>
<circle cx="104.8" cy="824.1" r="4.4" fill="url(#gC)"/>
<circle cx="82.6" cy="824.5" r="4.4" fill="url(#gC)"/>
<circle cx="115.8" cy="769.1" r="4.4" fill="url(#gC)"/>
<circle cx="138" cy="768.7" r="4.4" fill="url(#gC)"/>
<circle cx="149" cy="786.7" r="4.4" fill="url(#gC)"/>
<circle cx="138" cy="805.2" r="4.4" fill="url(#gC)"/>
<circle cx="149" cy="823.2" r="4.4" fill="url(#gC)"/>
<circle cx="138" cy="841.7" r="4.4" fill="url(#gC)"/>
<circle cx="115.8" cy="842.1" r="4.4" fill="url(#gC)"/>
<circle cx="171.1" cy="786.3" r="4.4" fill="url(#gC)"/>
<circle cx="182.2" cy="804.3" r="4.4" fill="url(#gC)"/>
<circle cx="171.1" cy="822.8" r="4.4" fill="url(#gC)"/>
<circle cx="182.2" cy="767.8" r="4.4" fill="url(#gC)"/>
<circle cx="204.3" cy="767.4" r="4.4" fill="url(#gC)"/>
<circle cx="215.4" cy="785.5" r="4.4" fill="url(#gC)"/>
<circle cx="204.3" cy="803.9" r="4.4" fill="url(#gC)"/>
<circle cx="215.4" cy="821.9" r="4.4" fill="url(#gC)"/>
<circle cx="204.3" cy="840.4" r="4.4" fill="url(#gC)"/>
<circle cx="182.2" cy="840.8" r="4.4" fill="url(#gC)"/>
<circle cx="237.5" cy="785" r="4.4" fill="url(#gC)"/>
<circle cx="248.6" cy="803.1" r="4.4" fill="url(#gC)"/>
<circle cx="237.5" cy="821.5" r="4.4" fill="url(#gC)"/>
<circle cx="248.6" cy="766.6" r="4.4" fill="url(#gC)"/>
<circle cx="270.7" cy="766.2" r="4.4" fill="url(#gC)"/>
<circle cx="281.8" cy="784.2" r="4.4" fill="url(#gC)"/>
<circle cx="270.7" cy="802.7" r="4.4" fill="url(#gC)"/>
<circle cx="42.6" cy="759.2" r="2.9" fill="url(#gH)" stroke="#a07878" stroke-width="0.6"/>
<circle cx="78.4" cy="758.5" r="2.9" fill="url(#gH)" stroke="#a07878" stroke-width="0.6"/>
<circle cx="24.6" cy="789.1" r="2.9" fill="url(#gH)" stroke="#a07878" stroke-width="0.6"/>
<circle cx="42.6" cy="818.3" r="2.9" fill="url(#gH)" stroke="#a07878" stroke-width="0.6"/>
<circle cx="109" cy="757.9" r="2.9" fill="url(#gH)" stroke="#a07878" stroke-width="0.6"/>
<circle cx="211.2" cy="756" r="2.9" fill="url(#gH)" stroke="#a07878" stroke-width="0.6"/>
<circle cx="241.7" cy="755.4" r="2.9" fill="url(#gH)" stroke="#a07878" stroke-width="0.6"/>
<circle cx="277.6" cy="754.7" r="2.9" fill="url(#gH)" stroke="#a07878" stroke-width="0.6"/>
<circle cx="295.5" cy="783.9" r="2.9" fill="url(#gH)" stroke="#a07878" stroke-width="0.6"/>
<circle cx="277.6" cy="813.8" r="2.9" fill="url(#gH)" stroke="#a07878" stroke-width="0.6"/>
<circle cx="109" cy="853.5" r="2.9" fill="url(#gH)" stroke="#a07878" stroke-width="0.6"/>
<circle cx="144.8" cy="852.9" r="2.9" fill="url(#gH)" stroke="#a07878" stroke-width="0.6"/>
<circle cx="175.4" cy="852.3" r="2.9" fill="url(#gH)" stroke="#a07878" stroke-width="0.6"/>
<circle cx="211.2" cy="851.6" r="2.9" fill="url(#gH)" stroke="#a07878" stroke-width="0.6"/>
<circle cx="147.9" cy="752.1" r="4.7" fill="url(#gO)"/>
<circle cx="172.3" cy="751.6" r="4.7" fill="url(#gO)"/>
<circle cx="72.7" cy="841.1" r="4.7" fill="url(#gO)"/>
<circle cx="247.5" cy="837.8" r="4.7" fill="url(#gO)"/>
<circle cx="134.9" cy="729.8" r="4.4" fill="url(#gC)"/>
<circle cx="148.7" cy="710.7" r="4.4" fill="url(#gC)"/>
<circle cx="134.9" cy="691.6" r="4.4" fill="url(#gC)"/>
<circle cx="146.3" cy="671" r="4.4" fill="url(#gC)"/>
<circle cx="155.9" cy="662.4" r="4.4" fill="url(#gC)"/>
<circle cx="164.6" cy="640.3" r="4.4" fill="url(#gC)"/>
<circle cx="174.2" cy="630.6" r="4.4" fill="url(#gC)"/>
<circle cx="181.9" cy="608.5" r="4.4" fill="url(#gC)"/>
<circle cx="178.3" cy="741.4" r="4.4" fill="url(#gC)"/>
<circle cx="179.4" cy="718.1" r="4.4" fill="url(#gC)"/>
<circle cx="196.3" cy="708.6" r="4.4" fill="url(#gC)"/>
<circle cx="218.6" cy="709.6" r="4.4" fill="url(#gC)"/>
<circle cx="233.4" cy="702.2" r="4.4" fill="url(#gC)"/>
<circle cx="256.7" cy="702.2" r="4.4" fill="url(#gC)"/>
<circle cx="272.6" cy="695.9" r="4.4" fill="url(#gC)"/>
<circle cx="293.7" cy="694.8" r="4.4" fill="url(#gC)"/>
<circle cx="170.4" cy="598.5" r="2.9" fill="url(#gH)" stroke="#a07878" stroke-width="0.6"/>
<circle cx="189.6" cy="601.8" r="2.9" fill="url(#gH)" stroke="#a07878" stroke-width="0.6"/>
<circle cx="195.4" cy="608.5" r="2.9" fill="url(#gH)" stroke="#a07878" stroke-width="0.6"/>
<circle cx="153" cy="630.6" r="2.9" fill="url(#gH)" stroke="#a07878" stroke-width="0.6"/>
<circle cx="161.7" cy="630.6" r="2.9" fill="url(#gH)" stroke="#a07878" stroke-width="0.6"/>
<circle cx="176" cy="640.8" r="2.9" fill="url(#gH)" stroke="#a07878" stroke-width="0.6"/>
<circle cx="186.7" cy="640.8" r="2.9" fill="url(#gH)" stroke="#a07878" stroke-width="0.6"/>
<circle cx="135.7" cy="659.5" r="2.9" fill="url(#gH)" stroke="#a07878" stroke-width="0.6"/>
<circle cx="143.4" cy="661.4" r="2.9" fill="url(#gH)" stroke="#a07878" stroke-width="0.6"/>
<circle cx="167.5" cy="672" r="2.9" fill="url(#gH)" stroke="#a07878" stroke-width="0.6"/>
<circle cx="158.8" cy="673" r="2.9" fill="url(#gH)" stroke="#a07878" stroke-width="0.6"/>
<circle cx="123.2" cy="690.3" r="2.9" fill="url(#gH)" stroke="#a07878" stroke-width="0.6"/>
<circle cx="126" cy="695" r="2.9" fill="url(#gH)" stroke="#a07878" stroke-width="0.6"/>
<circle cx="158.2" cy="708.6" r="2.9" fill="url(#gH)" stroke="#a07878" stroke-width="0.6"/>
<circle cx="160.3" cy="713.9" r="2.9" fill="url(#gH)" stroke="#a07878" stroke-width="0.6"/>
<circle cx="123.3" cy="726.6" r="2.9" fill="url(#gH)" stroke="#a07878" stroke-width="0.6"/>
<circle cx="126.5" cy="731.9" r="2.9" fill="url(#gH)" stroke="#a07878" stroke-width="0.6"/>
<circle cx="181.5" cy="710.7" r="2.9" fill="url(#gH)" stroke="#a07878" stroke-width="0.6"/>
<circle cx="192.1" cy="692.7" r="2.9" fill="url(#gH)" stroke="#a07878" stroke-width="0.6"/>
<circle cx="195.3" cy="718.1" r="2.9" fill="url(#gH)" stroke="#a07878" stroke-width="0.6"/>
<circle cx="218.6" cy="699" r="2.9" fill="url(#gH)" stroke="#a07878" stroke-width="0.6"/>
<circle cx="221.8" cy="724.5" r="2.9" fill="url(#gH)" stroke="#a07878" stroke-width="0.6"/>
<circle cx="230.2" cy="686.4" r="2.9" fill="url(#gH)" stroke="#a07878" stroke-width="0.6"/>
<circle cx="233.4" cy="712.8" r="2.9" fill="url(#gH)" stroke="#a07878" stroke-width="0.6"/>
<circle cx="256.7" cy="690.6" r="2.9" fill="url(#gH)" stroke="#a07878" stroke-width="0.6"/>
<circle cx="259.9" cy="717" r="2.9" fill="url(#gH)" stroke="#a07878" stroke-width="0.6"/>
<circle cx="268.3" cy="681" r="2.9" fill="url(#gH)" stroke="#a07878" stroke-width="0.6"/>
<circle cx="271.5" cy="706.5" r="2.9" fill="url(#gH)" stroke="#a07878" stroke-width="0.6"/>
<circle cx="295.9" cy="684.2" r="2.9" fill="url(#gH)" stroke="#a07878" stroke-width="0.6"/>
<circle cx="305.4" cy="689.5" r="2.9" fill="url(#gH)" stroke="#a07878" stroke-width="0.6"/>
<circle cx="299" cy="710.7" r="2.9" fill="url(#gH)" stroke="#a07878" stroke-width="0.6"/>
<circle cx="167.8" cy="745.6" r="2.9" fill="url(#gH)" stroke="#a07878" stroke-width="0.6"/>
<circle cx="194.2" cy="747.8" r="2.9" fill="url(#gH)" stroke="#a07878" stroke-width="0.6"/>
<path d="M494.6 733.5L517.4 733.5M494.6 733.5L483.2 753M517.4 733.5L528.8 753M528.8 753L517.4 772.5M528.8 753L551.6 753M517.4 772.5L494.6 772.5M517.4 772.5L528.8 792M494.6 772.5L483.2 753M551.6 753L563 772.5M551.6 753L563 733.5M563 772.5L551.6 792M563 772.5L585.7 772.5M551.6 792L528.8 792M551.6 792L563 811.5M563 733.5L585.7 733.5M585.7 733.5L597.1 753M597.1 753L585.7 772.5M597.1 753L619.9 753M585.7 772.5L597.1 792M597.1 792L585.7 811.5M597.1 792L619.9 792M585.7 811.5L563 811.5M619.9 753L631.3 772.5M619.9 753L631.3 733.5M631.3 772.5L619.9 792M631.3 772.5L654.1 772.5M619.9 792L631.3 811.5M631.3 733.5L654.1 733.5M654.1 733.5L665.5 753M665.5 753L654.1 772.5M665.5 753L688.2 753M654.1 772.5L665.5 792M665.5 792L654.1 811.5M665.5 792L688.2 792M654.1 811.5L631.3 811.5M688.2 753L699.6 772.5M688.2 753L699.6 733.5M699.6 772.5L688.2 792M699.6 772.5L722.4 772.5M699.6 733.5L722.4 733.5M722.4 733.5L733.8 753M733.8 753L722.4 772.5M585.7 733.5L590.9 724.7M631.3 733.5L626.2 724.7M528.8 792L523.7 800.7M688.2 792L693.4 800.7" stroke="#7a5a44" stroke-width="3" stroke-linecap="round" fill="none"/>
<path d="M494.6 733.5L517.4 733.5M494.6 733.5L483.2 753M517.4 733.5L528.8 753M528.8 753L517.4 772.5M528.8 753L551.6 753M517.4 772.5L494.6 772.5M517.4 772.5L528.8 792M494.6 772.5L483.2 753M551.6 753L563 772.5M551.6 753L563 733.5M563 772.5L551.6 792M563 772.5L585.7 772.5M551.6 792L528.8 792M551.6 792L563 811.5M563 733.5L585.7 733.5M585.7 733.5L597.1 753M597.1 753L585.7 772.5M597.1 753L619.9 753M585.7 772.5L597.1 792M597.1 792L585.7 811.5M597.1 792L619.9 792M585.7 811.5L563 811.5M619.9 753L631.3 772.5M619.9 753L631.3 733.5M631.3 772.5L619.9 792M631.3 772.5L654.1 772.5M619.9 792L631.3 811.5M631.3 733.5L654.1 733.5M654.1 733.5L665.5 753M665.5 753L654.1 772.5M665.5 753L688.2 753M654.1 772.5L665.5 792M665.5 792L654.1 811.5M665.5 792L688.2 792M654.1 811.5L631.3 811.5M688.2 753L699.6 772.5M688.2 753L699.6 733.5M699.6 772.5L688.2 792M699.6 772.5L722.4 772.5M699.6 733.5L722.4 733.5M722.4 733.5L733.8 753M733.8 753L722.4 772.5M585.7 733.5L590.9 724.7M631.3 733.5L626.2 724.7M528.8 792L523.7 800.7M688.2 792L693.4 800.7" stroke="#c8a68c" stroke-width="1" fill="none"/>
<path d="M494.6 733.5L487.5 721.4M517.4 733.5L524.5 721.4M483.2 753L469.1 753M494.6 772.5L487.5 784.6M563 733.5L555.9 721.4M654.1 733.5L661.1 721.4M699.6 733.5L692.6 721.4M722.4 733.5L729.5 721.4M733.8 753L747.9 753M722.4 772.5L729.5 784.6M563 811.5L555.9 823.5M585.7 811.5L592.8 823.5M631.3 811.5L624.2 823.5M654.1 811.5L661.1 823.5" stroke="#c0a0a0" stroke-width="2.2" stroke-linecap="round" fill="none"/>
<path d="M494.6 733.5L487.5 721.4M517.4 733.5L524.5 721.4M483.2 753L469.1 753M494.6 772.5L487.5 784.6M563 733.5L555.9 721.4M654.1 733.5L661.1 721.4M699.6 733.5L692.6 721.4M722.4 733.5L729.5 721.4M733.8 753L747.9 753M722.4 772.5L729.5 784.6M563 811.5L555.9 823.5M585.7 811.5L592.8 823.5M631.3 811.5L624.2 823.5M654.1 811.5L661.1 823.5" stroke="#f4e4e4" stroke-width="0.7" fill="none"/>
<path d="M590.9 724.7L596 716M626.2 724.7L621 716M523.7 800.7L518.5 809.5M693.4 800.7L698.5 809.5" stroke="#d02020" stroke-width="3" stroke-linecap="round" fill="none"/>
<path d="M590.9 724.7L596 716M626.2 724.7L621 716M523.7 800.7L518.5 809.5M693.4 800.7L698.5 809.5" stroke="#ff8a8a" stroke-width="1" fill="none"/>
<path d="M596 716L585 705.4M621 716L631.2 703.1M518.5 809.5L503.3 826.7M698.5 809.5L705.5 830.2" stroke="#a0a0a0" stroke-width="3" stroke-linecap="round" fill="none"/>
<path d="M596 716L585 705.4M621 716L631.2 703.1M518.5 809.5L503.3 826.7M698.5 809.5L705.5 830.2" stroke="#e0e0e0" stroke-width="1" fill="none"/>
<circle cx="494.6" cy="733.5" r="4.6" fill="url(#gC)"/>
<circle cx="517.4" cy="733.5" r="4.6" fill="url(#gC)"/>
<circle cx="528.8" cy="753" r="4.6" fill="url(#gC)"/>
<circle cx="517.4" cy="772.5" r="4.6" fill="url(#gC)"/>
<circle cx="494.6" cy="772.5" r="4.6" fill="url(#gC)"/>
<circle cx="483.2" cy="753" r="4.6" fill="url(#gC)"/>
<circle cx="551.6" cy="753" r="4.6" fill="url(#gC)"/>
<circle cx="563" cy="772.5" r="4.6" fill="url(#gC)"/>
<circle cx="551.6" cy="792" r="4.6" fill="url(#gC)"/>
<circle cx="528.8" cy="792" r="4.6" fill="url(#gC)"/>
<circle cx="563" cy="733.5" r="4.6" fill="url(#gC)"/>
<circle cx="585.7" cy="733.5" r="4.6" fill="url(#gC)"/>
<circle cx="597.1" cy="753" r="4.6" fill="url(#gC)"/>
<circle cx="585.7" cy="772.5" r="4.6" fill="url(#gC)"/>
<circle cx="597.1" cy="792" r="4.6" fill="url(#gC)"/>
<circle cx="585.7" cy="811.5" r="4.6" fill="url(#gC)"/>
<circle cx="563" cy="811.5" r="4.6" fill="url(#gC)"/>
<circle cx="619.9" cy="753" r="4.6" fill="url(#gC)"/>
<circle cx="631.3" cy="772.5" r="4.6" fill="url(#gC)"/>
<circle cx="619.9" cy="792" r="4.6" fill="url(#gC)"/>
<circle cx="631.3" cy="733.5" r="4.6" fill="url(#gC)"/>
<circle cx="654.1" cy="733.5" r="4.6" fill="url(#gC)"/>
<circle cx="665.5" cy="753" r="4.6" fill="url(#gC)"/>
<circle cx="654.1" cy="772.5" r="4.6" fill="url(#gC)"/>
<circle cx="665.5" cy="792" r="4.6" fill="url(#gC)"/>
<circle cx="654.1" cy="811.5" r="4.6" fill="url(#gC)"/>
<circle cx="631.3" cy="811.5" r="4.6" fill="url(#gC)"/>
<circle cx="688.2" cy="753" r="4.6" fill="url(#gC)"/>
<circle cx="699.6" cy="772.5" r="4.6" fill="url(#gC)"/>
<circle cx="688.2" cy="792" r="4.6" fill="url(#gC)"/>
<circle cx="699.6" cy="733.5" r="4.6" fill="url(#gC)"/>
<circle cx="722.4" cy="733.5" r="4.6" fill="url(#gC)"/>
<circle cx="733.8" cy="753" r="4.6" fill="url(#gC)"/>
<circle cx="722.4" cy="772.5" r="4.6" fill="url(#gC)"/>
<circle cx="487.5" cy="721.4" r="2.7" fill="url(#gH)" stroke="#a07878" stroke-width="0.6"/>
<circle cx="524.5" cy="721.4" r="2.7" fill="url(#gH)" stroke="#a07878" stroke-width="0.6"/>
<circle cx="469.1" cy="753" r="2.7" fill="url(#gH)" stroke="#a07878" stroke-width="0.6"/>
<circle cx="487.5" cy="784.6" r="2.7" fill="url(#gH)" stroke="#a07878" stroke-width="0.6"/>
<circle cx="555.9" cy="721.4" r="2.7" fill="url(#gH)" stroke="#a07878" stroke-width="0.6"/>
<circle cx="661.1" cy="721.4" r="2.7" fill="url(#gH)" stroke="#a07878" stroke-width="0.6"/>
<circle cx="692.6" cy="721.4" r="2.7" fill="url(#gH)" stroke="#a07878" stroke-width="0.6"/>
<circle cx="729.5" cy="721.4" r="2.7" fill="url(#gH)" stroke="#a07878" stroke-width="0.6"/>
<circle cx="747.9" cy="753" r="2.7" fill="url(#gH)" stroke="#a07878" stroke-width="0.6"/>
<circle cx="729.5" cy="784.6" r="2.7" fill="url(#gH)" stroke="#a07878" stroke-width="0.6"/>
<circle cx="555.9" cy="823.5" r="2.7" fill="url(#gH)" stroke="#a07878" stroke-width="0.6"/>
<circle cx="592.8" cy="823.5" r="2.7" fill="url(#gH)" stroke="#a07878" stroke-width="0.6"/>
<circle cx="624.2" cy="823.5" r="2.7" fill="url(#gH)" stroke="#a07878" stroke-width="0.6"/>
<circle cx="661.1" cy="823.5" r="2.7" fill="url(#gH)" stroke="#a07878" stroke-width="0.6"/>
<circle cx="596" cy="716" r="4.8" fill="url(#gO)"/>
<circle cx="621" cy="716" r="4.8" fill="url(#gO)"/>
<circle cx="518.5" cy="809.5" r="4.8" fill="url(#gO)"/>
<circle cx="698.5" cy="809.5" r="4.8" fill="url(#gO)"/>
<circle cx="585" cy="705.4" r="9" fill="url(#gLi)"/>
<circle cx="631.2" cy="703.1" r="9" fill="url(#gLi)"/>
<circle cx="503.3" cy="826.7" r="9" fill="url(#gLi)"/>
<circle cx="705.5" cy="830.2" r="9" fill="url(#gLi)"/>
<circle cx="369.7" cy="767" r="9.2" fill="url(#gLi)"/>
<line x1="397.2" y1="770.5" x2="426.8" y2="770.5" stroke="#000" stroke-width="2.8"/>
<polygon points="446.3,770.5 426.8,776.7 426.8,764.3" fill="#000"/>
<line x1="118.4" y1="597" x2="148" y2="597" stroke="#000" stroke-width="2.6"/>
<polygon points="166.5,597 148,602 148,592" fill="#000"/>
<line x1="109.7" y1="639.7" x2="138.8" y2="639.7" stroke="#000" stroke-width="2.6"/>
<polygon points="159.8,639.7 138.8,644.7 138.8,634.7" fill="#000"/>
<line x1="304" y1="839" x2="276.5" y2="839" stroke="#000" stroke-width="2.6"/>
<polygon points="258,839 276.5,834 276.5,844" fill="#000"/>
<line x1="125.2" y1="143.3" x2="146.2" y2="138" stroke="#000" stroke-width="1.4"/>
<polygon points="154,136.1 147,141 145.5,135.1" fill="#000"/>
<line x1="454" y1="65.8" x2="475.2" y2="60.5" stroke="#000" stroke-width="1.4"/>
<polygon points="483,58.5 476,63.4 474.5,57.5" fill="#000"/>
<line x1="855.3" y1="340" x2="855.3" y2="365" stroke="#000" stroke-width="1.4"/>
<polygon points="855.3,376 852.1,365 858.5,365" fill="#000"/>
<text x="12.5" y="25" font-size="37" fill="#000" >a</text>
<text x="14" y="307.5" font-size="36.5" fill="#000" >b</text>
<text x="15" y="606.4" font-size="36.5" fill="#000" >c</text>
<text x="702" y="28" font-size="25.2" fill="#000" >DHV-rich multi-layered SEI</text>
<text x="653.3" y="102.3" font-size="24.8" fill="#000" >SEI</text>
<text x="790" y="177" font-size="25.3" fill="#000" >Li metal anode</text>
<text x="140.5" y="130.6" font-size="25.3" fill="#000" >VO79</text>
<text x="467" y="50.4" font-size="24.5" fill="#000" >C<tspan font-size="15" dx="1" dy="8">8</tspan><tspan dx="-0.8" dy="-8">H</tspan><tspan font-size="15" dx="0.3" dy="8">16</tspan></text>
<text x="101" y="247" font-size="25.3" fill="#000" >Cu foil</text>
<text x="252" y="220" font-size="25" fill="#000" >uniform growth</text>
<text x="439" y="247.2" font-size="25.3" fill="#000" letter-spacing="0.3">DHV-Li</text>
<text x="212" y="368.2" font-size="22.5" fill="#000" >Li<tspan font-size="15" dy="-9">+</tspan></text>
<text x="104" y="568.6" font-size="25.3" fill="#000" >Cu foil</text>
<text x="241" y="544.5" font-size="25.3" fill="#000" >dendritic growth</text>
<text x="424" y="566" font-size="25.3" fill="#000" >Li dendrites</text>
<text x="643.8" y="422.6" font-size="24.8" fill="#000" >SEI</text>
<text x="793" y="339.8" font-size="25" fill="#000" >Li dendrites</text>
<text x="94.5" y="605.6" font-size="25.3" fill="#000" >H</text>
<text x="88.5" y="647" font-size="25.3" fill="#000" >C</text>
<text x="310" y="846.4" font-size="25.3" fill="#000" >O</text>
<text x="319" y="774.5" font-size="25.5" fill="#000" font-weight="bold" >+</text>
<text x="340.8" y="775.6" font-size="26.3" fill="#000" >4</text>
<text x="357" y="886.8" font-size="25.3" fill="#000" >Li</text>
<text x="125.5" y="886.8" font-size="25.3" fill="#000" >VO79</text>
<text x="566" y="886.8" font-size="25.3" fill="#000" letter-spacing="0.2">DHV-Li</text>
<text x="786.5" y="782" font-size="25.3" fill="#000" >+ 2 C<tspan font-size="14" dy="7">8</tspan><tspan dy="-7">H</tspan><tspan font-size="14" dy="7">16</tspan></text>
<text x="895.5" y="781" font-size="28.5" fill="#000" font-weight="bold" >+</text>
<text x="920.5" y="777.5" font-size="24.5" fill="#000" >H<tspan font-size="14" dy="9">2</tspan></text>
<text x="143" y="198" font-size="25" fill="#ee5a14" >e<tspan font-size="14" dy="-11">-</tspan></text>
<text x="496" y="201" font-size="25" fill="#ee5a14" >e<tspan font-size="14" dy="-11">-</tspan></text>
<text x="138" y="525" font-size="25" fill="#ee5a14" >e<tspan font-size="14" dy="-11">-</tspan></text>
<text x="488" y="523.5" font-size="25" fill="#ee5a14" >e<tspan font-size="14" dy="-11">-</tspan></text>
</svg></body></html>
